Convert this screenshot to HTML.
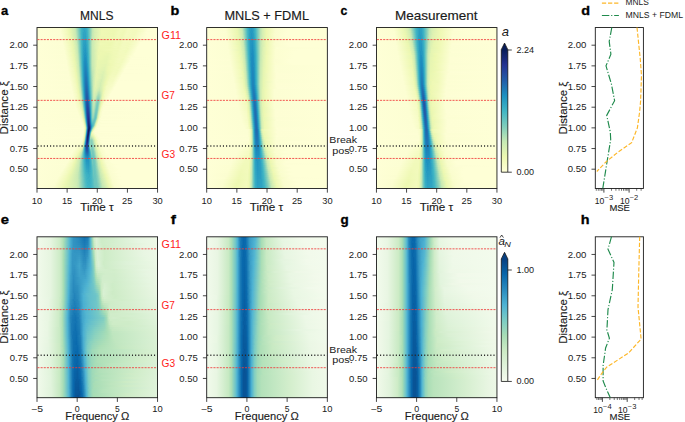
<!DOCTYPE html><html><head><meta charset="utf-8"><style>
html,body{margin:0;padding:0;background:#fff;width:685px;height:422px;overflow:hidden}
#wrap{position:relative;width:685px;height:422px}
.hm{position:absolute;overflow:hidden}
svg{position:absolute;left:0;top:0}
text{font-family:"Liberation Sans",sans-serif;fill:#1a1a1a;stroke:#1a1a1a;stroke-width:0px}
</style></head><body><div id="wrap">
<div class="hm" style="left:37px;top:27px;width:121px;height:161px"><div style="height:1px;background:linear-gradient(90deg,#feffd6 0.5px,#fcfed3 22.5px,#f4fbc0 28.5px,#edf8b1 31.5px,#d4eeb3 36.5px,#c2e7b4 38.5px,#52bcc2 43.5px,#40b5c4 44.5px,#33a7c2 46.5px,#3aaec3 49.5px,#46b8c3 50.5px,#71c8bd 52.5px,#c0e6b5 55.5px,#d4eeb3 57.5px,#eef8b3 64.5px,#eef8b3 78.5px,#f1fabb 83.5px,#f0f9b7 88.5px,#f4fbc1 91.5px,#f4fbc1 97.5px,#f2fabc 100.5px,#f7fcc6 104.5px,#f8fcca 107.5px,#feffd6 112.5px,#feffd6 120.5px)"></div><div style="height:1px;background:linear-gradient(90deg,#feffd6 0.5px,#fdfed4 22.5px,#f4fbc1 28.5px,#e9f7b1 32.5px,#ceecb3 37.5px,#c2e7b4 38.5px,#40b5c4 44.5px,#31a5c2 47.5px,#3aaec3 49.5px,#44b7c4 50.5px,#8cd2ba 53.5px,#c0e6b5 55.5px,#ceecb3 56.5px,#eef8b3 64.5px,#eff9b5 78.5px,#f1fabb 84.5px,#f0f9b8 88.5px,#f4fbc0 91.5px,#f4fbc0 97.5px,#f3fabd 100.5px,#f7fcc6 103.5px,#f9fdcc 107.5px,#feffd6 112.5px,#feffd6 120.5px)"></div><div style="height:1px;background:linear-gradient(90deg,#feffd6 0.5px,#fcfed3 23.5px,#eaf7b1 32.5px,#cfecb3 37.5px,#c4e8b4 38.5px,#40b5c4 44.5px,#32a6c2 46.5px,#39adc3 49.5px,#44b7c4 50.5px,#8cd2ba 53.5px,#c2e7b4 55.5px,#d5efb3 57.5px,#eef8b3 64.5px,#eff9b5 78.5px,#f1fabb 83.5px,#f1faba 88.5px,#f4fbc0 91.5px,#f3fabf 97.5px,#f3fabf 100.5px,#f6fbc5 104.5px,#fdfed5 110.5px,#feffd6 120.5px)"></div><div style="height:1px;background:linear-gradient(90deg,#feffd6 0.5px,#fcfed3 23.5px,#f1faba 30.5px,#e7f6b1 33.5px,#d0edb3 37.5px,#c6e9b4 38.5px,#9cd8b8 40.5px,#53bdc1 43.5px,#40b5c4 44.5px,#2fa4c2 47.5px,#39adc3 49.5px,#42b6c4 50.5px,#8cd2ba 53.5px,#c2e7b4 55.5px,#d5efb3 57.5px,#eff9b5 64.5px,#edf8b2 77.5px,#f1fabb 83.5px,#f0f9b7 87.5px,#f4fbc0 90.5px,#f3fabd 97.5px,#f3fabd 99.5px,#f7fcc6 102.5px,#f9fdcc 106.5px,#feffd6 110.5px,#feffd6 120.5px)"></div><div style="height:1px;background:linear-gradient(90deg,#feffd6 0.5px,#fcfed3 23.5px,#f1faba 30.5px,#e8f6b1 33.5px,#d1edb3 37.5px,#c8e9b4 38.5px,#9ed9b8 40.5px,#55bec1 43.5px,#40b5c4 44.5px,#2fa4c2 47.5px,#37acc3 49.5px,#42b6c4 50.5px,#8cd2ba 53.5px,#c2e7b4 55.5px,#d5efb3 57.5px,#eff9b5 64.5px,#eef8b3 77.5px,#f1fabb 82.5px,#f0f9b8 87.5px,#f4fbc0 90.5px,#f3fabf 96.5px,#f3fabf 99.5px,#f8fcca 105.5px,#fdfed5 109.5px,#feffd6 120.5px)"></div><div style="height:1px;background:linear-gradient(90deg,#feffd6 0.5px,#fcfed3 23.5px,#f4fbc0 29.5px,#edf8b1 32.5px,#d1edb3 37.5px,#c9eab4 38.5px,#a0dab8 40.5px,#40b5c4 44.5px,#31a5c2 46.5px,#31a5c2 48.5px,#40b5c4 50.5px,#8cd2ba 53.5px,#c2e7b4 55.5px,#cfecb3 56.5px,#eff9b5 64.5px,#eef8b3 77.5px,#f1faba 81.5px,#f0f9b7 86.5px,#f4fbc0 90.5px,#f3fabd 96.5px,#f3fabd 98.5px,#f6fbc5 101.5px,#f9fdcc 105.5px,#feffd6 109.5px,#feffd6 120.5px)"></div><div style="height:1px;background:linear-gradient(90deg,#feffd6 0.5px,#fdfed4 23.5px,#f0f9b7 31.5px,#e5f5b2 34.5px,#caeab4 38.5px,#a2dbb8 40.5px,#55bec1 43.5px,#40b5c4 44.5px,#31a5c2 46.5px,#2fa4c2 48.5px,#40b5c4 50.5px,#71c8bd 52.5px,#c4e8b4 55.5px,#d6efb3 57.5px,#eff9b5 64.5px,#edf8b2 76.5px,#f1faba 81.5px,#f0f9b8 86.5px,#f4fbc0 89.5px,#f3fabf 95.5px,#f3fabf 98.5px,#fafdcf 105.5px,#feffd6 110.5px,#feffd6 120.5px)"></div><div style="height:1px;background:linear-gradient(90deg,#feffd6 0.5px,#fcfed3 24.5px,#eaf7b1 33.5px,#cbebb4 38.5px,#bbe4b5 39.5px,#40b5c4 44.5px,#2fa4c2 46.5px,#2fa4c2 48.5px,#3fb4c4 50.5px,#71c8bd 52.5px,#c4e8b4 55.5px,#d6efb3 57.5px,#eff9b5 64.5px,#edf8b2 76.5px,#f1faba 81.5px,#eff9b6 85.5px,#f4fbc0 89.5px,#f3fabd 95.5px,#f3fabd 97.5px,#fafdce 104.5px,#feffd6 110.5px,#feffd6 120.5px)"></div><div style="height:1px;background:linear-gradient(90deg,#feffd6 0.5px,#fcfed3 24.5px,#f3fabd 30.5px,#ecf7b1 33.5px,#cdebb4 38.5px,#bde5b5 39.5px,#42b6c4 44.5px,#2fa4c2 46.5px,#2ea3c2 48.5px,#3fb4c4 50.5px,#71c8bd 52.5px,#c4e8b4 55.5px,#d6efb3 57.5px,#eff9b5 64.5px,#eef8b3 76.5px,#f1faba 80.5px,#f0f9b7 85.5px,#f4fbc0 88.5px,#f3fabf 94.5px,#f3fabf 97.5px,#fafdcf 104.5px,#feffd6 109.5px,#feffd6 120.5px)"></div><div style="height:1px;background:linear-gradient(90deg,#feffd6 0.5px,#fcfed3 24.5px,#f1faba 31.5px,#e8f6b1 34.5px,#ceecb3 38.5px,#c0e6b5 39.5px,#59bfc0 43.5px,#42b6c4 44.5px,#2fa4c2 46.5px,#2da2c2 48.5px,#3eb3c4 50.5px,#6fc7bd 52.5px,#aedfb6 54.5px,#c6e9b4 55.5px,#dbf1b2 58.5px,#eef8b3 63.5px,#eef8b3 76.5px,#f1faba 80.5px,#f0f9b8 85.5px,#f4fbc0 88.5px,#f3fabd 94.5px,#f4fbc0 97.5px,#fafdce 103.5px,#feffd6 109.5px,#feffd6 120.5px)"></div><div style="height:1px;background:linear-gradient(90deg,#feffd6 0.5px,#fcfed3 24.5px,#f4fbc0 30.5px,#edf8b1 33.5px,#d7efb3 37.5px,#c2e7b4 39.5px,#8ed3ba 41.5px,#42b6c4 44.5px,#2ea3c2 46.5px,#2da2c2 48.5px,#3eb3c4 50.5px,#6fc7bd 52.5px,#aedfb6 54.5px,#c6e9b4 55.5px,#dbf1b2 58.5px,#eef8b3 63.5px,#eff9b5 76.5px,#f1faba 81.5px,#eff9b6 84.5px,#f3fabf 88.5px,#f3fabf 93.5px,#f1fabb 95.5px,#f6fbc5 99.5px,#fbfdd0 103.5px,#feffd6 109.5px,#feffd6 120.5px)"></div><div style="height:1px;background:linear-gradient(90deg,#feffd6 0.5px,#fdfed4 24.5px,#f0f9b7 32.5px,#e5f5b2 35.5px,#d0edb3 38.5px,#c4e8b4 39.5px,#90d4b9 41.5px,#42b6c4 44.5px,#2ea3c2 46.5px,#2ca1c2 48.5px,#3db2c4 50.5px,#6fc7bd 52.5px,#c8e9b4 55.5px,#dbf1b2 58.5px,#eef8b3 63.5px,#edf8b2 75.5px,#f1faba 80.5px,#f0f9b7 84.5px,#f4fbc0 87.5px,#f3fabd 93.5px,#f4fbc0 96.5px,#fafdce 102.5px,#feffd6 108.5px,#feffd6 120.5px)"></div><div style="height:1px;background:linear-gradient(90deg,#feffd6 0.5px,#fcfed3 25.5px,#eaf7b1 34.5px,#d1edb3 38.5px,#c6e9b4 39.5px,#92d5b9 41.5px,#42b6c4 44.5px,#2da2c2 46.5px,#2b9fc2 48.5px,#3db2c4 50.5px,#6fc7bd 52.5px,#b0e0b6 54.5px,#c8e9b4 55.5px,#dbf1b2 58.5px,#eef8b3 63.5px,#eef8b3 75.5px,#f1faba 80.5px,#f0f9b8 84.5px,#f4fbc0 87.5px,#f3fabf 92.5px,#f3fabd 95.5px,#f6fbc5 98.5px,#fbfdd0 102.5px,#feffd6 108.5px,#feffd6 120.5px)"></div><div style="height:1px;background:linear-gradient(90deg,#feffd6 0.5px,#fcfed3 25.5px,#ecf7b1 34.5px,#d3eeb3 38.5px,#c8e9b4 39.5px,#b2e1b6 40.5px,#44b7c4 44.5px,#2da2c2 46.5px,#2b9fc2 48.5px,#3cb1c3 50.5px,#52bcc2 51.5px,#b0e0b6 54.5px,#c8e9b4 55.5px,#dcf1b2 58.5px,#eef8b3 63.5px,#eef8b3 75.5px,#f1faba 79.5px,#eff9b6 83.5px,#f3fabf 87.5px,#f3fabd 92.5px,#f4fbc0 95.5px,#f8fcca 100.5px,#feffd6 104.5px,#feffd6 120.5px)"></div><div style="height:1px;background:linear-gradient(90deg,#feffd6 0.5px,#fcfed3 25.5px,#f1faba 32.5px,#e8f6b1 35.5px,#caeab4 39.5px,#b4e2b6 40.5px,#44b7c4 44.5px,#2da2c2 46.5px,#2a9ec1 48.5px,#3cb1c3 50.5px,#52bcc2 51.5px,#b0e0b6 54.5px,#c9eab4 55.5px,#dcf1b2 58.5px,#eef8b3 63.5px,#eff9b5 75.5px,#f1faba 80.5px,#f0f9b7 83.5px,#f4fbc0 86.5px,#f4fbc0 91.5px,#f3fabd 94.5px,#f6fbc5 97.5px,#fbfdd0 101.5px,#feffd6 107.5px,#feffd6 120.5px)"></div><div style="height:1px;background:linear-gradient(90deg,#feffd6 0.5px,#fcfed3 25.5px,#eff9b6 33.5px,#e3f4b2 36.5px,#cbebb4 39.5px,#9cd8b8 41.5px,#44b7c4 44.5px,#2da2c2 46.5px,#2a9ec1 48.5px,#3bb0c3 50.5px,#6fc7bd 52.5px,#b2e1b6 54.5px,#c9eab4 55.5px,#dcf1b2 58.5px,#eef8b3 63.5px,#edf8b2 74.5px,#f1faba 79.5px,#f0f9b8 83.5px,#f3fabf 86.5px,#f3fabd 91.5px,#f4fbc0 94.5px,#f8fcca 99.5px,#feffd6 103.5px,#feffd6 120.5px)"></div><div style="height:1px;background:linear-gradient(90deg,#feffd6 0.5px,#fdfed4 25.5px,#f0f9b7 33.5px,#e5f5b2 36.5px,#cdebb4 39.5px,#b9e4b5 40.5px,#46b8c3 44.5px,#2ca1c2 46.5px,#299dc1 48.5px,#3bb0c3 50.5px,#6fc7bd 52.5px,#b2e1b6 54.5px,#caeab4 55.5px,#e6f5b2 60.5px,#eff9b5 63.5px,#edf8b1 73.5px,#f1faba 79.5px,#eff9b6 82.5px,#f3fabf 86.5px,#f2fabc 91.5px,#f9fdcc 99.5px,#feffd6 103.5px,#feffd6 120.5px)"></div><div style="height:1px;background:linear-gradient(90deg,#feffd6 0.5px,#fdfed4 25.5px,#f4fbc1 31.5px,#eaf7b1 35.5px,#d7efb3 38.5px,#bde5b5 40.5px,#46b8c3 44.5px,#2ca1c2 46.5px,#289cc1 48.5px,#3aaec3 50.5px,#50bbc2 51.5px,#b2e1b6 54.5px,#caeab4 55.5px,#ddf2b2 58.5px,#eff9b5 63.5px,#edf8b1 73.5px,#f1faba 78.5px,#f0f9b7 82.5px,#f3fabf 85.5px,#f3fabf 90.5px,#f2fabc 92.5px,#f6fbc5 96.5px,#feffd6 102.5px,#feffd6 120.5px)"></div><div style="height:1px;background:linear-gradient(90deg,#feffd6 0.5px,#fcfed3 26.5px,#ecf7b1 35.5px,#d9f0b3 38.5px,#c0e6b5 40.5px,#48b9c3 44.5px,#36abc3 45.5px,#269bc1 47.5px,#2da2c2 49.5px,#3aaec3 50.5px,#50bbc2 51.5px,#b4e2b6 54.5px,#caeab4 55.5px,#ddf2b2 58.5px,#eef8b3 63.5px,#edf8b1 73.5px,#f1faba 78.5px,#f0f9b8 82.5px,#f3fabf 85.5px,#f2fabc 90.5px,#f9fdcc 98.5px,#feffd6 102.5px,#feffd6 120.5px)"></div><div style="height:1px;background:linear-gradient(90deg,#feffd6 0.5px,#fcfed3 26.5px,#f1faba 33.5px,#e7f6b1 36.5px,#d0edb3 39.5px,#c0e6b5 40.5px,#48b9c3 44.5px,#2b9fc2 46.5px,#269bc1 48.5px,#39adc3 50.5px,#4ebbc2 51.5px,#b2e1b6 54.5px,#caeab4 55.5px,#ddf2b2 58.5px,#edf8b2 62.5px,#eff9b5 74.5px,#f0f9b8 78.5px,#f1faba 82.5px,#f4fbc0 88.5px,#f2fabc 91.5px,#f6fbc5 95.5px,#feffd6 101.5px,#feffd6 120.5px)"></div><div style="height:1px;background:linear-gradient(90deg,#feffd6 0.5px,#fcfed3 26.5px,#f1faba 33.5px,#e8f6b1 36.5px,#d0edb3 39.5px,#c2e7b4 40.5px,#48b9c3 44.5px,#2b9fc2 46.5px,#259ac1 48.5px,#37acc3 50.5px,#4ebbc2 51.5px,#b2e1b6 54.5px,#caeab4 55.5px,#ddf2b2 58.5px,#edf8b2 62.5px,#edf8b2 73.5px,#f1faba 77.5px,#f0f9b7 81.5px,#f3fabf 84.5px,#f2fabc 89.5px,#f8fcc9 96.5px,#feffd6 100.5px,#feffd6 120.5px)"></div><div style="height:1px;background:linear-gradient(90deg,#feffd6 0.5px,#fcfed3 26.5px,#f4fbc0 32.5px,#edf8b1 35.5px,#d1edb3 39.5px,#c4e8b4 40.5px,#48b9c3 44.5px,#2a9ec1 46.5px,#2498c1 48.5px,#36abc3 50.5px,#4cbac2 51.5px,#b2e1b6 54.5px,#caeab4 55.5px,#ddf2b2 58.5px,#edf8b2 62.5px,#eef8b3 73.5px,#f0f9b8 78.5px,#f0f9b8 81.5px,#f3fabd 84.5px,#f3fabf 88.5px,#f1fabb 90.5px,#f9fdcb 96.5px,#feffd6 100.5px,#feffd6 120.5px)"></div><div style="height:1px;background:linear-gradient(90deg,#feffd6 0.5px,#fdfed4 26.5px,#f0f9b7 34.5px,#e3f4b2 37.5px,#c6e9b4 40.5px,#48b9c3 44.5px,#2a9ec1 46.5px,#2397c1 48.5px,#36abc3 50.5px,#4ab9c3 51.5px,#b2e1b6 54.5px,#caeab4 55.5px,#ecf7b1 61.5px,#eff9b5 73.5px,#f1faba 81.5px,#f4fbc0 87.5px,#f2fabc 90.5px,#fafdce 96.5px,#feffd6 100.5px,#feffd6 120.5px)"></div><div style="height:1px;background:linear-gradient(90deg,#feffd6 0.5px,#fcfed3 27.5px,#f0f9b7 34.5px,#e5f5b2 37.5px,#c6e9b4 40.5px,#89d1ba 42.5px,#4ab9c3 44.5px,#36abc3 45.5px,#2397c1 47.5px,#2296c1 48.5px,#35aac3 50.5px,#4ab9c3 51.5px,#b2e1b6 54.5px,#caeab4 55.5px,#ecf7b1 61.5px,#eff9b5 73.5px,#f0f9b7 78.5px,#f0f9b7 80.5px,#f3fabf 83.5px,#f1fabb 89.5px,#feffd6 99.5px,#feffd6 120.5px)"></div><div style="height:1px;background:linear-gradient(90deg,#feffd6 0.5px,#fcfed3 27.5px,#eaf7b1 36.5px,#d4eeb3 39.5px,#c8e9b4 40.5px,#4ab9c3 44.5px,#299dc1 46.5px,#2296c1 48.5px,#34a9c3 50.5px,#48b9c3 51.5px,#b2e1b6 54.5px,#caeab4 55.5px,#ecf7b1 61.5px,#edf8b1 72.5px,#f0f9b8 76.5px,#f0f9b8 80.5px,#f3fabd 83.5px,#f3fabd 87.5px,#f2fabc 89.5px,#fafdce 95.5px,#feffd6 99.5px,#feffd6 120.5px)"></div><div style="height:1px;background:linear-gradient(90deg,#feffd6 0.5px,#fcfed3 27.5px,#f1faba 34.5px,#e6f5b2 37.5px,#c9eab4 40.5px,#8cd2ba 42.5px,#4ab9c3 44.5px,#299dc1 46.5px,#2195c0 48.5px,#33a7c2 50.5px,#48b9c3 51.5px,#b2e1b6 54.5px,#c9eab4 55.5px,#e8f6b1 60.5px,#edf8b2 63.5px,#ecf7b1 68.5px,#f0f9b7 77.5px,#f1faba 80.5px,#f3fabf 86.5px,#f1fabb 88.5px,#f9fdcc 94.5px,#feffd6 98.5px,#feffd6 120.5px)"></div><div style="height:1px;background:linear-gradient(90deg,#feffd6 0.5px,#fcfed3 27.5px,#f1faba 34.5px,#e6f5b2 37.5px,#caeab4 40.5px,#b0e0b6 41.5px,#4cbac2 44.5px,#36abc3 45.5px,#2195c0 47.5px,#259ac1 49.5px,#32a6c2 50.5px,#46b8c3 51.5px,#b2e1b6 54.5px,#c9eab4 55.5px,#e8f6b1 60.5px,#edf8b1 63.5px,#eaf7b1 71.5px,#f0f9b7 76.5px,#f0f9b7 79.5px,#f3fabd 82.5px,#f3fabd 86.5px,#f4fbc0 89.5px,#f8fcca 93.5px,#feffd6 97.5px,#feffd6 120.5px)"></div><div style="height:1px;background:linear-gradient(90deg,#feffd6 0.5px,#fdfed4 27.5px,#f1fabb 34.5px,#edf8b1 36.5px,#d7efb3 39.5px,#cbebb4 40.5px,#b2e1b6 41.5px,#4cbac2 44.5px,#289cc1 46.5px,#1f93c0 48.5px,#32a6c2 50.5px,#44b7c4 51.5px,#b2e1b6 54.5px,#c9eab4 55.5px,#e8f6b1 60.5px,#edf8b1 63.5px,#eaf7b1 71.5px,#f0f9b7 76.5px,#f0f9b8 79.5px,#f3fabd 82.5px,#f3fabd 88.5px,#feffd6 97.5px,#feffd6 120.5px)"></div><div style="height:1px;background:linear-gradient(90deg,#feffd6 0.5px,#fcfed3 28.5px,#edf8b1 36.5px,#d7efb3 39.5px,#cdebb4 40.5px,#b4e2b6 41.5px,#4ebbc2 44.5px,#36abc3 45.5px,#2094c0 47.5px,#1d91c0 48.5px,#31a5c2 50.5px,#44b7c4 51.5px,#b0e0b6 54.5px,#c9eab4 55.5px,#edf8b1 61.5px,#e9f7b1 70.5px,#eff9b6 76.5px,#f1faba 79.5px,#f3fabd 85.5px,#f4fbc0 88.5px,#fafdcf 93.5px,#feffd6 97.5px,#feffd6 120.5px)"></div><div style="height:1px;background:linear-gradient(90deg,#feffd6 0.5px,#fcfed3 28.5px,#f0f9b7 35.5px,#e2f4b2 38.5px,#cdebb4 40.5px,#b7e3b6 41.5px,#4ebbc2 44.5px,#36abc3 45.5px,#1f93c0 47.5px,#2397c1 49.5px,#42b6c4 51.5px,#b0e0b6 54.5px,#c9eab4 55.5px,#edf8b1 61.5px,#e8f6b1 70.5px,#eff9b6 75.5px,#f0f9b7 78.5px,#f3fabd 82.5px,#f3fabd 87.5px,#fcfed1 93.5px,#feffd6 99.5px,#feffd6 120.5px)"></div><div style="height:1px;background:linear-gradient(90deg,#feffd6 0.5px,#fcfed3 28.5px,#f3fabd 34.5px,#e9f7b1 37.5px,#ceecb3 40.5px,#b9e4b5 41.5px,#4ebbc2 44.5px,#36abc3 45.5px,#1f93c0 47.5px,#1d90c0 48.5px,#2296c1 49.5px,#40b5c4 51.5px,#b0e0b6 54.5px,#c9eab4 55.5px,#edf8b1 61.5px,#e8f6b1 70.5px,#eff9b6 75.5px,#f0f9b8 78.5px,#f3fabd 84.5px,#f4fbc0 87.5px,#f8fcca 91.5px,#fdfed5 94.5px,#feffd6 120.5px)"></div><div style="height:1px;background:linear-gradient(90deg,#feffd6 0.5px,#fcfed3 28.5px,#f3fabd 34.5px,#eaf7b1 37.5px,#cfecb3 40.5px,#bbe4b5 41.5px,#50bbc2 44.5px,#36abc3 45.5px,#1d91c0 47.5px,#1d8ebf 48.5px,#2195c0 49.5px,#40b5c4 51.5px,#b0e0b6 54.5px,#c9eab4 55.5px,#edf8b1 61.5px,#e7f6b1 69.5px,#eff9b5 75.5px,#f3fabf 82.5px,#f3fabd 86.5px,#fafdce 91.5px,#feffd6 95.5px,#feffd6 120.5px)"></div><div style="height:1px;background:linear-gradient(90deg,#feffd6 0.5px,#fdfed4 28.5px,#f3fabf 34.5px,#eaf7b1 37.5px,#d0edb3 40.5px,#bde5b5 41.5px,#52bcc2 44.5px,#36abc3 45.5px,#1d91c0 47.5px,#1d8dbe 48.5px,#2094c0 49.5px,#3fb4c4 51.5px,#b0e0b6 54.5px,#c9eab4 55.5px,#ecf7b1 61.5px,#e7f6b1 69.5px,#eff9b5 75.5px,#f3fabf 82.5px,#f1fabb 85.5px,#fdfed5 93.5px,#feffd6 120.5px)"></div><div style="height:1px;background:linear-gradient(90deg,#feffd6 0.5px,#fcfed3 29.5px,#ecf7b1 37.5px,#d1edb3 40.5px,#c0e6b5 41.5px,#52bcc2 44.5px,#36abc3 45.5px,#1d90c0 47.5px,#1d8dbe 48.5px,#1f93c0 49.5px,#3eb3c4 51.5px,#b0e0b6 54.5px,#c8e9b4 55.5px,#e9f7b1 60.5px,#e9f7b1 63.5px,#e7f6b1 69.5px,#eff9b5 73.5px,#f0f9b8 77.5px,#f3fabf 82.5px,#f3fabd 85.5px,#feffd6 93.5px,#feffd6 120.5px)"></div><div style="height:1px;background:linear-gradient(90deg,#feffd6 0.5px,#fcfed3 29.5px,#f1fabb 35.5px,#edf8b1 37.5px,#d3eeb3 40.5px,#c2e7b4 41.5px,#53bdc1 44.5px,#37acc3 45.5px,#269bc1 46.5px,#1d8ebf 47.5px,#1e8bbd 48.5px,#1d91c0 49.5px,#3eb3c4 51.5px,#b0e0b6 54.5px,#c8e9b4 55.5px,#e9f7b1 60.5px,#e7f6b1 69.5px,#eff9b5 73.5px,#eff9b6 76.5px,#f2fabc 79.5px,#f3fabf 85.5px,#feffd6 93.5px,#feffd6 120.5px)"></div><div style="height:1px;background:linear-gradient(90deg,#feffd6 0.5px,#fcfed3 29.5px,#f0f9b7 36.5px,#e7f6b1 38.5px,#d4eeb3 40.5px,#c4e8b4 41.5px,#53bdc1 44.5px,#37acc3 45.5px,#269bc1 46.5px,#1d8ebf 47.5px,#1e8abd 48.5px,#1d91c0 49.5px,#3db2c4 51.5px,#b0e0b6 54.5px,#c8e9b4 55.5px,#e9f7b1 60.5px,#e7f6b1 69.5px,#eff9b5 73.5px,#f0f9b7 76.5px,#f3fabf 81.5px,#f2fabc 84.5px,#feffd6 92.5px,#feffd6 120.5px)"></div><div style="height:1px;background:linear-gradient(90deg,#feffd6 0.5px,#fcfed3 29.5px,#f3fabd 35.5px,#e8f6b1 38.5px,#c6e9b4 41.5px,#55bec1 44.5px,#37acc3 45.5px,#269bc1 46.5px,#1d8dbe 47.5px,#1e88bc 48.5px,#1d90c0 49.5px,#299dc1 50.5px,#3db2c4 51.5px,#b0e0b6 54.5px,#c8e9b4 55.5px,#e9f7b1 60.5px,#e7f6b1 69.5px,#eef8b3 73.5px,#f0f9b8 76.5px,#f1fabb 82.5px,#f9fdcb 88.5px,#feffd6 91.5px,#feffd6 120.5px)"></div><div style="height:1px;background:linear-gradient(90deg,#feffd6 0.5px,#fdfed4 29.5px,#f0f9b8 36.5px,#e1f3b2 39.5px,#c8e9b4 41.5px,#57bec1 44.5px,#39adc3 45.5px,#269bc1 46.5px,#1d8dbe 47.5px,#1e88bc 48.5px,#1d8ebf 49.5px,#289cc1 50.5px,#3cb1c3 51.5px,#5fc1c0 52.5px,#aedfb6 54.5px,#c8e9b4 55.5px,#e9f7b1 60.5px,#e5f5b2 68.5px,#eef8b3 73.5px,#f3fabd 80.5px,#f2fabc 83.5px,#fdfed5 90.5px,#feffd6 120.5px)"></div><div style="height:1px;background:linear-gradient(90deg,#feffd6 0.5px,#fdfed4 29.5px,#f3fabf 35.5px,#e9f7b1 38.5px,#d7efb3 40.5px,#c9eab4 41.5px,#7ecdbb 43.5px,#57bec1 44.5px,#39adc3 45.5px,#269bc1 46.5px,#1d8dbe 47.5px,#1e86bb 48.5px,#1d8dbe 49.5px,#289cc1 50.5px,#3bb0c3 51.5px,#aedfb6 54.5px,#c8e9b4 55.5px,#e9f7b1 60.5px,#e5f5b2 68.5px,#eef8b3 73.5px,#f3fabd 80.5px,#f3fabf 83.5px,#f9fdcc 87.5px,#feffd6 90.5px,#feffd6 120.5px)"></div><div style="height:1px;background:linear-gradient(90deg,#feffd6 0.5px,#fcfed3 30.5px,#eaf7b1 38.5px,#caeab4 41.5px,#a9ddb7 42.5px,#59bfc0 44.5px,#3aaec3 45.5px,#269bc1 46.5px,#1e8bbd 47.5px,#1e85ba 48.5px,#1e8bbd 49.5px,#269bc1 50.5px,#3aaec3 51.5px,#aedfb6 54.5px,#c6e9b4 55.5px,#e9f7b1 60.5px,#e5f5b2 68.5px,#edf8b2 71.5px,#f0f9b8 75.5px,#f2fabc 80.5px,#f2fabc 82.5px,#fdfed5 89.5px,#feffd6 120.5px)"></div><div style="height:1px;background:linear-gradient(90deg,#feffd6 0.5px,#fcfed3 30.5px,#f1fabb 36.5px,#ecf7b1 38.5px,#cbebb4 41.5px,#aedfb6 42.5px,#5bc0c0 44.5px,#3aaec3 45.5px,#269bc1 46.5px,#1e8bbd 47.5px,#1e83ba 48.5px,#1e8abd 49.5px,#2498c1 50.5px,#39adc3 51.5px,#85cfba 53.5px,#abdeb7 54.5px,#c4e8b4 55.5px,#e6f5b2 59.5px,#e9f7b1 61.5px,#e2f4b2 67.5px,#edf8b2 71.5px,#eff9b5 74.5px,#f3fabd 78.5px,#f1faba 81.5px,#feffd6 89.5px,#feffd6 120.5px)"></div><div style="height:1px;background:linear-gradient(90deg,#feffd6 0.5px,#fcfed3 30.5px,#f4fbc1 35.5px,#ecf7b1 38.5px,#cdebb4 41.5px,#b0e0b6 42.5px,#5dc0c0 44.5px,#3bb0c3 45.5px,#269bc1 46.5px,#1e8abd 47.5px,#1f82b9 48.5px,#1e88bc 49.5px,#2397c1 50.5px,#37acc3 51.5px,#59bfc0 52.5px,#a9ddb7 54.5px,#c4e8b4 55.5px,#e6f5b2 59.5px,#e8f6b1 61.5px,#e2f4b2 67.5px,#edf8b2 71.5px,#f0f9b7 74.5px,#f2fabc 79.5px,#f2fabc 81.5px,#feffd6 88.5px,#feffd6 120.5px)"></div><div style="height:1px;background:linear-gradient(90deg,#feffd6 0.5px,#fdfed4 30.5px,#f3fabd 36.5px,#edf8b1 38.5px,#ceecb3 41.5px,#b2e1b6 42.5px,#3bb0c3 45.5px,#269bc1 46.5px,#1e8abd 47.5px,#1f82b9 48.5px,#1e86bb 49.5px,#2296c1 50.5px,#36abc3 51.5px,#57bec1 52.5px,#a9ddb7 54.5px,#c2e7b4 55.5px,#e6f5b2 59.5px,#e2f4b2 67.5px,#edf8b2 71.5px,#f0f9b8 74.5px,#f1fabb 79.5px,#f5fbc4 83.5px,#fdfed5 87.5px,#feffd6 120.5px)"></div><div style="height:1px;background:linear-gradient(90deg,#feffd6 0.5px,#fdfed4 30.5px,#f3fabf 36.5px,#edf8b2 38.5px,#dcf1b2 40.5px,#cfecb3 41.5px,#b4e2b6 42.5px,#3cb1c3 45.5px,#269bc1 46.5px,#1e8abd 47.5px,#1f80b8 48.5px,#1e85ba 49.5px,#2195c0 50.5px,#35aac3 51.5px,#55bec1 52.5px,#a7dcb7 54.5px,#c0e6b5 55.5px,#e6f5b2 59.5px,#e1f3b2 67.5px,#edf8b1 70.5px,#eff9b5 73.5px,#f2fabc 76.5px,#f1fabb 80.5px,#feffd6 87.5px,#feffd6 120.5px)"></div><div style="height:1px;background:linear-gradient(90deg,#feffd6 0.5px,#fcfed3 31.5px,#eef8b3 38.5px,#d0edb3 41.5px,#b7e3b6 42.5px,#3db2c4 45.5px,#289cc1 46.5px,#1e8abd 47.5px,#1f7eb7 48.5px,#1e83ba 49.5px,#2094c0 50.5px,#34a9c3 51.5px,#53bdc1 52.5px,#a5dcb7 54.5px,#bde5b5 55.5px,#dff2b2 58.5px,#e7f6b1 60.5px,#ddf2b2 66.5px,#ecf7b1 70.5px,#eff9b6 73.5px,#f2fabc 77.5px,#f3fabd 80.5px,#feffd6 87.5px,#feffd6 120.5px)"></div><div style="height:1px;background:linear-gradient(90deg,#feffd6 0.5px,#fcfed3 31.5px,#f1fabb 37.5px,#e8f6b1 39.5px,#d1edb3 41.5px,#b9e4b5 42.5px,#3eb3c4 45.5px,#289cc1 46.5px,#1e88bc 47.5px,#1f7eb7 48.5px,#1f82b9 49.5px,#1d91c0 50.5px,#32a6c2 51.5px,#52bcc2 52.5px,#a2dbb8 54.5px,#bde5b5 55.5px,#dff2b2 58.5px,#e7f6b1 60.5px,#ddf2b2 66.5px,#ecf7b1 70.5px,#f3fabd 76.5px,#f1fabb 79.5px,#f9fdcb 83.5px,#feffd6 86.5px,#feffd6 120.5px)"></div><div style="height:1px;background:linear-gradient(90deg,#feffd6 0.5px,#fcfed3 31.5px,#f1fabb 37.5px,#e9f7b1 39.5px,#d3eeb3 41.5px,#bde5b5 42.5px,#3eb3c4 45.5px,#289cc1 46.5px,#1e88bc 47.5px,#1f7db6 48.5px,#1f80b8 49.5px,#1d90c0 50.5px,#31a5c2 51.5px,#50bbc2 52.5px,#a2dbb8 54.5px,#bbe4b5 55.5px,#d5efb3 57.5px,#e6f5b2 59.5px,#ddf2b2 66.5px,#ecf7b1 70.5px,#f2fabc 75.5px,#f3fabd 79.5px,#fdfed5 85.5px,#feffd6 120.5px)"></div><div style="height:1px;background:linear-gradient(90deg,#feffd6 0.5px,#fdfed4 31.5px,#f2fabc 37.5px,#eaf7b1 39.5px,#d4eeb3 41.5px,#c0e6b5 42.5px,#3fb4c4 45.5px,#299dc1 46.5px,#1e88bc 47.5px,#1f7bb6 48.5px,#1f7eb7 49.5px,#1d8ebf 50.5px,#2fa4c2 51.5px,#4ebbc2 52.5px,#a0dab8 54.5px,#bbe4b5 55.5px,#d6efb3 57.5px,#e6f5b2 59.5px,#dbf1b2 65.5px,#edf8b2 71.5px,#f2fabc 74.5px,#f2fabc 78.5px,#feffd6 85.5px,#feffd6 120.5px)"></div><div style="height:1px;background:linear-gradient(90deg,#feffd6 0.5px,#fdfed4 31.5px,#f3fabd 37.5px,#ecf7b1 39.5px,#d5efb3 41.5px,#c2e7b4 42.5px,#40b5c4 45.5px,#299dc1 46.5px,#1e88bc 47.5px,#1f7bb6 48.5px,#1f7db6 49.5px,#1d8dbe 50.5px,#2ea3c2 51.5px,#4cbac2 52.5px,#9ed9b8 54.5px,#b9e4b5 55.5px,#cbebb4 56.5px,#e1f3b2 58.5px,#e6f5b2 60.5px,#dbf1b2 65.5px,#eff9b5 71.5px,#f3fabf 75.5px,#f3fabf 78.5px,#feffd6 84.5px,#feffd6 120.5px)"></div><div style="height:1px;background:linear-gradient(90deg,#feffd6 0.5px,#fcfed3 32.5px,#f0f9b8 38.5px,#edf8b1 39.5px,#d6efb3 41.5px,#c4e8b4 42.5px,#42b6c4 45.5px,#2a9ec1 46.5px,#1e88bc 47.5px,#1f7ab5 48.5px,#1f7ab5 49.5px,#1e8bbd 50.5px,#2ca1c2 51.5px,#4ab9c3 52.5px,#9cd8b8 54.5px,#b9e4b5 55.5px,#d7efb3 57.5px,#e7f6b1 59.5px,#daf0b3 65.5px,#edf8b2 70.5px,#f3fabd 73.5px,#f3fabd 77.5px,#feffd6 84.5px,#feffd6 120.5px)"></div><div style="height:1px;background:linear-gradient(90deg,#feffd6 0.5px,#fcfed3 32.5px,#f3fabf 37.5px,#edf8b2 39.5px,#d9f0b3 41.5px,#c8e9b4 42.5px,#a0dab8 43.5px,#44b7c4 45.5px,#2a9ec1 46.5px,#1e88bc 47.5px,#1f78b4 48.5px,#1f78b4 49.5px,#1e88bc 50.5px,#2b9fc2 51.5px,#48b9c3 52.5px,#9cd8b8 54.5px,#cbebb4 56.5px,#e2f4b2 58.5px,#e6f5b2 60.5px,#daf0b3 65.5px,#eef8b3 70.5px,#f3fabd 73.5px,#f4fbc0 77.5px,#feffd6 83.5px,#feffd6 120.5px)"></div><div style="height:1px;background:linear-gradient(90deg,#feffd6 0.5px,#fcfed3 32.5px,#f4fbc0 37.5px,#edf8b2 39.5px,#daf0b3 41.5px,#c9eab4 42.5px,#a2dbb8 43.5px,#46b8c3 45.5px,#2b9fc2 46.5px,#1e88bc 47.5px,#1f78b4 48.5px,#2076b3 49.5px,#1e86bb 50.5px,#2a9ec1 51.5px,#46b8c3 52.5px,#99d7b8 54.5px,#b7e3b6 55.5px,#cbebb4 56.5px,#e2f4b2 58.5px,#e5f5b2 60.5px,#daf0b3 65.5px,#eff9b5 70.5px,#f4fbc0 74.5px,#f5fbc2 77.5px,#feffd6 83.5px,#feffd6 120.5px)"></div><div style="height:1px;background:linear-gradient(90deg,#feffd6 0.5px,#fdfed4 32.5px,#f4fbc1 37.5px,#e7f6b1 40.5px,#caeab4 42.5px,#a5dcb7 43.5px,#48b9c3 45.5px,#2b9fc2 46.5px,#1e88bc 47.5px,#2076b3 48.5px,#2076b3 49.5px,#1e85ba 50.5px,#299dc1 51.5px,#44b7c4 52.5px,#97d6b9 54.5px,#b7e3b6 55.5px,#cbebb4 56.5px,#e2f4b2 58.5px,#e3f4b2 60.5px,#d7efb3 64.5px,#edf8b1 69.5px,#f3fabf 72.5px,#f4fbc0 76.5px,#feffd6 82.5px,#feffd6 120.5px)"></div><div style="height:1px;background:linear-gradient(90deg,#feffd6 0.5px,#fdfed4 32.5px,#f2fabc 38.5px,#e8f6b1 40.5px,#cbebb4 42.5px,#a9ddb7 43.5px,#4ab9c3 45.5px,#2ca1c2 46.5px,#1e88bc 47.5px,#2076b3 48.5px,#2075b3 49.5px,#1e83ba 50.5px,#289cc1 51.5px,#42b6c4 52.5px,#97d6b9 54.5px,#cbebb4 56.5px,#e3f4b2 58.5px,#e3f4b2 60.5px,#d6efb3 64.5px,#eef8b3 69.5px,#f3fabf 72.5px,#f5fbc2 76.5px,#fdfed5 81.5px,#feffd6 120.5px)"></div><div style="height:1px;background:linear-gradient(90deg,#feffd6 0.5px,#fcfed3 33.5px,#eff9b6 39.5px,#ddf2b2 41.5px,#ceecb3 42.5px,#abdeb7 43.5px,#4cbac2 45.5px,#2da2c2 46.5px,#1e88bc 47.5px,#2075b3 48.5px,#2073b2 49.5px,#1f80b8 50.5px,#259ac1 51.5px,#40b5c4 52.5px,#95d5b9 54.5px,#b4e2b6 55.5px,#cbebb4 56.5px,#e3f4b2 58.5px,#dbf1b2 62.5px,#d6efb3 64.5px,#ecf7b1 68.5px,#f3fabf 71.5px,#f4fbc1 75.5px,#feffd6 81.5px,#feffd6 120.5px)"></div><div style="height:1px;background:linear-gradient(90deg,#feffd6 0.5px,#fcfed3 33.5px,#f3fabd 38.5px,#eaf7b1 40.5px,#cfecb3 42.5px,#aedfb6 43.5px,#4ebbc2 45.5px,#2da2c2 46.5px,#1e88bc 47.5px,#2075b3 48.5px,#2072b1 49.5px,#1f7eb7 50.5px,#2498c1 51.5px,#3eb3c4 52.5px,#92d5b9 54.5px,#b4e2b6 55.5px,#cdebb4 56.5px,#e3f4b2 58.5px,#ddf2b2 61.5px,#d5efb3 63.5px,#e2f4b2 66.5px,#edf8b1 68.5px,#f4fbc0 71.5px,#f5fbc4 75.5px,#feffd6 80.5px,#feffd6 120.5px)"></div><div style="height:1px;background:linear-gradient(90deg,#feffd6 0.5px,#fcfed3 33.5px,#f3fabf 38.5px,#ecf7b1 40.5px,#d0edb3 42.5px,#b2e1b6 43.5px,#52bcc2 45.5px,#2ea3c2 46.5px,#1e88bc 47.5px,#2073b2 48.5px,#2070b0 49.5px,#1f7db6 50.5px,#2397c1 51.5px,#3db2c4 52.5px,#90d4b9 54.5px,#b2e1b6 55.5px,#cdebb4 56.5px,#e3f4b2 58.5px,#dcf1b2 61.5px,#d4eeb3 63.5px,#eef8b3 68.5px,#f4fbc0 71.5px,#f6fbc5 75.5px,#feffd6 80.5px,#feffd6 120.5px)"></div><div style="height:1px;background:linear-gradient(90deg,#feffd6 0.5px,#fdfed4 33.5px,#f4fbc0 38.5px,#edf8b1 40.5px,#d3eeb3 42.5px,#b4e2b6 43.5px,#53bdc1 45.5px,#2fa4c2 46.5px,#1e8abd 47.5px,#2073b2 48.5px,#206eb0 49.5px,#1f7bb6 50.5px,#2195c0 51.5px,#3cb1c3 52.5px,#90d4b9 54.5px,#b2e1b6 55.5px,#cdebb4 56.5px,#e3f4b2 58.5px,#dbf1b2 61.5px,#d4eeb3 63.5px,#eaf7b1 67.5px,#f4fbc1 71.5px,#f7fcc7 75.5px,#feffd6 79.5px,#feffd6 120.5px)"></div><div style="height:1px;background:linear-gradient(90deg,#feffd6 0.5px,#fdfed4 33.5px,#f4fbc1 38.5px,#edf8b2 40.5px,#d4eeb3 42.5px,#b9e4b5 43.5px,#55bec1 45.5px,#31a5c2 46.5px,#1e8abd 47.5px,#2073b2 48.5px,#216daf 49.5px,#1f78b4 50.5px,#2094c0 51.5px,#3bb0c3 52.5px,#8ed3ba 54.5px,#b2e1b6 55.5px,#cdebb4 56.5px,#dbf1b2 57.5px,#e2f4b2 58.5px,#d9f0b3 61.5px,#d3eeb3 63.5px,#ecf7b1 67.5px,#f4fbc1 70.5px,#f8fcc9 75.5px,#feffd6 79.5px,#feffd6 120.5px)"></div><div style="height:1px;background:linear-gradient(90deg,#feffd6 0.5px,#fcfed3 34.5px,#f1fabb 39.5px,#e5f5b2 41.5px,#d6efb3 42.5px,#bde5b5 43.5px,#59bfc0 45.5px,#32a6c2 46.5px,#1e8bbd 47.5px,#2072b1 48.5px,#216bae 49.5px,#2076b3 50.5px,#1d91c0 51.5px,#39adc3 52.5px,#8cd2ba 54.5px,#ceecb3 56.5px,#dcf1b2 57.5px,#e2f4b2 58.5px,#d3eeb3 63.5px,#edf8b2 67.5px,#f4fbc0 69.5px,#f7fcc7 74.5px,#feffd6 78.5px,#feffd6 120.5px)"></div><div style="height:1px;background:linear-gradient(90deg,#feffd6 0.5px,#fcfed3 34.5px,#f5fbc2 38.5px,#eff9b5 40.5px,#d7efb3 42.5px,#c2e7b4 43.5px,#5dc0c0 45.5px,#34a9c3 46.5px,#1e8bbd 47.5px,#2072b1 48.5px,#216aad 49.5px,#2073b2 50.5px,#1d90c0 51.5px,#37acc3 52.5px,#89d1ba 54.5px,#b0e0b6 55.5px,#ceecb3 56.5px,#dcf1b2 57.5px,#e0f3b2 59.5px,#d1edb3 62.5px,#d9f0b3 64.5px,#eff9b5 67.5px,#f4fbc1 69.5px,#f8fcca 74.5px,#feffd6 77.5px,#feffd6 120.5px)"></div><div style="height:1px;background:linear-gradient(90deg,#feffd6 0.5px,#fcfed3 34.5px,#f5fbc4 38.5px,#e8f6b1 41.5px,#c6e9b4 43.5px,#61c2bf 45.5px,#35aac3 46.5px,#1d8dbe 47.5px,#2072b1 48.5px,#2168ad 49.5px,#2072b1 50.5px,#1d8dbe 51.5px,#35aac3 52.5px,#87d0ba 54.5px,#b0e0b6 55.5px,#ceecb3 56.5px,#dcf1b2 57.5px,#ddf2b2 59.5px,#cfecb3 62.5px,#d9f0b3 64.5px,#e9f7b1 66.5px,#f4fbc1 69.5px,#f9fdcc 74.5px,#feffd6 77.5px,#feffd6 120.5px)"></div><div style="height:1px;background:linear-gradient(90deg,#feffd6 0.5px,#fdfed4 34.5px,#f3fabf 39.5px,#e9f7b1 41.5px,#c9eab4 43.5px,#36abc3 46.5px,#1d8dbe 47.5px,#2072b1 48.5px,#2166ac 49.5px,#206eb0 50.5px,#1e8abd 51.5px,#34a9c3 52.5px,#5bc0c0 53.5px,#b0e0b6 55.5px,#ceecb3 56.5px,#dbf1b2 57.5px,#dff2b2 58.5px,#cbebb4 62.5px,#e0f3b2 65.5px,#eaf7b1 66.5px,#f5fbc2 69.5px,#f9fdcb 73.5px,#feffd6 77.5px,#feffd6 120.5px)"></div><div style="height:1px;background:linear-gradient(90deg,#feffd6 0.5px,#fdfed4 34.5px,#f4fbc0 39.5px,#eaf7b1 41.5px,#cbebb4 43.5px,#9ed9b8 44.5px,#39adc3 46.5px,#1d8ebf 47.5px,#2072b1 48.5px,#2165ab 49.5px,#216daf 50.5px,#1e88bc 51.5px,#32a6c2 52.5px,#59bfc0 53.5px,#aedfb6 55.5px,#ceecb3 56.5px,#dbf1b2 57.5px,#ddf2b2 58.5px,#c8e9b4 62.5px,#e0f3b2 65.5px,#ecf7b1 66.5px,#f4fbc0 68.5px,#feffd6 76.5px,#feffd6 120.5px)"></div><div style="height:1px;background:linear-gradient(90deg,#feffd6 0.5px,#fcfed3 35.5px,#f4fbc1 39.5px,#edf8b1 41.5px,#cdebb4 43.5px,#a5dcb7 44.5px,#3bb0c3 46.5px,#1d90c0 47.5px,#2070b0 48.5px,#2163aa 49.5px,#216aad 50.5px,#1e85ba 51.5px,#2fa4c2 52.5px,#55bec1 53.5px,#aedfb6 55.5px,#ceecb3 56.5px,#daf0b3 57.5px,#d6efb3 59.5px,#c4e8b4 61.5px,#c2e7b4 62.5px,#e1f3b2 65.5px,#edf8b2 66.5px,#f4fbc1 68.5px,#feffd6 75.5px,#feffd6 120.5px)"></div><div style="height:1px;background:linear-gradient(90deg,#feffd6 0.5px,#fcfed3 35.5px,#f1fabb 40.5px,#edf8b2 41.5px,#cfecb3 43.5px,#a9ddb7 44.5px,#3cb1c3 46.5px,#1d91c0 47.5px,#2072b1 48.5px,#2262aa 49.5px,#2168ad 50.5px,#1f82b9 51.5px,#2ea3c2 52.5px,#53bdc1 53.5px,#aedfb6 55.5px,#ceecb3 56.5px,#d9f0b3 57.5px,#d3eeb3 59.5px,#bbe4b5 61.5px,#bbe4b5 62.5px,#eff9b5 66.5px,#f5fbc2 68.5px,#feffd6 75.5px,#feffd6 120.5px)"></div><div style="height:1px;background:linear-gradient(90deg,#feffd6 0.5px,#fcfed3 35.5px,#f5fbc4 39.5px,#eef8b3 41.5px,#e3f4b2 42.5px,#d1edb3 43.5px,#aedfb6 44.5px,#3eb3c4 46.5px,#1f93c0 47.5px,#2072b1 48.5px,#2260a9 49.5px,#2165ab 50.5px,#1f7eb7 51.5px,#2ca1c2 52.5px,#52bcc2 53.5px,#aedfb6 55.5px,#ceecb3 56.5px,#d7efb3 57.5px,#cfecb3 59.5px,#b4e2b6 61.5px,#b7e3b6 62.5px,#e3f4b2 65.5px,#eff9b6 66.5px,#f5fbc2 68.5px,#feffd6 74.5px,#feffd6 120.5px)"></div><div style="height:1px;background:linear-gradient(90deg,#feffd6 0.5px,#fdfed4 35.5px,#f6fbc5 39.5px,#eff9b5 41.5px,#e6f5b2 42.5px,#d4eeb3 43.5px,#b2e1b6 44.5px,#40b5c4 46.5px,#2094c0 47.5px,#2072b1 48.5px,#225ea8 49.5px,#2163aa 50.5px,#1f7db6 51.5px,#2b9fc2 52.5px,#4ebbc2 53.5px,#abdeb7 55.5px,#cdebb4 56.5px,#d6efb3 57.5px,#cbebb4 59.5px,#abdeb7 61.5px,#b0e0b6 62.5px,#e6f5b2 65.5px,#f4fbc0 67.5px,#feffd6 73.5px,#feffd6 120.5px)"></div><div style="height:1px;background:linear-gradient(90deg,#feffd6 0.5px,#fdfed4 35.5px,#f6fbc5 39.5px,#f0f9b7 41.5px,#e7f6b1 42.5px,#d6efb3 43.5px,#b7e3b6 44.5px,#44b7c4 46.5px,#2296c1 47.5px,#2072b1 48.5px,#225ea8 49.5px,#2260a9 50.5px,#1f7ab5 51.5px,#299dc1 52.5px,#4cbac2 53.5px,#abdeb7 55.5px,#cdebb4 56.5px,#d5efb3 57.5px,#d1edb3 58.5px,#c6e9b4 59.5px,#b0e0b6 60.5px,#a5dcb7 61.5px,#abdeb7 62.5px,#e8f6b1 65.5px,#f4fbc1 67.5px,#feffd6 73.5px,#feffd6 120.5px)"></div><div style="height:1px;background:linear-gradient(90deg,#feffd6 0.5px,#fcfed3 36.5px,#f0f9b8 41.5px,#e9f7b1 42.5px,#d9f0b3 43.5px,#bde5b5 44.5px,#48b9c3 46.5px,#2397c1 47.5px,#2073b2 48.5px,#225da8 49.5px,#225ea8 50.5px,#2076b3 51.5px,#269bc1 52.5px,#4ab9c3 53.5px,#abdeb7 55.5px,#cbebb4 56.5px,#d3eeb3 57.5px,#ceecb3 58.5px,#a7dcb7 60.5px,#9ed9b8 61.5px,#a7dcb7 62.5px,#d7efb3 64.5px,#eaf7b1 65.5px,#f7fcc7 68.5px,#feffd6 72.5px,#feffd6 120.5px)"></div><div style="height:1px;background:linear-gradient(90deg,#feffd6 0.5px,#fcfed3 36.5px,#f4fbc1 40.5px,#eaf7b1 42.5px,#dbf1b2 43.5px,#c2e7b4 44.5px,#4cbac2 46.5px,#259ac1 47.5px,#2073b2 48.5px,#225ca7 49.5px,#225da8 50.5px,#2073b2 51.5px,#2498c1 52.5px,#46b8c3 53.5px,#a9ddb7 55.5px,#cbebb4 56.5px,#d0edb3 57.5px,#caeab4 58.5px,#9ed9b8 60.5px,#97d6b9 61.5px,#a2dbb8 62.5px,#dbf1b2 64.5px,#edf8b1 65.5px,#f8fcc9 68.5px,#feffd6 72.5px,#feffd6 120.5px)"></div><div style="height:1px;background:linear-gradient(90deg,#feffd6 0.5px,#fcfed3 36.5px,#f5fbc2 40.5px,#edf8b1 42.5px,#ddf2b2 43.5px,#c6e9b4 44.5px,#52bcc2 46.5px,#269bc1 47.5px,#2075b3 48.5px,#225ca7 49.5px,#225aa6 50.5px,#2072b1 51.5px,#2397c1 52.5px,#44b7c4 53.5px,#a9ddb7 55.5px,#caeab4 56.5px,#ceecb3 57.5px,#c6e9b4 58.5px,#95d5b9 60.5px,#90d4b9 61.5px,#a0dab8 62.5px,#c6e9b4 63.5px,#eef8b3 65.5px,#f9fdcb 68.5px,#feffd6 71.5px,#feffd6 120.5px)"></div><div style="height:1px;background:linear-gradient(90deg,#feffd6 0.5px,#fdfed4 36.5px,#f2fabc 41.5px,#edf8b2 42.5px,#e0f3b2 43.5px,#c9eab4 44.5px,#55bec1 46.5px,#299dc1 47.5px,#2075b3 48.5px,#225aa6 49.5px,#2259a6 50.5px,#206eb0 51.5px,#2195c0 52.5px,#40b5c4 53.5px,#a7dcb7 55.5px,#c8e9b4 56.5px,#cbebb4 57.5px,#bde5b5 58.5px,#a0dab8 59.5px,#8cd2ba 60.5px,#89d1ba 61.5px,#a0dab8 62.5px,#c9eab4 63.5px,#e0f3b2 64.5px,#eff9b5 65.5px,#fafdce 68.5px,#feffd6 71.5px,#feffd6 120.5px)"></div><div style="height:1px;background:linear-gradient(90deg,#feffd6 0.5px,#fdfed4 36.5px,#f6fbc5 40.5px,#eff9b5 42.5px,#e2f4b2 43.5px,#cdebb4 44.5px,#99d7b8 45.5px,#5bc0c0 46.5px,#2b9fc2 47.5px,#2076b3 48.5px,#225aa6 49.5px,#2356a4 50.5px,#216bae 51.5px,#1f93c0 52.5px,#3fb4c4 53.5px,#a7dcb7 55.5px,#c6e9b4 56.5px,#c9eab4 57.5px,#b7e3b6 58.5px,#99d7b8 59.5px,#85cfba 60.5px,#87d0ba 61.5px,#a2dbb8 62.5px,#cbebb4 63.5px,#e3f4b2 64.5px,#f0f9b8 65.5px,#fcfed1 68.5px,#feffd6 74.5px,#feffd6 120.5px)"></div><div style="height:1px;background:linear-gradient(90deg,#feffd6 0.5px,#fcfed3 37.5px,#f4fbc0 41.5px,#e6f5b2 43.5px,#d0edb3 44.5px,#a2dbb8 45.5px,#61c2bf 46.5px,#2da2c2 47.5px,#1f78b4 48.5px,#2259a6 49.5px,#2354a3 50.5px,#2166ac 51.5px,#1d8ebf 52.5px,#3db2c4 53.5px,#a7dcb7 55.5px,#c6e9b4 56.5px,#c6e9b4 57.5px,#b2e1b6 58.5px,#95d5b9 59.5px,#83cebb 60.5px,#87d0ba 61.5px,#d0edb3 63.5px,#e7f6b1 64.5px,#f7fcc6 66.5px,#feffd6 69.5px,#feffd6 120.5px)"></div><div style="height:1px;background:linear-gradient(90deg,#feffd6 0.5px,#fcfed3 37.5px,#f5fbc2 41.5px,#e8f6b1 43.5px,#d5efb3 44.5px,#abdeb7 45.5px,#69c5be 46.5px,#31a5c2 47.5px,#1f7ab5 48.5px,#2259a6 49.5px,#2351a2 50.5px,#2262aa 51.5px,#1e8bbd 52.5px,#3bb0c3 53.5px,#a7dcb7 55.5px,#c4e8b4 56.5px,#c4e8b4 57.5px,#90d4b9 59.5px,#7ecdbb 60.5px,#89d1ba 61.5px,#d5efb3 63.5px,#eaf7b1 64.5px,#fcfed1 67.5px,#feffd6 73.5px,#feffd6 120.5px)"></div><div style="height:1px;background:linear-gradient(90deg,#feffd6 0.5px,#fdfed4 37.5px,#f5fbc4 41.5px,#ecf7b1 43.5px,#d9f0b3 44.5px,#b2e1b6 45.5px,#6fc7bd 46.5px,#34a9c3 47.5px,#1f7bb6 48.5px,#2258a5 49.5px,#234fa1 50.5px,#225ea8 51.5px,#1e86bb 52.5px,#39adc3 53.5px,#a5dcb7 55.5px,#c2e7b4 56.5px,#c0e6b5 57.5px,#89d1ba 59.5px,#7cccbb 60.5px,#8cd2ba 61.5px,#b7e3b6 62.5px,#d9f0b3 63.5px,#edf8b2 64.5px,#fafdce 66.5px,#feffd6 69.5px,#feffd6 120.5px)"></div><div style="height:1px;background:linear-gradient(90deg,#feffd6 0.5px,#fcfed3 38.5px,#f3fabf 42.5px,#edf8b2 43.5px,#dcf1b2 44.5px,#bbe4b5 45.5px,#37acc3 47.5px,#1f7eb7 48.5px,#2258a5 49.5px,#234c9f 50.5px,#225aa6 51.5px,#1e83ba 52.5px,#36abc3 53.5px,#a5dcb7 55.5px,#c2e7b4 56.5px,#bde5b5 57.5px,#85cfba 59.5px,#7cccbb 60.5px,#90d4b9 61.5px,#c0e6b5 62.5px,#ddf2b2 63.5px,#f0f9b7 64.5px,#fbfdd0 66.5px,#feffd6 70.5px,#feffd6 120.5px)"></div><div style="height:1px;background:linear-gradient(90deg,#feffd6 0.5px,#fcfed3 38.5px,#f4fbc1 42.5px,#eff9b6 43.5px,#e0f3b2 44.5px,#c4e8b4 45.5px,#3bb0c3 47.5px,#1f82b9 48.5px,#2258a5 49.5px,#234b9f 50.5px,#2258a5 51.5px,#1f7eb7 52.5px,#35aac3 53.5px,#a5dcb7 55.5px,#c0e6b5 56.5px,#b9e4b5 57.5px,#80cebb 59.5px,#7acbbc 60.5px,#97d6b9 61.5px,#c8e9b4 62.5px,#e2f4b2 63.5px,#f2fabc 64.5px,#fcfed3 66.5px,#feffd6 94.5px,#feffd6 120.5px)"></div><div style="height:1px;background:linear-gradient(90deg,#feffd6 0.5px,#fdfed4 38.5px,#f5fbc2 42.5px,#f0f9b8 43.5px,#e3f4b2 44.5px,#caeab4 45.5px,#3fb4c4 47.5px,#1e85ba 48.5px,#2258a5 49.5px,#24489d 50.5px,#2354a3 51.5px,#1f7bb6 52.5px,#33a7c2 53.5px,#69c5be 54.5px,#a2dbb8 55.5px,#bde5b5 56.5px,#b4e2b6 57.5px,#7cccbb 59.5px,#7cccbb 60.5px,#9ed9b8 61.5px,#cbebb4 62.5px,#e7f6b1 63.5px,#fafdce 65.5px,#feffd6 68.5px,#feffd6 120.5px)"></div><div style="height:1px;background:linear-gradient(90deg,#feffd6 0.5px,#fdfed4 38.5px,#f6fbc5 42.5px,#e8f6b1 44.5px,#cfecb3 45.5px,#90d4b9 46.5px,#46b8c3 47.5px,#1e88bc 48.5px,#2258a5 49.5px,#24479d 50.5px,#2350a1 51.5px,#2076b3 52.5px,#31a5c2 53.5px,#69c5be 54.5px,#a2dbb8 55.5px,#bbe4b5 56.5px,#b0e0b6 57.5px,#78cbbc 59.5px,#7cccbb 60.5px,#d1edb3 62.5px,#edf8b1 63.5px,#f6fbc5 64.5px,#fdfed5 66.5px,#feffd6 120.5px)"></div><div style="height:1px;background:linear-gradient(90deg,#feffd6 0.5px,#fcfed3 39.5px,#f7fcc6 42.5px,#ecf7b1 44.5px,#d4eeb3 45.5px,#9cd8b8 46.5px,#4ebbc2 47.5px,#1d8dbe 48.5px,#2259a6 49.5px,#24449c 50.5px,#234da0 51.5px,#2072b1 52.5px,#2ea3c2 53.5px,#67c4be 54.5px,#a0dab8 55.5px,#b9e4b5 56.5px,#abdeb7 57.5px,#8cd2ba 58.5px,#76cabc 59.5px,#80cebb 60.5px,#d6efb3 62.5px,#eff9b6 63.5px,#f8fcca 64.5px,#fdfed5 66.5px,#feffd6 120.5px)"></div><div style="height:1px;background:linear-gradient(90deg,#feffd6 0.5px,#fdfed4 39.5px,#f4fbc1 43.5px,#edf8b2 44.5px,#d7efb3 45.5px,#a5dcb7 46.5px,#55bec1 47.5px,#1d91c0 48.5px,#225aa6 49.5px,#24439b 50.5px,#23499e 51.5px,#206eb0 52.5px,#2ca1c2 53.5px,#65c3bf 54.5px,#a0dab8 55.5px,#b4e2b6 56.5px,#a7dcb7 57.5px,#85cfba 58.5px,#75c9bd 59.5px,#83cebb 60.5px,#b4e2b6 61.5px,#dcf1b2 62.5px,#f2fabc 63.5px,#f9fdcc 64.5px,#fdfed5 66.5px,#feffd6 120.5px)"></div><div style="height:1px;background:linear-gradient(90deg,#feffd6 0.5px,#fdfed4 39.5px,#f8fcca 42.5px,#eff9b6 44.5px,#dcf1b2 45.5px,#b0e0b6 46.5px,#5dc0c0 47.5px,#2195c0 48.5px,#225ca7 49.5px,#24419a 50.5px,#24479d 51.5px,#216aad 52.5px,#2a9ec1 53.5px,#65c3bf 54.5px,#9ed9b8 55.5px,#b2e1b6 56.5px,#a0dab8 57.5px,#7ecdbb 58.5px,#73c8bd 59.5px,#87d0ba 60.5px,#bde5b5 61.5px,#e3f4b2 62.5px,#f4fbc1 63.5px,#fafdcf 64.5px,#feffd6 67.5px,#feffd6 120.5px)"></div><div style="height:1px;background:linear-gradient(90deg,#feffd6 0.5px,#fcfed3 40.5px,#f6fbc5 43.5px,#f1faba 44.5px,#e1f3b2 45.5px,#bbe4b5 46.5px,#67c4be 47.5px,#259ac1 48.5px,#225da8 49.5px,#24409a 50.5px,#24439b 51.5px,#2165ab 52.5px,#299dc1 53.5px,#63c3bf 54.5px,#9cd8b8 55.5px,#b0e0b6 56.5px,#9cd8b8 57.5px,#7acbbc 58.5px,#73c8bd 59.5px,#8ed3ba 60.5px,#c8e9b4 61.5px,#e9f7b1 62.5px,#f6fbc5 63.5px,#fdfed5 65.5px,#feffd6 120.5px)"></div><div style="height:1px;background:linear-gradient(90deg,#feffd6 0.5px,#fdfed4 40.5px,#f7fcc7 43.5px,#f3fabd 44.5px,#e6f5b2 45.5px,#c4e8b4 46.5px,#71c8bd 47.5px,#2a9ec1 48.5px,#2260a9 49.5px,#243f99 50.5px,#243f99 51.5px,#2260a9 52.5px,#269bc1 53.5px,#61c2bf 54.5px,#9cd8b8 55.5px,#abdeb7 56.5px,#95d5b9 57.5px,#76cabc 58.5px,#73c8bd 59.5px,#95d5b9 60.5px,#cfecb3 61.5px,#eef8b3 62.5px,#f8fcc9 63.5px,#fdfed5 65.5px,#feffd6 120.5px)"></div><div style="height:1px;background:linear-gradient(90deg,#feffd6 0.5px,#fdfed4 40.5px,#f8fcca 43.5px,#e9f7b1 45.5px,#cbebb4 46.5px,#7acbbc 47.5px,#2ea3c2 48.5px,#2163aa 49.5px,#243d98 50.5px,#243c98 51.5px,#225ca7 52.5px,#2498c1 53.5px,#5fc1c0 54.5px,#99d7b8 55.5px,#a7dcb7 56.5px,#71c8bd 58.5px,#73c8bd 59.5px,#a0dab8 60.5px,#d6efb3 61.5px,#f0f9b8 62.5px,#f9fdcb 63.5px,#fdfed5 65.5px,#feffd6 120.5px)"></div><div style="height:1px;background:linear-gradient(90deg,#feffd6 0.5px,#fcfed3 41.5px,#f5fbc2 44.5px,#edf8b2 45.5px,#d1edb3 46.5px,#87d0ba 47.5px,#34a9c3 48.5px,#2168ad 49.5px,#243d98 50.5px,#253997 51.5px,#2258a5 52.5px,#2296c1 53.5px,#5dc0c0 54.5px,#97d6b9 55.5px,#a2dbb8 56.5px,#6dc6be 58.5px,#76cabc 59.5px,#dcf1b2 61.5px,#f2fabc 62.5px,#f9fdcc 63.5px,#fdfed5 65.5px,#feffd6 120.5px)"></div><div style="height:1px;background:linear-gradient(90deg,#feffd6 0.5px,#fdfed4 41.5px,#fafdce 43.5px,#eff9b6 45.5px,#d6efb3 46.5px,#92d5b9 47.5px,#3aaec3 48.5px,#216bae 49.5px,#243d98 50.5px,#253595 51.5px,#2355a4 52.5px,#2094c0 53.5px,#5dc0c0 54.5px,#95d5b9 55.5px,#9ed9b8 56.5px,#80cebb 57.5px,#6bc6be 58.5px,#7acbbc 59.5px,#b4e2b6 60.5px,#e2f4b2 61.5px,#f4fbc1 62.5px,#fafdcf 63.5px,#feffd6 66.5px,#feffd6 120.5px)"></div><div style="height:1px;background:linear-gradient(90deg,#feffd6 0.5px,#fcfed3 42.5px,#f7fcc7 44.5px,#f1faba 45.5px,#dcf1b2 46.5px,#a0dab8 47.5px,#3fb4c4 48.5px,#2072b1 49.5px,#243d98 50.5px,#243392 51.5px,#2351a2 52.5px,#1f93c0 53.5px,#5bc0c0 54.5px,#92d5b9 55.5px,#97d6b9 56.5px,#7acbbc 57.5px,#69c5be 58.5px,#80cebb 59.5px,#c0e6b5 60.5px,#e7f6b1 61.5px,#f6fbc5 62.5px,#fdfed5 64.5px,#feffd6 120.5px)"></div><div style="height:1px;background:linear-gradient(90deg,#feffd6 0.5px,#fcfed3 42.5px,#f8fcca 44.5px,#f3fabd 45.5px,#e1f3b2 46.5px,#abdeb7 47.5px,#48b9c3 48.5px,#2076b3 49.5px,#243f99 50.5px,#22328f 51.5px,#234da0 52.5px,#1d90c0 53.5px,#59bfc0 54.5px,#90d4b9 55.5px,#90d4b9 56.5px,#75c9bd 57.5px,#67c4be 58.5px,#85cfba 59.5px,#c9eab4 60.5px,#ecf7b1 61.5px,#f7fcc7 62.5px,#fdfed5 64.5px,#feffd6 120.5px)"></div><div style="height:1px;background:linear-gradient(90deg,#feffd6 0.5px,#fdfed4 42.5px,#f9fdcc 44.5px,#f5fbc2 45.5px,#e7f6b1 46.5px,#bbe4b5 47.5px,#55bec1 48.5px,#1f7db6 49.5px,#24409a 50.5px,#21308b 51.5px,#23499e 52.5px,#1d8dbe 53.5px,#55bec1 54.5px,#87d0ba 55.5px,#85cfba 56.5px,#6dc6be 57.5px,#69c5be 58.5px,#95d5b9 59.5px,#d3eeb3 60.5px,#f0f9b8 61.5px,#f9fdcb 62.5px,#fdfed4 63.5px,#feffd6 120.5px)"></div><div style="height:1px;background:linear-gradient(90deg,#feffd6 0.5px,#fdfed4 42.5px,#fafdcf 44.5px,#f7fcc6 45.5px,#edf8b1 46.5px,#c8e9b4 47.5px,#63c3bf 48.5px,#1e85ba 49.5px,#24419a 50.5px,#1f2f87 51.5px,#24459c 52.5px,#1e88bc 53.5px,#50bbc2 54.5px,#7cccbb 55.5px,#78cbbc 56.5px,#67c4be 57.5px,#73c8bd 58.5px,#dff2b2 60.5px,#f4fbc0 61.5px,#fafdcf 62.5px,#feffd6 64.5px,#feffd6 120.5px)"></div><div style="height:1px;background:linear-gradient(90deg,#feffd6 0.5px,#fdfed4 43.5px,#f8fcc9 45.5px,#f0f9b7 46.5px,#d0edb3 47.5px,#71c8bd 48.5px,#1d8ebf 49.5px,#24439b 50.5px,#1d2e83 51.5px,#24419a 52.5px,#1e83ba 53.5px,#4ab9c3 54.5px,#73c8bd 55.5px,#65c3bf 57.5px,#80cebb 58.5px,#c4e8b4 59.5px,#eaf7b1 60.5px,#f7fcc7 61.5px,#fcfed3 62.5px,#feffd6 90.5px,#feffd6 120.5px)"></div><div style="height:1px;background:linear-gradient(90deg,#feffd6 0.5px,#fdfed4 43.5px,#f9fdcc 45.5px,#f3fabd 46.5px,#d9f0b3 47.5px,#80cebb 48.5px,#2296c1 49.5px,#24459c 50.5px,#1b2c80 51.5px,#243c98 52.5px,#1f7eb7 53.5px,#42b6c4 54.5px,#69c5be 55.5px,#65c3bf 56.5px,#69c5be 57.5px,#92d5b9 58.5px,#d3eeb3 59.5px,#f0f9b8 60.5px,#f9fdcc 61.5px,#feffd6 63.5px,#feffd6 120.5px)"></div><div style="height:1px;background:linear-gradient(90deg,#feffd6 0.5px,#fdfed4 44.5px,#fafdcf 45.5px,#f5fbc2 46.5px,#e1f3b2 47.5px,#92d5b9 48.5px,#2a9ec1 49.5px,#23499e 50.5px,#192b7c 51.5px,#253896 52.5px,#1f78b4 53.5px,#3cb1c3 54.5px,#5dc0c0 55.5px,#5fc1c0 56.5px,#71c8bd 57.5px,#e0f3b2 59.5px,#f4fbc1 60.5px,#fbfdd0 61.5px,#feffd6 65.5px,#feffd6 120.5px)"></div><div style="height:1px;background:linear-gradient(90deg,#feffd6 0.5px,#fdfed5 44.5px,#fcfed1 45.5px,#f7fcc6 46.5px,#e8f6b1 47.5px,#a7dcb7 48.5px,#33a7c2 49.5px,#234da0 50.5px,#182a7a 51.5px,#233390 52.5px,#2070b0 53.5px,#36abc3 54.5px,#52bcc2 55.5px,#5dc0c0 56.5px,#7cccbb 57.5px,#c4e8b4 58.5px,#eaf7b1 59.5px,#f7fcc7 60.5px,#fcfed3 61.5px,#feffd6 89.5px,#feffd6 120.5px)"></div><div style="height:1px;background:linear-gradient(90deg,#feffd6 0.5px,#fdfed5 44.5px,#f9fdcb 46.5px,#eef8b3 47.5px,#b9e4b5 48.5px,#3cb1c3 49.5px,#2354a3 50.5px,#172976 51.5px,#203089 52.5px,#2168ad 53.5px,#2fa4c2 54.5px,#4ab9c3 55.5px,#5fc1c0 56.5px,#90d4b9 57.5px,#d3eeb3 58.5px,#f1faba 59.5px,#fafdce 60.5px,#feffd6 63.5px,#feffd6 120.5px)"></div><div style="height:1px;background:linear-gradient(90deg,#feffd6 0.5px,#fdfed4 45.5px,#fafdce 46.5px,#f1fabb 47.5px,#caeab4 48.5px,#4ab9c3 49.5px,#2259a6 50.5px,#162874 51.5px,#1b2c80 52.5px,#225ea8 53.5px,#299dc1 54.5px,#42b6c4 55.5px,#67c4be 56.5px,#e0f3b2 58.5px,#f5fbc2 59.5px,#fbfdd0 60.5px,#feffd6 64.5px,#feffd6 120.5px)"></div><div style="height:1px;background:linear-gradient(90deg,#feffd6 0.5px,#fdfed5 45.5px,#fbfdd0 46.5px,#f4fbc0 47.5px,#d4eeb3 48.5px,#5bc0c0 49.5px,#2262aa 50.5px,#152772 51.5px,#162874 52.5px,#2356a4 53.5px,#2498c1 54.5px,#4ab9c3 55.5px,#7ecdbb 56.5px,#c9eab4 57.5px,#eef8b3 58.5px,#f8fcca 59.5px,#fdfed4 60.5px,#feffd6 120.5px)"></div><div style="height:1px;background:linear-gradient(90deg,#feffd6 0.5px,#fdfed5 45.5px,#fcfed3 46.5px,#f7fcc6 47.5px,#ddf2b2 48.5px,#6fc7bd 49.5px,#216daf 50.5px,#152772 51.5px,#11246b 52.5px,#2351a2 53.5px,#289cc1 54.5px,#63c3bf 55.5px,#abdeb7 56.5px,#e1f3b2 57.5px,#f5fbc2 58.5px,#fbfdd0 59.5px,#feffd6 63.5px,#feffd6 120.5px)"></div><div style="height:1px;background:linear-gradient(90deg,#feffd6 0.5px,#feffd6 45.5px,#fcfed3 46.5px,#f7fcc7 47.5px,#e0f3b2 48.5px,#71c8bd 49.5px,#216aad 50.5px,#12256d 51.5px,#102369 52.5px,#2355a4 53.5px,#33a7c2 54.5px,#85cfba 55.5px,#d1edb3 56.5px,#f0f9b7 57.5px,#f9fdcc 58.5px,#feffd6 60.5px,#feffd6 120.5px)"></div><div style="height:1px;background:linear-gradient(90deg,#feffd6 0.5px,#fdfed5 45.5px,#fcfed3 46.5px,#f6fbc5 47.5px,#daf0b3 48.5px,#61c2bf 49.5px,#225ca7 50.5px,#0d2163 51.5px,#142670 52.5px,#2166ac 53.5px,#4cbac2 54.5px,#b4e2b6 55.5px,#e7f6b1 56.5px,#f6fbc5 57.5px,#fcfed1 58.5px,#feffd6 64.5px,#feffd6 120.5px)"></div><div style="height:1px;background:linear-gradient(90deg,#feffd6 0.5px,#fdfed5 45.5px,#fcfed1 46.5px,#f5fbc2 47.5px,#d4eeb3 48.5px,#4ebbc2 49.5px,#234fa1 50.5px,#0b1f5e 51.5px,#1b2c80 52.5px,#1f80b8 53.5px,#75c9bd 54.5px,#d5efb3 55.5px,#f2fabc 56.5px,#fafdce 57.5px,#feffd6 60.5px,#feffd6 120.5px)"></div><div style="height:1px;background:linear-gradient(90deg,#feffd6 0.5px,#fdfed5 45.5px,#fcfed1 46.5px,#f4fbc0 47.5px,#cdebb4 48.5px,#3eb3c4 49.5px,#24439b 50.5px,#0a1e5c 51.5px,#253494 52.5px,#289cc1 53.5px,#a5dcb7 54.5px,#e9f7b1 55.5px,#f8fcc9 56.5px,#fdfed5 58.5px,#feffd6 120.5px)"></div><div style="height:1px;background:linear-gradient(90deg,#feffd6 0.5px,#fdfed5 45.5px,#fbfdd0 46.5px,#f2fabc 47.5px,#c4e8b4 48.5px,#33a7c2 49.5px,#253896 50.5px,#0c2060 51.5px,#24489d 52.5px,#42b6c4 53.5px,#ceecb3 54.5px,#f3fabf 55.5px,#fbfdd0 57.5px,#feffd6 63.5px,#feffd6 120.5px)"></div><div style="height:1px;background:linear-gradient(90deg,#feffd6 0.5px,#fdfed5 45.5px,#fafdcf 46.5px,#f1faba 47.5px,#b4e2b6 48.5px,#289cc1 49.5px,#21308b 50.5px,#0e2265 51.5px,#2259a6 52.5px,#63c3bf 53.5px,#ddf2b2 54.5px,#f1fabb 55.5px,#fcfed3 58.5px,#feffd6 86.5px,#feffd6 120.5px)"></div><div style="height:1px;background:linear-gradient(90deg,#feffd6 0.5px,#fdfed5 45.5px,#fafdce 46.5px,#eff9b5 47.5px,#a5dcb7 48.5px,#1d90c0 49.5px,#1a2b7e 50.5px,#102369 51.5px,#216aad 52.5px,#78cbbc 53.5px,#e3f4b2 54.5px,#edf8b1 55.5px,#f8fcc9 57.5px,#fdfed5 60.5px,#feffd6 120.5px)"></div><div style="height:1px;background:linear-gradient(90deg,#feffd6 0.5px,#fdfed5 45.5px,#f9fdcc 46.5px,#edf8b1 47.5px,#92d5b9 48.5px,#1f7eb7 49.5px,#152772 50.5px,#142670 51.5px,#1f7bb6 52.5px,#8ed3ba 53.5px,#d9f0b3 54.5px,#eff9b5 56.5px,#f9fdcc 58.5px,#fdfed5 61.5px,#feffd6 120.5px)"></div><div style="height:1px;background:linear-gradient(90deg,#feffd6 0.5px,#fdfed4 45.5px,#f8fcca 46.5px,#e6f5b2 47.5px,#7cccbb 48.5px,#216daf 49.5px,#11246b 50.5px,#192b7c 51.5px,#1e8bbd 52.5px,#a0dab8 53.5px,#ceecb3 54.5px,#e7f6b1 56.5px,#f7fcc7 58.5px,#fdfed5 61.5px,#feffd6 120.5px)"></div><div style="height:1px;background:linear-gradient(90deg,#feffd6 0.5px,#feffd6 44.5px,#fcfed3 45.5px,#f7fcc6 46.5px,#ddf2b2 47.5px,#67c4be 48.5px,#225ea8 49.5px,#11246b 50.5px,#203089 51.5px,#2296c1 52.5px,#a9ddb7 53.5px,#edf8b2 57.5px,#f9fdcb 59.5px,#feffd6 63.5px,#feffd6 120.5px)"></div><div style="height:1px;background:linear-gradient(90deg,#feffd6 0.5px,#fdfed5 44.5px,#fcfed1 45.5px,#f4fbc1 46.5px,#d4eeb3 47.5px,#52bcc2 48.5px,#2354a3 49.5px,#12256d 50.5px,#253795 51.5px,#2a9ec1 52.5px,#a9ddb7 53.5px,#a9ddb7 54.5px,#e6f5b2 57.5px,#f7fcc7 59.5px,#fdfed5 62.5px,#feffd6 120.5px)"></div><div style="height:1px;background:linear-gradient(90deg,#feffd6 0.5px,#fdfed5 44.5px,#fbfdd0 45.5px,#f2fabc 46.5px,#c9eab4 47.5px,#3eb3c4 48.5px,#234c9f 49.5px,#142670 50.5px,#24419a 51.5px,#33a7c2 52.5px,#97d6b9 53.5px,#95d5b9 54.5px,#a7dcb7 55.5px,#c8e9b4 56.5px,#eef8b3 58.5px,#f9fdcc 60.5px,#feffd6 64.5px,#feffd6 120.5px)"></div><div style="height:1px;background:linear-gradient(90deg,#feffd6 0.5px,#fdfed4 44.5px,#f9fdcc 45.5px,#eff9b6 46.5px,#b7e3b6 47.5px,#33a7c2 48.5px,#24459c 49.5px,#172976 50.5px,#234c9f 51.5px,#3bb0c3 52.5px,#8cd2ba 53.5px,#87d0ba 54.5px,#99d7b8 55.5px,#bbe4b5 56.5px,#e9f7b1 58.5px,#fbfdd0 61.5px,#feffd6 67.5px,#feffd6 120.5px)"></div><div style="height:1px;background:linear-gradient(90deg,#feffd6 0.5px,#fdfed4 43.5px,#f8fcc9 45.5px,#eaf7b1 46.5px,#a0dab8 47.5px,#289cc1 48.5px,#243f99 49.5px,#1a2b7e 50.5px,#2356a4 51.5px,#42b6c4 52.5px,#8cd2ba 53.5px,#85cfba 54.5px,#95d5b9 55.5px,#d1edb3 57.5px,#e6f5b2 58.5px,#f7fcc6 60.5px,#fdfed5 63.5px,#feffd6 120.5px)"></div><div style="height:1px;background:linear-gradient(90deg,#feffd6 0.5px,#fcfed3 42.5px,#fafdcf 44.5px,#f5fbc4 45.5px,#e2f4b2 46.5px,#8cd2ba 47.5px,#1f93c0 48.5px,#243c98 49.5px,#1e2e85 50.5px,#2260a9 51.5px,#50bbc2 52.5px,#8ed3ba 53.5px,#85cfba 54.5px,#90d4b9 55.5px,#ceecb3 57.5px,#f0f9b7 59.5px,#f9fdcc 61.5px,#feffd6 65.5px,#feffd6 120.5px)"></div><div style="height:1px;background:linear-gradient(90deg,#feffd6 0.5px,#fcfed3 41.5px,#f9fdcc 44.5px,#f3fabf 45.5px,#daf0b3 46.5px,#78cbbc 47.5px,#1e86bb 48.5px,#253997 49.5px,#22328f 50.5px,#216daf 51.5px,#59bfc0 52.5px,#8ed3ba 53.5px,#83cebb 54.5px,#8cd2ba 55.5px,#a7dcb7 56.5px,#caeab4 57.5px,#eef8b3 59.5px,#f8fcca 61.5px,#fdfed5 65.5px,#feffd6 120.5px)"></div><div style="height:1px;background:linear-gradient(90deg,#feffd6 0.5px,#fcfed3 40.5px,#f8fcc9 44.5px,#f1faba 45.5px,#d1edb3 46.5px,#67c4be 47.5px,#1f7bb6 48.5px,#253896 49.5px,#253795 50.5px,#1f78b4 51.5px,#65c3bf 52.5px,#8ed3ba 53.5px,#80cebb 54.5px,#87d0ba 55.5px,#a0dab8 56.5px,#c6e9b4 57.5px,#ecf7b1 59.5px,#fafdce 62.5px,#feffd6 68.5px,#feffd6 120.5px)"></div><div style="height:1px;background:linear-gradient(90deg,#feffd6 0.5px,#fcfed3 39.5px,#f9fdcb 43.5px,#f6fbc5 44.5px,#eef8b3 45.5px,#c8e9b4 46.5px,#55bec1 47.5px,#2072b1 48.5px,#253896 49.5px,#243f99 50.5px,#1e85ba 51.5px,#6fc7bd 52.5px,#90d4b9 53.5px,#80cebb 54.5px,#85cfba 55.5px,#9cd8b8 56.5px,#bde5b5 57.5px,#e8f6b1 59.5px,#f6fbc5 61.5px,#fdfed5 65.5px,#feffd6 120.5px)"></div><div style="height:1px;background:linear-gradient(90deg,#feffd6 0.5px,#fdfed4 38.5px,#f8fcc9 43.5px,#f4fbc0 44.5px,#e7f6b1 45.5px,#b2e1b6 46.5px,#44b7c4 47.5px,#216daf 48.5px,#243c98 49.5px,#24449c 50.5px,#1e83ba 51.5px,#65c3bf 52.5px,#90d4b9 53.5px,#7ecdbb 54.5px,#80cebb 55.5px,#97d6b9 56.5px,#d3eeb3 58.5px,#f0f9b7 60.5px,#fafdcf 63.5px,#feffd6 68.5px,#feffd6 120.5px)"></div><div style="height:1px;background:linear-gradient(90deg,#feffd6 0.5px,#fcfed3 38.5px,#f5fbc4 43.5px,#f0f9b7 44.5px,#dbf1b2 45.5px,#9cd8b8 46.5px,#3cb1c3 47.5px,#216daf 48.5px,#24439b 49.5px,#24479d 50.5px,#1f7ab5 51.5px,#4cbac2 52.5px,#92d5b9 53.5px,#7ecdbb 54.5px,#7ecdbb 55.5px,#90d4b9 56.5px,#cfecb3 58.5px,#eff9b5 60.5px,#fafdce 63.5px,#feffd6 69.5px,#feffd6 120.5px)"></div><div style="height:1px;background:linear-gradient(90deg,#feffd6 0.5px,#fdfed4 37.5px,#f6fbc5 42.5px,#eaf7b1 44.5px,#d0edb3 45.5px,#87d0ba 46.5px,#36abc3 47.5px,#2070b0 48.5px,#23499e 49.5px,#234b9f 50.5px,#2075b3 51.5px,#3cb1c3 52.5px,#92d5b9 53.5px,#7ecdbb 54.5px,#7cccbb 55.5px,#8cd2ba 56.5px,#cbebb4 58.5px,#edf8b1 60.5px,#f9fdcc 63.5px,#feffd6 68.5px,#feffd6 120.5px)"></div><div style="height:1px;background:linear-gradient(90deg,#feffd6 0.5px,#fcfed3 37.5px,#f4fbc0 42.5px,#f0f9b7 43.5px,#e2f4b2 44.5px,#c4e8b4 45.5px,#33a7c2 47.5px,#2073b2 48.5px,#2351a2 49.5px,#2350a1 50.5px,#2072b1 51.5px,#33a7c2 52.5px,#7cccbb 53.5px,#7acbbc 55.5px,#87d0ba 56.5px,#c8e9b4 58.5px,#e9f7b1 60.5px,#f8fcca 63.5px,#fdfed5 67.5px,#feffd6 120.5px)"></div><div style="height:1px;background:linear-gradient(90deg,#feffd6 0.5px,#fcfed3 36.5px,#f1fabb 42.5px,#ecf7b1 43.5px,#daf0b3 44.5px,#b2e1b6 45.5px,#6dc6be 46.5px,#31a5c2 47.5px,#2076b3 48.5px,#2258a5 49.5px,#2355a4 50.5px,#2072b1 51.5px,#2da2c2 52.5px,#69c5be 53.5px,#7ecdbb 54.5px,#78cbbc 55.5px,#83cebb 56.5px,#c0e6b5 58.5px,#e7f6b1 60.5px,#f8fcc9 63.5px,#feffd6 68.5px,#feffd6 120.5px)"></div><div style="height:1px;background:linear-gradient(90deg,#feffd6 0.5px,#fdfed4 35.5px,#f3fabd 41.5px,#e5f5b2 43.5px,#d1edb3 44.5px,#a5dcb7 45.5px,#63c3bf 46.5px,#2fa4c2 47.5px,#1f7bb6 48.5px,#225ea8 49.5px,#225ca7 50.5px,#2073b2 51.5px,#299dc1 52.5px,#5bc0c0 53.5px,#7ecdbb 54.5px,#76cabc 55.5px,#7ecdbb 56.5px,#97d6b9 57.5px,#b9e4b5 58.5px,#d3eeb3 59.5px,#eff9b5 61.5px,#f9fdcb 64.5px,#feffd6 69.5px,#feffd6 120.5px)"></div><div style="height:1px;background:linear-gradient(90deg,#feffd6 0.5px,#fcfed3 35.5px,#f3fabf 40.5px,#ecf7b1 42.5px,#caeab4 44.5px,#5dc0c0 46.5px,#2ea3c2 47.5px,#1f80b8 48.5px,#2166ac 49.5px,#2262aa 50.5px,#2076b3 51.5px,#269bc1 52.5px,#50bbc2 53.5px,#7ecdbb 54.5px,#75c9bd 55.5px,#7acbbc 56.5px,#92d5b9 57.5px,#cfecb3 59.5px,#edf8b1 61.5px,#f8fcca 64.5px,#feffd6 69.5px,#feffd6 120.5px)"></div><div style="height:1px;background:linear-gradient(90deg,#feffd6 0.5px,#fdfed4 34.5px,#f4fbc1 39.5px,#eef8b3 41.5px,#d7efb3 43.5px,#c0e6b5 44.5px,#57bec1 46.5px,#2fa4c2 47.5px,#1e85ba 48.5px,#206eb0 49.5px,#216aad 50.5px,#1f7bb6 51.5px,#259ac1 52.5px,#48b9c3 53.5px,#7ecdbb 54.5px,#73c8bd 55.5px,#78cbbc 56.5px,#8cd2ba 57.5px,#cbebb4 59.5px,#eaf7b1 61.5px,#fafdce 65.5px,#feffd6 71.5px,#feffd6 120.5px)"></div><div style="height:1px;background:linear-gradient(90deg,#feffd6 0.5px,#fcfed3 34.5px,#f3fabd 39.5px,#eaf7b1 41.5px,#d1edb3 43.5px,#b4e2b6 44.5px,#53bdc1 46.5px,#31a5c2 47.5px,#1e8bbd 48.5px,#2076b3 49.5px,#2072b1 50.5px,#1f80b8 51.5px,#259ac1 52.5px,#42b6c4 53.5px,#76cabc 54.5px,#75c9bd 56.5px,#87d0ba 57.5px,#c8e9b4 59.5px,#e7f6b1 61.5px,#f7fcc6 64.5px,#fdfed4 68.5px,#feffd6 120.5px)"></div><div style="height:1px;background:linear-gradient(90deg,#feffd6 0.5px,#fdfed4 33.5px,#f4fbc0 38.5px,#edf8b2 40.5px,#daf0b3 42.5px,#cbebb4 43.5px,#abdeb7 44.5px,#52bcc2 46.5px,#32a6c2 47.5px,#1d91c0 48.5px,#1f7eb7 49.5px,#1f7ab5 50.5px,#1e85ba 51.5px,#269bc1 52.5px,#3fb4c4 53.5px,#6fc7bd 54.5px,#73c8bd 56.5px,#80cebb 57.5px,#c2e7b4 59.5px,#e3f4b2 61.5px,#eef8b3 62.5px,#fafdcf 66.5px,#feffd6 73.5px,#feffd6 120.5px)"></div><div style="height:1px;background:linear-gradient(90deg,#feffd6 0.5px,#fcfed3 33.5px,#f5fbc2 37.5px,#e9f7b1 40.5px,#c6e9b4 43.5px,#52bcc2 46.5px,#34a9c3 47.5px,#2195c0 48.5px,#1e86bb 49.5px,#1f82b9 50.5px,#1e8bbd 51.5px,#299dc1 52.5px,#3eb3c4 53.5px,#69c5be 54.5px,#71c8bd 55.5px,#6fc7bd 56.5px,#7cccbb 57.5px,#b9e4b5 59.5px,#d1edb3 60.5px,#edf8b1 62.5px,#f8fcc9 65.5px,#feffd6 71.5px,#feffd6 120.5px)"></div><div style="height:1px;background:linear-gradient(90deg,#feffd6 0.5px,#fdfed4 32.5px,#f4fbc0 37.5px,#edf8b1 39.5px,#d0edb3 42.5px,#bde5b5 43.5px,#52bcc2 46.5px,#36abc3 47.5px,#259ac1 48.5px,#1d8ebf 49.5px,#1e8abd 50.5px,#1d91c0 51.5px,#3eb3c4 53.5px,#65c3bf 54.5px,#71c8bd 55.5px,#6dc6be 56.5px,#78cbbc 57.5px,#ceecb3 60.5px,#e9f7b1 62.5px,#f9fdcb 66.5px,#feffd6 71.5px,#feffd6 120.5px)"></div><div style="height:1px;background:linear-gradient(90deg,#feffd6 0.5px,#fcfed3 32.5px,#f5fbc2 36.5px,#e9f7b1 39.5px,#cdebb4 42.5px,#b7e3b6 43.5px,#52bcc2 46.5px,#39adc3 47.5px,#1f93c0 49.5px,#1d8ebf 50.5px,#2094c0 51.5px,#3eb3c4 53.5px,#61c2bf 54.5px,#71c8bd 55.5px,#6bc6be 56.5px,#76cabc 57.5px,#8ed3ba 58.5px,#caeab4 60.5px,#e7f6b1 62.5px,#f8fcca 66.5px,#fdfed5 71.5px,#feffd6 120.5px)"></div><div style="height:1px;background:linear-gradient(90deg,#feffd6 0.5px,#fdfed4 31.5px,#f4fbc0 36.5px,#edf8b2 38.5px,#caeab4 42.5px,#b2e1b6 43.5px,#52bcc2 46.5px,#3aaec3 47.5px,#2195c0 49.5px,#2195c0 51.5px,#3cb1c3 53.5px,#5bc0c0 54.5px,#71c8bd 55.5px,#6bc6be 56.5px,#75c9bd 57.5px,#89d1ba 58.5px,#c8e9b4 60.5px,#e5f5b2 62.5px,#edf8b2 63.5px,#f9fdcc 67.5px,#feffd6 72.5px,#feffd6 120.5px)"></div><div style="height:1px;background:linear-gradient(90deg,#feffd6 0.5px,#fcfed3 31.5px,#f3fabd 36.5px,#eaf7b1 38.5px,#c8e9b4 42.5px,#b0e0b6 43.5px,#53bdc1 46.5px,#3bb0c3 47.5px,#2296c1 49.5px,#2296c1 51.5px,#3bb0c3 53.5px,#71c8bd 55.5px,#6bc6be 56.5px,#73c8bd 57.5px,#87d0ba 58.5px,#c4e8b4 60.5px,#ecf7b1 63.5px,#fafdcf 68.5px,#feffd6 75.5px,#feffd6 120.5px)"></div><div style="height:1px;background:linear-gradient(90deg,#feffd6 0.5px,#fcfed3 30.5px,#f7fcc6 34.5px,#e8f6b1 38.5px,#c6e9b4 42.5px,#90d4b9 44.5px,#53bdc1 46.5px,#3cb1c3 47.5px,#2498c1 49.5px,#2397c1 51.5px,#3aaec3 53.5px,#71c8bd 55.5px,#6bc6be 56.5px,#71c8bd 57.5px,#83cebb 58.5px,#bde5b5 60.5px,#dff2b2 62.5px,#eff9b6 64.5px,#fafdce 68.5px,#feffd6 74.5px,#feffd6 120.5px)"></div><div style="height:1px;background:linear-gradient(90deg,#feffd6 0.5px,#fcfed3 30.5px,#f3fabd 35.5px,#edf8b1 37.5px,#cfecb3 41.5px,#c2e7b4 42.5px,#8ed3ba 44.5px,#3db2c4 47.5px,#269bc1 49.5px,#2498c1 51.5px,#39adc3 53.5px,#50bbc2 54.5px,#71c8bd 55.5px,#6bc6be 56.5px,#71c8bd 57.5px,#80cebb 58.5px,#b9e4b5 60.5px,#cfecb3 61.5px,#eef8b3 64.5px,#f9fdcc 68.5px,#feffd6 75.5px,#feffd6 120.5px)"></div><div style="height:1px;background:linear-gradient(90deg,#feffd6 0.5px,#fcfed3 29.5px,#f1fabb 35.5px,#eaf7b1 37.5px,#ceecb3 41.5px,#c0e6b5 42.5px,#8ed3ba 44.5px,#3eb3c4 47.5px,#289cc1 49.5px,#259ac1 51.5px,#39adc3 53.5px,#4ebbc2 54.5px,#6dc6be 55.5px,#6fc7bd 57.5px,#7ecdbb 58.5px,#cbebb4 61.5px,#edf8b1 64.5px,#fafdcf 69.5px,#feffd6 77.5px,#feffd6 120.5px)"></div><div style="height:1px;background:linear-gradient(90deg,#feffd6 0.5px,#fdfed4 28.5px,#f3fabf 34.5px,#edf8b2 36.5px,#cdebb4 41.5px,#bde5b5 42.5px,#3fb4c4 47.5px,#2a9ec1 49.5px,#269bc1 51.5px,#39adc3 53.5px,#4cbac2 54.5px,#69c5be 55.5px,#6dc6be 57.5px,#92d5b9 59.5px,#c9eab4 61.5px,#eaf7b1 64.5px,#fcfed1 70.5px,#feffd6 83.5px,#feffd6 120.5px)"></div><div style="height:1px;background:linear-gradient(90deg,#feffd6 0.5px,#fcfed3 28.5px,#f2fabc 34.5px,#ecf7b1 36.5px,#cbebb4 41.5px,#bde5b5 42.5px,#40b5c4 47.5px,#2ca1c2 49.5px,#289cc1 51.5px,#37acc3 53.5px,#4ab9c3 54.5px,#65c3bf 55.5px,#6dc6be 57.5px,#7acbbc 58.5px,#abdeb7 60.5px,#c6e9b4 61.5px,#e8f6b1 64.5px,#fbfdd0 70.5px,#feffd6 79.5px,#feffd6 120.5px)"></div><div style="height:1px;background:linear-gradient(90deg,#feffd6 0.5px,#fcfed3 27.5px,#f5fbc4 32.5px,#eaf7b1 36.5px,#caeab4 41.5px,#bbe4b5 42.5px,#42b6c4 47.5px,#2da2c2 49.5px,#2a9ec1 51.5px,#37acc3 53.5px,#48b9c3 54.5px,#61c2bf 55.5px,#6bc6be 56.5px,#6dc6be 57.5px,#78cbbc 58.5px,#8cd2ba 59.5px,#c2e7b4 61.5px,#dcf1b2 63.5px,#edf8b2 65.5px,#fafdcf 70.5px,#feffd6 78.5px,#feffd6 120.5px)"></div><div style="height:1px;background:linear-gradient(90deg,#feffd6 0.5px,#fcfed3 27.5px,#f0f9b7 34.5px,#e8f6b1 36.5px,#c9eab4 41.5px,#a2dbb8 43.5px,#44b7c4 47.5px,#2fa4c2 49.5px,#2b9fc2 51.5px,#39adc3 53.5px,#46b8c3 54.5px,#5fc1c0 55.5px,#6bc6be 56.5px,#6bc6be 57.5px,#76cabc 58.5px,#a2dbb8 60.5px,#bde5b5 61.5px,#daf0b3 63.5px,#ecf7b1 65.5px,#fbfdd0 71.5px,#feffd6 80.5px,#feffd6 120.5px)"></div><div style="height:1px;background:linear-gradient(90deg,#feffd6 0.5px,#fcfed3 26.5px,#f1faba 33.5px,#e6f5b2 36.5px,#c8e9b4 41.5px,#a2dbb8 43.5px,#46b8c3 47.5px,#31a5c2 49.5px,#2ca1c2 51.5px,#39adc3 53.5px,#46b8c3 54.5px,#5dc0c0 55.5px,#6bc6be 56.5px,#6bc6be 57.5px,#75c9bd 58.5px,#9ed9b8 60.5px,#b9e4b5 61.5px,#d7efb3 63.5px,#eff9b5 66.5px,#fbfdd0 71.5px,#feffd6 82.5px,#feffd6 120.5px)"></div><div style="height:1px;background:linear-gradient(90deg,#feffd6 0.5px,#fcfed3 25.5px,#f4fbc1 31.5px,#e9f7b1 35.5px,#c6e9b4 41.5px,#a0dab8 43.5px,#48b9c3 47.5px,#33a7c2 49.5px,#2ea3c2 51.5px,#39adc3 53.5px,#44b7c4 54.5px,#5bc0c0 55.5px,#6bc6be 56.5px,#69c5be 57.5px,#83cebb 59.5px,#c9eab4 62.5px,#edf8b2 66.5px,#fcfed1 72.5px,#feffd6 85.5px,#feffd6 120.5px)"></div><div style="height:1px;background:linear-gradient(90deg,#feffd6 0.5px,#fcfed3 25.5px,#f1faba 32.5px,#e7f6b1 35.5px,#c6e9b4 41.5px,#89d1ba 44.5px,#4ab9c3 47.5px,#3cb1c3 48.5px,#2fa4c2 51.5px,#44b7c4 54.5px,#6bc6be 56.5px,#69c5be 57.5px,#71c8bd 58.5px,#97d6b9 60.5px,#c6e9b4 62.5px,#ecf7b1 66.5px,#fbfdd0 72.5px,#feffd6 81.5px,#feffd6 120.5px)"></div><div style="height:1px;background:linear-gradient(90deg,#feffd6 0.5px,#fcfed3 24.5px,#f2fabc 31.5px,#eaf7b1 34.5px,#cdebb4 40.5px,#c4e8b4 41.5px,#89d1ba 44.5px,#4cbac2 47.5px,#36abc3 49.5px,#31a5c2 51.5px,#3aaec3 53.5px,#44b7c4 54.5px,#6bc6be 56.5px,#69c5be 57.5px,#6fc7bd 58.5px,#92d5b9 60.5px,#c2e7b4 62.5px,#daf0b3 64.5px,#eef8b3 67.5px,#fafdcf 72.5px,#feffd6 80.5px,#feffd6 120.5px)"></div><div style="height:1px;background:linear-gradient(90deg,#feffd6 0.5px,#fcfed3 23.5px,#f5fbc4 29.5px,#edf8b1 33.5px,#cbebb4 40.5px,#b2e1b6 42.5px,#4ebbc2 47.5px,#3fb4c4 48.5px,#33a7c2 51.5px,#44b7c4 54.5px,#6bc6be 56.5px,#69c5be 57.5px,#6fc7bd 58.5px,#90d4b9 60.5px,#bde5b5 62.5px,#d7efb3 64.5px,#edf8b1 67.5px,#fafdce 72.5px,#feffd6 78.5px,#feffd6 120.5px)"></div><div style="height:1px;background:linear-gradient(90deg,#feffd6 0.5px,#fcfed3 23.5px,#f2fabc 30.5px,#e7f6b1 34.5px,#cbebb4 40.5px,#b2e1b6 42.5px,#50bbc2 47.5px,#40b5c4 48.5px,#34a9c3 51.5px,#3cb1c3 53.5px,#55bec1 55.5px,#6bc6be 56.5px,#67c4be 57.5px,#6dc6be 58.5px,#8ed3ba 60.5px,#cbebb4 63.5px,#eaf7b1 67.5px,#fbfdd0 73.5px,#feffd6 84.5px,#feffd6 120.5px)"></div><div style="height:1px;background:linear-gradient(90deg,#feffd6 0.5px,#fcfed3 22.5px,#f5fbc4 28.5px,#edf8b1 32.5px,#caeab4 40.5px,#b0e0b6 42.5px,#52bcc2 47.5px,#3cb1c3 49.5px,#37acc3 52.5px,#46b8c3 54.5px,#69c5be 56.5px,#67c4be 57.5px,#78cbbc 59.5px,#a0dab8 61.5px,#c9eab4 63.5px,#edf8b2 68.5px,#fafdcf 73.5px,#feffd6 81.5px,#feffd6 120.5px)"></div><div style="height:1px;background:linear-gradient(90deg,#feffd6 0.5px,#fcfed3 22.5px,#f0f9b8 30.5px,#e7f6b1 33.5px,#caeab4 40.5px,#b0e0b6 42.5px,#53bdc1 47.5px,#3db2c4 49.5px,#39adc3 52.5px,#46b8c3 54.5px,#67c4be 56.5px,#6bc6be 58.5px,#87d0ba 60.5px,#c6e9b4 63.5px,#ecf7b1 68.5px,#fafdce 73.5px,#feffd6 81.5px,#feffd6 120.5px)"></div><div style="height:1px;background:linear-gradient(90deg,#feffd6 0.5px,#fcfed3 21.5px,#f1fabb 29.5px,#e9f7b1 32.5px,#caeab4 40.5px,#b0e0b6 42.5px,#55bec1 47.5px,#3eb3c4 49.5px,#39adc3 52.5px,#46b8c3 54.5px,#65c3bf 56.5px,#6bc6be 58.5px,#85cfba 60.5px,#c2e7b4 63.5px,#ddf2b2 66.5px,#eff9b5 69.5px,#fbfdd0 74.5px,#feffd6 85.5px,#feffd6 120.5px)"></div><div style="height:1px;background:linear-gradient(90deg,#feffd6 0.5px,#fcfed3 20.5px,#f3fabd 28.5px,#e8f6b1 32.5px,#caeab4 40.5px,#a0dab8 43.5px,#57bec1 47.5px,#48b9c3 48.5px,#39adc3 51.5px,#44b7c4 54.5px,#63c3bf 56.5px,#6bc6be 58.5px,#83cebb 60.5px,#c0e6b5 63.5px,#d5efb3 65.5px,#edf8b2 69.5px,#fafdcf 74.5px,#feffd6 82.5px,#feffd6 120.5px)"></div><div style="height:1px;background:linear-gradient(90deg,#feffd6 0.5px,#fcfed3 20.5px,#f0f9b7 29.5px,#e7f6b1 32.5px,#caeab4 40.5px,#a0dab8 43.5px,#4ab9c3 48.5px,#3bb0c3 50.5px,#3db2c4 53.5px,#52bcc2 55.5px,#61c2bf 56.5px,#73c8bd 59.5px,#92d5b9 61.5px,#caeab4 64.5px,#ecf7b1 69.5px,#fafdce 74.5px,#feffd6 82.5px,#feffd6 120.5px)"></div><div style="height:1px;background:linear-gradient(90deg,#feffd6 0.5px,#fcfed3 19.5px,#f3fabd 27.5px,#e9f7b1 31.5px,#caeab4 40.5px,#b2e1b6 42.5px,#59bfc0 47.5px,#40b5c4 49.5px,#3bb0c3 52.5px,#44b7c4 54.5px,#69c5be 57.5px,#73c8bd 59.5px,#90d4b9 61.5px,#b9e4b5 63.5px,#d0edb3 65.5px,#eff9b5 70.5px,#fbfdd0 75.5px,#feffd6 86.5px,#feffd6 120.5px)"></div><div style="height:1px;background:linear-gradient(90deg,#feffd6 0.5px,#fcfed1 19.5px,#f1fabb 27.5px,#eaf7b1 30.5px,#caeab4 40.5px,#b2e1b6 42.5px,#5bc0c0 47.5px,#42b6c4 49.5px,#3bb0c3 52.5px,#44b7c4 54.5px,#6bc6be 57.5px,#71c8bd 59.5px,#8ed3ba 61.5px,#c6e9b4 64.5px,#edf8b2 70.5px,#fafdcf 75.5px,#feffd6 83.5px,#feffd6 120.5px)"></div><div style="height:1px;background:linear-gradient(90deg,#feffd6 0.5px,#fcfed1 19.5px,#e9f7b1 30.5px,#caeab4 40.5px,#b2e1b6 42.5px,#5dc0c0 47.5px,#44b7c4 49.5px,#3bb0c3 52.5px,#44b7c4 54.5px,#6bc6be 57.5px,#71c8bd 59.5px,#9ed9b8 62.5px,#c2e7b4 64.5px,#d9f0b3 67.5px,#ecf7b1 70.5px,#fafdce 75.5px,#feffd6 83.5px,#feffd6 120.5px)"></div><div style="height:1px;background:linear-gradient(90deg,#feffd6 0.5px,#fcfed1 18.5px,#f0f9b7 27.5px,#e5f5b2 31.5px,#cfecb3 39.5px,#c0e6b5 41.5px,#7ecdbb 45.5px,#50bbc2 48.5px,#3eb3c4 50.5px,#3eb3c4 53.5px,#50bbc2 55.5px,#6bc6be 57.5px,#6fc7bd 59.5px,#9cd8b8 62.5px,#c0e6b5 64.5px,#d1edb3 66.5px,#eff9b5 71.5px,#f9fdcc 75.5px,#feffd6 82.5px,#feffd6 120.5px)"></div><div style="height:1px;background:linear-gradient(90deg,#feffd6 0.5px,#fcfed1 17.5px,#f2fabc 25.5px,#e9f7b1 29.5px,#cfecb3 39.5px,#c0e6b5 41.5px,#52bcc2 48.5px,#3fb4c4 50.5px,#3eb3c4 53.5px,#4ebbc2 55.5px,#69c5be 57.5px,#6fc7bd 59.5px,#87d0ba 61.5px,#c9eab4 65.5px,#edf8b2 71.5px,#f9fdcb 75.5px,#feffd6 83.5px,#feffd6 120.5px)"></div><div style="height:1px;background:linear-gradient(90deg,#feffd6 0.5px,#fcfed1 17.5px,#e8f6b1 29.5px,#cfecb3 39.5px,#c0e6b5 41.5px,#61c2bf 47.5px,#48b9c3 49.5px,#3db2c4 51.5px,#44b7c4 54.5px,#69c5be 57.5px,#6fc7bd 59.5px,#85cfba 61.5px,#c8e9b4 65.5px,#ecf7b1 71.5px,#fafdce 76.5px,#feffd6 84.5px,#feffd6 120.5px)"></div><div style="height:1px;background:linear-gradient(90deg,#feffd6 0.5px,#fbfdd0 17.5px,#eff9b5 26.5px,#d3eeb3 38.5px,#c0e6b5 41.5px,#53bdc1 48.5px,#40b5c4 50.5px,#3fb4c4 53.5px,#4ebbc2 55.5px,#67c4be 57.5px,#76cabc 60.5px,#c4e8b4 65.5px,#eaf7b1 71.5px,#fbfdd0 77.5px,#feffd6 88.5px,#feffd6 120.5px)"></div><div style="height:1px;background:linear-gradient(90deg,#feffd6 0.5px,#fbfdd0 16.5px,#f1fabb 24.5px,#e8f6b1 28.5px,#cfecb3 39.5px,#c0e6b5 41.5px,#92d5b9 44.5px,#55bec1 48.5px,#42b6c4 50.5px,#3fb4c4 53.5px,#4ebbc2 55.5px,#65c3bf 57.5px,#76cabc 60.5px,#80cebb 61.5px,#c2e7b4 65.5px,#eef8b3 72.5px,#fafdcf 77.5px,#feffd6 87.5px,#feffd6 120.5px)"></div><div style="height:1px;background:linear-gradient(90deg,#feffd6 0.5px,#fbfdd0 16.5px,#e9f7b1 27.5px,#cfecb3 39.5px,#c0e6b5 41.5px,#83cebb 45.5px,#4cbac2 49.5px,#3eb3c4 52.5px,#44b7c4 54.5px,#6dc6be 58.5px,#6dc6be 59.5px,#80cebb 61.5px,#bde5b5 65.5px,#edf8b1 72.5px,#fafdce 77.5px,#feffd6 85.5px,#feffd6 120.5px)"></div></div>
<div class="hm" style="left:207px;top:27px;width:120px;height:161px"><div style="height:2px;background:linear-gradient(90deg,#feffd6 0.5px,#fcfed1 18.5px,#ecf7b1 29.5px,#d7efb3 33.5px,#c2e7b4 35.5px,#42b6c4 40.5px,#2ca1c2 42.5px,#259ac1 44.5px,#2ea3c2 46.5px,#46b8c3 48.5px,#bde5b5 53.5px,#d5efb3 55.5px,#eff9b5 60.5px,#fafdcf 68.5px,#feffd6 81.5px,#feffd6 119.5px)"></div><div style="height:2px;background:linear-gradient(90deg,#feffd6 0.5px,#fcfed1 18.5px,#e9f7b1 30.5px,#d0edb3 34.5px,#c4e8b4 35.5px,#76cabc 38.5px,#44b7c4 40.5px,#2ca1c2 42.5px,#2498c1 44.5px,#2da2c2 46.5px,#44b7c4 48.5px,#bde5b5 53.5px,#d5efb3 55.5px,#edf8b1 59.5px,#fafdcf 68.5px,#feffd6 81.5px,#feffd6 119.5px)"></div><div style="height:2px;background:linear-gradient(90deg,#feffd6 0.5px,#fcfed3 18.5px,#eaf7b1 30.5px,#d3eeb3 34.5px,#c8e9b4 35.5px,#97d6b9 37.5px,#44b7c4 40.5px,#259ac1 43.5px,#259ac1 45.5px,#44b7c4 48.5px,#bde5b5 53.5px,#d5efb3 55.5px,#edf8b1 59.5px,#fafdcf 68.5px,#feffd6 81.5px,#feffd6 119.5px)"></div><div style="height:2px;background:linear-gradient(90deg,#feffd6 0.5px,#fcfed1 19.5px,#ecf7b1 30.5px,#d4eeb3 34.5px,#caeab4 35.5px,#99d7b8 37.5px,#46b8c3 40.5px,#2ca1c2 42.5px,#2296c1 44.5px,#2b9fc2 46.5px,#42b6c4 48.5px,#bde5b5 53.5px,#d5efb3 55.5px,#edf8b1 59.5px,#fafdce 67.5px,#feffd6 79.5px,#feffd6 119.5px)"></div><div style="height:2px;background:linear-gradient(90deg,#feffd6 0.5px,#fcfed1 19.5px,#e8f6b1 31.5px,#d6efb3 34.5px,#cbebb4 35.5px,#b9e4b5 36.5px,#48b9c3 40.5px,#2ca1c2 42.5px,#2296c1 44.5px,#2a9ec1 46.5px,#40b5c4 48.5px,#c0e6b5 53.5px,#ddf2b2 56.5px,#edf8b1 59.5px,#fafdce 67.5px,#feffd6 79.5px,#feffd6 119.5px)"></div><div style="height:2px;background:linear-gradient(90deg,#feffd6 0.5px,#fcfed3 19.5px,#e9f7b1 31.5px,#d7efb3 34.5px,#bde5b5 36.5px,#4ab9c3 40.5px,#37acc3 41.5px,#2498c1 43.5px,#2296c1 45.5px,#32a6c2 47.5px,#3fb4c4 48.5px,#c0e6b5 53.5px,#d6efb3 55.5px,#edf8b2 59.5px,#fbfdd0 68.5px,#feffd6 83.5px,#feffd6 119.5px)"></div><div style="height:2px;background:linear-gradient(90deg,#feffd6 0.5px,#fcfed3 19.5px,#eff9b6 29.5px,#e1f3b2 33.5px,#d0edb3 35.5px,#c2e7b4 36.5px,#4ebbc2 40.5px,#39adc3 41.5px,#2498c1 43.5px,#2195c0 45.5px,#31a5c2 47.5px,#3eb3c4 48.5px,#c0e6b5 53.5px,#d6efb3 55.5px,#edf8b2 59.5px,#fbfdd0 68.5px,#feffd6 83.5px,#feffd6 119.5px)"></div><div style="height:2px;background:linear-gradient(90deg,#feffd6 0.5px,#fcfed3 19.5px,#f1fabb 28.5px,#e8f6b1 32.5px,#d1edb3 35.5px,#c4e8b4 36.5px,#50bbc2 40.5px,#3aaec3 41.5px,#2397c1 43.5px,#2094c0 45.5px,#2fa4c2 47.5px,#3db2c4 48.5px,#6fc7bd 50.5px,#c0e6b5 53.5px,#d7efb3 55.5px,#edf8b2 59.5px,#fbfdd0 68.5px,#feffd6 83.5px,#feffd6 119.5px)"></div><div style="height:2px;background:linear-gradient(90deg,#feffd6 0.5px,#fcfed3 20.5px,#e9f7b1 32.5px,#d4eeb3 35.5px,#c8e9b4 36.5px,#52bcc2 40.5px,#3bb0c3 41.5px,#2397c1 43.5px,#1f93c0 45.5px,#2ea3c2 47.5px,#3cb1c3 48.5px,#c0e6b5 53.5px,#d7efb3 55.5px,#edf8b2 59.5px,#fafdcf 67.5px,#feffd6 80.5px,#feffd6 119.5px)"></div><div style="height:2px;background:linear-gradient(90deg,#feffd6 0.5px,#fcfed3 20.5px,#eff9b6 30.5px,#e6f5b2 33.5px,#caeab4 36.5px,#b2e1b6 37.5px,#53bdc1 40.5px,#3cb1c3 41.5px,#2397c1 43.5px,#1d91c0 45.5px,#2da2c2 47.5px,#3bb0c3 48.5px,#89d1ba 51.5px,#c0e6b5 53.5px,#cfecb3 54.5px,#eef8b3 59.5px,#fbfdd0 68.5px,#feffd6 83.5px,#feffd6 119.5px)"></div><div style="height:2px;background:linear-gradient(90deg,#feffd6 0.5px,#fcfed3 20.5px,#f1fabb 29.5px,#e7f6b1 33.5px,#cdebb4 36.5px,#b7e3b6 37.5px,#57bec1 40.5px,#3db2c4 41.5px,#2397c1 43.5px,#1d90c0 45.5px,#2ca1c2 47.5px,#3aaec3 48.5px,#50bbc2 49.5px,#c2e7b4 53.5px,#e0f3b2 56.5px,#f0f9b7 60.5px,#fcfed3 69.5px,#feffd6 119.5px)"></div><div style="height:2px;background:linear-gradient(90deg,#feffd6 0.5px,#fcfed3 21.5px,#e8f6b1 33.5px,#cfecb3 36.5px,#bbe4b5 37.5px,#59bfc0 40.5px,#3eb3c4 41.5px,#2397c1 43.5px,#1d8ebf 45.5px,#2b9fc2 47.5px,#39adc3 48.5px,#4ebbc2 49.5px,#c2e7b4 53.5px,#e0f3b2 56.5px,#f0f9b7 60.5px,#fcfed1 68.5px,#feffd6 91.5px,#feffd6 119.5px)"></div><div style="height:2px;background:linear-gradient(90deg,#feffd6 0.5px,#fcfed3 21.5px,#eff9b6 31.5px,#e3f4b2 34.5px,#d1edb3 36.5px,#c0e6b5 37.5px,#3fb4c4 41.5px,#2397c1 43.5px,#1d8ebf 45.5px,#2094c0 46.5px,#37acc3 48.5px,#6bc6be 50.5px,#c2e7b4 53.5px,#d9f0b3 55.5px,#eef8b3 59.5px,#fcfed1 68.5px,#feffd6 87.5px,#feffd6 119.5px)"></div><div style="height:2px;background:linear-gradient(90deg,#feffd6 0.5px,#fcfed3 21.5px,#f1fabb 30.5px,#e6f5b2 34.5px,#c4e8b4 37.5px,#40b5c4 41.5px,#2397c1 43.5px,#1d8ebf 44.5px,#1d8dbe 45.5px,#1f93c0 46.5px,#36abc3 48.5px,#4cbac2 49.5px,#c2e7b4 53.5px,#daf0b3 55.5px,#eef8b3 59.5px,#fcfed1 68.5px,#feffd6 87.5px,#feffd6 119.5px)"></div><div style="height:2px;background:linear-gradient(90deg,#feffd6 0.5px,#fcfed3 22.5px,#edf8b1 33.5px,#d5efb3 36.5px,#c8e9b4 37.5px,#44b7c4 41.5px,#2397c1 43.5px,#1e8bbd 45.5px,#1d91c0 46.5px,#35aac3 48.5px,#4ab9c3 49.5px,#c4e8b4 53.5px,#e1f3b2 56.5px,#eff9b5 59.5px,#fcfed1 68.5px,#feffd6 87.5px,#feffd6 119.5px)"></div><div style="height:2px;background:linear-gradient(90deg,#feffd6 0.5px,#fcfed3 22.5px,#eff9b6 32.5px,#e1f3b2 35.5px,#caeab4 37.5px,#8cd2ba 39.5px,#46b8c3 41.5px,#2498c1 43.5px,#1d8ebf 44.5px,#1e8bbd 45.5px,#1d90c0 46.5px,#35aac3 48.5px,#4ab9c3 49.5px,#c4e8b4 53.5px,#daf0b3 55.5px,#eff9b5 59.5px,#fcfed1 68.5px,#feffd6 87.5px,#feffd6 119.5px)"></div><div style="height:2px;background:linear-gradient(90deg,#feffd6 0.5px,#fdfed4 22.5px,#f0f9b7 32.5px,#e3f4b2 35.5px,#cdebb4 37.5px,#b2e1b6 38.5px,#4ab9c3 41.5px,#33a7c2 42.5px,#2498c1 43.5px,#1d8ebf 44.5px,#1e8abd 45.5px,#1d90c0 46.5px,#34a9c3 48.5px,#4ab9c3 49.5px,#c4e8b4 53.5px,#e2f4b2 56.5px,#eff9b5 59.5px,#fbfdd0 67.5px,#feffd6 82.5px,#feffd6 119.5px)"></div><div style="height:2px;background:linear-gradient(90deg,#feffd6 0.5px,#fcfed3 23.5px,#ecf7b1 34.5px,#cfecb3 37.5px,#b7e3b6 38.5px,#4cbac2 41.5px,#34a9c3 42.5px,#1d8ebf 44.5px,#1e8abd 45.5px,#1d8ebf 46.5px,#34a9c3 48.5px,#48b9c3 49.5px,#abdeb7 52.5px,#c6e9b4 53.5px,#e2f4b2 56.5px,#eff9b5 59.5px,#fbfdd0 67.5px,#feffd6 82.5px,#feffd6 119.5px)"></div><div style="height:2px;background:linear-gradient(90deg,#feffd6 0.5px,#fcfed3 23.5px,#eff9b6 33.5px,#e6f5b2 35.5px,#d1edb3 37.5px,#bde5b5 38.5px,#50bbc2 41.5px,#36abc3 42.5px,#259ac1 43.5px,#1d8ebf 44.5px,#1e8abd 45.5px,#1d8dbe 46.5px,#2498c1 47.5px,#48b9c3 49.5px,#abdeb7 52.5px,#c8e9b4 53.5px,#e3f4b2 56.5px,#eff9b6 59.5px,#fcfed1 68.5px,#feffd6 87.5px,#feffd6 119.5px)"></div><div style="height:2px;background:linear-gradient(90deg,#feffd6 0.5px,#fdfed4 23.5px,#f0f9b7 33.5px,#e8f6b1 35.5px,#d4eeb3 37.5px,#c2e7b4 38.5px,#52bcc2 41.5px,#37acc3 42.5px,#269bc1 43.5px,#1d8ebf 44.5px,#1e88bc 45.5px,#2397c1 47.5px,#48b9c3 49.5px,#aedfb6 52.5px,#c8e9b4 53.5px,#e3f4b2 56.5px,#eff9b6 59.5px,#fcfed3 68.5px,#feffd6 119.5px)"></div><div style="height:2px;background:linear-gradient(90deg,#feffd6 0.5px,#fcfed3 24.5px,#eef8b3 34.5px,#e1f3b2 36.5px,#c6e9b4 38.5px,#55bec1 41.5px,#39adc3 42.5px,#1d8ebf 44.5px,#1e88bc 45.5px,#1e8bbd 46.5px,#2397c1 47.5px,#46b8c3 49.5px,#aedfb6 52.5px,#c9eab4 53.5px,#e5f5b2 56.5px,#eff9b6 59.5px,#fcfed3 68.5px,#feffd6 119.5px)"></div><div style="height:2px;background:linear-gradient(90deg,#feffd6 0.5px,#fcfed3 24.5px,#f1faba 33.5px,#e3f4b2 36.5px,#c9eab4 38.5px,#59bfc0 41.5px,#3aaec3 42.5px,#1d8ebf 44.5px,#1e88bc 45.5px,#1e8bbd 46.5px,#2296c1 47.5px,#46b8c3 49.5px,#b0e0b6 52.5px,#c9eab4 53.5px,#e5f5b2 56.5px,#eff9b6 59.5px,#fcfed3 68.5px,#feffd6 119.5px)"></div><div style="height:2px;background:linear-gradient(90deg,#feffd6 0.5px,#fdfed4 24.5px,#f1fabb 33.5px,#edf8b1 35.5px,#cbebb4 38.5px,#aedfb6 39.5px,#5dc0c0 41.5px,#3cb1c3 42.5px,#299dc1 43.5px,#1d90c0 44.5px,#1e86bb 45.5px,#1e8abd 46.5px,#2195c0 47.5px,#46b8c3 49.5px,#b0e0b6 52.5px,#caeab4 53.5px,#e5f5b2 56.5px,#f0f9b7 59.5px,#fcfed3 68.5px,#feffd6 119.5px)"></div><div style="height:2px;background:linear-gradient(90deg,#feffd6 0.5px,#fcfed3 25.5px,#f0f9b7 34.5px,#e7f6b1 36.5px,#ceecb3 38.5px,#b2e1b6 39.5px,#3db2c4 42.5px,#1d90c0 44.5px,#1e86bb 45.5px,#1e88bc 46.5px,#2195c0 47.5px,#44b7c4 49.5px,#b0e0b6 52.5px,#caeab4 53.5px,#e6f5b2 56.5px,#f3fabf 61.5px,#fdfed4 69.5px,#feffd6 119.5px)"></div><div style="height:2px;background:linear-gradient(90deg,#feffd6 0.5px,#fcfed3 25.5px,#f1faba 34.5px,#e8f6b1 36.5px,#d0edb3 38.5px,#b7e3b6 39.5px,#3fb4c4 42.5px,#1d90c0 44.5px,#1e86bb 45.5px,#1e88bc 46.5px,#2094c0 47.5px,#44b7c4 49.5px,#b2e1b6 52.5px,#cbebb4 53.5px,#e6f5b2 56.5px,#f3fabf 61.5px,#fdfed4 69.5px,#feffd6 119.5px)"></div><div style="height:2px;background:linear-gradient(90deg,#feffd6 0.5px,#fcfed3 26.5px,#eaf7b1 36.5px,#d3eeb3 38.5px,#bbe4b5 39.5px,#42b6c4 42.5px,#2ca1c2 43.5px,#1d91c0 44.5px,#1e86bb 45.5px,#1e86bb 46.5px,#1f93c0 47.5px,#44b7c4 49.5px,#b2e1b6 52.5px,#cbebb4 53.5px,#e7f6b1 56.5px,#f3fabf 61.5px,#fdfed4 69.5px,#feffd6 119.5px)"></div><div style="height:2px;background:linear-gradient(90deg,#feffd6 0.5px,#fcfed3 26.5px,#f0f9b7 35.5px,#e2f4b2 37.5px,#c2e7b4 39.5px,#46b8c3 42.5px,#1d91c0 44.5px,#1e86bb 45.5px,#1e86bb 46.5px,#1d91c0 47.5px,#42b6c4 49.5px,#b4e2b6 52.5px,#cdebb4 53.5px,#e7f6b1 56.5px,#f2fabc 60.5px,#fcfed3 68.5px,#feffd6 119.5px)"></div><div style="height:2px;background:linear-gradient(90deg,#feffd6 0.5px,#fcfed3 26.5px,#f0f9b8 35.5px,#e5f5b2 37.5px,#c6e9b4 39.5px,#48b9c3 42.5px,#2fa4c2 43.5px,#1f93c0 44.5px,#1e85ba 45.5px,#1e85ba 46.5px,#1d91c0 47.5px,#42b6c4 49.5px,#b4e2b6 52.5px,#ceecb3 53.5px,#e8f6b1 56.5px,#fcfed3 68.5px,#feffd6 119.5px)"></div><div style="height:2px;background:linear-gradient(90deg,#feffd6 0.5px,#fcfed3 27.5px,#f1faba 35.5px,#e7f6b1 37.5px,#caeab4 39.5px,#a5dcb7 40.5px,#4cbac2 42.5px,#31a5c2 43.5px,#1f93c0 44.5px,#1e85ba 45.5px,#1e85ba 46.5px,#1d90c0 47.5px,#42b6c4 49.5px,#b7e3b6 52.5px,#ceecb3 53.5px,#e8f6b1 56.5px,#f5fbc4 62.5px,#fdfed4 69.5px,#feffd6 119.5px)"></div><div style="height:2px;background:linear-gradient(90deg,#feffd6 0.5px,#fcfed3 27.5px,#f2fabc 35.5px,#eaf7b1 37.5px,#cfecb3 39.5px,#aedfb6 40.5px,#53bdc1 42.5px,#34a9c3 43.5px,#2195c0 44.5px,#1e85ba 45.5px,#1f82b9 46.5px,#1d8dbe 47.5px,#299dc1 48.5px,#3eb3c4 49.5px,#b4e2b6 52.5px,#ceecb3 53.5px,#e8f6b1 56.5px,#f5fbc4 62.5px,#fdfed4 69.5px,#feffd6 119.5px)"></div><div style="height:2px;background:linear-gradient(90deg,#feffd6 0.5px,#fcfed3 27.5px,#f3fabd 35.5px,#edf8b2 37.5px,#d5efb3 39.5px,#bbe4b5 40.5px,#5fc1c0 42.5px,#39adc3 43.5px,#2397c1 44.5px,#1e85ba 45.5px,#1f80b8 46.5px,#1e88bc 47.5px,#259ac1 48.5px,#3bb0c3 49.5px,#b2e1b6 52.5px,#ceecb3 53.5px,#e9f7b1 56.5px,#f7fcc7 63.5px,#fdfed5 70.5px,#feffd6 119.5px)"></div><div style="height:2px;background:linear-gradient(90deg,#feffd6 0.5px,#fcfed3 28.5px,#f1fabb 36.5px,#e8f6b1 38.5px,#c6e9b4 40.5px,#3db2c4 43.5px,#269bc1 44.5px,#1e86bb 45.5px,#1f7db6 46.5px,#1e83ba 47.5px,#2296c1 48.5px,#37acc3 49.5px,#85cfba 51.5px,#b0e0b6 52.5px,#cdebb4 53.5px,#e3f4b2 55.5px,#eff9b5 58.5px,#fcfed3 67.5px,#feffd6 119.5px)"></div><div style="height:2px;background:linear-gradient(90deg,#feffd6 0.5px,#fcfed3 28.5px,#f0f9b8 37.5px,#ecf7b1 38.5px,#ceecb3 40.5px,#a7dcb7 41.5px,#44b7c4 43.5px,#2a9ec1 44.5px,#1e88bc 45.5px,#1f7bb6 46.5px,#1f80b8 47.5px,#1f93c0 48.5px,#34a9c3 49.5px,#55bec1 50.5px,#aedfb6 52.5px,#cdebb4 53.5px,#e3f4b2 55.5px,#eff9b6 58.5px,#fcfed3 67.5px,#feffd6 119.5px)"></div><div style="height:2px;background:linear-gradient(90deg,#feffd6 0.5px,#fcfed3 28.5px,#f1fabb 37.5px,#eff9b5 38.5px,#d4eeb3 40.5px,#b4e2b6 41.5px,#50bbc2 43.5px,#2da2c2 44.5px,#1e8bbd 45.5px,#1f7bb6 46.5px,#1f7bb6 47.5px,#1d8dbe 48.5px,#2fa4c2 49.5px,#50bbc2 50.5px,#abdeb7 52.5px,#cbebb4 53.5px,#e3f4b2 55.5px,#eff9b6 58.5px,#fcfed3 67.5px,#feffd6 119.5px)"></div><div style="height:2px;background:linear-gradient(90deg,#feffd6 0.5px,#fcfed3 29.5px,#f3fabd 37.5px,#e9f7b1 39.5px,#dbf1b2 40.5px,#c4e8b4 41.5px,#59bfc0 43.5px,#33a7c2 44.5px,#1d8ebf 45.5px,#1f7bb6 46.5px,#1f78b4 47.5px,#1e88bc 48.5px,#2b9fc2 49.5px,#4ab9c3 50.5px,#a9ddb7 52.5px,#cbebb4 53.5px,#e3f4b2 55.5px,#eff9b6 58.5px,#fcfed3 67.5px,#feffd6 119.5px)"></div><div style="height:2px;background:linear-gradient(90deg,#feffd6 0.5px,#fcfed3 29.5px,#f1fabb 38.5px,#edf8b2 39.5px,#e1f3b2 40.5px,#cdebb4 41.5px,#9ed9b8 42.5px,#67c4be 43.5px,#39adc3 44.5px,#1f93c0 45.5px,#1f7bb6 46.5px,#2075b3 47.5px,#1e83ba 48.5px,#289cc1 49.5px,#44b7c4 50.5px,#a5dcb7 52.5px,#caeab4 53.5px,#e3f4b2 55.5px,#eff9b6 58.5px,#fcfed3 67.5px,#feffd6 119.5px)"></div><div style="height:2px;background:linear-gradient(90deg,#feffd6 0.5px,#fdfed4 29.5px,#f3fabd 38.5px,#f0f9b7 39.5px,#e6f5b2 40.5px,#d4eeb3 41.5px,#aedfb6 42.5px,#3eb3c4 44.5px,#2296c1 45.5px,#1f7db6 46.5px,#2073b2 47.5px,#1f7eb7 48.5px,#2397c1 49.5px,#3eb3c4 50.5px,#a2dbb8 52.5px,#caeab4 53.5px,#e5f5b2 55.5px,#f1faba 59.5px,#fcfed1 66.5px,#feffd6 82.5px,#feffd6 119.5px)"></div><div style="height:2px;background:linear-gradient(90deg,#feffd6 0.5px,#fcfed3 30.5px,#f4fbc1 38.5px,#ecf7b1 40.5px,#dbf1b2 41.5px,#bde5b5 42.5px,#48b9c3 44.5px,#269bc1 45.5px,#1f7eb7 46.5px,#2070b0 47.5px,#1f78b4 48.5px,#1f93c0 49.5px,#3bb0c3 50.5px,#9ed9b8 52.5px,#c9eab4 53.5px,#e5f5b2 55.5px,#f1faba 59.5px,#fcfed3 67.5px,#feffd6 119.5px)"></div><div style="height:2px;background:linear-gradient(90deg,#feffd6 0.5px,#fcfed3 30.5px,#f3fabd 39.5px,#eff9b5 40.5px,#e1f3b2 41.5px,#caeab4 42.5px,#55bec1 44.5px,#2ca1c2 45.5px,#1f82b9 46.5px,#2070b0 47.5px,#2075b3 48.5px,#1d8dbe 49.5px,#36abc3 50.5px,#65c3bf 51.5px,#9cd8b8 52.5px,#c9eab4 53.5px,#e5f5b2 55.5px,#f0f9b7 58.5px,#fcfed3 67.5px,#feffd6 119.5px)"></div><div style="height:2px;background:linear-gradient(90deg,#feffd6 0.5px,#fdfed4 30.5px,#f4fbc0 39.5px,#f0f9b7 40.5px,#e5f5b2 41.5px,#ceecb3 42.5px,#9cd8b8 43.5px,#5dc0c0 44.5px,#2fa4c2 45.5px,#1e85ba 46.5px,#2070b0 47.5px,#2072b1 48.5px,#1e8abd 49.5px,#33a7c2 50.5px,#5fc1c0 51.5px,#c6e9b4 53.5px,#e5f5b2 55.5px,#f0f9b7 58.5px,#fcfed3 67.5px,#feffd6 119.5px)"></div><div style="height:2px;background:linear-gradient(90deg,#feffd6 0.5px,#fcfed3 31.5px,#f4fbc1 39.5px,#e7f6b1 41.5px,#d3eeb3 42.5px,#a5dcb7 43.5px,#67c4be 44.5px,#34a9c3 45.5px,#1e8abd 46.5px,#2072b1 47.5px,#2070b0 48.5px,#1e85ba 49.5px,#2fa4c2 50.5px,#59bfc0 51.5px,#c2e7b4 53.5px,#d7efb3 54.5px,#eaf7b1 56.5px,#fcfed3 67.5px,#feffd6 119.5px)"></div><div style="height:2px;background:linear-gradient(90deg,#feffd6 0.5px,#fcfed3 31.5px,#f5fbc2 39.5px,#eaf7b1 41.5px,#d6efb3 42.5px,#aedfb6 43.5px,#6fc7bd 44.5px,#39adc3 45.5px,#1d8ebf 46.5px,#2073b2 47.5px,#206eb0 48.5px,#1f82b9 49.5px,#2b9fc2 50.5px,#52bcc2 51.5px,#bde5b5 53.5px,#d6efb3 54.5px,#eaf7b1 56.5px,#fdfed4 68.5px,#feffd6 119.5px)"></div><div style="height:2px;background:linear-gradient(90deg,#feffd6 0.5px,#fcfed3 32.5px,#f6fbc5 39.5px,#edf8b1 41.5px,#daf0b3 42.5px,#b7e3b6 43.5px,#3db2c4 45.5px,#1f93c0 46.5px,#2075b3 47.5px,#206eb0 48.5px,#1f7db6 49.5px,#289cc1 50.5px,#4cbac2 51.5px,#b9e4b5 53.5px,#d5efb3 54.5px,#eaf7b1 56.5px,#fdfed4 68.5px,#feffd6 119.5px)"></div><div style="height:2px;background:linear-gradient(90deg,#feffd6 0.5px,#fcfed3 32.5px,#f7fcc6 39.5px,#eff9b5 41.5px,#ddf2b2 42.5px,#c0e6b5 43.5px,#44b7c4 45.5px,#2296c1 46.5px,#1f78b4 47.5px,#216daf 48.5px,#1f7ab5 49.5px,#2498c1 50.5px,#46b8c3 51.5px,#b4e2b6 53.5px,#d3eeb3 54.5px,#e2f4b2 55.5px,#eef8b3 57.5px,#fdfed4 68.5px,#feffd6 119.5px)"></div><div style="height:2px;background:linear-gradient(90deg,#feffd6 0.5px,#fcfed3 33.5px,#f7fcc7 39.5px,#f0f9b7 41.5px,#e2f4b2 42.5px,#c8e9b4 43.5px,#4cbac2 45.5px,#259ac1 46.5px,#1f7bb6 47.5px,#216daf 48.5px,#2076b3 49.5px,#2195c0 50.5px,#3fb4c4 51.5px,#b0e0b6 53.5px,#d1edb3 54.5px,#e1f3b2 55.5px,#eef8b3 57.5px,#fdfed4 68.5px,#feffd6 119.5px)"></div><div style="height:2px;background:linear-gradient(90deg,#feffd6 0.5px,#fcfed3 33.5px,#f8fcc9 39.5px,#f1faba 41.5px,#e6f5b2 42.5px,#cdebb4 43.5px,#95d5b9 44.5px,#55bec1 45.5px,#2a9ec1 46.5px,#1f7eb7 47.5px,#216daf 48.5px,#2075b3 49.5px,#1d91c0 50.5px,#3cb1c3 51.5px,#a9ddb7 53.5px,#d0edb3 54.5px,#e9f7b1 56.5px,#fcfed3 68.5px,#feffd6 119.5px)"></div><div style="height:2px;background:linear-gradient(90deg,#feffd6 0.5px,#fcfed3 34.5px,#f6fbc5 40.5px,#e9f7b1 42.5px,#d1edb3 43.5px,#a0dab8 44.5px,#5dc0c0 45.5px,#2ea3c2 46.5px,#1f82b9 47.5px,#216daf 48.5px,#2072b1 49.5px,#1d8dbe 50.5px,#37acc3 51.5px,#a5dcb7 53.5px,#ceecb3 54.5px,#e9f7b1 56.5px,#fdfed4 69.5px,#feffd6 119.5px)"></div><div style="height:2px;background:linear-gradient(90deg,#feffd6 0.5px,#fcfed3 34.5px,#f7fcc7 40.5px,#ecf7b1 42.5px,#d6efb3 43.5px,#a9ddb7 44.5px,#67c4be 45.5px,#33a7c2 46.5px,#1e86bb 47.5px,#206eb0 48.5px,#2070b0 49.5px,#1e88bc 50.5px,#34a9c3 51.5px,#65c3bf 52.5px,#9ed9b8 53.5px,#cbebb4 54.5px,#ddf2b2 55.5px,#edf8b2 57.5px,#fcfed3 68.5px,#feffd6 119.5px)"></div><div style="height:2px;background:linear-gradient(90deg,#feffd6 0.5px,#fcfed3 35.5px,#f8fcc9 40.5px,#eef8b3 42.5px,#dbf1b2 43.5px,#b4e2b6 44.5px,#71c8bd 45.5px,#39adc3 46.5px,#1e8bbd 47.5px,#2070b0 48.5px,#206eb0 49.5px,#1e83ba 50.5px,#2fa4c2 51.5px,#5dc0c0 52.5px,#99d7b8 53.5px,#c9eab4 54.5px,#dcf1b2 55.5px,#edf8b2 57.5px,#fcfed3 68.5px,#feffd6 119.5px)"></div><div style="height:2px;background:linear-gradient(90deg,#feffd6 0.5px,#fcfed3 36.5px,#f9fdcb 40.5px,#f0f9b7 42.5px,#dff2b2 43.5px,#bde5b5 44.5px,#3db2c4 46.5px,#1d90c0 47.5px,#2072b1 48.5px,#216daf 49.5px,#1f80b8 50.5px,#2ca1c2 51.5px,#57bec1 52.5px,#92d5b9 53.5px,#c6e9b4 54.5px,#dbf1b2 55.5px,#edf8b2 57.5px,#fcfed3 68.5px,#feffd6 119.5px)"></div><div style="height:2px;background:linear-gradient(90deg,#feffd6 0.5px,#fcfed3 37.5px,#f7fcc6 41.5px,#f1faba 42.5px,#e3f4b2 43.5px,#c8e9b4 44.5px,#44b7c4 46.5px,#2094c0 47.5px,#2075b3 48.5px,#216bae 49.5px,#1f7bb6 50.5px,#299dc1 51.5px,#50bbc2 52.5px,#c2e7b4 54.5px,#daf0b3 55.5px,#edf8b2 57.5px,#fdfed4 69.5px,#feffd6 119.5px)"></div><div style="height:2px;background:linear-gradient(90deg,#feffd6 0.5px,#fcfed3 39.5px,#fbfdd0 41.5px,#f8fcc9 42.5px,#f1faba 43.5px,#daf0b3 44.5px,#9cd8b8 45.5px,#4ab9c3 46.5px,#1f93c0 47.5px,#2073b2 48.5px,#216bae 49.5px,#2073b2 50.5px,#1f93c0 51.5px,#48b9c3 52.5px,#92d5b9 53.5px,#d0edb3 54.5px,#e7f6b1 55.5px,#f0f9b8 57.5px,#fdfed5 70.5px,#feffd6 119.5px)"></div><div style="height:2px;background:linear-gradient(90deg,#feffd6 0.5px,#fcfed3 40.5px,#f8fcca 42.5px,#f1fabb 43.5px,#dbf1b2 44.5px,#9ed9b8 45.5px,#4ebbc2 46.5px,#2195c0 47.5px,#2076b3 48.5px,#216daf 49.5px,#2073b2 50.5px,#1d8ebf 51.5px,#3db2c4 52.5px,#c4e8b4 54.5px,#e0f3b2 55.5px,#edf8b1 56.5px,#fdfed4 69.5px,#feffd6 119.5px)"></div><div style="height:2px;background:linear-gradient(90deg,#feffd6 0.5px,#fcfed3 40.5px,#f9fdcb 42.5px,#f1fabb 43.5px,#dcf1b2 44.5px,#a2dbb8 45.5px,#52bcc2 46.5px,#2498c1 47.5px,#1f7ab5 48.5px,#2070b0 49.5px,#2073b2 50.5px,#1e8bbd 51.5px,#36abc3 52.5px,#6fc7bd 53.5px,#b2e1b6 54.5px,#d7efb3 55.5px,#e9f7b1 56.5px,#f3fabf 61.5px,#fdfed4 70.5px,#feffd6 119.5px)"></div><div style="height:2px;background:linear-gradient(90deg,#feffd6 0.5px,#fdfed4 40.5px,#f9fdcb 42.5px,#f2fabc 43.5px,#ddf2b2 44.5px,#a5dcb7 45.5px,#55bec1 46.5px,#269bc1 47.5px,#1f7db6 48.5px,#2072b1 49.5px,#2075b3 50.5px,#1e88bc 51.5px,#32a6c2 52.5px,#61c2bf 53.5px,#a0dab8 54.5px,#d0edb3 55.5px,#e3f4b2 56.5px,#edf8b2 57.5px,#fdfed4 69.5px,#feffd6 119.5px)"></div><div style="height:2px;background:linear-gradient(90deg,#feffd6 0.5px,#fcfed3 41.5px,#f9fdcc 42.5px,#f3fabd 43.5px,#dff2b2 44.5px,#a9ddb7 45.5px,#59bfc0 46.5px,#299dc1 47.5px,#1f80b8 48.5px,#2075b3 49.5px,#2076b3 50.5px,#1e86bb 51.5px,#2da2c2 52.5px,#53bdc1 53.5px,#c8e9b4 55.5px,#ddf2b2 56.5px,#eaf7b1 57.5px,#fcfed3 69.5px,#feffd6 119.5px)"></div><div style="height:2px;background:linear-gradient(90deg,#feffd6 0.5px,#fdfed4 41.5px,#f3fabf 43.5px,#e0f3b2 44.5px,#aedfb6 45.5px,#5dc0c0 46.5px,#2ca1c2 47.5px,#1e83ba 48.5px,#2076b3 49.5px,#1f78b4 50.5px,#1e85ba 51.5px,#299dc1 52.5px,#4ab9c3 53.5px,#b9e4b5 55.5px,#d6efb3 56.5px,#e6f5b2 57.5px,#f0f9b8 59.5px,#fcfed3 69.5px,#feffd6 119.5px)"></div><div style="height:2px;background:linear-gradient(90deg,#feffd6 0.5px,#fcfed3 40.5px,#f9fdcb 42.5px,#f2fabc 43.5px,#dff2b2 44.5px,#aedfb6 45.5px,#5fc1c0 46.5px,#2da2c2 47.5px,#1e85ba 48.5px,#1f7ab5 49.5px,#1f7ab5 50.5px,#1e85ba 51.5px,#269bc1 52.5px,#40b5c4 53.5px,#a9ddb7 55.5px,#d0edb3 56.5px,#ecf7b1 58.5px,#fcfed1 68.5px,#feffd6 84.5px,#feffd6 119.5px)"></div><div style="height:2px;background:linear-gradient(90deg,#feffd6 0.5px,#fcfed3 37.5px,#fafdce 41.5px,#f8fcc9 42.5px,#f1fabb 43.5px,#ddf2b2 44.5px,#aedfb6 45.5px,#61c2bf 46.5px,#2fa4c2 47.5px,#1e88bc 48.5px,#1f7bb6 49.5px,#1f7bb6 50.5px,#1e85ba 51.5px,#2498c1 52.5px,#3cb1c3 53.5px,#67c4be 54.5px,#9cd8b8 55.5px,#c9eab4 56.5px,#dcf1b2 57.5px,#eff9b5 59.5px,#fcfed3 69.5px,#feffd6 119.5px)"></div><div style="height:2px;background:linear-gradient(90deg,#feffd6 0.5px,#fcfed3 35.5px,#f9fdcc 41.5px,#f7fcc6 42.5px,#f0f9b8 43.5px,#dcf1b2 44.5px,#aedfb6 45.5px,#63c3bf 46.5px,#31a5c2 47.5px,#1e8abd 48.5px,#1f7db6 49.5px,#1f7db6 50.5px,#1e85ba 51.5px,#2296c1 52.5px,#37acc3 53.5px,#5dc0c0 54.5px,#bde5b5 56.5px,#d6efb3 57.5px,#edf8b2 59.5px,#fcfed1 68.5px,#feffd6 84.5px,#feffd6 119.5px)"></div><div style="height:2px;background:linear-gradient(90deg,#feffd6 0.5px,#fcfed3 33.5px,#f8fcc9 41.5px,#f5fbc4 42.5px,#eff9b6 43.5px,#dbf1b2 44.5px,#abdeb7 45.5px,#65c3bf 46.5px,#33a7c2 47.5px,#1d8ebf 48.5px,#1f82b9 49.5px,#1f80b8 50.5px,#1e86bb 51.5px,#2296c1 52.5px,#34a9c3 53.5px,#53bdc1 54.5px,#aedfb6 56.5px,#cfecb3 57.5px,#e9f7b1 59.5px,#f7fcc6 64.5px,#fdfed5 71.5px,#feffd6 119.5px)"></div><div style="height:2px;background:linear-gradient(90deg,#feffd6 0.5px,#fcfed3 31.5px,#f7fcc6 41.5px,#f4fbc1 42.5px,#eef8b3 43.5px,#d9f0b3 44.5px,#a9ddb7 45.5px,#65c3bf 46.5px,#35aac3 47.5px,#1f93c0 48.5px,#1e85ba 49.5px,#1e8abd 51.5px,#2296c1 52.5px,#32a6c2 53.5px,#4cbac2 54.5px,#c6e9b4 57.5px,#e5f5b2 59.5px,#f0f9b8 61.5px,#fbfdd0 68.5px,#feffd6 80.5px,#feffd6 119.5px)"></div><div style="height:2px;background:linear-gradient(90deg,#feffd6 0.5px,#fcfed3 30.5px,#f5fbc4 41.5px,#f3fabf 42.5px,#edf8b1 43.5px,#d7efb3 44.5px,#a9ddb7 45.5px,#67c4be 46.5px,#36abc3 47.5px,#2195c0 48.5px,#1e8abd 49.5px,#1d8dbe 51.5px,#2296c1 52.5px,#44b7c4 54.5px,#b7e3b6 57.5px,#d0edb3 58.5px,#e9f7b1 60.5px,#fafdce 67.5px,#feffd6 77.5px,#feffd6 119.5px)"></div><div style="height:2px;background:linear-gradient(90deg,#feffd6 0.5px,#fcfed3 29.5px,#f5fbc2 41.5px,#eaf7b1 43.5px,#d5efb3 44.5px,#a7dcb7 45.5px,#67c4be 46.5px,#39adc3 47.5px,#2397c1 48.5px,#1d8dbe 49.5px,#1d8ebf 51.5px,#2296c1 52.5px,#3fb4c4 54.5px,#c9eab4 58.5px,#e5f5b2 60.5px,#f0f9b7 62.5px,#fbfdd0 69.5px,#feffd6 82.5px,#feffd6 119.5px)"></div><div style="height:2px;background:linear-gradient(90deg,#feffd6 0.5px,#fcfed3 28.5px,#f4fbc1 39.5px,#f4fbc0 41.5px,#e9f7b1 43.5px,#d4eeb3 44.5px,#a7dcb7 45.5px,#69c5be 46.5px,#3bb0c3 47.5px,#269bc1 48.5px,#1d91c0 49.5px,#1d91c0 51.5px,#2da2c2 53.5px,#3cb1c3 54.5px,#76cabc 56.5px,#bde5b5 58.5px,#dff2b2 60.5px,#eef8b3 62.5px,#f8fcca 67.5px,#feffd6 76.5px,#feffd6 119.5px)"></div><div style="height:2px;background:linear-gradient(90deg,#feffd6 0.5px,#fcfed3 27.5px,#f3fabf 38.5px,#f3fabd 41.5px,#e7f6b1 43.5px,#d3eeb3 44.5px,#a5dcb7 45.5px,#6bc6be 46.5px,#3db2c4 47.5px,#299dc1 48.5px,#2094c0 49.5px,#2498c1 52.5px,#3aaec3 54.5px,#50bbc2 55.5px,#b2e1b6 58.5px,#cbebb4 59.5px,#ecf7b1 62.5px,#f9fdcb 68.5px,#feffd6 78.5px,#feffd6 119.5px)"></div><div style="height:2px;background:linear-gradient(90deg,#feffd6 0.5px,#fcfed3 25.5px,#f2fabc 38.5px,#f1fabb 41.5px,#eff9b6 42.5px,#e5f5b2 43.5px,#d0edb3 44.5px,#a2dbb8 45.5px,#6bc6be 46.5px,#3eb3c4 47.5px,#2b9fc2 48.5px,#2195c0 49.5px,#259ac1 52.5px,#39adc3 54.5px,#4ab9c3 55.5px,#c4e8b4 59.5px,#dff2b2 61.5px,#eef8b3 63.5px,#fafdcf 70.5px,#feffd6 83.5px,#feffd6 119.5px)"></div><div style="height:2px;background:linear-gradient(90deg,#feffd6 0.5px,#fcfed3 24.5px,#f2fabc 37.5px,#f1fabb 41.5px,#eff9b5 42.5px,#e3f4b2 43.5px,#cfecb3 44.5px,#a2dbb8 45.5px,#6bc6be 46.5px,#3eb3c4 47.5px,#2ca1c2 48.5px,#2195c0 50.5px,#2ca1c2 53.5px,#46b8c3 55.5px,#b9e4b5 59.5px,#ceecb3 60.5px,#ecf7b1 63.5px,#f9fdcb 69.5px,#feffd6 79.5px,#feffd6 119.5px)"></div><div style="height:2px;background:linear-gradient(90deg,#feffd6 0.5px,#fcfed3 23.5px,#f1fabb 36.5px,#f1fabb 41.5px,#eef8b3 42.5px,#e2f4b2 43.5px,#ceecb3 44.5px,#a0dab8 45.5px,#6bc6be 46.5px,#3fb4c4 47.5px,#2da2c2 48.5px,#2296c1 50.5px,#2b9fc2 53.5px,#40b5c4 55.5px,#92d5b9 58.5px,#c9eab4 60.5px,#e8f6b1 63.5px,#f8fcca 69.5px,#fdfed5 77.5px,#feffd6 119.5px)"></div><div style="height:2px;background:linear-gradient(90deg,#feffd6 0.5px,#fcfed1 23.5px,#f1faba 35.5px,#f1faba 41.5px,#edf8b2 42.5px,#e1f3b2 43.5px,#cdebb4 44.5px,#6bc6be 46.5px,#40b5c4 47.5px,#2ea3c2 48.5px,#2397c1 50.5px,#2b9fc2 53.5px,#3eb3c4 55.5px,#6dc6be 57.5px,#c2e7b4 60.5px,#dcf1b2 62.5px,#edf8b1 64.5px,#f9fdcb 70.5px,#feffd6 80.5px,#feffd6 119.5px)"></div><div style="height:2px;background:linear-gradient(90deg,#feffd6 0.5px,#fcfed1 22.5px,#f1faba 34.5px,#f1faba 41.5px,#edf8b2 42.5px,#cbebb4 44.5px,#6bc6be 46.5px,#40b5c4 47.5px,#2fa4c2 48.5px,#2498c1 50.5px,#2a9ec1 53.5px,#3cb1c3 55.5px,#4ebbc2 56.5px,#b9e4b5 60.5px,#cdebb4 61.5px,#e9f7b1 64.5px,#fafdcf 72.5px,#feffd6 85.5px,#feffd6 119.5px)"></div><div style="height:2px;background:linear-gradient(90deg,#feffd6 0.5px,#fcfed1 21.5px,#f0f9b8 34.5px,#f2fabc 40.5px,#edf8b1 42.5px,#caeab4 44.5px,#6bc6be 46.5px,#42b6c4 47.5px,#31a5c2 48.5px,#2498c1 50.5px,#2a9ec1 53.5px,#3bb0c3 55.5px,#4ab9c3 56.5px,#95d5b9 59.5px,#c8e9b4 61.5px,#edf8b1 65.5px,#f9fdcb 71.5px,#feffd6 81.5px,#feffd6 119.5px)"></div><div style="height:2px;background:linear-gradient(90deg,#feffd6 0.5px,#fcfed1 20.5px,#f0f9b7 33.5px,#f2fabc 40.5px,#ecf7b1 42.5px,#c9eab4 44.5px,#6bc6be 46.5px,#44b7c4 47.5px,#32a6c2 48.5px,#259ac1 50.5px,#2a9ec1 53.5px,#39adc3 55.5px,#46b8c3 56.5px,#8cd2ba 59.5px,#c0e6b5 61.5px,#daf0b3 63.5px,#eff9b5 66.5px,#fafdcf 73.5px,#feffd6 86.5px,#feffd6 119.5px)"></div><div style="height:2px;background:linear-gradient(90deg,#feffd6 0.5px,#fbfdd0 20.5px,#eff9b6 33.5px,#f1fabb 40.5px,#eaf7b1 42.5px,#c8e9b4 44.5px,#6bc6be 46.5px,#44b7c4 47.5px,#33a7c2 48.5px,#269bc1 50.5px,#2a9ec1 53.5px,#42b6c4 56.5px,#83cebb 59.5px,#b7e3b6 61.5px,#caeab4 62.5px,#edf8b1 66.5px,#f9fdcb 72.5px,#feffd6 82.5px,#feffd6 119.5px)"></div><div style="height:2px;background:linear-gradient(90deg,#feffd6 0.5px,#fbfdd0 19.5px,#eff9b6 32.5px,#f1fabb 40.5px,#eaf7b1 42.5px,#c8e9b4 44.5px,#6bc6be 46.5px,#46b8c3 47.5px,#34a9c3 48.5px,#289cc1 50.5px,#2a9ec1 53.5px,#3fb4c4 56.5px,#95d5b9 60.5px,#c6e9b4 62.5px,#eaf7b1 66.5px,#fafdce 74.5px,#feffd6 86.5px,#feffd6 119.5px)"></div><div style="height:2px;background:linear-gradient(90deg,#feffd6 0.5px,#fcfed1 17.5px,#eff9b5 31.5px,#f1fabb 40.5px,#e9f7b1 42.5px,#c6e9b4 44.5px,#6bc6be 46.5px,#48b9c3 47.5px,#35aac3 48.5px,#299dc1 50.5px,#2a9ec1 53.5px,#3eb3c4 56.5px,#76cabc 59.5px,#bde5b5 62.5px,#d7efb3 64.5px,#edf8b1 67.5px,#f7fcc7 72.5px,#fdfed5 82.5px,#feffd6 119.5px)"></div><div style="height:2px;background:linear-gradient(90deg,#feffd6 0.5px,#fbfdd0 16.5px,#eef8b3 31.5px,#f1fabb 40.5px,#e8f6b1 42.5px,#daf0b3 43.5px,#c4e8b4 44.5px,#6dc6be 46.5px,#48b9c3 47.5px,#36abc3 48.5px,#2a9ec1 50.5px,#2ea3c2 54.5px,#3cb1c3 56.5px,#5dc0c0 58.5px,#c9eab4 63.5px,#eaf7b1 67.5px,#fafdce 75.5px,#feffd6 87.5px,#feffd6 119.5px)"></div><div style="height:2px;background:linear-gradient(90deg,#feffd6 0.5px,#fafdcf 16.5px,#edf8b2 31.5px,#f2fabc 39.5px,#eff9b5 41.5px,#d9f0b3 43.5px,#c2e7b4 44.5px,#6dc6be 46.5px,#4ab9c3 47.5px,#37acc3 48.5px,#2a9ec1 50.5px,#2ea3c2 54.5px,#46b8c3 57.5px,#80cebb 60.5px,#c2e7b4 63.5px,#e1f3b2 66.5px,#f0f9b7 69.5px,#fafdcf 76.5px,#feffd6 92.5px,#feffd6 119.5px)"></div><div style="height:2px;background:linear-gradient(90deg,#feffd6 0.5px,#fafdcf 15.5px,#edf8b2 29.5px,#f2fabc 39.5px,#eff9b5 41.5px,#e7f6b1 42.5px,#c2e7b4 44.5px,#6dc6be 46.5px,#4cbac2 47.5px,#37acc3 48.5px,#2b9fc2 50.5px,#2ea3c2 54.5px,#44b7c4 57.5px,#7acbbc 60.5px,#bbe4b5 63.5px,#d5efb3 65.5px,#eff9b5 69.5px,#fafdce 76.5px,#feffd6 89.5px,#feffd6 119.5px)"></div><div style="height:2px;background:linear-gradient(90deg,#feffd6 0.5px,#fafdce 15.5px,#edf8b1 29.5px,#f2fabc 39.5px,#eef8b3 41.5px,#e6f5b2 42.5px,#d6efb3 43.5px,#c0e6b5 44.5px,#6dc6be 46.5px,#4cbac2 47.5px,#39adc3 48.5px,#2ca1c2 50.5px,#2ea3c2 54.5px,#40b5c4 57.5px,#75c9bd 60.5px,#c8e9b4 64.5px,#edf8b2 69.5px,#fafdcf 77.5px,#feffd6 93.5px,#feffd6 119.5px)"></div><div style="height:2px;background:linear-gradient(90deg,#feffd6 0.5px,#fafdce 14.5px,#edf8b1 28.5px,#f2fabc 39.5px,#eef8b3 41.5px,#d6efb3 43.5px,#bde5b5 44.5px,#6fc7bd 46.5px,#4ebbc2 47.5px,#3aaec3 48.5px,#2da2c2 50.5px,#2ea3c2 54.5px,#3fb4c4 57.5px,#6fc7bd 60.5px,#c2e7b4 64.5px,#e6f5b2 68.5px,#f1faba 71.5px,#fafdcf 78.5px,#feffd6 94.5px,#feffd6 119.5px)"></div></div>
<div class="hm" style="left:376px;top:27px;width:121px;height:161px"><div style="height:2px;background:linear-gradient(90deg,#feffd6 0.5px,#fcfed1 17.5px,#e8f6b1 28.5px,#d3eeb3 32.5px,#bbe4b5 34.5px,#4cbac2 39.5px,#34a9c3 41.5px,#2b9fc2 43.5px,#2ea3c2 45.5px,#3fb4c4 47.5px,#95d5b9 51.5px,#c0e6b5 53.5px,#d4eeb3 55.5px,#e8f6b1 61.5px,#f0f9b8 66.5px,#fcfed3 77.5px,#feffd6 120.5px)"></div><div style="height:2px;background:linear-gradient(90deg,#feffd6 0.5px,#fcfed1 17.5px,#eff9b6 26.5px,#dcf1b2 31.5px,#c2e7b4 34.5px,#50bbc2 39.5px,#3db2c4 40.5px,#2a9ec1 43.5px,#2da2c2 45.5px,#3eb3c4 47.5px,#7ecdbb 50.5px,#c2e7b4 53.5px,#d5efb3 55.5px,#ecf7b1 62.5px,#fdfed4 78.5px,#feffd6 120.5px)"></div><div style="height:2px;background:linear-gradient(90deg,#feffd6 0.5px,#fcfed1 18.5px,#e8f6b1 29.5px,#d1edb3 33.5px,#c8e9b4 34.5px,#9cd8b8 36.5px,#52bcc2 39.5px,#3eb3c4 40.5px,#299dc1 43.5px,#2ca1c2 45.5px,#3db2c4 47.5px,#7ecdbb 50.5px,#b0e0b6 52.5px,#c4e8b4 53.5px,#dcf1b2 56.5px,#eff9b5 64.5px,#fcfed1 76.5px,#feffd6 99.5px,#feffd6 120.5px)"></div><div style="height:2px;background:linear-gradient(90deg,#feffd6 0.5px,#fcfed1 18.5px,#eaf7b1 29.5px,#d4eeb3 33.5px,#cbebb4 34.5px,#bbe4b5 35.5px,#3fb4c4 40.5px,#289cc1 43.5px,#2b9fc2 45.5px,#3db2c4 47.5px,#7ecdbb 50.5px,#c8e9b4 53.5px,#e1f3b2 57.5px,#eff9b5 64.5px,#fcfed1 76.5px,#feffd6 99.5px,#feffd6 120.5px)"></div><div style="height:2px;background:linear-gradient(90deg,#feffd6 0.5px,#fcfed3 18.5px,#edf8b1 29.5px,#d7efb3 33.5px,#c2e7b4 35.5px,#42b6c4 40.5px,#2ca1c2 42.5px,#269bc1 44.5px,#31a5c2 46.5px,#4ebbc2 48.5px,#b4e2b6 52.5px,#c9eab4 53.5px,#dff2b2 56.5px,#eef8b3 63.5px,#fcfed3 76.5px,#feffd6 120.5px)"></div><div style="height:2px;background:linear-gradient(90deg,#feffd6 0.5px,#fcfed1 19.5px,#eaf7b1 30.5px,#d3eeb3 34.5px,#c8e9b4 35.5px,#44b7c4 40.5px,#2ca1c2 42.5px,#259ac1 44.5px,#2fa4c2 46.5px,#3bb0c3 47.5px,#67c4be 49.5px,#b9e4b5 52.5px,#caeab4 53.5px,#e0f3b2 56.5px,#eef8b3 63.5px,#fcfed3 76.5px,#feffd6 120.5px)"></div><div style="height:2px;background:linear-gradient(90deg,#feffd6 0.5px,#fcfed1 19.5px,#e9f7b1 31.5px,#cbebb4 35.5px,#b9e4b5 36.5px,#48b9c3 40.5px,#2da2c2 42.5px,#2498c1 44.5px,#2ea3c2 46.5px,#3aaec3 47.5px,#67c4be 49.5px,#bbe4b5 52.5px,#cdebb4 53.5px,#e1f3b2 56.5px,#eff9b6 64.5px,#fcfed3 76.5px,#feffd6 120.5px)"></div><div style="height:2px;background:linear-gradient(90deg,#feffd6 0.5px,#fcfed3 19.5px,#eaf7b1 31.5px,#daf0b3 34.5px,#d0edb3 35.5px,#c0e6b5 36.5px,#4cbac2 40.5px,#39adc3 41.5px,#259ac1 43.5px,#269bc1 45.5px,#3aaec3 47.5px,#4cbac2 48.5px,#bde5b5 52.5px,#d7efb3 54.5px,#e8f6b1 58.5px,#f0f9b7 64.5px,#fcfed1 75.5px,#feffd6 98.5px,#feffd6 120.5px)"></div><div style="height:2px;background:linear-gradient(90deg,#feffd6 0.5px,#fcfed3 19.5px,#f1fabb 28.5px,#e9f7b1 32.5px,#d4eeb3 35.5px,#c8e9b4 36.5px,#8ed3ba 38.5px,#50bbc2 40.5px,#3bb0c3 41.5px,#259ac1 43.5px,#2498c1 45.5px,#39adc3 47.5px,#4cbac2 48.5px,#c2e7b4 52.5px,#d9f0b3 54.5px,#e7f6b1 57.5px,#eff9b5 63.5px,#fdfed4 76.5px,#feffd6 120.5px)"></div><div style="height:2px;background:linear-gradient(90deg,#feffd6 0.5px,#fcfed3 20.5px,#ecf7b1 32.5px,#d7efb3 35.5px,#cdebb4 36.5px,#b4e2b6 37.5px,#55bec1 40.5px,#3cb1c3 41.5px,#259ac1 43.5px,#2397c1 45.5px,#37acc3 47.5px,#4cbac2 48.5px,#c4e8b4 52.5px,#dbf1b2 54.5px,#e8f6b1 57.5px,#eff9b6 63.5px,#fcfed3 75.5px,#feffd6 120.5px)"></div><div style="height:2px;background:linear-gradient(90deg,#feffd6 0.5px,#fcfed3 20.5px,#e9f7b1 33.5px,#d0edb3 36.5px,#bde5b5 37.5px,#3eb3c4 41.5px,#259ac1 43.5px,#2296c1 45.5px,#36abc3 47.5px,#4ab9c3 48.5px,#c8e9b4 52.5px,#e2f4b2 55.5px,#edf8b2 61.5px,#fcfed3 75.5px,#feffd6 120.5px)"></div><div style="height:2px;background:linear-gradient(90deg,#feffd6 0.5px,#fcfed3 20.5px,#ecf7b1 33.5px,#d5efb3 36.5px,#c6e9b4 37.5px,#40b5c4 41.5px,#259ac1 43.5px,#2195c0 45.5px,#35aac3 47.5px,#4ab9c3 48.5px,#b0e0b6 51.5px,#c9eab4 52.5px,#e5f5b2 55.5px,#eff9b6 63.5px,#fcfed3 74.5px,#feffd6 120.5px)"></div><div style="height:2px;background:linear-gradient(90deg,#feffd6 0.5px,#fcfed3 21.5px,#eaf7b1 34.5px,#cdebb4 37.5px,#b2e1b6 38.5px,#46b8c3 41.5px,#32a6c2 42.5px,#1f93c0 44.5px,#269bc1 46.5px,#34a9c3 47.5px,#4ab9c3 48.5px,#b2e1b6 51.5px,#cbebb4 52.5px,#e6f5b2 55.5px,#f0f9b7 63.5px,#fdfed4 75.5px,#feffd6 120.5px)"></div><div style="height:2px;background:linear-gradient(90deg,#feffd6 0.5px,#fcfed3 21.5px,#edf8b1 34.5px,#d1edb3 37.5px,#bbe4b5 38.5px,#4cbac2 41.5px,#34a9c3 42.5px,#1f93c0 44.5px,#259ac1 46.5px,#33a7c2 47.5px,#4ab9c3 48.5px,#b7e3b6 51.5px,#ceecb3 52.5px,#e2f4b2 54.5px,#edf8b1 58.5px,#f3fabd 65.5px,#fcfed3 74.5px,#feffd6 120.5px)"></div><div style="height:2px;background:linear-gradient(90deg,#feffd6 0.5px,#fcfed3 22.5px,#e9f7b1 35.5px,#d5efb3 37.5px,#c4e8b4 38.5px,#50bbc2 41.5px,#35aac3 42.5px,#1d91c0 44.5px,#1d90c0 45.5px,#32a6c2 47.5px,#48b9c3 48.5px,#b9e4b5 51.5px,#cfecb3 52.5px,#e3f4b2 54.5px,#edf8b1 59.5px,#fcfed3 74.5px,#feffd6 120.5px)"></div><div style="height:2px;background:linear-gradient(90deg,#feffd6 0.5px,#fcfed3 22.5px,#eaf7b1 35.5px,#d7efb3 37.5px,#c8e9b4 38.5px,#53bdc1 41.5px,#36abc3 42.5px,#1d90c0 44.5px,#1d8ebf 45.5px,#2397c1 46.5px,#31a5c2 47.5px,#46b8c3 48.5px,#b9e4b5 51.5px,#d0edb3 52.5px,#e5f5b2 54.5px,#edf8b1 58.5px,#f1fabb 64.5px,#fdfed4 74.5px,#feffd6 120.5px)"></div><div style="height:2px;background:linear-gradient(90deg,#feffd6 0.5px,#fcfed3 22.5px,#edf8b1 35.5px,#daf0b3 37.5px,#caeab4 38.5px,#a9ddb7 39.5px,#55bec1 41.5px,#37acc3 42.5px,#269bc1 43.5px,#1d90c0 44.5px,#1d8dbe 45.5px,#2195c0 46.5px,#44b7c4 48.5px,#b9e4b5 51.5px,#d0edb3 52.5px,#e5f5b2 54.5px,#edf8b1 58.5px,#f3fabf 65.5px,#fdfed4 74.5px,#feffd6 120.5px)"></div><div style="height:2px;background:linear-gradient(90deg,#feffd6 0.5px,#fcfed3 23.5px,#edf8b2 35.5px,#dcf1b2 37.5px,#ceecb3 38.5px,#aedfb6 39.5px,#59bfc0 41.5px,#3aaec3 42.5px,#269bc1 43.5px,#1d8ebf 44.5px,#1e8bbd 45.5px,#2094c0 46.5px,#42b6c4 48.5px,#bbe4b5 51.5px,#d1edb3 52.5px,#e6f5b2 54.5px,#eff9b5 61.5px,#fdfed4 74.5px,#feffd6 120.5px)"></div><div style="height:2px;background:linear-gradient(90deg,#feffd6 0.5px,#fcfed3 23.5px,#eef8b3 35.5px,#dff2b2 37.5px,#d0edb3 38.5px,#b4e2b6 39.5px,#5dc0c0 41.5px,#3bb0c3 42.5px,#289cc1 43.5px,#1d8ebf 44.5px,#1e8abd 45.5px,#1d91c0 46.5px,#40b5c4 48.5px,#bbe4b5 51.5px,#d1edb3 52.5px,#e6f5b2 54.5px,#edf8b2 58.5px,#f4fbc0 65.5px,#fcfed3 73.5px,#feffd6 120.5px)"></div><div style="height:2px;background:linear-gradient(90deg,#feffd6 0.5px,#fcfed3 24.5px,#eaf7b1 36.5px,#d4eeb3 38.5px,#bbe4b5 39.5px,#3cb1c3 42.5px,#289cc1 43.5px,#1d8ebf 44.5px,#1e88bc 45.5px,#1d90c0 46.5px,#3fb4c4 48.5px,#bbe4b5 51.5px,#d3eeb3 52.5px,#e7f6b1 54.5px,#eef8b3 59.5px,#f5fbc4 66.5px,#fdfed4 73.5px,#feffd6 120.5px)"></div><div style="height:2px;background:linear-gradient(90deg,#feffd6 0.5px,#fcfed3 24.5px,#edf8b1 36.5px,#d6efb3 38.5px,#c0e6b5 39.5px,#3eb3c4 42.5px,#299dc1 43.5px,#1d8dbe 44.5px,#1e86bb 45.5px,#1d8ebf 46.5px,#299dc1 47.5px,#3eb3c4 48.5px,#bde5b5 51.5px,#d3eeb3 52.5px,#e7f6b1 54.5px,#eff9b5 60.5px,#fdfed4 73.5px,#feffd6 120.5px)"></div><div style="height:2px;background:linear-gradient(90deg,#feffd6 0.5px,#fcfed3 24.5px,#f0f9b8 35.5px,#e6f5b2 37.5px,#c6e9b4 39.5px,#40b5c4 42.5px,#2a9ec1 43.5px,#1d8dbe 44.5px,#1e85ba 45.5px,#1e8bbd 46.5px,#289cc1 47.5px,#3db2c4 48.5px,#bde5b5 51.5px,#d4eeb3 52.5px,#e8f6b1 54.5px,#f0f9b8 62.5px,#fcfed3 72.5px,#feffd6 120.5px)"></div><div style="height:2px;background:linear-gradient(90deg,#feffd6 0.5px,#fcfed3 25.5px,#eff9b5 36.5px,#dcf1b2 38.5px,#caeab4 39.5px,#a2dbb8 40.5px,#44b7c4 42.5px,#2b9fc2 43.5px,#1d8dbe 44.5px,#1e83ba 45.5px,#1e8abd 46.5px,#269bc1 47.5px,#3cb1c3 48.5px,#c0e6b5 51.5px,#d5efb3 52.5px,#e8f6b1 54.5px,#eef8b3 58.5px,#f8fcc9 67.5px,#fdfed5 74.5px,#feffd6 120.5px)"></div><div style="height:2px;background:linear-gradient(90deg,#feffd6 0.5px,#fcfed3 25.5px,#eff9b6 36.5px,#eaf7b1 37.5px,#ceecb3 39.5px,#a9ddb7 40.5px,#48b9c3 42.5px,#2ca1c2 43.5px,#1d8dbe 44.5px,#1f82b9 45.5px,#1e86bb 46.5px,#2498c1 47.5px,#3bb0c3 48.5px,#63c3bf 49.5px,#c0e6b5 51.5px,#d5efb3 52.5px,#e9f7b1 54.5px,#f1faba 62.5px,#fdfed4 72.5px,#feffd6 120.5px)"></div><div style="height:2px;background:linear-gradient(90deg,#feffd6 0.5px,#fcfed3 26.5px,#f0f9b7 36.5px,#edf8b1 37.5px,#d1edb3 39.5px,#b0e0b6 40.5px,#4cbac2 42.5px,#2da2c2 43.5px,#1d8dbe 44.5px,#1f80b8 45.5px,#1e85ba 46.5px,#2397c1 47.5px,#3aaec3 48.5px,#92d5b9 50.5px,#c2e7b4 51.5px,#d6efb3 52.5px,#eaf7b1 54.5px,#f1faba 62.5px,#fcfed3 71.5px,#feffd6 120.5px)"></div><div style="height:2px;background:linear-gradient(90deg,#feffd6 0.5px,#fcfed3 26.5px,#f1faba 36.5px,#edf8b2 37.5px,#e5f5b2 38.5px,#d4eeb3 39.5px,#b7e3b6 40.5px,#50bbc2 42.5px,#2fa4c2 43.5px,#1d8dbe 44.5px,#1f7eb7 45.5px,#1f82b9 46.5px,#2195c0 47.5px,#39adc3 48.5px,#61c2bf 49.5px,#c2e7b4 51.5px,#d7efb3 52.5px,#eaf7b1 54.5px,#f3fabd 63.5px,#fcfed3 71.5px,#feffd6 120.5px)"></div><div style="height:2px;background:linear-gradient(90deg,#feffd6 0.5px,#fcfed3 26.5px,#f1fabb 36.5px,#e7f6b1 38.5px,#d7efb3 39.5px,#bde5b5 40.5px,#55bec1 42.5px,#31a5c2 43.5px,#1d8ebf 44.5px,#1f7eb7 45.5px,#1f80b8 46.5px,#2094c0 47.5px,#37acc3 48.5px,#61c2bf 49.5px,#c4e8b4 51.5px,#d9f0b3 52.5px,#ecf7b1 54.5px,#f1fabb 62.5px,#fdfed4 71.5px,#feffd6 120.5px)"></div><div style="height:2px;background:linear-gradient(90deg,#feffd6 0.5px,#fcfed3 27.5px,#f0f9b7 37.5px,#e9f7b1 38.5px,#dbf1b2 39.5px,#c4e8b4 40.5px,#5bc0c0 42.5px,#33a7c2 43.5px,#1d8ebf 44.5px,#1f7db6 45.5px,#1f7eb7 46.5px,#1d91c0 47.5px,#36abc3 48.5px,#5fc1c0 49.5px,#c4e8b4 51.5px,#d9f0b3 52.5px,#e6f5b2 53.5px,#eff9b5 56.5px,#f0f9b8 61.5px,#fcfed3 70.5px,#feffd6 120.5px)"></div><div style="height:2px;background:linear-gradient(90deg,#feffd6 0.5px,#fcfed3 27.5px,#f0f9b8 37.5px,#ecf7b1 38.5px,#dff2b2 39.5px,#caeab4 40.5px,#99d7b8 41.5px,#61c2bf 42.5px,#35aac3 43.5px,#1d90c0 44.5px,#1f7bb6 45.5px,#1f7bb6 46.5px,#1d90c0 47.5px,#34a9c3 48.5px,#5fc1c0 49.5px,#c6e9b4 51.5px,#e7f6b1 53.5px,#eff9b5 56.5px,#f2fabc 62.5px,#fdfed4 71.5px,#feffd6 120.5px)"></div><div style="height:2px;background:linear-gradient(90deg,#feffd6 0.5px,#fcfed3 28.5px,#f1fabb 37.5px,#eef8b3 38.5px,#e3f4b2 39.5px,#d0edb3 40.5px,#a7dcb7 41.5px,#6dc6be 42.5px,#3bb0c3 43.5px,#1f93c0 44.5px,#1f7bb6 45.5px,#2076b3 46.5px,#1e88bc 47.5px,#2fa4c2 48.5px,#57bec1 49.5px,#c2e7b4 51.5px,#d9f0b3 52.5px,#edf8b1 54.5px,#f3fabd 62.5px,#fcfed3 70.5px,#feffd6 120.5px)"></div><div style="height:2px;background:linear-gradient(90deg,#feffd6 0.5px,#fcfed3 28.5px,#f3fabd 37.5px,#e9f7b1 39.5px,#d7efb3 40.5px,#b7e3b6 41.5px,#42b6c4 43.5px,#2397c1 44.5px,#1f7bb6 45.5px,#2072b1 46.5px,#1f80b8 47.5px,#289cc1 48.5px,#4cbac2 49.5px,#bbe4b5 51.5px,#d6efb3 52.5px,#edf8b1 54.5px,#f3fabd 62.5px,#fdfed4 70.5px,#feffd6 120.5px)"></div><div style="height:2px;background:linear-gradient(90deg,#feffd6 0.5px,#fcfed3 28.5px,#f1fabb 38.5px,#edf8b2 39.5px,#dff2b2 40.5px,#c8e9b4 41.5px,#50bbc2 43.5px,#299dc1 44.5px,#1f7eb7 45.5px,#206eb0 46.5px,#1f78b4 47.5px,#2195c0 48.5px,#40b5c4 49.5px,#b4e2b6 51.5px,#d4eeb3 52.5px,#e3f4b2 53.5px,#eef8b3 55.5px,#f1fabb 61.5px,#fcfed3 69.5px,#feffd6 120.5px)"></div><div style="height:2px;background:linear-gradient(90deg,#feffd6 0.5px,#fcfed3 29.5px,#f3fabd 38.5px,#f0f9b7 39.5px,#e6f5b2 40.5px,#d0edb3 41.5px,#a0dab8 42.5px,#5fc1c0 43.5px,#2ea3c2 44.5px,#1f82b9 45.5px,#216bae 46.5px,#2070b0 47.5px,#1e8bbd 48.5px,#39adc3 49.5px,#abdeb7 51.5px,#d1edb3 52.5px,#e2f4b2 53.5px,#ecf7b1 54.5px,#f3fabf 62.5px,#fdfed4 70.5px,#feffd6 120.5px)"></div><div style="height:2px;background:linear-gradient(90deg,#feffd6 0.5px,#fcfed3 29.5px,#f1fabb 39.5px,#ecf7b1 40.5px,#d9f0b3 41.5px,#b2e1b6 42.5px,#6fc7bd 43.5px,#36abc3 44.5px,#1e86bb 45.5px,#216bae 46.5px,#216aad 47.5px,#1f82b9 48.5px,#31a5c2 49.5px,#63c3bf 50.5px,#a2dbb8 51.5px,#cfecb3 52.5px,#e1f3b2 53.5px,#eef8b3 55.5px,#f4fbc0 62.5px,#fdfed4 69.5px,#feffd6 120.5px)"></div><div style="height:2px;background:linear-gradient(90deg,#feffd6 0.5px,#fcfed3 30.5px,#f3fabd 39.5px,#eff9b5 40.5px,#e0f3b2 41.5px,#c4e8b4 42.5px,#3fb4c4 44.5px,#1d8ebf 45.5px,#216bae 46.5px,#2163aa 47.5px,#1f78b4 48.5px,#299dc1 49.5px,#57bec1 50.5px,#99d7b8 51.5px,#cbebb4 52.5px,#e0f3b2 53.5px,#eaf7b1 54.5px,#f4fbc0 62.5px,#fdfed5 70.5px,#feffd6 120.5px)"></div><div style="height:2px;background:linear-gradient(90deg,#feffd6 0.5px,#fcfed3 30.5px,#f4fbc0 39.5px,#f1faba 40.5px,#e7f6b1 41.5px,#cfecb3 42.5px,#97d6b9 43.5px,#50bbc2 44.5px,#2296c1 45.5px,#206eb0 46.5px,#225ea8 47.5px,#206eb0 48.5px,#2195c0 49.5px,#4cbac2 50.5px,#8ed3ba 51.5px,#c9eab4 52.5px,#ddf2b2 53.5px,#e9f7b1 54.5px,#f0f9b7 59.5px,#fcfed3 68.5px,#feffd6 120.5px)"></div><div style="height:2px;background:linear-gradient(90deg,#feffd6 0.5px,#fdfed4 30.5px,#f3fabd 40.5px,#edf8b2 41.5px,#d9f0b3 42.5px,#abdeb7 43.5px,#61c2bf 44.5px,#2a9ec1 45.5px,#2073b2 46.5px,#225ca7 47.5px,#2165ab 48.5px,#1e8bbd 49.5px,#3fb4c4 50.5px,#c4e8b4 52.5px,#dcf1b2 53.5px,#e9f7b1 54.5px,#f4fbc1 62.5px,#fdfed4 69.5px,#feffd6 120.5px)"></div><div style="height:2px;background:linear-gradient(90deg,#feffd6 0.5px,#fcfed3 31.5px,#f4fbc1 40.5px,#f0f9b7 41.5px,#e1f3b2 42.5px,#c2e7b4 43.5px,#75c9bd 44.5px,#33a7c2 45.5px,#1f7ab5 46.5px,#225aa6 47.5px,#225da8 48.5px,#1f80b8 49.5px,#37acc3 50.5px,#bde5b5 52.5px,#dbf1b2 53.5px,#e8f6b1 54.5px,#eff9b5 56.5px,#f6fbc5 63.5px,#fdfed5 70.5px,#feffd6 120.5px)"></div><div style="height:2px;background:linear-gradient(90deg,#feffd6 0.5px,#fcfed3 31.5px,#f5fbc4 40.5px,#e9f7b1 42.5px,#cfecb3 43.5px,#8cd2ba 44.5px,#3eb3c4 45.5px,#1e83ba 46.5px,#225ca7 47.5px,#2356a4 48.5px,#2073b2 49.5px,#2fa4c2 50.5px,#6dc6be 51.5px,#b4e2b6 52.5px,#d9f0b3 53.5px,#e8f6b1 54.5px,#eff9b6 56.5px,#f4fbc1 62.5px,#fdfed4 69.5px,#feffd6 120.5px)"></div><div style="height:2px;background:linear-gradient(90deg,#feffd6 0.5px,#fdfed4 31.5px,#f6fbc5 40.5px,#f3fabf 41.5px,#edf8b1 42.5px,#d4eeb3 43.5px,#99d7b8 44.5px,#4ab9c3 45.5px,#1d8dbe 46.5px,#2260a9 47.5px,#2356a4 48.5px,#216daf 49.5px,#299dc1 50.5px,#61c2bf 51.5px,#a9ddb7 52.5px,#d5efb3 53.5px,#e6f5b2 54.5px,#eff9b6 56.5px,#f4fbc1 62.5px,#fdfed4 69.5px,#feffd6 120.5px)"></div><div style="height:2px;background:linear-gradient(90deg,#feffd6 0.5px,#fcfed3 32.5px,#f7fcc6 40.5px,#eef8b3 42.5px,#d9f0b3 43.5px,#a5dcb7 44.5px,#57bec1 45.5px,#2195c0 46.5px,#2168ad 47.5px,#2258a5 48.5px,#2168ad 49.5px,#2296c1 50.5px,#53bdc1 51.5px,#9cd8b8 52.5px,#d0edb3 53.5px,#e3f4b2 54.5px,#edf8b1 55.5px,#f4fbc1 62.5px,#fdfed4 69.5px,#feffd6 120.5px)"></div><div style="height:2px;background:linear-gradient(90deg,#feffd6 0.5px,#fcfed3 32.5px,#f5fbc2 41.5px,#eff9b6 42.5px,#ddf2b2 43.5px,#b2e1b6 44.5px,#63c3bf 45.5px,#299dc1 46.5px,#206eb0 47.5px,#2259a6 48.5px,#2165ab 49.5px,#1d8ebf 50.5px,#48b9c3 51.5px,#8ed3ba 52.5px,#cbebb4 53.5px,#e1f3b2 54.5px,#ecf7b1 55.5px,#f5fbc4 63.5px,#fdfed5 70.5px,#feffd6 120.5px)"></div><div style="height:2px;background:linear-gradient(90deg,#feffd6 0.5px,#fcfed3 33.5px,#f5fbc4 41.5px,#f0f9b8 42.5px,#e1f3b2 43.5px,#bde5b5 44.5px,#71c8bd 45.5px,#31a5c2 46.5px,#2076b3 47.5px,#225ca7 48.5px,#2262aa 49.5px,#1e86bb 50.5px,#3db2c4 51.5px,#c4e8b4 53.5px,#ddf2b2 54.5px,#eaf7b1 55.5px,#f5fbc4 63.5px,#fdfed5 70.5px,#feffd6 120.5px)"></div><div style="height:2px;background:linear-gradient(90deg,#feffd6 0.5px,#fcfed3 33.5px,#f6fbc5 41.5px,#f1fabb 42.5px,#e5f5b2 43.5px,#c8e9b4 44.5px,#7cccbb 45.5px,#39adc3 46.5px,#1f80b8 47.5px,#225ea8 48.5px,#225ea8 49.5px,#1f80b8 50.5px,#36abc3 51.5px,#b9e4b5 53.5px,#daf0b3 54.5px,#e8f6b1 55.5px,#f0f9b7 58.5px,#f7fcc7 64.5px,#fdfed5 71.5px,#feffd6 120.5px)"></div><div style="height:2px;background:linear-gradient(90deg,#feffd6 0.5px,#fcfed3 34.5px,#f7fcc6 41.5px,#e8f6b1 43.5px,#ceecb3 44.5px,#3fb4c4 46.5px,#1e8abd 47.5px,#2163aa 48.5px,#225ea8 49.5px,#1f7ab5 50.5px,#2fa4c2 51.5px,#69c5be 52.5px,#aedfb6 53.5px,#d5efb3 54.5px,#e6f5b2 55.5px,#eff9b6 57.5px,#f5fbc4 63.5px,#fdfed4 70.5px,#feffd6 120.5px)"></div><div style="height:2px;background:linear-gradient(90deg,#feffd6 0.5px,#fcfed3 34.5px,#f7fcc7 41.5px,#f4fbc0 42.5px,#ecf7b1 43.5px,#d3eeb3 44.5px,#97d6b9 45.5px,#4cbac2 46.5px,#1f93c0 47.5px,#216aad 48.5px,#225ea8 49.5px,#2073b2 50.5px,#299dc1 51.5px,#5dc0c0 52.5px,#a2dbb8 53.5px,#d1edb3 54.5px,#e3f4b2 55.5px,#edf8b1 56.5px,#fcfed3 69.5px,#feffd6 120.5px)"></div><div style="height:2px;background:linear-gradient(90deg,#feffd6 0.5px,#fcfed3 35.5px,#f8fcc9 41.5px,#eef8b3 43.5px,#d7efb3 44.5px,#a5dcb7 45.5px,#57bec1 46.5px,#259ac1 47.5px,#2070b0 48.5px,#2260a9 49.5px,#206eb0 50.5px,#2397c1 51.5px,#52bcc2 52.5px,#95d5b9 53.5px,#cdebb4 54.5px,#e1f3b2 55.5px,#ecf7b1 56.5px,#fdfed5 71.5px,#feffd6 120.5px)"></div><div style="height:2px;background:linear-gradient(90deg,#feffd6 0.5px,#fcfed3 35.5px,#f8fcca 41.5px,#f5fbc4 42.5px,#eff9b6 43.5px,#dcf1b2 44.5px,#b0e0b6 45.5px,#65c3bf 46.5px,#2ca1c2 47.5px,#2076b3 48.5px,#2262aa 49.5px,#216bae 50.5px,#1d91c0 51.5px,#46b8c3 52.5px,#c6e9b4 54.5px,#ddf2b2 55.5px,#eaf7b1 56.5px,#fdfed5 71.5px,#feffd6 120.5px)"></div><div style="height:2px;background:linear-gradient(90deg,#feffd6 0.5px,#fcfed3 36.5px,#f9fdcb 41.5px,#f7fcc6 42.5px,#f1faba 43.5px,#e1f3b2 44.5px,#bbe4b5 45.5px,#71c8bd 46.5px,#33a7c2 47.5px,#1f7eb7 48.5px,#2165ab 49.5px,#216aad 50.5px,#1e8bbd 51.5px,#3db2c4 52.5px,#bde5b5 54.5px,#daf0b3 55.5px,#e8f6b1 56.5px,#f0f9b8 59.5px,#fdfed5 71.5px,#feffd6 120.5px)"></div><div style="height:2px;background:linear-gradient(90deg,#feffd6 0.5px,#fcfed3 37.5px,#f7fcc7 42.5px,#f2fabc 43.5px,#e5f5b2 44.5px,#c6e9b4 45.5px,#3bb0c3 47.5px,#1e86bb 48.5px,#2168ad 49.5px,#2168ad 50.5px,#1e85ba 51.5px,#36abc3 52.5px,#71c8bd 53.5px,#b2e1b6 54.5px,#d6efb3 55.5px,#e6f5b2 56.5px,#eff9b6 58.5px,#fdfed5 71.5px,#feffd6 120.5px)"></div><div style="height:2px;background:linear-gradient(90deg,#feffd6 0.5px,#fcfed3 38.5px,#f8fcc9 42.5px,#e8f6b1 44.5px,#cdebb4 45.5px,#8cd2ba 46.5px,#42b6c4 47.5px,#1d90c0 48.5px,#216daf 49.5px,#2166ac 50.5px,#1f7eb7 51.5px,#31a5c2 52.5px,#67c4be 53.5px,#a7dcb7 54.5px,#d3eeb3 55.5px,#e3f4b2 56.5px,#edf8b1 57.5px,#fdfed4 70.5px,#feffd6 120.5px)"></div><div style="height:2px;background:linear-gradient(90deg,#feffd6 0.5px,#fcfed3 40.5px,#f9fdcc 43.5px,#f4fbc0 44.5px,#e0f3b2 45.5px,#a7dcb7 46.5px,#4cbac2 47.5px,#1d91c0 48.5px,#206eb0 49.5px,#2166ac 50.5px,#2073b2 51.5px,#259ac1 52.5px,#5dc0c0 53.5px,#b0e0b6 54.5px,#dcf1b2 55.5px,#edf8b2 56.5px,#f1faba 58.5px,#f6fbc5 64.5px,#fdfed5 71.5px,#feffd6 120.5px)"></div><div style="height:2px;background:linear-gradient(90deg,#feffd6 0.5px,#fcfed3 41.5px,#f9fdcc 43.5px,#f4fbc0 44.5px,#e0f3b2 45.5px,#a7dcb7 46.5px,#50bbc2 47.5px,#2094c0 48.5px,#2072b1 49.5px,#216aad 50.5px,#2072b1 51.5px,#1f93c0 52.5px,#46b8c3 53.5px,#90d4b9 54.5px,#cfecb3 55.5px,#e6f5b2 56.5px,#eff9b5 57.5px,#fdfed5 71.5px,#feffd6 120.5px)"></div><div style="height:2px;background:linear-gradient(90deg,#feffd6 0.5px,#fdfed4 41.5px,#f9fdcc 43.5px,#f4fbc0 44.5px,#e1f3b2 45.5px,#a9ddb7 46.5px,#53bdc1 47.5px,#2296c1 48.5px,#2075b3 49.5px,#216bae 50.5px,#2072b1 51.5px,#1e8bbd 52.5px,#3aaec3 53.5px,#75c9bd 54.5px,#bbe4b5 55.5px,#dbf1b2 56.5px,#eaf7b1 57.5px,#fcfed3 69.5px,#feffd6 120.5px)"></div><div style="height:2px;background:linear-gradient(90deg,#feffd6 0.5px,#fcfed3 42.5px,#fafdce 43.5px,#f4fbc0 44.5px,#e1f3b2 45.5px,#abdeb7 46.5px,#57bec1 47.5px,#2498c1 48.5px,#1f78b4 49.5px,#206eb0 50.5px,#2072b1 51.5px,#1e86bb 52.5px,#31a5c2 53.5px,#5fc1c0 54.5px,#a0dab8 55.5px,#d0edb3 56.5px,#e3f4b2 57.5px,#edf8b2 58.5px,#fdfed4 70.5px,#feffd6 120.5px)"></div><div style="height:2px;background:linear-gradient(90deg,#feffd6 0.5px,#fcfed3 42.5px,#fafdce 43.5px,#f4fbc0 44.5px,#e1f3b2 45.5px,#aedfb6 46.5px,#59bfc0 47.5px,#289cc1 48.5px,#1f7bb6 49.5px,#2070b0 50.5px,#2073b2 51.5px,#1e83ba 52.5px,#2a9ec1 53.5px,#4ebbc2 54.5px,#c2e7b4 56.5px,#daf0b3 57.5px,#e8f6b1 58.5px,#f1fabb 61.5px,#fcfed3 70.5px,#feffd6 120.5px)"></div><div style="height:2px;background:linear-gradient(90deg,#feffd6 0.5px,#fdfed4 42.5px,#fafdce 43.5px,#f4fbc0 44.5px,#e1f3b2 45.5px,#b0e0b6 46.5px,#5dc0c0 47.5px,#2a9ec1 48.5px,#1f7eb7 49.5px,#2073b2 50.5px,#2073b2 51.5px,#1f80b8 52.5px,#2498c1 53.5px,#3fb4c4 54.5px,#abdeb7 56.5px,#d0edb3 57.5px,#e2f4b2 58.5px,#f0f9b7 60.5px,#fcfed3 70.5px,#feffd6 120.5px)"></div><div style="height:2px;background:linear-gradient(90deg,#feffd6 0.5px,#fcfed3 41.5px,#f9fdcb 43.5px,#f3fabd 44.5px,#e0f3b2 45.5px,#aedfb6 46.5px,#5dc0c0 47.5px,#2b9fc2 48.5px,#1f82b9 49.5px,#2075b3 50.5px,#2075b3 51.5px,#1f80b8 52.5px,#2195c0 53.5px,#39adc3 54.5px,#63c3bf 55.5px,#c6e9b4 57.5px,#e7f6b1 59.5px,#f3fabd 62.5px,#fdfed5 72.5px,#feffd6 120.5px)"></div><div style="height:2px;background:linear-gradient(90deg,#feffd6 0.5px,#fcfed3 38.5px,#fafdcf 42.5px,#f8fcc9 43.5px,#f1fabb 44.5px,#ddf2b2 45.5px,#abdeb7 46.5px,#5fc1c0 47.5px,#2da2c2 48.5px,#1e83ba 49.5px,#2076b3 50.5px,#2076b3 51.5px,#1f7eb7 52.5px,#1d91c0 53.5px,#33a7c2 54.5px,#53bdc1 55.5px,#b2e1b6 57.5px,#d1edb3 58.5px,#ecf7b1 60.5px,#f9fdcc 67.5px,#feffd6 76.5px,#feffd6 120.5px)"></div><div style="height:2px;background:linear-gradient(90deg,#feffd6 0.5px,#fcfed3 36.5px,#f9fdcb 42.5px,#f7fcc6 43.5px,#f0f9b8 44.5px,#dcf1b2 45.5px,#abdeb7 46.5px,#5fc1c0 47.5px,#2ea3c2 48.5px,#1e86bb 49.5px,#1f7ab5 50.5px,#1f78b4 51.5px,#1f7eb7 52.5px,#1d8ebf 53.5px,#2da2c2 54.5px,#48b9c3 55.5px,#c8e9b4 58.5px,#e7f6b1 60.5px,#f3fabf 63.5px,#fdfed4 71.5px,#feffd6 120.5px)"></div><div style="height:2px;background:linear-gradient(90deg,#feffd6 0.5px,#fcfed3 34.5px,#f8fcc9 42.5px,#f5fbc4 43.5px,#eff9b6 44.5px,#daf0b3 45.5px,#a9ddb7 46.5px,#61c2bf 47.5px,#2fa4c2 48.5px,#1e8abd 49.5px,#1f7db6 50.5px,#1f7bb6 51.5px,#1d8ebf 53.5px,#2b9fc2 54.5px,#40b5c4 55.5px,#bbe4b5 58.5px,#d4eeb3 59.5px,#ecf7b1 61.5px,#f9fdcc 67.5px,#feffd6 76.5px,#feffd6 120.5px)"></div><div style="height:2px;background:linear-gradient(90deg,#feffd6 0.5px,#fcfed3 32.5px,#f7fcc6 42.5px,#f4fbc1 43.5px,#eef8b3 44.5px,#d7efb3 45.5px,#a7dcb7 46.5px,#61c2bf 47.5px,#32a6c2 48.5px,#1d8dbe 49.5px,#1f80b8 50.5px,#1e83ba 52.5px,#1d90c0 53.5px,#3cb1c3 55.5px,#85cfba 57.5px,#aedfb6 58.5px,#cdebb4 59.5px,#e8f6b1 61.5px,#f8fcc9 66.5px,#fdfed5 73.5px,#feffd6 120.5px)"></div><div style="height:2px;background:linear-gradient(90deg,#feffd6 0.5px,#fcfed3 31.5px,#f5fbc4 42.5px,#f3fabf 43.5px,#edf8b1 44.5px,#d6efb3 45.5px,#a5dcb7 46.5px,#61c2bf 47.5px,#33a7c2 48.5px,#1d91c0 49.5px,#1e83ba 50.5px,#1e86bb 52.5px,#1d90c0 53.5px,#39adc3 55.5px,#78cbbc 57.5px,#c4e8b4 59.5px,#e2f4b2 61.5px,#f0f9b7 63.5px,#fafdcf 69.5px,#feffd6 79.5px,#feffd6 120.5px)"></div><div style="height:2px;background:linear-gradient(90deg,#feffd6 0.5px,#fcfed3 30.5px,#f4fbc1 42.5px,#eaf7b1 44.5px,#d4eeb3 45.5px,#a2dbb8 46.5px,#63c3bf 47.5px,#35aac3 48.5px,#2094c0 49.5px,#1e86bb 50.5px,#1e88bc 52.5px,#1d90c0 53.5px,#36abc3 55.5px,#4ebbc2 56.5px,#b7e3b6 59.5px,#cfecb3 60.5px,#eef8b3 63.5px,#f9fdcb 68.5px,#feffd6 76.5px,#feffd6 120.5px)"></div><div style="height:2px;background:linear-gradient(90deg,#feffd6 0.5px,#fcfed3 29.5px,#f4fbc1 40.5px,#f4fbc0 42.5px,#e8f6b1 44.5px,#d3eeb3 45.5px,#a2dbb8 46.5px,#63c3bf 47.5px,#36abc3 48.5px,#2296c1 49.5px,#1e8abd 50.5px,#1e8bbd 52.5px,#1d91c0 53.5px,#34a9c3 55.5px,#48b9c3 56.5px,#c9eab4 60.5px,#ecf7b1 63.5px,#f8fcca 68.5px,#feffd6 77.5px,#feffd6 120.5px)"></div><div style="height:2px;background:linear-gradient(90deg,#feffd6 0.5px,#fcfed3 28.5px,#f3fabf 39.5px,#f3fabd 42.5px,#f0f9b7 43.5px,#e6f5b2 44.5px,#d0edb3 45.5px,#a0dab8 46.5px,#65c3bf 47.5px,#39adc3 48.5px,#2498c1 49.5px,#1d8dbe 50.5px,#1d8dbe 52.5px,#269bc1 54.5px,#42b6c4 56.5px,#7cccbb 58.5px,#c0e6b5 60.5px,#ddf2b2 62.5px,#eef8b3 64.5px,#fafdce 70.5px,#feffd6 80.5px,#feffd6 120.5px)"></div><div style="height:2px;background:linear-gradient(90deg,#feffd6 0.5px,#fcfed3 26.5px,#f2fabc 39.5px,#f1fabb 42.5px,#eff9b5 43.5px,#e5f5b2 44.5px,#cfecb3 45.5px,#9ed9b8 46.5px,#65c3bf 47.5px,#3aaec3 48.5px,#259ac1 49.5px,#1d90c0 50.5px,#1d8ebf 52.5px,#269bc1 54.5px,#3fb4c4 56.5px,#75c9bd 58.5px,#b4e2b6 60.5px,#cbebb4 61.5px,#ecf7b1 64.5px,#fafdcf 71.5px,#feffd6 84.5px,#feffd6 120.5px)"></div><div style="height:2px;background:linear-gradient(90deg,#feffd6 0.5px,#fcfed3 25.5px,#f2fabc 38.5px,#f1fabb 42.5px,#eff9b5 43.5px,#e3f4b2 44.5px,#ceecb3 45.5px,#9ed9b8 46.5px,#65c3bf 47.5px,#3bb0c3 48.5px,#289cc1 49.5px,#1d91c0 50.5px,#2094c0 53.5px,#3db2c4 56.5px,#6fc7bd 58.5px,#c6e9b4 61.5px,#e8f6b1 64.5px,#f8fcca 70.5px,#feffd6 79.5px,#feffd6 120.5px)"></div><div style="height:2px;background:linear-gradient(90deg,#feffd6 0.5px,#fcfed3 24.5px,#f1fabb 37.5px,#f1faba 42.5px,#eef8b3 43.5px,#e2f4b2 44.5px,#cdebb4 45.5px,#65c3bf 47.5px,#3cb1c3 48.5px,#299dc1 49.5px,#1d91c0 51.5px,#269bc1 54.5px,#3bb0c3 56.5px,#67c4be 58.5px,#bde5b5 61.5px,#dbf1b2 63.5px,#ecf7b1 65.5px,#f9fdcb 71.5px,#feffd6 81.5px,#feffd6 120.5px)"></div><div style="height:2px;background:linear-gradient(90deg,#feffd6 0.5px,#fcfed3 23.5px,#f1faba 37.5px,#f1faba 42.5px,#edf8b2 43.5px,#e1f3b2 44.5px,#cbebb4 45.5px,#67c4be 47.5px,#3db2c4 48.5px,#2a9ec1 49.5px,#1f93c0 51.5px,#269bc1 54.5px,#3aaec3 56.5px,#4ab9c3 57.5px,#b4e2b6 61.5px,#caeab4 62.5px,#e8f6b1 65.5px,#f8fcca 71.5px,#fdfed5 79.5px,#feffd6 120.5px)"></div><div style="height:2px;background:linear-gradient(90deg,#feffd6 0.5px,#fcfed1 23.5px,#f1faba 35.5px,#f1faba 42.5px,#edf8b1 43.5px,#e0f3b2 44.5px,#caeab4 45.5px,#67c4be 47.5px,#3eb3c4 48.5px,#2ca1c2 49.5px,#2195c0 51.5px,#269bc1 54.5px,#37acc3 56.5px,#46b8c3 57.5px,#90d4b9 60.5px,#c4e8b4 62.5px,#e5f5b2 65.5px,#f0f9b7 67.5px,#fbfdd0 74.5px,#feffd6 89.5px,#feffd6 120.5px)"></div><div style="height:2px;background:linear-gradient(90deg,#feffd6 0.5px,#fcfed1 22.5px,#f0f9b8 35.5px,#f2fabc 41.5px,#edf8b1 43.5px,#dff2b2 44.5px,#c9eab4 45.5px,#67c4be 47.5px,#3fb4c4 48.5px,#2da2c2 49.5px,#2296c1 51.5px,#289cc1 54.5px,#42b6c4 57.5px,#89d1ba 60.5px,#bde5b5 62.5px,#d9f0b3 64.5px,#eef8b3 67.5px,#fafdcf 74.5px,#feffd6 87.5px,#feffd6 120.5px)"></div><div style="height:2px;background:linear-gradient(90deg,#feffd6 0.5px,#fcfed1 21.5px,#f0f9b7 34.5px,#f2fabc 41.5px,#ecf7b1 43.5px,#ddf2b2 44.5px,#c8e9b4 45.5px,#69c5be 47.5px,#40b5c4 48.5px,#259ac1 50.5px,#289cc1 54.5px,#40b5c4 57.5px,#80cebb 60.5px,#b4e2b6 62.5px,#c9eab4 63.5px,#edf8b1 67.5px,#fafdce 74.5px,#feffd6 86.5px,#feffd6 120.5px)"></div><div style="height:2px;background:linear-gradient(90deg,#feffd6 0.5px,#fcfed1 20.5px,#eff9b6 34.5px,#f1fabb 41.5px,#eaf7b1 43.5px,#c8e9b4 45.5px,#69c5be 47.5px,#42b6c4 48.5px,#31a5c2 49.5px,#259ac1 51.5px,#299dc1 54.5px,#3eb3c4 57.5px,#7acbbc 60.5px,#c4e8b4 63.5px,#e9f7b1 67.5px,#fafdce 75.5px,#feffd6 87.5px,#feffd6 120.5px)"></div><div style="height:2px;background:linear-gradient(90deg,#feffd6 0.5px,#fbfdd0 20.5px,#eff9b6 33.5px,#f1fabb 41.5px,#e9f7b1 43.5px,#c6e9b4 45.5px,#69c5be 47.5px,#44b7c4 48.5px,#32a6c2 49.5px,#269bc1 51.5px,#2da2c2 55.5px,#3db2c4 57.5px,#61c2bf 59.5px,#bde5b5 63.5px,#d6efb3 65.5px,#edf8b1 68.5px,#f9fdcc 75.5px,#feffd6 86.5px,#feffd6 120.5px)"></div><div style="height:2px;background:linear-gradient(90deg,#feffd6 0.5px,#fcfed1 18.5px,#eff9b5 32.5px,#f1fabb 41.5px,#e9f7b1 43.5px,#c4e8b4 45.5px,#6bc6be 47.5px,#46b8c3 48.5px,#34a9c3 49.5px,#289cc1 51.5px,#2ea3c2 55.5px,#3cb1c3 57.5px,#5dc0c0 59.5px,#c9eab4 64.5px,#e9f7b1 68.5px,#fafdce 76.5px,#feffd6 88.5px,#feffd6 120.5px)"></div><div style="height:2px;background:linear-gradient(90deg,#feffd6 0.5px,#fbfdd0 17.5px,#eef8b3 32.5px,#f1fabb 41.5px,#e8f6b1 43.5px,#daf0b3 44.5px,#c4e8b4 45.5px,#6bc6be 47.5px,#48b9c3 48.5px,#35aac3 49.5px,#299dc1 51.5px,#2ea3c2 55.5px,#48b9c3 58.5px,#97d6b9 62.5px,#c2e7b4 64.5px,#e0f3b2 67.5px,#edf8b1 69.5px,#f9fdcc 76.5px,#feffd6 88.5px,#feffd6 120.5px)"></div><div style="height:2px;background:linear-gradient(90deg,#feffd6 0.5px,#fbfdd0 16.5px,#edf8b2 32.5px,#f2fabc 40.5px,#eff9b5 42.5px,#d9f0b3 44.5px,#c2e7b4 45.5px,#6dc6be 47.5px,#4ab9c3 48.5px,#36abc3 49.5px,#2b9fc2 51.5px,#2ea3c2 55.5px,#44b7c4 58.5px,#90d4b9 62.5px,#cbebb4 65.5px,#eef8b3 70.5px,#f9fdcc 77.5px,#feffd6 88.5px,#feffd6 120.5px)"></div><div style="height:2px;background:linear-gradient(90deg,#feffd6 0.5px,#fafdcf 16.5px,#edf8b2 30.5px,#f2fabc 40.5px,#eff9b5 42.5px,#e7f6b1 43.5px,#c2e7b4 45.5px,#6dc6be 47.5px,#4cbac2 48.5px,#39adc3 49.5px,#2ca1c2 51.5px,#2fa4c2 55.5px,#44b7c4 58.5px,#8cd2ba 62.5px,#c8e9b4 65.5px,#edf8b1 70.5px,#f8fcc9 76.5px,#fdfed5 85.5px,#feffd6 120.5px)"></div><div style="height:2px;background:linear-gradient(90deg,#feffd6 0.5px,#fafdcf 15.5px,#edf8b1 30.5px,#f2fabc 40.5px,#eef8b3 42.5px,#d7efb3 44.5px,#c0e6b5 45.5px,#6fc7bd 47.5px,#4ebbc2 48.5px,#3aaec3 49.5px,#2da2c2 51.5px,#2fa4c2 55.5px,#42b6c4 58.5px,#85cfba 62.5px,#c2e7b4 65.5px,#e5f5b2 69.5px,#f0f9b8 72.5px,#fafdcf 79.5px,#feffd6 95.5px,#feffd6 120.5px)"></div><div style="height:2px;background:linear-gradient(90deg,#feffd6 0.5px,#fafdce 15.5px,#edf8b1 29.5px,#f2fabc 40.5px,#eef8b3 42.5px,#d6efb3 44.5px,#c0e6b5 45.5px,#6fc7bd 47.5px,#50bbc2 48.5px,#3bb0c3 49.5px,#2ea3c2 51.5px,#34a9c3 56.5px,#40b5c4 58.5px,#80cebb 62.5px,#bbe4b5 65.5px,#d3eeb3 67.5px,#edf8b1 71.5px,#fafdce 79.5px,#feffd6 94.5px,#feffd6 120.5px)"></div></div>
<div class="hm" style="left:37px;top:237px;width:121px;height:161px"><div style="height:2px;background:linear-gradient(90deg,#f1faeb 0.5px,#e6f5e0 13.5px,#ceecc8 22.5px,#b6e3bb 25.5px,#9fdab8 27.5px,#57b8d0 32.5px,#41a5cb 34.5px,#3395c3 36.5px,#2889bc 41.5px,#1475b2 47.5px,#1c7cb6 50.5px,#2889bc 51.5px,#57b8d0 53.5px,#a0dab8 55.5px,#c3e7c1 56.5px,#d3eecd 57.5px,#ddf2d7 59.5px,#ceecc8 63.5px,#d3eecd 75.5px,#e4f5df 96.5px,#eef8e7 120.5px)"></div><div style="height:2px;background:linear-gradient(90deg,#f1faeb 0.5px,#e6f5e0 13.5px,#ceecc8 22.5px,#b6e3bb 25.5px,#9fdab8 27.5px,#56b7d0 32.5px,#40a4cb 34.5px,#3294c2 36.5px,#2a8bbe 41.5px,#1576b3 47.5px,#1e7fb7 50.5px,#2a8bbe 51.5px,#57b8d0 53.5px,#9cd9b9 55.5px,#bee6bf 56.5px,#d1edcb 57.5px,#dcf1d7 59.5px,#ceecc8 64.5px,#d3eecd 75.5px,#e7f6e2 101.5px,#eef8e7 120.5px)"></div><div style="height:2px;background:linear-gradient(90deg,#f1faeb 0.5px,#e6f5e0 13.5px,#ceecc8 22.5px,#b6e3bb 25.5px,#abdeb6 26.5px,#64bfcc 31.5px,#49add0 33.5px,#3294c2 36.5px,#2889bc 42.5px,#1878b4 47.5px,#2081b8 50.5px,#2c8ebf 51.5px,#56b7d0 53.5px,#99d7ba 55.5px,#bae4bd 56.5px,#cfecc8 57.5px,#dcf1d6 59.5px,#ceecc8 64.5px,#d4eece 76.5px,#e7f6e2 101.5px,#eef8e7 120.5px)"></div><div style="height:2px;background:linear-gradient(90deg,#f1faeb 0.5px,#e6f5e0 13.5px,#ceecc8 22.5px,#b6e3bb 25.5px,#abdeb6 26.5px,#64bfcc 31.5px,#49add0 33.5px,#3294c2 36.5px,#2a8bbe 42.5px,#1a7ab5 47.5px,#2283ba 50.5px,#2d8fbf 51.5px,#56b7d0 53.5px,#97d6bb 55.5px,#b6e3bb 56.5px,#ccebc6 57.5px,#dbf1d5 59.5px,#ceecc8 65.5px,#d7efd1 79.5px,#eaf7e4 110.5px,#eef8e7 120.5px)"></div><div style="height:2px;background:linear-gradient(90deg,#f1faeb 0.5px,#e6f5e0 13.5px,#ceecc8 22.5px,#c0e6c0 24.5px,#abdeb6 26.5px,#62becc 31.5px,#48accf 33.5px,#3294c2 36.5px,#2c8ebf 42.5px,#1c7cb6 47.5px,#2687bb 50.5px,#3091c1 51.5px,#56b7d0 53.5px,#92d5bc 55.5px,#b2e1b9 56.5px,#c9eac4 57.5px,#daf1d5 59.5px,#ceecc7 66.5px,#e9f6e3 106.5px,#eef8e7 120.5px)"></div><div style="height:2px;background:linear-gradient(90deg,#f1faeb 0.5px,#e6f5e0 13.5px,#ceecc8 22.5px,#c0e6c0 24.5px,#aadeb6 26.5px,#62becc 31.5px,#53b6d1 32.5px,#3699c5 35.5px,#3294c2 38.5px,#2f90c0 42.5px,#1e7fb7 47.5px,#2889bc 50.5px,#41a5cb 52.5px,#56b7d0 53.5px,#aedfb8 56.5px,#c5e8c2 57.5px,#d4eece 58.5px,#daf0d4 60.5px,#ceecc7 66.5px,#e9f6e3 106.5px,#edf8e7 120.5px)"></div><div style="height:2px;background:linear-gradient(90deg,#f1faeb 0.5px,#e6f5e0 13.5px,#ceecc8 22.5px,#c0e6c0 24.5px,#aadeb6 26.5px,#61bdcd 31.5px,#53b6d1 32.5px,#3699c5 35.5px,#3294c2 37.5px,#3192c1 42.5px,#1f80b8 47.5px,#2a8bbe 50.5px,#42a6cc 52.5px,#54b6d1 53.5px,#aadeb6 56.5px,#d3eecc 58.5px,#daf1d5 60.5px,#ceecc7 66.5px,#e8f6e2 105.5px,#edf8e7 120.5px)"></div><div style="height:2px;background:linear-gradient(90deg,#f1faeb 0.5px,#e6f5e0 13.5px,#ceecc8 22.5px,#c0e6c0 24.5px,#aadeb6 26.5px,#61bdcd 31.5px,#51b5d2 32.5px,#3699c5 35.5px,#3294c2 37.5px,#3395c3 42.5px,#2182b9 47.5px,#2c8ebf 50.5px,#43a7cd 52.5px,#54b6d1 53.5px,#a5dcb6 56.5px,#d1edca 58.5px,#daf1d5 60.5px,#ceecc7 67.5px,#e9f6e3 107.5px,#edf8e7 120.5px)"></div><div style="height:2px;background:linear-gradient(90deg,#f1faeb 0.5px,#e6f5e0 13.5px,#ceecc8 22.5px,#c0e6c0 24.5px,#a9ddb5 26.5px,#6fc5c8 30.5px,#50b4d2 32.5px,#3597c4 35.5px,#3496c3 39.5px,#3597c4 42.5px,#2484ba 47.5px,#2f90c0 50.5px,#45a8cd 52.5px,#54b6d1 53.5px,#a0dab8 56.5px,#d0ecc9 58.5px,#daf1d5 60.5px,#ceecc7 67.5px,#e9f6e3 107.5px,#edf8e7 120.5px)"></div><div style="height:2px;background:linear-gradient(90deg,#f1faeb 0.5px,#e6f5e0 13.5px,#ceecc8 22.5px,#c0e6c0 24.5px,#a9ddb5 26.5px,#5fbdcd 31.5px,#50b4d2 32.5px,#3597c4 35.5px,#3496c3 38.5px,#379ac5 42.5px,#2687bb 47.5px,#3192c1 50.5px,#54b6d1 53.5px,#81cec2 55.5px,#9bd8b9 56.5px,#b5e2bb 57.5px,#ceecc8 58.5px,#daf1d5 60.5px,#ceecc7 67.5px,#e8f6e2 106.5px,#edf8e7 120.5px)"></div><div style="height:2px;background:linear-gradient(90deg,#f1faeb 0.5px,#e6f5e0 13.5px,#ceecc8 22.5px,#c0e6c0 24.5px,#a9ddb5 26.5px,#6ec5c8 30.5px,#4fb3d3 32.5px,#3597c4 35.5px,#3496c3 38.5px,#3a9cc7 42.5px,#2a8bbe 46.5px,#298abd 48.5px,#3c9fc8 51.5px,#53b6d1 53.5px,#97d6bb 56.5px,#b1e0b9 57.5px,#ccebc6 58.5px,#daf1d5 60.5px,#ceecc7 67.5px,#e9f7e3 110.5px,#edf8e7 120.5px)"></div><div style="height:2px;background:linear-gradient(90deg,#f1faeb 0.5px,#e6f5e0 13.5px,#ceecc8 22.5px,#c0e6c0 24.5px,#a7ddb5 26.5px,#5ebcce 31.5px,#4fb3d3 32.5px,#3597c4 35.5px,#3496c3 38.5px,#3c9fc8 42.5px,#2b8cbe 46.5px,#2b8cbe 48.5px,#47abcf 52.5px,#53b6d1 53.5px,#91d4bd 56.5px,#addfb7 57.5px,#cbeac4 58.5px,#daf1d5 60.5px,#ceecc7 67.5px,#e9f7e3 110.5px,#ecf8e6 120.5px)"></div><div style="height:2px;background:linear-gradient(90deg,#f1faeb 0.5px,#e6f5e0 13.5px,#ceecc8 22.5px,#c0e6c0 24.5px,#a7ddb5 26.5px,#6cc4c9 30.5px,#4db2d3 32.5px,#3496c3 35.5px,#3699c5 39.5px,#3ea1c9 42.5px,#2d8fbf 46.5px,#2d8fbf 48.5px,#48accf 52.5px,#53b6d1 53.5px,#8bd2bf 56.5px,#a9ddb5 57.5px,#c8eac3 58.5px,#d5efcf 59.5px,#dcf1d6 61.5px,#ceecc7 66.5px,#ddf2d8 89.5px,#ecf8e6 120.5px)"></div><div style="height:2px;background:linear-gradient(90deg,#f1faeb 0.5px,#e6f5e0 13.5px,#ceecc8 22.5px,#c0e6c0 24.5px,#a7ddb5 26.5px,#6cc4c9 30.5px,#4db2d3 32.5px,#3496c3 35.5px,#379ac5 39.5px,#40a4cb 42.5px,#3091c1 46.5px,#3091c1 48.5px,#53b6d1 53.5px,#87d1c0 56.5px,#a5dcb6 57.5px,#c6e9c2 58.5px,#d5eece 59.5px,#dcf1d7 61.5px,#ceecc7 66.5px,#def2d9 90.5px,#ecf8e6 120.5px)"></div><div style="height:2px;background:linear-gradient(90deg,#f1faeb 0.5px,#e6f5e0 13.5px,#ceecc8 22.5px,#c0e6c0 24.5px,#a7ddb5 26.5px,#5bbacf 31.5px,#4cb1d2 32.5px,#3496c3 35.5px,#3395c3 37.5px,#41a5cb 42.5px,#3395c3 45.5px,#3294c2 48.5px,#53b6d1 53.5px,#83cfc1 56.5px,#a0dab8 57.5px,#c2e7c0 58.5px,#d3eecc 59.5px,#daf1d5 61.5px,#ceecc8 67.5px,#d9f0d3 84.5px,#ecf8e6 120.5px)"></div><div style="height:2px;background:linear-gradient(90deg,#f1faeb 0.5px,#e6f5e0 13.5px,#ceecc8 22.5px,#c0e6c0 24.5px,#a7ddb5 26.5px,#5bbacf 31.5px,#4bb0d1 32.5px,#3395c3 35.5px,#3294c2 37.5px,#40a4cb 42.5px,#3395c3 46.5px,#3496c3 48.5px,#4cb1d2 52.5px,#61bdcd 54.5px,#81cec2 56.5px,#9cd9b9 57.5px,#bde5be 58.5px,#cfecc8 59.5px,#d7efd1 61.5px,#cfecc8 68.5px,#dbf1d5 87.5px,#ebf7e5 120.5px)"></div><div style="height:2px;background:linear-gradient(90deg,#f1faeb 0.5px,#e6f5e0 13.5px,#ceecc8 22.5px,#c0e6c0 24.5px,#a7ddb5 26.5px,#5abacf 31.5px,#4bb0d1 32.5px,#3395c3 35.5px,#3192c1 37.5px,#3fa2ca 42.5px,#3496c3 47.5px,#4db2d3 52.5px,#61bdcd 54.5px,#80cec2 56.5px,#98d7ba 57.5px,#b7e3bc 58.5px,#cbeac4 59.5px,#d3eecd 61.5px,#d1edca 76.5px,#e6f6e1 106.5px,#ebf7e5 120.5px)"></div><div style="height:2px;background:linear-gradient(90deg,#f1faeb 0.5px,#e6f5e0 13.5px,#ceecc8 22.5px,#c0e6c0 24.5px,#a7ddb5 26.5px,#69c2ca 30.5px,#4aafd1 32.5px,#3294c2 35.5px,#3091c1 37.5px,#3fa2ca 42.5px,#379ac5 47.5px,#4fb3d3 52.5px,#6fc5c8 55.5px,#7dcdc3 56.5px,#b3e1ba 58.5px,#c5e8c2 59.5px,#d0edca 61.5px,#d3eecc 78.5px,#e9f6e3 112.5px,#ebf7e5 120.5px)"></div><div style="height:2px;background:linear-gradient(90deg,#f1faeb 0.5px,#e6f5e0 13.5px,#ceecc8 22.5px,#c0e6c0 24.5px,#a7ddb5 26.5px,#68c1ca 30.5px,#49add0 32.5px,#3192c1 35.5px,#2f90c0 37.5px,#3ea1c9 42.5px,#3a9cc7 47.5px,#50b4d2 52.5px,#6fc5c8 55.5px,#7cccc4 56.5px,#91d4bd 57.5px,#addfb7 58.5px,#c8eac3 60.5px,#d1edcb 68.5px,#d1edcb 77.5px,#e7f6e2 109.5px,#ebf7e5 120.5px)"></div><div style="height:2px;background:linear-gradient(90deg,#f1faeb 0.5px,#e6f5e0 13.5px,#ceecc8 22.5px,#c0e6c0 24.5px,#a7ddb5 26.5px,#57b8d0 31.5px,#3ea1c9 33.5px,#2c8ebf 36.5px,#3da0c9 42.5px,#3ea1c9 48.5px,#53b6d1 52.5px,#6ec5c8 55.5px,#8dd3be 57.5px,#a9ddb5 58.5px,#c2e7c0 60.5px,#d2edcc 66.5px,#d1edca 77.5px,#e7f6e2 110.5px,#ebf7e5 120.5px)"></div><div style="height:2px;background:linear-gradient(90deg,#f1faeb 0.5px,#e6f5e0 13.5px,#ceecc8 22.5px,#c0e6c0 24.5px,#a7ddb5 26.5px,#67c1cb 30.5px,#56b7d0 31.5px,#3ea1c9 33.5px,#2c8ebf 36.5px,#3496c3 40.5px,#3da0c9 43.5px,#40a4cb 48.5px,#54b6d1 52.5px,#6ec5c8 55.5px,#77cac5 56.5px,#88d1c0 57.5px,#a2dbb7 58.5px,#bbe4bd 60.5px,#d1edcb 65.5px,#d1edcb 78.5px,#e8f6e2 113.5px,#ebf7e5 120.5px)"></div><div style="height:2px;background:linear-gradient(90deg,#f1faeb 0.5px,#e6f5e0 13.5px,#ceecc8 22.5px,#c0e6c0 24.5px,#a7ddb5 26.5px,#56b7d0 31.5px,#3da0c9 33.5px,#2b8cbe 36.5px,#379ac5 41.5px,#47abcf 49.5px,#56b7d0 52.5px,#76c9c6 56.5px,#86d0c0 57.5px,#acdfb7 59.5px,#d1edcb 65.5px,#d2edcc 69.5px,#d0edca 77.5px,#e6f6e1 110.5px,#eaf7e4 120.5px)"></div><div style="height:2px;background:linear-gradient(90deg,#f1faeb 0.5px,#e6f5e0 13.5px,#ceecc8 22.5px,#c0e6c0 24.5px,#a7ddb5 26.5px,#54b6d1 31.5px,#3c9fc8 33.5px,#2a8bbe 36.5px,#3699c5 41.5px,#49add0 49.5px,#64bfcc 54.5px,#81cec2 57.5px,#a5dcb6 59.5px,#c3e7c1 63.5px,#d2edcc 65.5px,#d3eecc 69.5px,#d0ecc9 77.5px,#e6f6e1 111.5px,#eaf7e4 120.5px)"></div><div style="height:2px;background:linear-gradient(90deg,#f1faeb 0.5px,#e6f5e0 13.5px,#ceecc8 22.5px,#c0e6c0 24.5px,#a7ddb5 26.5px,#53b6d1 31.5px,#3b9dc7 33.5px,#298abd 36.5px,#3597c4 41.5px,#50b4d2 50.5px,#72c7c7 56.5px,#7dcdc3 57.5px,#9ed9b8 59.5px,#addfb7 61.5px,#cdebc6 64.5px,#d6efd0 67.5px,#ceecc8 75.5px,#e8f6e2 115.5px,#eaf7e4 120.5px)"></div><div style="height:2px;background:linear-gradient(90deg,#f1faeb 0.5px,#e6f5e0 13.5px,#ceecc8 22.5px,#c0e6c0 24.5px,#a7ddb5 26.5px,#53b6d1 31.5px,#3a9cc7 33.5px,#298abd 36.5px,#2f90c0 40.5px,#42a6cc 45.5px,#53b6d1 50.5px,#70c6c8 56.5px,#9ed9b8 60.5px,#afe0b8 62.5px,#ccebc6 64.5px,#d7efd1 67.5px,#ceecc7 75.5px,#e6f6e1 112.5px,#e9f7e3 120.5px)"></div><div style="height:2px;background:linear-gradient(90deg,#f1faeb 0.5px,#e6f5e0 13.5px,#ceecc8 22.5px,#c0e6c0 24.5px,#a7ddb5 26.5px,#62becc 30.5px,#51b5d2 31.5px,#3a9cc7 33.5px,#2889bc 36.5px,#2d8fbf 40.5px,#4aafd1 47.5px,#6fc5c8 56.5px,#abdeb6 62.5px,#ccebc5 64.5px,#d8f0d2 67.5px,#ceecc7 75.5px,#e8f6e2 116.5px,#e9f7e3 120.5px)"></div><div style="height:2px;background:linear-gradient(90deg,#f1faeb 0.5px,#e6f5e0 13.5px,#ceecc8 22.5px,#c0e6c0 24.5px,#a7ddb5 26.5px,#50b4d2 31.5px,#389bc6 33.5px,#2788bc 36.5px,#2c8ebf 40.5px,#4cb1d2 47.5px,#72c7c7 57.5px,#98d7ba 61.5px,#a6dcb6 62.5px,#cbeac4 64.5px,#d8f0d2 66.5px,#ceecc7 76.5px,#e8f6e2 117.5px,#e9f7e3 120.5px)"></div><div style="height:2px;background:linear-gradient(90deg,#f1faeb 0.5px,#e6f5e0 13.5px,#ceecc8 22.5px,#c0e6c0 24.5px,#a7ddb5 26.5px,#50b4d2 31.5px,#379ac5 33.5px,#2687bb 36.5px,#2b8cbe 40.5px,#4fb3d3 47.5px,#6fc5c8 57.5px,#8fd4bd 61.5px,#9fdab8 62.5px,#b3e1ba 63.5px,#c9eac4 64.5px,#d8f0d3 66.5px,#cdebc6 75.5px,#e9f6e3 119.5px,#e9f6e3 120.5px)"></div><div style="height:2px;background:linear-gradient(90deg,#f1faeb 0.5px,#e6f5e0 13.5px,#ceecc8 22.5px,#c0e6c0 24.5px,#a7ddb5 26.5px,#4fb3d3 31.5px,#3699c5 33.5px,#2484ba 37.5px,#2f90c0 41.5px,#48accf 45.5px,#5abacf 49.5px,#6fc5c8 58.5px,#7cccc4 60.5px,#99d7ba 62.5px,#afe0b8 63.5px,#c8eac3 64.5px,#d9f0d3 66.5px,#cdebc6 75.5px,#e8f6e2 118.5px,#e9f6e3 120.5px)"></div><div style="height:2px;background:linear-gradient(90deg,#f1faeb 0.5px,#e6f5e0 13.5px,#ceecc8 22.5px,#bfe6bf 24.5px,#a6dcb6 26.5px,#5fbdcd 30.5px,#4db2d3 31.5px,#3597c4 33.5px,#2283ba 37.5px,#2d8fbf 41.5px,#4db2d3 46.5px,#61bdcd 51.5px,#6cc4c9 58.5px,#77cac5 60.5px,#83cfc1 61.5px,#acdfb7 63.5px,#c5e8c2 64.5px,#d7efd1 66.5px,#d1edca 71.5px,#ceecc7 78.5px,#e8f6e2 119.5px,#e8f6e2 120.5px)"></div><div style="height:2px;background:linear-gradient(90deg,#f1faeb 0.5px,#e7f6e2 12.5px,#d1edcb 21.5px,#bfe6bf 24.5px,#a5dcb6 26.5px,#5ebcce 30.5px,#4cb1d2 31.5px,#3496c3 33.5px,#2182b9 37.5px,#2c8ebf 41.5px,#4cb1d2 46.5px,#62becc 52.5px,#6cc4c9 58.5px,#81cec2 61.5px,#a9ddb5 63.5px,#bfe6bf 64.5px,#ceecc7 65.5px,#d5eece 67.5px,#ceecc7 77.5px,#e7f6e2 120.5px)"></div><div style="height:2px;background:linear-gradient(90deg,#f1faeb 0.5px,#e9f6e3 11.5px,#d1edca 21.5px,#c8eac3 23.5px,#a5dcb6 26.5px,#5dbbce 30.5px,#4bb0d1 31.5px,#3294c2 33.5px,#2182b9 36.5px,#2687bb 40.5px,#4cb1d2 46.5px,#62becc 52.5px,#6cc4c9 58.5px,#80cec2 61.5px,#a3dbb7 63.5px,#bae4bd 64.5px,#c8eac3 65.5px,#d0edca 67.5px,#d1edca 84.5px,#e6f6e1 120.5px)"></div><div style="height:2px;background:linear-gradient(90deg,#f1faeb 0.5px,#e9f6e3 11.5px,#d1edca 21.5px,#c7e9c3 23.5px,#a3dbb7 26.5px,#5bbacf 30.5px,#4aafd1 31.5px,#3192c1 33.5px,#1e7fb7 37.5px,#298abd 41.5px,#4bb0d1 46.5px,#64bfcc 53.5px,#70c6c8 59.5px,#7fcdc3 61.5px,#9fdab8 63.5px,#c0e6c0 65.5px,#ccebc5 67.5px,#d7efd1 93.5px,#e6f6e1 120.5px)"></div><div style="height:2px;background:linear-gradient(90deg,#f1faeb 0.5px,#e9f6e3 11.5px,#d0edca 21.5px,#bde5be 24.5px,#a2dbb7 26.5px,#6bc3c9 29.5px,#48accf 31.5px,#2f90c0 33.5px,#1d7eb7 37.5px,#2788bc 41.5px,#4aafd1 46.5px,#64bfcc 53.5px,#70c6c8 59.5px,#7dcdc3 61.5px,#99d7ba 63.5px,#addfb7 64.5px,#c0e6c0 66.5px,#ceecc8 73.5px,#d7efd1 94.5px,#e6f5e0 120.5px)"></div><div style="height:2px;background:linear-gradient(90deg,#f1faeb 0.5px,#e8f6e2 11.5px,#d0edca 21.5px,#bce5be 24.5px,#a0dab8 26.5px,#69c2ca 29.5px,#57b8d0 30.5px,#3a9cc7 32.5px,#2687bb 34.5px,#1d7eb7 38.5px,#2c8ebf 42.5px,#4aafd1 46.5px,#61bdcd 52.5px,#70c6c8 59.5px,#7cccc4 61.5px,#95d6bb 63.5px,#a7ddb5 64.5px,#bde5be 67.5px,#c5e8c2 70.5px,#ceecc8 72.5px,#d5efcf 92.5px,#e5f5e0 120.5px)"></div><div style="height:2px;background:linear-gradient(90deg,#f1faeb 0.5px,#e6f6e1 12.5px,#ccebc5 22.5px,#aedfb8 25.5px,#8ed3be 27.5px,#56b7d0 30.5px,#379ac5 32.5px,#2586bb 34.5px,#1a7ab5 37.5px,#2484ba 41.5px,#45a8cd 45.5px,#53b6d1 48.5px,#65c0cb 55.5px,#73c8c7 60.5px,#8fd4bd 63.5px,#abdeb6 65.5px,#c2e7c0 70.5px,#ceecc8 72.5px,#d7efd1 97.5px,#e4f5df 120.5px)"></div><div style="height:2px;background:linear-gradient(90deg,#f1faeb 0.5px,#e6f6e1 12.5px,#ccebc5 22.5px,#addfb7 25.5px,#7accc4 28.5px,#54b6d1 30.5px,#2a8bbe 33.5px,#1979b5 37.5px,#2283ba 41.5px,#43a7cd 45.5px,#51b5d2 48.5px,#65c0cb 55.5px,#79cbc5 61.5px,#a9ddb5 66.5px,#bee6bf 70.5px,#ceecc8 72.5px,#d7efd1 98.5px,#e4f4de 120.5px)"></div><div style="height:2px;background:linear-gradient(90deg,#f1faeb 0.5px,#e6f6e1 12.5px,#cfecc8 21.5px,#bae4bd 24.5px,#acdfb7 25.5px,#65c0cb 29.5px,#53b6d1 30.5px,#2889bc 33.5px,#1a7ab5 36.5px,#1b7bb6 39.5px,#2788bc 42.5px,#42a6cc 45.5px,#51b5d2 48.5px,#77cac5 61.5px,#9fdab8 66.5px,#b2e1b9 69.5px,#ceecc7 72.5px,#cfecc8 78.5px,#e3f4de 120.5px)"></div><div style="height:2px;background:linear-gradient(90deg,#f1faeb 0.5px,#e8f6e2 11.5px,#cfecc8 21.5px,#b9e3bc 24.5px,#abdeb6 25.5px,#64bfcc 29.5px,#51b5d2 30.5px,#2788bc 33.5px,#1576b3 37.5px,#1e7fb7 41.5px,#42a6cc 45.5px,#56b7d0 49.5px,#76c9c6 61.5px,#a5dcb6 68.5px,#b7e3bc 70.5px,#c6e9c2 71.5px,#d0ecc9 73.5px,#d3eecd 94.5px,#e2f4dd 120.5px)"></div><div style="height:2px;background:linear-gradient(90deg,#f1faeb 0.5px,#e8f6e2 11.5px,#ceecc8 21.5px,#c3e7c1 23.5px,#abdeb6 25.5px,#62becc 29.5px,#50b4d2 30.5px,#2687bb 33.5px,#1a7ab5 35.5px,#1475b2 38.5px,#2484ba 42.5px,#41a5cb 45.5px,#54b6d1 49.5px,#77cac5 62.5px,#92d5bc 67.5px,#a7ddb5 69.5px,#c5e8c2 71.5px,#d0ecc9 73.5px,#d0ecc9 78.5px,#d8f0d2 104.5px,#e1f4dc 120.5px)"></div><div style="height:2px;background:linear-gradient(90deg,#f1faeb 0.5px,#e8f6e2 11.5px,#ceecc8 21.5px,#b7e3bc 24.5px,#aadeb6 25.5px,#61bdcd 29.5px,#4fb3d3 30.5px,#2484ba 33.5px,#1979b5 35.5px,#1373b2 38.5px,#1b7bb6 41.5px,#40a4cb 45.5px,#54b6d1 49.5px,#81cec2 66.5px,#a0dab8 69.5px,#c3e7c1 71.5px,#ceecc7 72.5px,#d2edcc 76.5px,#cfecc8 86.5px,#e1f3dc 120.5px)"></div><div style="height:2px;background:linear-gradient(90deg,#f1faeb 0.5px,#e8f6e2 11.5px,#ceecc8 21.5px,#b7e3bc 24.5px,#aadeb6 25.5px,#61bdcd 29.5px,#4fb3d3 30.5px,#2586bb 33.5px,#1878b4 35.5px,#1272b1 38.5px,#2182b9 42.5px,#40a4cb 45.5px,#50b4d2 48.5px,#5dbbce 51.5px,#84cfc1 66.5px,#a0dab8 69.5px,#c0e6c0 71.5px,#ceecc8 73.5px,#ceecc8 78.5px,#d5efcf 102.5px,#e0f3db 120.5px)"></div><div style="height:2px;background:linear-gradient(90deg,#f1faeb 0.5px,#e9f7e3 10.5px,#ceecc8 21.5px,#b7e3bc 24.5px,#abdeb6 25.5px,#50b4d2 30.5px,#2586bb 33.5px,#1878b4 35.5px,#1373b2 39.5px,#2081b8 42.5px,#40a4cb 45.5px,#51b5d2 48.5px,#69c2ca 54.5px,#88d1c0 66.5px,#a2dbb7 69.5px,#c7e9c3 72.5px,#cfecc8 76.5px,#cfecc8 91.5px,#dff3da 120.5px)"></div><div style="height:2px;background:linear-gradient(90deg,#f1faeb 0.5px,#e9f7e3 10.5px,#ceecc8 21.5px,#b7e3bc 24.5px,#abdeb6 25.5px,#50b4d2 30.5px,#1b7bb6 34.5px,#1171b1 38.5px,#1f80b8 42.5px,#47abcf 46.5px,#5bbacf 49.5px,#91d4bd 67.5px,#addfb7 70.5px,#c4e8c1 72.5px,#ceecc7 75.5px,#ceecc8 91.5px,#dff2da 120.5px)"></div><div style="height:2px;background:linear-gradient(90deg,#f1faeb 0.5px,#e9f7e3 10.5px,#ceecc8 21.5px,#b9e3bc 24.5px,#abdeb6 25.5px,#50b4d2 30.5px,#1b7bb6 34.5px,#1070b0 38.5px,#1e7fb7 42.5px,#48accf 46.5px,#56b7d0 48.5px,#69c2ca 52.5px,#94d5bc 67.5px,#acdfb7 70.5px,#c4e8c1 73.5px,#cbeac4 76.5px,#d4eece 105.5px,#def2d9 120.5px)"></div><div style="height:2px;background:linear-gradient(90deg,#f1faeb 0.5px,#e9f7e3 10.5px,#c9eac4 22.5px,#acdfb7 25.5px,#51b5d2 30.5px,#1b7bb6 34.5px,#0f6faf 38.5px,#1d7eb7 42.5px,#49add0 46.5px,#57b8d0 48.5px,#68c1ca 51.5px,#7fcdc3 58.5px,#97d6bb 67.5px,#abdeb6 70.5px,#c0e6c0 73.5px,#c7e9c3 77.5px,#d8f0d3 112.5px,#ddf2d8 120.5px)"></div><div style="height:2px;background:linear-gradient(90deg,#f1faeb 0.5px,#e9f7e3 10.5px,#c9eac4 22.5px,#acdfb7 25.5px,#51b5d2 30.5px,#1b7bb6 34.5px,#0e6eaf 38.5px,#1c7cb6 42.5px,#49add0 46.5px,#61bdcd 49.5px,#80cec2 57.5px,#97d6bb 66.5px,#abdeb6 70.5px,#c4e8c1 75.5px,#d8f0d2 113.5px,#ddf2d7 120.5px)"></div><div style="height:2px;background:linear-gradient(90deg,#f1faeb 0.5px,#e9f6e3 10.5px,#c9eac4 22.5px,#addfb7 25.5px,#62becc 29.5px,#53b6d1 30.5px,#1b7bb6 34.5px,#1171b1 36.5px,#0f6faf 39.5px,#1b7bb6 42.5px,#4aafd1 46.5px,#69c2ca 50.5px,#83cfc1 57.5px,#a5dcb6 69.5px,#c0e6c0 75.5px,#d8f0d2 114.5px,#dcf1d7 120.5px)"></div><div style="height:2px;background:linear-gradient(90deg,#f1faeb 0.5px,#e9f6e3 10.5px,#c9eac4 22.5px,#addfb7 25.5px,#64bfcc 29.5px,#53b6d1 30.5px,#1c7cb6 34.5px,#1171b1 36.5px,#0e6eaf 39.5px,#1a7ab5 42.5px,#4aafd1 46.5px,#6cc4c9 50.5px,#8ad2bf 58.5px,#aadeb6 70.5px,#bee6bf 75.5px,#daf0d4 117.5px,#dcf1d6 120.5px)"></div><div style="height:2px;background:linear-gradient(90deg,#f1faeb 0.5px,#e9f6e3 10.5px,#c9eac4 22.5px,#addfb7 25.5px,#65c0cb 29.5px,#54b6d1 30.5px,#2a8bbe 33.5px,#1373b2 35.5px,#0d6dae 39.5px,#2283ba 43.5px,#4aafd1 46.5px,#6fc5c8 50.5px,#8bd2bf 57.5px,#acdfb7 70.5px,#bfe6bf 76.5px,#d9f0d3 116.5px,#dcf1d6 120.5px)"></div><div style="height:2px;background:linear-gradient(90deg,#f1faeb 0.5px,#e6f6e1 11.5px,#c9eac4 22.5px,#aedfb8 25.5px,#8ad2bf 27.5px,#56b7d0 30.5px,#389bc6 32.5px,#1373b2 35.5px,#0b6cae 39.5px,#2081b8 43.5px,#49add0 46.5px,#70c6c8 50.5px,#8ed3be 57.5px,#addfb7 70.5px,#bfe6bf 76.5px,#d8f0d3 116.5px,#dcf1d6 120.5px)"></div><div style="height:2px;background:linear-gradient(90deg,#f1faeb 0.5px,#e8f6e2 10.5px,#c9eac4 22.5px,#aedfb8 25.5px,#8bd2bf 27.5px,#57b8d0 30.5px,#48accf 31.5px,#1e7fb7 34.5px,#1070b0 36.5px,#0b6cae 39.5px,#1f80b8 43.5px,#49add0 46.5px,#73c8c7 50.5px,#92d5bc 57.5px,#addfb7 69.5px,#bfe6bf 77.5px,#daf1d5 119.5px,#dcf1d6 120.5px)"></div><div style="height:2px;background:linear-gradient(90deg,#f1faeb 0.5px,#e8f6e2 10.5px,#c9eac4 22.5px,#afe0b8 25.5px,#8dd3be 27.5px,#58b9d0 30.5px,#48accf 31.5px,#1e7fb7 34.5px,#0f6faf 36.5px,#0a6aad 39.5px,#1e7fb7 43.5px,#49add0 46.5px,#6cc4c9 49.5px,#87d1c0 53.5px,#9ed9b8 60.5px,#b1e0b9 70.5px,#c0e6c0 78.5px,#daf1d5 119.5px,#dbf1d5 120.5px)"></div><div style="height:2px;background:linear-gradient(90deg,#f1faeb 0.5px,#e6f5e0 11.5px,#cbeac4 22.5px,#afe0b8 25.5px,#8ed3be 27.5px,#5abacf 30.5px,#49add0 31.5px,#1f80b8 34.5px,#0f6faf 36.5px,#0969ad 39.5px,#1d7eb7 43.5px,#48accf 46.5px,#62becc 48.5px,#7fcdc3 51.5px,#97d6bb 56.5px,#acdfb7 66.5px,#c0e6c0 79.5px,#dbf1d5 120.5px)"></div><div style="height:2px;background:linear-gradient(90deg,#f1faeb 0.5px,#e6f5e0 11.5px,#cbeac4 22.5px,#a2dbb7 26.5px,#5bbacf 30.5px,#4aafd1 31.5px,#1f80b8 34.5px,#0f6faf 36.5px,#0b6cae 40.5px,#1c7cb6 43.5px,#48accf 46.5px,#62becc 48.5px,#7accc4 50.5px,#97d6bb 55.5px,#abdeb6 63.5px,#c3e7c1 82.5px,#dbf1d5 120.5px)"></div><div style="height:2px;background:linear-gradient(90deg,#f1faeb 0.5px,#e5f5e0 11.5px,#cbeac4 22.5px,#b1e0b9 25.5px,#a3dbb7 26.5px,#5dbbce 30.5px,#4aafd1 31.5px,#2081b8 34.5px,#0e6eaf 36.5px,#0a6aad 40.5px,#1b7bb6 43.5px,#47abcf 46.5px,#64bfcc 48.5px,#7cccc4 50.5px,#99d7ba 55.5px,#acdfb7 62.5px,#c4e8c1 84.5px,#daf1d5 120.5px)"></div><div style="height:2px;background:linear-gradient(90deg,#f1faeb 0.5px,#e5f5e0 11.5px,#cbeac4 22.5px,#a5dcb6 26.5px,#5ebcce 30.5px,#4bb0d1 31.5px,#2182b9 34.5px,#0e6eaf 36.5px,#0969ad 40.5px,#1a7ab5 43.5px,#2586bb 44.5px,#47abcf 46.5px,#65c0cb 48.5px,#7fcdc3 50.5px,#9ed9b8 55.5px,#afe0b8 62.5px,#d3eecd 109.5px,#daf1d5 120.5px)"></div><div style="height:2px;background:linear-gradient(90deg,#f1faeb 0.5px,#e5f5e0 11.5px,#cbeac4 22.5px,#a5dcb6 26.5px,#5fbdcd 30.5px,#4bb0d1 31.5px,#1475b2 35.5px,#0868ac 38.5px,#0868ac 40.5px,#1979b5 43.5px,#3496c3 45.5px,#54b6d1 47.5px,#7dcdc3 50.5px,#9ed9b8 55.5px,#afe0b8 62.5px,#d4eece 109.5px,#daf1d5 120.5px)"></div><div style="height:2px;background:linear-gradient(90deg,#f1faeb 0.5px,#e5f5e0 11.5px,#cbeac4 22.5px,#a5dcb6 26.5px,#5fbdcd 30.5px,#4cb1d2 31.5px,#2182b9 34.5px,#0d6dae 36.5px,#0867ab 40.5px,#1878b4 43.5px,#3294c2 45.5px,#53b6d1 47.5px,#7cccc4 50.5px,#99d7ba 54.5px,#aedfb8 61.5px,#d1edca 104.5px,#dbf1d5 120.5px)"></div><div style="height:2px;background:linear-gradient(90deg,#f1faeb 0.5px,#e3f4de 12.5px,#cbeac4 22.5px,#a5dcb6 26.5px,#5fbdcd 30.5px,#4cb1d2 31.5px,#2081b8 34.5px,#0d6dae 36.5px,#0866a9 40.5px,#1677b3 43.5px,#3192c1 45.5px,#50b4d2 47.5px,#7cccc4 50.5px,#99d7ba 54.5px,#aedfb8 61.5px,#d2edcc 105.5px,#dbf1d5 120.5px)"></div><div style="height:2px;background:linear-gradient(90deg,#f1faeb 0.5px,#e4f4de 12.5px,#cbeac4 22.5px,#a5dcb6 26.5px,#5fbdcd 30.5px,#4db2d3 31.5px,#1475b2 35.5px,#0969ad 37.5px,#0866a9 40.5px,#1576b3 43.5px,#2f90c0 45.5px,#4db2d3 47.5px,#7accc4 50.5px,#99d7ba 54.5px,#addfb7 60.5px,#d0ecc9 101.5px,#dcf1d6 120.5px)"></div><div style="height:2px;background:linear-gradient(90deg,#f1faeb 0.5px,#e1f4dc 13.5px,#c9eac4 22.5px,#a5dcb6 26.5px,#61bdcd 30.5px,#4db2d3 31.5px,#1475b2 35.5px,#0868ac 37.5px,#0864a8 40.5px,#1475b2 43.5px,#2c8ebf 45.5px,#4cb1d2 47.5px,#79cbc5 50.5px,#99d7ba 54.5px,#addfb7 60.5px,#d1edca 102.5px,#dcf1d6 120.5px)"></div><div style="height:2px;background:linear-gradient(90deg,#f1faeb 0.5px,#e1f4dc 13.5px,#c9eac4 22.5px,#a5dcb6 26.5px,#61bdcd 30.5px,#4db2d3 31.5px,#1475b2 35.5px,#0868ac 37.5px,#0863a7 40.5px,#1272b1 43.5px,#3b9dc7 46.5px,#4aafd1 47.5px,#77cac5 50.5px,#99d7ba 54.5px,#addfb7 60.5px,#cfecc8 98.5px,#dcf1d7 120.5px)"></div><div style="height:2px;background:linear-gradient(90deg,#f1faeb 0.5px,#e1f4dc 13.5px,#c9eac4 22.5px,#a3dbb7 26.5px,#61bdcd 30.5px,#4fb3d3 31.5px,#2081b8 34.5px,#0b6cae 36.5px,#0862a5 39.5px,#0b6cae 42.5px,#1b7bb6 44.5px,#48accf 47.5px,#76c9c6 50.5px,#92d5bc 53.5px,#a6dcb6 57.5px,#bce5be 73.5px,#dcf1d7 120.5px)"></div><div style="height:2px;background:linear-gradient(90deg,#f1faeb 0.5px,#e1f4dc 13.5px,#c9eac4 22.5px,#a3dbb7 26.5px,#61bdcd 30.5px,#4fb3d3 31.5px,#1475b2 35.5px,#0867ab 37.5px,#0861a4 40.5px,#1070b0 43.5px,#2788bc 45.5px,#47abcf 47.5px,#56b7d0 48.5px,#76c9c6 50.5px,#92d5bc 53.5px,#a6dcb6 57.5px,#bce5be 73.5px,#ddf2d7 120.5px)"></div><div style="height:2px;background:linear-gradient(90deg,#f1faeb 0.5px,#e1f4dc 13.5px,#c9eac4 22.5px,#a3dbb7 26.5px,#62becc 30.5px,#4fb3d3 31.5px,#1373b2 35.5px,#0866a9 37.5px,#0861a4 40.5px,#0868ac 42.5px,#2687bb 45.5px,#45a8cd 47.5px,#54b6d1 48.5px,#80cec2 51.5px,#99d7ba 54.5px,#addfb7 60.5px,#d0edca 99.5px,#ddf2d7 120.5px)"></div><div style="height:2px;background:linear-gradient(90deg,#f1faeb 0.5px,#e1f4dc 13.5px,#c9eac4 22.5px,#a3dbb7 26.5px,#62becc 30.5px,#50b4d2 31.5px,#1373b2 35.5px,#0866a9 37.5px,#085fa3 40.5px,#0867ab 42.5px,#1878b4 44.5px,#53b6d1 48.5px,#80cec2 51.5px,#9fdab8 55.5px,#b1e0b9 62.5px,#d1edca 100.5px,#ddf2d7 120.5px)"></div><div style="height:2px;background:linear-gradient(90deg,#f1faeb 0.5px,#e1f4dc 13.5px,#c8eac3 22.5px,#a3dbb7 26.5px,#62becc 30.5px,#50b4d2 31.5px,#1373b2 35.5px,#0864a8 37.5px,#085ea1 40.5px,#0d6dae 43.5px,#2182b9 45.5px,#50b4d2 48.5px,#80cec2 51.5px,#9fdab8 55.5px,#b1e0b9 62.5px,#d1edca 100.5px,#ddf2d8 120.5px)"></div><div style="height:2px;background:linear-gradient(90deg,#f1faeb 0.5px,#e1f4dc 13.5px,#c8eac3 22.5px,#a3dbb7 26.5px,#62becc 30.5px,#51b5d2 31.5px,#1373b2 35.5px,#0863a7 37.5px,#085da0 40.5px,#0b6cae 43.5px,#2f90c0 46.5px,#4fb3d3 48.5px,#7fcdc3 51.5px,#99d7ba 54.5px,#aadeb6 58.5px,#cdebc6 92.5px,#ddf2d8 120.5px)"></div><div style="height:2px;background:linear-gradient(90deg,#f1faeb 0.5px,#e2f4dd 13.5px,#c8eac3 22.5px,#a3dbb7 26.5px,#64bfcc 30.5px,#51b5d2 31.5px,#1373b2 35.5px,#0863a7 37.5px,#085da0 40.5px,#0a6aad 43.5px,#2c8ebf 46.5px,#4db2d3 48.5px,#7fcdc3 51.5px,#a0dab8 55.5px,#b3e1ba 64.5px,#d1edca 99.5px,#def2d9 120.5px)"></div><div style="height:2px;background:linear-gradient(90deg,#f1faeb 0.5px,#e2f4dd 13.5px,#c8eac3 22.5px,#a3dbb7 26.5px,#64bfcc 30.5px,#51b5d2 31.5px,#1373b2 35.5px,#0862a5 37.5px,#085c9f 40.5px,#0969ad 43.5px,#1c7cb6 45.5px,#4bb0d1 48.5px,#7dcdc3 51.5px,#99d7ba 54.5px,#aadeb6 58.5px,#ceecc7 92.5px,#def2d9 120.5px)"></div><div style="height:2px;background:linear-gradient(90deg,#f1faeb 0.5px,#e2f4dd 13.5px,#c8eac3 22.5px,#a3dbb7 26.5px,#64bfcc 30.5px,#53b6d1 31.5px,#1373b2 35.5px,#0969ad 36.5px,#085a9d 39.5px,#085fa3 42.5px,#0867ab 43.5px,#298abd 46.5px,#4aafd1 48.5px,#7dcdc3 51.5px,#a0dab8 55.5px,#b5e2bb 65.5px,#d6efd0 106.5px,#dff2da 120.5px)"></div><div style="height:2px;background:linear-gradient(90deg,#f1faeb 0.5px,#e2f4dd 13.5px,#c8eac3 22.5px,#a3dbb7 26.5px,#64bfcc 30.5px,#53b6d1 31.5px,#1373b2 35.5px,#0969ad 36.5px,#085c9f 38.5px,#085a9d 41.5px,#0866a9 43.5px,#1979b5 45.5px,#49add0 48.5px,#7cccc4 51.5px,#99d7ba 54.5px,#aadeb6 58.5px,#ccebc5 88.5px,#dff2da 120.5px)"></div><div style="height:2px;background:linear-gradient(90deg,#f1faeb 0.5px,#e2f4dd 13.5px,#c7e9c3 22.5px,#aedfb8 25.5px,#94d5bc 27.5px,#54b6d1 31.5px,#3294c2 33.5px,#1373b2 35.5px,#0969ad 36.5px,#085a9d 38.5px,#08599c 41.5px,#0864a8 43.5px,#1677b3 45.5px,#47abcf 48.5px,#6bc3c9 50.5px,#88d1c0 52.5px,#a6dcb6 56.5px,#bde5be 73.5px,#dbf1d5 113.5px,#dff2da 120.5px)"></div><div style="height:2px;background:linear-gradient(90deg,#f1faeb 0.5px,#e2f4dd 13.5px,#c7e9c3 22.5px,#aedfb8 25.5px,#94d5bc 27.5px,#54b6d1 31.5px,#3294c2 33.5px,#1272b1 35.5px,#0969ad 36.5px,#085a9d 38.5px,#08589b 41.5px,#0b6cae 44.5px,#2283ba 46.5px,#46aace 48.5px,#57b8d0 49.5px,#7cccc4 51.5px,#99d7ba 54.5px,#a9ddb5 57.5px,#ccebc5 88.5px,#dff3da 120.5px)"></div><div style="height:2px;background:linear-gradient(90deg,#f1faeb 0.5px,#e0f3db 14.5px,#c7e9c3 22.5px,#aedfb8 25.5px,#94d5bc 27.5px,#54b6d1 31.5px,#3294c2 33.5px,#1272b1 35.5px,#0969ad 36.5px,#08599c 38.5px,#085799 41.5px,#0a6aad 44.5px,#2182b9 46.5px,#45a8cd 48.5px,#56b7d0 49.5px,#88d1c0 52.5px,#a6dcb6 56.5px,#bee6bf 74.5px,#dff2da 119.5px,#dff3da 120.5px)"></div><div style="height:2px;background:linear-gradient(90deg,#f1faeb 0.5px,#e0f3db 14.5px,#c7e9c3 22.5px,#aedfb8 25.5px,#94d5bc 27.5px,#56b7d0 31.5px,#45a8cd 32.5px,#1272b1 35.5px,#0868ac 36.5px,#08589b 38.5px,#085598 41.5px,#0969ad 44.5px,#1f80b8 46.5px,#54b6d1 49.5px,#7accc4 51.5px,#a2dbb7 55.5px,#b6e3bb 66.5px,#d3eecd 100.5px,#e0f3db 120.5px)"></div><div style="height:2px;background:linear-gradient(90deg,#f1faeb 0.5px,#e0f3db 14.5px,#c7e9c3 22.5px,#aedfb8 25.5px,#94d5bc 27.5px,#56b7d0 31.5px,#45a8cd 32.5px,#1272b1 35.5px,#0868ac 36.5px,#08589b 38.5px,#085799 42.5px,#0867ab 44.5px,#1d7eb7 46.5px,#53b6d1 49.5px,#87d1c0 52.5px,#a2dbb7 55.5px,#b5e2bb 65.5px,#d5efcf 102.5px,#e0f3db 120.5px)"></div><div style="height:2px;background:linear-gradient(90deg,#f1faeb 0.5px,#e0f3db 14.5px,#c7e9c3 22.5px,#addfb7 25.5px,#86d0c0 28.5px,#57b8d0 31.5px,#46aace 32.5px,#2081b8 34.5px,#0868ac 36.5px,#085799 38.5px,#085598 42.5px,#0866a9 44.5px,#0e6eaf 45.5px,#2d8fbf 47.5px,#51b5d2 49.5px,#79cbc5 51.5px,#99d7ba 54.5px,#a7ddb5 56.5px,#cdebc6 89.5px,#e1f3dc 120.5px)"></div><div style="height:2px;background:linear-gradient(90deg,#f1faeb 0.5px,#e0f3db 14.5px,#c6e9c2 22.5px,#addfb7 25.5px,#86d0c0 28.5px,#57b8d0 31.5px,#46aace 32.5px,#2081b8 34.5px,#0868ac 36.5px,#085598 38.5px,#085093 41.5px,#0d6dae 45.5px,#2b8cbe 47.5px,#50b4d2 49.5px,#79cbc5 51.5px,#99d7ba 54.5px,#a7ddb5 56.5px,#cdebc6 89.5px,#e1f3dc 120.5px)"></div><div style="height:2px;background:linear-gradient(90deg,#f1faeb 0.5px,#e0f3db 14.5px,#c6e9c2 22.5px,#addfb7 25.5px,#86d0c0 28.5px,#57b8d0 31.5px,#46aace 32.5px,#2081b8 34.5px,#0867ab 36.5px,#085598 38.5px,#085395 42.5px,#0b6cae 45.5px,#2a8bbe 47.5px,#4fb3d3 49.5px,#87d1c0 52.5px,#a7ddb5 56.5px,#ceecc8 90.5px,#e1f3dc 120.5px)"></div></div>
<div class="hm" style="left:207px;top:237px;width:120px;height:161px"><div style="height:2px;background:linear-gradient(90deg,#f1faeb 0.5px,#e9f6e3 10.5px,#c9eac4 21.5px,#acdfb7 24.5px,#72c7c7 28.5px,#4db2d3 30.5px,#2788bc 32.5px,#1171b1 34.5px,#0867ab 36.5px,#0a6aad 38.5px,#389bc6 42.5px,#4db2d3 47.5px,#5ebcce 49.5px,#a6dcb6 54.5px,#c6e9c2 58.5px,#e2f4dd 71.5px,#f2faeb 92.5px,#f3fbed 119.5px)"></div><div style="height:2px;background:linear-gradient(90deg,#f1faeb 0.5px,#e9f6e3 10.5px,#c9eac4 21.5px,#acdfb7 24.5px,#72c7c7 28.5px,#4db2d3 30.5px,#2788bc 32.5px,#1171b1 34.5px,#0867ab 36.5px,#0a6aad 38.5px,#2081b8 40.5px,#389bc6 42.5px,#54b6d1 48.5px,#a7ddb5 54.5px,#c9eac4 59.5px,#e7f6e2 75.5px,#f2faeb 97.5px,#f3fbed 119.5px)"></div><div style="height:2px;background:linear-gradient(90deg,#f1faeb 0.5px,#e9f6e3 10.5px,#c9eac4 21.5px,#acdfb7 24.5px,#72c7c7 28.5px,#4db2d3 30.5px,#1979b5 33.5px,#0867ab 36.5px,#0a6aad 38.5px,#1f80b8 40.5px,#389bc6 42.5px,#4fb3d3 47.5px,#61bdcd 49.5px,#a7ddb5 54.5px,#c9eac4 59.5px,#e6f6e1 75.5px,#f2faeb 97.5px,#f3fbed 119.5px)"></div><div style="height:2px;background:linear-gradient(90deg,#f1faeb 0.5px,#e9f6e3 10.5px,#c9eac4 21.5px,#acdfb7 24.5px,#72c7c7 28.5px,#4db2d3 30.5px,#1979b5 33.5px,#0867ab 36.5px,#0a6aad 38.5px,#1f80b8 40.5px,#389bc6 42.5px,#4fb3d3 47.5px,#70c6c8 50.5px,#a7ddb5 54.5px,#c9eac4 59.5px,#e8f6e2 76.5px,#f2faeb 99.5px,#f3fbed 119.5px)"></div><div style="height:2px;background:linear-gradient(90deg,#f1faeb 0.5px,#e9f6e3 10.5px,#c9eac4 21.5px,#acdfb7 24.5px,#72c7c7 28.5px,#4db2d3 30.5px,#1979b5 33.5px,#0969ad 35.5px,#0868ac 37.5px,#1171b1 39.5px,#379ac5 42.5px,#42a6cc 44.5px,#50b4d2 47.5px,#70c6c8 50.5px,#a7ddb5 54.5px,#c9eac4 59.5px,#e9f6e3 77.5px,#f2faeb 100.5px,#f3fbed 119.5px)"></div><div style="height:2px;background:linear-gradient(90deg,#f1faeb 0.5px,#e9f6e3 10.5px,#c9eac4 21.5px,#acdfb7 24.5px,#72c7c7 28.5px,#4db2d3 30.5px,#1979b5 33.5px,#0969ad 35.5px,#0868ac 37.5px,#1171b1 39.5px,#379ac5 42.5px,#51b5d2 47.5px,#64bfcc 49.5px,#a9ddb5 54.5px,#c9eac4 59.5px,#e7f6e2 76.5px,#f2faeb 99.5px,#f3fbed 119.5px)"></div><div style="height:2px;background:linear-gradient(90deg,#f1faeb 0.5px,#e9f6e3 10.5px,#c9eac4 21.5px,#acdfb7 24.5px,#72c7c7 28.5px,#4db2d3 30.5px,#1979b5 33.5px,#0969ad 35.5px,#0867ab 37.5px,#1171b1 39.5px,#379ac5 42.5px,#51b5d2 47.5px,#73c8c7 50.5px,#a9ddb5 54.5px,#c9eac4 59.5px,#e8f6e2 77.5px,#f2faeb 100.5px,#f3fbed 119.5px)"></div><div style="height:2px;background:linear-gradient(90deg,#f1faeb 0.5px,#e9f6e3 10.5px,#c9eac4 21.5px,#acdfb7 24.5px,#72c7c7 28.5px,#4db2d3 30.5px,#2889bc 32.5px,#1171b1 34.5px,#0866a9 36.5px,#0969ad 38.5px,#1d7eb7 40.5px,#379ac5 42.5px,#53b6d1 47.5px,#75c8c6 50.5px,#a9ddb5 54.5px,#c9eac4 59.5px,#e6f6e1 76.5px,#f2faeb 100.5px,#f3fbed 119.5px)"></div><div style="height:2px;background:linear-gradient(90deg,#f1faeb 0.5px,#e9f6e3 10.5px,#c9eac4 21.5px,#acdfb7 24.5px,#72c7c7 28.5px,#4db2d3 30.5px,#2889bc 32.5px,#1171b1 34.5px,#0866a9 36.5px,#0969ad 38.5px,#1d7eb7 40.5px,#3ea1c9 43.5px,#54b6d1 47.5px,#75c8c6 50.5px,#a9ddb5 54.5px,#c9eac4 59.5px,#e7f6e2 77.5px,#f2faeb 100.5px,#f3fbed 119.5px)"></div><div style="height:2px;background:linear-gradient(90deg,#f1faeb 0.5px,#e9f6e3 10.5px,#c9eac4 21.5px,#acdfb7 24.5px,#72c7c7 28.5px,#4db2d3 30.5px,#2889bc 32.5px,#1171b1 34.5px,#0866a9 36.5px,#0969ad 38.5px,#1c7cb6 40.5px,#3699c5 42.5px,#54b6d1 47.5px,#76c9c6 50.5px,#aadeb6 54.5px,#c9eac4 59.5px,#e8f6e2 78.5px,#f2faeb 103.5px,#f3fbed 119.5px)"></div><div style="height:2px;background:linear-gradient(90deg,#f1faeb 0.5px,#e9f6e3 10.5px,#c9eac4 21.5px,#acdfb7 24.5px,#72c7c7 28.5px,#4db2d3 30.5px,#1a7ab5 33.5px,#0969ad 35.5px,#0866a9 37.5px,#1070b0 39.5px,#3699c5 42.5px,#4db2d3 46.5px,#69c2ca 49.5px,#aadeb6 54.5px,#c9eac4 59.5px,#e8f6e2 78.5px,#f2faeb 103.5px,#f3fbed 119.5px)"></div><div style="height:2px;background:linear-gradient(90deg,#f1faeb 0.5px,#e9f6e3 10.5px,#c9eac4 21.5px,#acdfb7 24.5px,#72c7c7 28.5px,#4db2d3 30.5px,#1a7ab5 33.5px,#0969ad 35.5px,#0866a9 37.5px,#0f6faf 39.5px,#3699c5 42.5px,#4db2d3 46.5px,#77cac5 50.5px,#aadeb6 54.5px,#c8eac3 59.5px,#e3f4de 74.5px,#f2faeb 99.5px,#f3fbed 119.5px)"></div><div style="height:2px;background:linear-gradient(90deg,#f1faeb 0.5px,#e9f6e3 10.5px,#c9eac4 21.5px,#acdfb7 24.5px,#72c7c7 28.5px,#4cb1d2 30.5px,#1a7ab5 33.5px,#0969ad 35.5px,#0866a9 37.5px,#0f6faf 39.5px,#3ea1c9 43.5px,#4fb3d3 46.5px,#79cbc5 50.5px,#aadeb6 54.5px,#c8eac3 59.5px,#e5f5e0 76.5px,#f2faeb 100.5px,#f3fbed 119.5px)"></div><div style="height:2px;background:linear-gradient(90deg,#f1faeb 0.5px,#e9f6e3 10.5px,#c9eac4 21.5px,#acdfb7 24.5px,#72c7c7 28.5px,#4cb1d2 30.5px,#1a7ab5 33.5px,#0969ad 35.5px,#0866a9 37.5px,#0f6faf 39.5px,#3ea1c9 43.5px,#4fb3d3 46.5px,#6cc4c9 49.5px,#abdeb6 54.5px,#c8eac3 59.5px,#e4f5df 76.5px,#f1faeb 99.5px,#f3fbed 119.5px)"></div><div style="height:2px;background:linear-gradient(90deg,#f1faeb 0.5px,#e9f6e3 10.5px,#c9eac4 21.5px,#acdfb7 24.5px,#72c7c7 28.5px,#4cb1d2 30.5px,#1a7ab5 33.5px,#0969ad 35.5px,#0866a9 37.5px,#0e6eaf 39.5px,#3597c4 42.5px,#50b4d2 46.5px,#6ec5c8 49.5px,#abdeb6 54.5px,#ccebc6 60.5px,#e7f6e2 79.5px,#f2faeb 104.5px,#f3fbed 119.5px)"></div><div style="height:2px;background:linear-gradient(90deg,#f1faeb 0.5px,#e9f6e3 10.5px,#c9eac4 21.5px,#acdfb7 24.5px,#72c7c7 28.5px,#4cb1d2 30.5px,#1a7ab5 33.5px,#0969ad 35.5px,#0864a8 37.5px,#0e6eaf 39.5px,#3597c4 42.5px,#50b4d2 46.5px,#abdeb6 54.5px,#ccebc6 60.5px,#e7f6e2 79.5px,#f2faeb 104.5px,#f3fbed 119.5px)"></div><div style="height:2px;background:linear-gradient(90deg,#f1faeb 0.5px,#e9f6e3 10.5px,#c9eac4 21.5px,#acdfb7 24.5px,#72c7c7 28.5px,#4cb1d2 30.5px,#1a7ab5 33.5px,#0969ad 35.5px,#0864a8 37.5px,#0e6eaf 39.5px,#3597c4 42.5px,#51b5d2 46.5px,#abdeb6 54.5px,#ccebc5 60.5px,#e8f6e2 80.5px,#f2faeb 107.5px,#f3fbed 119.5px)"></div><div style="height:2px;background:linear-gradient(90deg,#f1faeb 0.5px,#e9f6e3 10.5px,#c9eac4 21.5px,#acdfb7 24.5px,#72c7c7 28.5px,#4cb1d2 30.5px,#1a7ab5 33.5px,#0969ad 35.5px,#0864a8 37.5px,#0d6dae 39.5px,#3da0c9 43.5px,#51b5d2 46.5px,#a2dbb7 53.5px,#c4e8c1 58.5px,#d8f0d2 67.5px,#eef8e7 89.5px,#f3fbed 119.5px)"></div><div style="height:2px;background:linear-gradient(90deg,#f1faeb 0.5px,#e9f6e3 10.5px,#c9eac4 21.5px,#acdfb7 24.5px,#72c7c7 28.5px,#4cb1d2 30.5px,#1a7ab5 33.5px,#0969ad 35.5px,#0864a8 37.5px,#0d6dae 39.5px,#3da0c9 43.5px,#53b6d1 46.5px,#acdfb7 54.5px,#ccebc5 60.5px,#e9f7e3 82.5px,#f3faec 112.5px,#f3fbed 119.5px)"></div><div style="height:2px;background:linear-gradient(90deg,#f1faeb 0.5px,#e9f6e3 10.5px,#c9eac4 21.5px,#acdfb7 24.5px,#72c7c7 28.5px,#4cb1d2 30.5px,#1a7ab5 33.5px,#0969ad 35.5px,#0863a7 37.5px,#0d6dae 39.5px,#3da0c9 43.5px,#53b6d1 46.5px,#a2dbb7 53.5px,#b9e3bc 56.5px,#ceecc7 61.5px,#e9f6e3 82.5px,#f2faeb 107.5px,#f3fbed 119.5px)"></div><div style="height:2px;background:linear-gradient(90deg,#f1faeb 0.5px,#e9f6e3 10.5px,#c9eac4 21.5px,#acdfb7 24.5px,#72c7c7 28.5px,#4cb1d2 30.5px,#1a7ab5 33.5px,#0969ad 35.5px,#0863a7 37.5px,#0b6cae 39.5px,#3496c3 42.5px,#4bb0d1 45.5px,#a3dbb7 53.5px,#bee6bf 57.5px,#d0ecc9 62.5px,#eaf7e4 84.5px,#f3faec 112.5px,#f3fbed 119.5px)"></div><div style="height:2px;background:linear-gradient(90deg,#f1faeb 0.5px,#e9f6e3 10.5px,#c9eac4 21.5px,#acdfb7 24.5px,#72c7c7 28.5px,#4cb1d2 30.5px,#1a7ab5 33.5px,#0969ad 35.5px,#0863a7 37.5px,#0b6cae 39.5px,#3da0c9 43.5px,#4cb1d2 45.5px,#81cec2 50.5px,#addfb7 54.5px,#ceecc7 61.5px,#e9f7e3 83.5px,#f3faec 113.5px,#f3fbed 119.5px)"></div><div style="height:2px;background:linear-gradient(90deg,#f1faeb 0.5px,#e9f6e3 10.5px,#c9eac4 21.5px,#acdfb7 24.5px,#72c7c7 28.5px,#4cb1d2 30.5px,#1a7ab5 33.5px,#0969ad 35.5px,#0863a7 37.5px,#0b6cae 39.5px,#3c9fc8 43.5px,#4cb1d2 45.5px,#99d7ba 52.5px,#b4e2ba 55.5px,#cdebc6 61.5px,#e8f6e2 82.5px,#f2faeb 107.5px,#f3fbed 119.5px)"></div><div style="height:2px;background:linear-gradient(90deg,#f1faeb 0.5px,#e9f6e3 10.5px,#c9eac4 21.5px,#acdfb7 24.5px,#72c7c7 28.5px,#4cb1d2 30.5px,#1a7ab5 33.5px,#0969ad 35.5px,#0862a5 37.5px,#0b6cae 39.5px,#2687bb 41.5px,#45a8cd 44.5px,#57b8d0 46.5px,#a5dcb6 53.5px,#c3e7c1 58.5px,#d1edca 63.5px,#ebf7e5 87.5px,#f3fbed 119.5px)"></div><div style="height:2px;background:linear-gradient(90deg,#f1faeb 0.5px,#e9f6e3 10.5px,#c9eac4 21.5px,#acdfb7 24.5px,#72c7c7 28.5px,#4cb1d2 30.5px,#1a7ab5 33.5px,#0969ad 35.5px,#0862a5 37.5px,#0a6aad 39.5px,#3395c3 42.5px,#4db2d3 45.5px,#9bd8b9 52.5px,#addfb7 54.5px,#cdebc6 61.5px,#e9f7e3 84.5px,#f2faeb 109.5px,#f3fbed 119.5px)"></div><div style="height:2px;background:linear-gradient(90deg,#f1faeb 0.5px,#e9f6e3 10.5px,#c9eac4 21.5px,#acdfb7 24.5px,#72c7c7 28.5px,#4bb0d1 30.5px,#1a7ab5 33.5px,#0969ad 35.5px,#0862a5 37.5px,#0a6aad 39.5px,#1475b2 40.5px,#3395c3 42.5px,#4db2d3 45.5px,#91d4bd 51.5px,#a6dcb6 53.5px,#c7e9c3 59.5px,#dff2da 74.5px,#f1faeb 101.5px,#f3fbed 119.5px)"></div><div style="height:2px;background:linear-gradient(90deg,#f1faeb 0.5px,#e9f6e3 10.5px,#c9eac4 21.5px,#acdfb7 24.5px,#72c7c7 28.5px,#4bb0d1 30.5px,#1a7ab5 33.5px,#0969ad 35.5px,#0862a5 37.5px,#0a6aad 39.5px,#2586bb 41.5px,#4db2d3 45.5px,#9cd9b9 52.5px,#aedfb8 54.5px,#cdebc6 61.5px,#e9f7e3 85.5px,#f3faec 112.5px,#f3fbed 119.5px)"></div><div style="height:2px;background:linear-gradient(90deg,#f1faeb 0.5px,#e9f6e3 10.5px,#c9eac4 21.5px,#acdfb7 24.5px,#72c7c7 28.5px,#4bb0d1 30.5px,#1a7ab5 33.5px,#0969ad 35.5px,#0861a4 37.5px,#0969ad 39.5px,#3c9fc8 43.5px,#4fb3d3 45.5px,#92d5bc 51.5px,#a6dcb6 53.5px,#bee6bf 57.5px,#ceecc8 62.5px,#e9f7e3 86.5px,#f3faec 114.5px,#f3fbed 119.5px)"></div><div style="height:2px;background:linear-gradient(90deg,#f1faeb 0.5px,#e9f6e3 10.5px,#c9eac4 21.5px,#acdfb7 24.5px,#70c6c8 28.5px,#4bb0d1 30.5px,#1a7ab5 33.5px,#0868ac 35.5px,#0861a4 37.5px,#0969ad 39.5px,#1373b2 40.5px,#3294c2 42.5px,#4fb3d3 45.5px,#94d5bc 51.5px,#aedfb8 54.5px,#ccebc6 61.5px,#e9f7e3 86.5px,#f3fbed 119.5px)"></div><div style="height:2px;background:linear-gradient(90deg,#f1faeb 0.5px,#ebf7e5 9.5px,#c8eac3 21.5px,#acdfb7 24.5px,#70c6c8 28.5px,#4bb0d1 30.5px,#1a7ab5 33.5px,#0868ac 35.5px,#0861a4 37.5px,#0969ad 39.5px,#2484ba 41.5px,#46aace 44.5px,#4fb3d3 45.5px,#94d5bc 51.5px,#a7ddb5 53.5px,#ccebc6 61.5px,#e9f7e3 87.5px,#f3fbed 119.5px)"></div><div style="height:2px;background:linear-gradient(90deg,#f1faeb 0.5px,#ebf7e5 9.5px,#c8eac3 21.5px,#acdfb7 24.5px,#70c6c8 28.5px,#4bb0d1 30.5px,#1a7ab5 33.5px,#0868ac 35.5px,#0861a4 37.5px,#0868ac 39.5px,#3c9fc8 43.5px,#50b4d2 45.5px,#94d5bc 51.5px,#a7ddb5 53.5px,#ccebc5 61.5px,#e8f6e2 86.5px,#f2faeb 112.5px,#f3fbed 119.5px)"></div><div style="height:2px;background:linear-gradient(90deg,#f1faeb 0.5px,#eaf7e4 9.5px,#c8eac3 21.5px,#acdfb7 24.5px,#70c6c8 28.5px,#4bb0d1 30.5px,#1a7ab5 33.5px,#0868ac 35.5px,#085fa3 37.5px,#0868ac 39.5px,#1272b1 40.5px,#3192c1 42.5px,#50b4d2 45.5px,#95d6bb 51.5px,#a7ddb5 53.5px,#ccebc5 61.5px,#eaf7e4 89.5px,#f3faec 119.5px)"></div><div style="height:2px;background:linear-gradient(90deg,#f1faeb 0.5px,#eaf7e4 9.5px,#c8eac3 21.5px,#acdfb7 24.5px,#70c6c8 28.5px,#4bb0d1 30.5px,#1979b5 33.5px,#0868ac 35.5px,#085fa3 37.5px,#0868ac 39.5px,#2283ba 41.5px,#50b4d2 45.5px,#95d6bb 51.5px,#a7ddb5 53.5px,#ccebc5 61.5px,#ebf7e5 91.5px,#f3faec 119.5px)"></div><div style="height:2px;background:linear-gradient(90deg,#f1faeb 0.5px,#eaf7e4 9.5px,#c8eac3 21.5px,#acdfb7 24.5px,#70c6c8 28.5px,#4bb0d1 30.5px,#1979b5 33.5px,#0867ab 35.5px,#085fa3 37.5px,#0867ab 39.5px,#1171b1 40.5px,#3c9fc8 43.5px,#50b4d2 45.5px,#95d6bb 51.5px,#a7ddb5 53.5px,#c8eac3 60.5px,#eaf7e4 90.5px,#f3faec 119.5px)"></div><div style="height:2px;background:linear-gradient(90deg,#f1faeb 0.5px,#eaf7e4 9.5px,#c8eac3 21.5px,#acdfb7 24.5px,#70c6c8 28.5px,#4aafd1 30.5px,#1979b5 33.5px,#0867ab 35.5px,#085ea1 37.5px,#0867ab 39.5px,#1171b1 40.5px,#3c9fc8 43.5px,#51b5d2 45.5px,#97d6bb 51.5px,#a9ddb5 53.5px,#cbeac4 61.5px,#ecf8e6 93.5px,#f3faec 119.5px)"></div><div style="height:2px;background:linear-gradient(90deg,#f1faeb 0.5px,#eaf7e4 9.5px,#c8eac3 21.5px,#acdfb7 24.5px,#70c6c8 28.5px,#4aafd1 30.5px,#1979b5 33.5px,#0867ab 35.5px,#085ea1 37.5px,#0866a9 39.5px,#1171b1 40.5px,#3c9fc8 43.5px,#51b5d2 45.5px,#97d6bb 51.5px,#a9ddb5 53.5px,#cbeac4 61.5px,#ecf8e6 94.5px,#f3faec 119.5px)"></div><div style="height:2px;background:linear-gradient(90deg,#f1faeb 0.5px,#e8f6e2 10.5px,#c8eac3 21.5px,#acdfb7 24.5px,#6fc5c8 28.5px,#4aafd1 30.5px,#1979b5 33.5px,#0d6dae 34.5px,#085fa3 36.5px,#0862a5 38.5px,#0866a9 39.5px,#1070b0 40.5px,#3c9fc8 43.5px,#51b5d2 45.5px,#8ed3be 50.5px,#a9ddb5 53.5px,#c7e9c3 60.5px,#e7f6e2 88.5px,#f3faec 119.5px)"></div><div style="height:2px;background:linear-gradient(90deg,#f1faeb 0.5px,#e8f6e2 10.5px,#c8eac3 21.5px,#acdfb7 24.5px,#6fc5c8 28.5px,#4aafd1 30.5px,#1979b5 33.5px,#0d6dae 34.5px,#085da0 37.5px,#0866a9 39.5px,#1070b0 40.5px,#3c9fc8 43.5px,#51b5d2 45.5px,#98d7ba 51.5px,#a9ddb5 53.5px,#c7e9c3 60.5px,#ebf7e5 94.5px,#f3faec 119.5px)"></div><div style="height:2px;background:linear-gradient(90deg,#f1faeb 0.5px,#e8f6e2 10.5px,#c8eac3 21.5px,#acdfb7 24.5px,#6fc5c8 28.5px,#4aafd1 30.5px,#1979b5 33.5px,#0d6dae 34.5px,#085ea1 36.5px,#0861a4 38.5px,#0864a8 39.5px,#1070b0 40.5px,#47abcf 44.5px,#53b6d1 45.5px,#8ed3be 50.5px,#a9ddb5 53.5px,#c6e9c2 60.5px,#e0f3db 81.5px,#eff9e9 105.5px,#f2faeb 119.5px)"></div><div style="height:2px;background:linear-gradient(90deg,#f1faeb 0.5px,#e7f6e2 10.5px,#c8eac3 21.5px,#acdfb7 24.5px,#6fc5c8 28.5px,#4aafd1 30.5px,#1979b5 33.5px,#0d6dae 34.5px,#085ea1 36.5px,#0861a4 38.5px,#0f6faf 40.5px,#3b9dc7 43.5px,#53b6d1 45.5px,#8fd4bd 50.5px,#aadeb6 53.5px,#c8eac3 61.5px,#edf8e7 97.5px,#f2faeb 119.5px)"></div><div style="height:2px;background:linear-gradient(90deg,#f1faeb 0.5px,#e7f6e2 10.5px,#c8eac3 21.5px,#acdfb7 24.5px,#6fc5c8 28.5px,#4aafd1 30.5px,#1878b4 33.5px,#0866a9 35.5px,#085c9f 37.5px,#0864a8 39.5px,#0f6faf 40.5px,#3b9dc7 43.5px,#53b6d1 45.5px,#8fd4bd 50.5px,#aadeb6 53.5px,#c8eac3 61.5px,#edf8e7 98.5px,#f2faeb 119.5px)"></div><div style="height:2px;background:linear-gradient(90deg,#f1faeb 0.5px,#e7f6e2 10.5px,#c8eac3 21.5px,#acdfb7 24.5px,#6fc5c8 28.5px,#4aafd1 30.5px,#1878b4 33.5px,#0866a9 35.5px,#085c9f 37.5px,#0863a7 39.5px,#0f6faf 40.5px,#48accf 44.5px,#61bdcd 46.5px,#99d7ba 51.5px,#afe0b8 54.5px,#c9eac4 62.5px,#ecf8e6 98.5px,#f2faeb 119.5px)"></div><div style="height:2px;background:linear-gradient(90deg,#f1faeb 0.5px,#e7f6e2 10.5px,#c8eac3 21.5px,#acdfb7 24.5px,#6fc5c8 28.5px,#49add0 30.5px,#1878b4 33.5px,#0b6cae 34.5px,#085da0 36.5px,#085fa3 38.5px,#0e6eaf 40.5px,#48accf 44.5px,#62becc 46.5px,#91d4bd 50.5px,#aadeb6 53.5px,#c7e9c3 61.5px,#edf8e7 99.5px,#f2faeb 119.5px)"></div><div style="height:2px;background:linear-gradient(90deg,#f1faeb 0.5px,#e7f6e2 10.5px,#c8eac3 21.5px,#acdfb7 24.5px,#6fc5c8 28.5px,#49add0 30.5px,#1878b4 33.5px,#0b6cae 34.5px,#085da0 36.5px,#085fa3 38.5px,#0e6eaf 40.5px,#48accf 44.5px,#62becc 46.5px,#9bd8b9 51.5px,#b1e0b9 54.5px,#cbeac4 63.5px,#ecf8e6 99.5px,#f2faeb 119.5px)"></div><div style="height:2px;background:linear-gradient(90deg,#f1faeb 0.5px,#e7f6e2 10.5px,#c7e9c3 21.5px,#acdfb7 24.5px,#6fc5c8 28.5px,#49add0 30.5px,#1878b4 33.5px,#0b6cae 34.5px,#085a9d 37.5px,#0862a5 39.5px,#0e6eaf 40.5px,#48accf 44.5px,#64bfcc 46.5px,#92d5bc 50.5px,#abdeb6 53.5px,#c8eac3 62.5px,#edf8e7 100.5px,#f2faeb 119.5px)"></div><div style="height:2px;background:linear-gradient(90deg,#f1faeb 0.5px,#e7f6e2 10.5px,#c7e9c3 21.5px,#acdfb7 24.5px,#6ec5c8 28.5px,#49add0 30.5px,#1878b4 33.5px,#0b6cae 34.5px,#085a9d 37.5px,#0862a5 39.5px,#0d6dae 40.5px,#48accf 44.5px,#64bfcc 46.5px,#94d5bc 50.5px,#abdeb6 53.5px,#c8eac3 62.5px,#edf8e7 101.5px,#f2faeb 119.5px)"></div><div style="height:2px;background:linear-gradient(90deg,#f1faeb 0.5px,#e7f6e2 10.5px,#c7e9c3 21.5px,#acdfb7 24.5px,#6ec5c8 28.5px,#49add0 30.5px,#1878b4 33.5px,#0b6cae 34.5px,#085c9f 36.5px,#085ea1 38.5px,#0862a5 39.5px,#0d6dae 40.5px,#48accf 44.5px,#64bfcc 46.5px,#94d5bc 50.5px,#abdeb6 53.5px,#c5e8c2 61.5px,#e5f5e0 90.5px,#f1faeb 119.5px)"></div><div style="height:2px;background:linear-gradient(90deg,#f1faeb 0.5px,#e7f6e2 10.5px,#c7e9c3 21.5px,#acdfb7 24.5px,#6ec5c8 28.5px,#49add0 30.5px,#1878b4 33.5px,#0b6cae 34.5px,#085c9f 36.5px,#085da0 38.5px,#0861a4 39.5px,#0b6cae 40.5px,#48accf 44.5px,#65c0cb 46.5px,#94d5bc 50.5px,#abdeb6 53.5px,#c5e8c2 61.5px,#ebf7e5 99.5px,#f1faeb 119.5px)"></div><div style="height:2px;background:linear-gradient(90deg,#f1faeb 0.5px,#e7f6e2 10.5px,#c7e9c3 21.5px,#acdfb7 24.5px,#6ec5c8 28.5px,#49add0 30.5px,#1677b3 33.5px,#0b6cae 34.5px,#085c9f 36.5px,#085da0 38.5px,#0861a4 39.5px,#0b6cae 40.5px,#48accf 44.5px,#65c0cb 46.5px,#95d6bb 50.5px,#abdeb6 53.5px,#c5e8c2 61.5px,#ecf8e6 101.5px,#f1faeb 119.5px)"></div><div style="height:2px;background:linear-gradient(90deg,#f1faeb 0.5px,#e9f7e3 9.5px,#c7e9c3 21.5px,#acdfb7 24.5px,#6ec5c8 28.5px,#49add0 30.5px,#1677b3 33.5px,#0a6aad 34.5px,#085a9d 36.5px,#085da0 38.5px,#0861a4 39.5px,#0b6cae 40.5px,#49add0 44.5px,#80cec2 48.5px,#a5dcb6 52.5px,#bbe4bd 57.5px,#cfecc8 69.5px,#ecf8e6 102.5px,#f1faeb 119.5px)"></div><div style="height:2px;background:linear-gradient(90deg,#f1faeb 0.5px,#e9f7e3 9.5px,#c7e9c3 21.5px,#acdfb7 24.5px,#6ec5c8 28.5px,#48accf 30.5px,#1677b3 33.5px,#0a6aad 34.5px,#085a9d 36.5px,#085c9f 38.5px,#085fa3 39.5px,#0a6aad 40.5px,#49add0 44.5px,#80cec2 48.5px,#9ed9b8 51.5px,#b4e2ba 55.5px,#cdebc6 67.5px,#ecf8e6 102.5px,#f1faeb 119.5px)"></div><div style="height:2px;background:linear-gradient(90deg,#f1faeb 0.5px,#e9f7e3 9.5px,#c7e9c3 21.5px,#acdfb7 24.5px,#6ec5c8 28.5px,#48accf 30.5px,#1677b3 33.5px,#0a6aad 34.5px,#085a9d 36.5px,#085c9f 38.5px,#085fa3 39.5px,#0a6aad 40.5px,#49add0 44.5px,#75c8c6 47.5px,#9fdab8 51.5px,#b7e3bc 56.5px,#ceecc7 68.5px,#ecf8e6 103.5px,#f1faeb 119.5px)"></div><div style="height:2px;background:linear-gradient(90deg,#f1faeb 0.5px,#e9f7e3 9.5px,#c7e9c3 21.5px,#acdfb7 24.5px,#6ec5c8 28.5px,#48accf 30.5px,#1677b3 33.5px,#0a6aad 34.5px,#085a9d 36.5px,#085c9f 38.5px,#085ea1 39.5px,#0a6aad 40.5px,#49add0 44.5px,#76c9c6 47.5px,#98d7ba 50.5px,#acdfb7 53.5px,#c5e8c2 62.5px,#ebf7e5 102.5px,#f1faeb 119.5px)"></div><div style="height:2px;background:linear-gradient(90deg,#f1faeb 0.5px,#e6f6e1 10.5px,#c7e9c3 21.5px,#acdfb7 24.5px,#6cc4c9 28.5px,#48accf 30.5px,#1677b3 33.5px,#0a6aad 34.5px,#08599c 36.5px,#085a9d 38.5px,#085ea1 39.5px,#0969ad 40.5px,#49add0 44.5px,#83cfc1 48.5px,#9fdab8 51.5px,#b4e2ba 55.5px,#cbeac4 66.5px,#ebf7e5 103.5px,#f1f9ea 119.5px)"></div><div style="height:2px;background:linear-gradient(90deg,#f1faeb 0.5px,#e6f6e1 10.5px,#c7e9c3 21.5px,#acdfb7 24.5px,#6cc4c9 28.5px,#48accf 30.5px,#1677b3 33.5px,#0a6aad 34.5px,#08599c 36.5px,#085a9d 38.5px,#085ea1 39.5px,#0969ad 40.5px,#49add0 44.5px,#77cac5 47.5px,#99d7ba 50.5px,#addfb7 53.5px,#c8eac3 65.5px,#ebf7e5 103.5px,#f1f9ea 119.5px)"></div><div style="height:2px;background:linear-gradient(90deg,#f1faeb 0.5px,#e6f6e1 10.5px,#c7e9c3 21.5px,#acdfb7 24.5px,#6cc4c9 28.5px,#48accf 30.5px,#1677b3 33.5px,#0a6aad 34.5px,#08599c 36.5px,#085a9d 38.5px,#085da0 39.5px,#0969ad 40.5px,#49add0 44.5px,#77cac5 47.5px,#99d7ba 50.5px,#addfb7 53.5px,#c8eac3 65.5px,#ebf7e5 104.5px,#f1f9ea 119.5px)"></div><div style="height:2px;background:linear-gradient(90deg,#f1faeb 0.5px,#e6f6e1 10.5px,#c7e9c3 21.5px,#acdfb7 24.5px,#6cc4c9 28.5px,#48accf 30.5px,#0969ad 34.5px,#085598 37.5px,#085da0 39.5px,#0868ac 40.5px,#4aafd1 44.5px,#79cbc5 47.5px,#99d7ba 50.5px,#addfb7 53.5px,#c6e9c2 64.5px,#ebf7e5 104.5px,#f1f9ea 119.5px)"></div><div style="height:2px;background:linear-gradient(90deg,#f1faeb 0.5px,#e6f6e1 10.5px,#c7e9c3 21.5px,#acdfb7 24.5px,#6cc4c9 28.5px,#48accf 30.5px,#1576b3 33.5px,#0969ad 34.5px,#08589b 36.5px,#08599c 38.5px,#085da0 39.5px,#0868ac 40.5px,#4aafd1 44.5px,#79cbc5 47.5px,#9bd8b9 50.5px,#addfb7 53.5px,#c4e8c1 63.5px,#ebf7e5 103.5px,#f1f9ea 119.5px)"></div><div style="height:2px;background:linear-gradient(90deg,#f1faeb 0.5px,#e6f6e1 10.5px,#c7e9c3 21.5px,#acdfb7 24.5px,#6cc4c9 28.5px,#48accf 30.5px,#1576b3 33.5px,#0969ad 34.5px,#08589b 36.5px,#08599c 38.5px,#085c9f 39.5px,#0867ab 40.5px,#4aafd1 44.5px,#7accc4 47.5px,#9bd8b9 50.5px,#addfb7 53.5px,#c5e8c2 64.5px,#ebf7e5 105.5px,#f1f9ea 119.5px)"></div><div style="height:2px;background:linear-gradient(90deg,#f1faeb 0.5px,#e9f6e3 9.5px,#c6e9c2 21.5px,#acdfb7 24.5px,#6cc4c9 28.5px,#58b9d0 29.5px,#47abcf 30.5px,#1576b3 33.5px,#0969ad 34.5px,#08589b 36.5px,#08589b 38.5px,#085c9f 39.5px,#0867ab 40.5px,#4aafd1 44.5px,#7accc4 47.5px,#9cd9b9 50.5px,#aedfb8 53.5px,#c4e8c1 64.5px,#ebf7e5 104.5px,#f1f9ea 119.5px)"></div><div style="height:2px;background:linear-gradient(90deg,#f1faeb 0.5px,#e9f6e3 9.5px,#c6e9c2 21.5px,#acdfb7 24.5px,#6cc4c9 28.5px,#58b9d0 29.5px,#47abcf 30.5px,#1576b3 33.5px,#0969ad 34.5px,#085799 36.5px,#08589b 38.5px,#085c9f 39.5px,#0867ab 40.5px,#4aafd1 44.5px,#7cccc4 47.5px,#9cd9b9 50.5px,#aedfb8 53.5px,#c5e8c2 65.5px,#ebf7e5 104.5px,#f0f9e9 119.5px)"></div><div style="height:2px;background:linear-gradient(90deg,#f1faeb 0.5px,#e9f6e3 9.5px,#c6e9c2 21.5px,#acdfb7 24.5px,#6bc3c9 28.5px,#58b9d0 29.5px,#47abcf 30.5px,#1576b3 33.5px,#0969ad 34.5px,#085799 36.5px,#08589b 38.5px,#085a9d 39.5px,#0866a9 40.5px,#4aafd1 44.5px,#7cccc4 47.5px,#9ed9b8 50.5px,#b4e2ba 55.5px,#ceecc8 74.5px,#eaf7e4 103.5px,#f0f9e9 119.5px)"></div><div style="height:2px;background:linear-gradient(90deg,#f1faeb 0.5px,#e9f6e3 9.5px,#c6e9c2 21.5px,#acdfb7 24.5px,#6bc3c9 28.5px,#58b9d0 29.5px,#47abcf 30.5px,#0868ac 34.5px,#085799 36.5px,#085799 38.5px,#085a9d 39.5px,#0866a9 40.5px,#4aafd1 44.5px,#7dcdc3 47.5px,#9ed9b8 50.5px,#b4e2ba 55.5px,#cfecc8 75.5px,#eaf7e4 104.5px,#f0f9e9 119.5px)"></div><div style="height:2px;background:linear-gradient(90deg,#f1faeb 0.5px,#e9f6e3 9.5px,#c6e9c2 21.5px,#acdfb7 24.5px,#6bc3c9 28.5px,#58b9d0 29.5px,#47abcf 30.5px,#0868ac 34.5px,#085799 36.5px,#085395 37.5px,#085a9d 39.5px,#0866a9 40.5px,#4bb0d1 44.5px,#7dcdc3 47.5px,#9fdab8 50.5px,#b4e2ba 55.5px,#d8f0d2 84.5px,#ebf7e5 106.5px,#f0f9e9 119.5px)"></div><div style="height:2px;background:linear-gradient(90deg,#f1faeb 0.5px,#e9f6e3 9.5px,#c6e9c2 21.5px,#acdfb7 24.5px,#6bc3c9 28.5px,#57b8d0 29.5px,#47abcf 30.5px,#0868ac 34.5px,#085598 36.5px,#085799 38.5px,#08599c 39.5px,#0864a8 40.5px,#4bb0d1 44.5px,#7fcdc3 47.5px,#9fdab8 50.5px,#b3e1ba 54.5px,#d6efd0 83.5px,#ebf7e5 106.5px,#f0f9e9 119.5px)"></div><div style="height:2px;background:linear-gradient(90deg,#f1faeb 0.5px,#e9f6e3 9.5px,#c6e9c2 21.5px,#acdfb7 24.5px,#6bc3c9 28.5px,#57b8d0 29.5px,#47abcf 30.5px,#1475b2 33.5px,#0868ac 34.5px,#085598 36.5px,#085598 38.5px,#08599c 39.5px,#0864a8 40.5px,#2889bc 42.5px,#4bb0d1 44.5px,#7fcdc3 47.5px,#9fdab8 50.5px,#b3e1ba 54.5px,#d5efcf 83.5px,#eaf7e4 105.5px,#f0f9e9 119.5px)"></div><div style="height:2px;background:linear-gradient(90deg,#f1faeb 0.5px,#e9f6e3 9.5px,#c6e9c2 21.5px,#acdfb7 24.5px,#6bc3c9 28.5px,#57b8d0 29.5px,#47abcf 30.5px,#1475b2 33.5px,#0868ac 34.5px,#085598 36.5px,#085294 37.5px,#08599c 39.5px,#0864a8 40.5px,#2788bc 42.5px,#4bb0d1 44.5px,#80cec2 47.5px,#a0dab8 50.5px,#b4e2ba 55.5px,#d4eece 82.5px,#e9f7e3 104.5px,#f0f9e9 119.5px)"></div><div style="height:2px;background:linear-gradient(90deg,#f1faeb 0.5px,#e9f6e3 9.5px,#c6e9c2 21.5px,#acdfb7 24.5px,#6bc3c9 28.5px,#57b8d0 29.5px,#46aace 30.5px,#1475b2 33.5px,#0868ac 34.5px,#085598 36.5px,#085294 37.5px,#08589b 39.5px,#0863a7 40.5px,#2788bc 42.5px,#4bb0d1 44.5px,#80cec2 47.5px,#a0dab8 50.5px,#b4e2ba 55.5px,#d5eece 83.5px,#e9f7e3 105.5px,#f0f9e9 119.5px)"></div><div style="height:2px;background:linear-gradient(90deg,#f1faeb 0.5px,#e8f6e2 9.5px,#c6e9c2 21.5px,#abdeb6 24.5px,#6bc3c9 28.5px,#57b8d0 29.5px,#46aace 30.5px,#1475b2 33.5px,#0868ac 34.5px,#085497 36.5px,#085497 38.5px,#08589b 39.5px,#0863a7 40.5px,#2788bc 42.5px,#4bb0d1 44.5px,#81cec2 47.5px,#a2dbb7 50.5px,#b6e3bb 56.5px,#d4eece 83.5px,#e9f7e3 105.5px,#eff9e9 119.5px)"></div><div style="height:2px;background:linear-gradient(90deg,#f1faeb 0.5px,#e8f6e2 9.5px,#c6e9c2 21.5px,#abdeb6 24.5px,#6bc3c9 28.5px,#57b8d0 29.5px,#46aace 30.5px,#0867ab 34.5px,#085497 36.5px,#085497 38.5px,#08589b 39.5px,#0863a7 40.5px,#2788bc 42.5px,#4bb0d1 44.5px,#81cec2 47.5px,#a2dbb7 50.5px,#b3e1ba 54.5px,#d3eecc 82.5px,#e9f7e3 105.5px,#eff9e9 119.5px)"></div><div style="height:2px;background:linear-gradient(90deg,#f1faeb 0.5px,#e8f6e2 9.5px,#c6e9c2 21.5px,#abdeb6 24.5px,#6bc3c9 28.5px,#57b8d0 29.5px,#46aace 30.5px,#0867ab 34.5px,#085497 36.5px,#085497 38.5px,#08589b 39.5px,#0863a7 40.5px,#2788bc 42.5px,#4bb0d1 44.5px,#81cec2 47.5px,#a2dbb7 50.5px,#b3e1ba 54.5px,#d3eecc 82.5px,#e9f7e3 105.5px,#eff9e9 119.5px)"></div><div style="height:2px;background:linear-gradient(90deg,#f1faeb 0.5px,#e8f6e2 9.5px,#c6e9c2 21.5px,#abdeb6 24.5px,#6bc3c9 28.5px,#57b8d0 29.5px,#46aace 30.5px,#0867ab 34.5px,#085497 36.5px,#085497 38.5px,#08589b 39.5px,#0863a7 40.5px,#2788bc 42.5px,#4bb0d1 44.5px,#81cec2 47.5px,#a2dbb7 50.5px,#b3e1ba 54.5px,#d3eecc 82.5px,#e9f7e3 105.5px,#eff9e9 119.5px)"></div><div style="height:2px;background:linear-gradient(90deg,#f1faeb 0.5px,#e8f6e2 9.5px,#c6e9c2 21.5px,#abdeb6 24.5px,#6bc3c9 28.5px,#57b8d0 29.5px,#46aace 30.5px,#0867ab 34.5px,#085497 36.5px,#085497 38.5px,#08589b 39.5px,#0863a7 40.5px,#2788bc 42.5px,#4bb0d1 44.5px,#81cec2 47.5px,#a2dbb7 50.5px,#b3e1ba 54.5px,#d3eecc 82.5px,#e9f7e3 105.5px,#eff9e9 119.5px)"></div><div style="height:2px;background:linear-gradient(90deg,#f1faeb 0.5px,#e8f6e2 9.5px,#c6e9c2 21.5px,#abdeb6 24.5px,#6bc3c9 28.5px,#57b8d0 29.5px,#46aace 30.5px,#0867ab 34.5px,#085497 36.5px,#085497 38.5px,#08589b 39.5px,#0863a7 40.5px,#2788bc 42.5px,#4bb0d1 44.5px,#81cec2 47.5px,#a2dbb7 50.5px,#b3e1ba 54.5px,#d3eecc 82.5px,#e9f7e3 105.5px,#eff9e9 119.5px)"></div><div style="height:2px;background:linear-gradient(90deg,#f1faeb 0.5px,#e8f6e2 9.5px,#c6e9c2 21.5px,#abdeb6 24.5px,#6bc3c9 28.5px,#57b8d0 29.5px,#46aace 30.5px,#0867ab 34.5px,#085497 36.5px,#085497 38.5px,#08589b 39.5px,#0863a7 40.5px,#2788bc 42.5px,#4bb0d1 44.5px,#81cec2 47.5px,#a2dbb7 50.5px,#b3e1ba 54.5px,#d3eecc 82.5px,#e9f7e3 105.5px,#eff9e9 119.5px)"></div><div style="height:2px;background:linear-gradient(90deg,#f1faeb 0.5px,#e8f6e2 9.5px,#c6e9c2 21.5px,#abdeb6 24.5px,#6bc3c9 28.5px,#57b8d0 29.5px,#46aace 30.5px,#0867ab 34.5px,#085497 36.5px,#085497 38.5px,#08589b 39.5px,#0863a7 40.5px,#2788bc 42.5px,#4bb0d1 44.5px,#81cec2 47.5px,#a2dbb7 50.5px,#b3e1ba 54.5px,#d3eecc 82.5px,#e9f7e3 105.5px,#eff9e9 119.5px)"></div><div style="height:2px;background:linear-gradient(90deg,#f1faeb 0.5px,#e8f6e2 9.5px,#c6e9c2 21.5px,#abdeb6 24.5px,#6bc3c9 28.5px,#57b8d0 29.5px,#46aace 30.5px,#0867ab 34.5px,#085497 36.5px,#085497 38.5px,#08589b 39.5px,#0863a7 40.5px,#2788bc 42.5px,#4bb0d1 44.5px,#81cec2 47.5px,#a2dbb7 50.5px,#b3e1ba 54.5px,#d3eecc 82.5px,#e9f7e3 105.5px,#eff9e9 119.5px)"></div><div style="height:2px;background:linear-gradient(90deg,#f1faeb 0.5px,#e8f6e2 9.5px,#c6e9c2 21.5px,#abdeb6 24.5px,#6bc3c9 28.5px,#57b8d0 29.5px,#46aace 30.5px,#0867ab 34.5px,#085497 36.5px,#085497 38.5px,#08589b 39.5px,#0863a7 40.5px,#2788bc 42.5px,#4bb0d1 44.5px,#81cec2 47.5px,#a2dbb7 50.5px,#b3e1ba 54.5px,#d3eecc 82.5px,#e9f7e3 105.5px,#eff9e9 119.5px)"></div><div style="height:2px;background:linear-gradient(90deg,#f1faeb 0.5px,#e8f6e2 9.5px,#c6e9c2 21.5px,#abdeb6 24.5px,#6bc3c9 28.5px,#57b8d0 29.5px,#46aace 30.5px,#0867ab 34.5px,#085497 36.5px,#085497 38.5px,#08589b 39.5px,#0863a7 40.5px,#2788bc 42.5px,#4bb0d1 44.5px,#81cec2 47.5px,#a2dbb7 50.5px,#b3e1ba 54.5px,#d3eecc 82.5px,#e9f7e3 105.5px,#eff9e9 119.5px)"></div><div style="height:2px;background:linear-gradient(90deg,#f1faeb 0.5px,#e8f6e2 9.5px,#c6e9c2 21.5px,#abdeb6 24.5px,#6bc3c9 28.5px,#57b8d0 29.5px,#46aace 30.5px,#0867ab 34.5px,#085497 36.5px,#085497 38.5px,#08589b 39.5px,#0863a7 40.5px,#2788bc 42.5px,#4bb0d1 44.5px,#81cec2 47.5px,#a2dbb7 50.5px,#b3e1ba 54.5px,#d3eecc 82.5px,#e9f7e3 105.5px,#eff9e9 119.5px)"></div><div style="height:2px;background:linear-gradient(90deg,#f1faeb 0.5px,#e8f6e2 9.5px,#c6e9c2 21.5px,#abdeb6 24.5px,#6bc3c9 28.5px,#57b8d0 29.5px,#46aace 30.5px,#0867ab 34.5px,#085497 36.5px,#085497 38.5px,#08589b 39.5px,#0863a7 40.5px,#2788bc 42.5px,#4bb0d1 44.5px,#81cec2 47.5px,#a2dbb7 50.5px,#b3e1ba 54.5px,#d3eecc 82.5px,#e9f7e3 105.5px,#eff9e9 119.5px)"></div></div>
<div class="hm" style="left:376px;top:237px;width:121px;height:161px"><div style="height:2px;background:linear-gradient(90deg,#f3fbed 0.5px,#e9f6e3 11.5px,#ccebc5 22.5px,#b2e1b9 25.5px,#a5dcb6 26.5px,#6fc5c8 29.5px,#5abacf 30.5px,#45a8cd 31.5px,#2d8fbf 32.5px,#1475b2 34.5px,#0867ab 36.5px,#0868ac 38.5px,#3395c3 42.5px,#42a6cc 45.5px,#4cb1d2 48.5px,#81cec2 52.5px,#a0dab8 54.5px,#c9eac4 57.5px,#e7f6e2 63.5px,#f1f9ea 77.5px,#f3fbed 120.5px)"></div><div style="height:2px;background:linear-gradient(90deg,#f3fbed 0.5px,#e9f6e3 11.5px,#ccebc5 22.5px,#b2e1b9 25.5px,#a5dcb6 26.5px,#6fc5c8 29.5px,#5abacf 30.5px,#45a8cd 31.5px,#2d8fbf 32.5px,#1475b2 34.5px,#0867ab 36.5px,#0868ac 38.5px,#1070b0 39.5px,#2b8cbe 41.5px,#40a4cb 44.5px,#47abcf 47.5px,#4db2d3 48.5px,#83cfc1 52.5px,#a2dbb7 54.5px,#c9eac4 57.5px,#e7f6e2 63.5px,#f1f9ea 77.5px,#f3fbed 120.5px)"></div><div style="height:2px;background:linear-gradient(90deg,#f3fbed 0.5px,#e9f6e3 11.5px,#ccebc5 22.5px,#b2e1b9 25.5px,#a5dcb6 26.5px,#6fc5c8 29.5px,#5abacf 30.5px,#45a8cd 31.5px,#2f90c0 32.5px,#1e7fb7 33.5px,#0b6cae 35.5px,#0868ac 38.5px,#1e7fb7 40.5px,#3b9dc7 43.5px,#4fb3d3 48.5px,#92d5bc 53.5px,#b1e0b9 55.5px,#d0edca 58.5px,#e6f6e1 63.5px,#f0f9e9 75.5px,#f3fbed 120.5px)"></div><div style="height:2px;background:linear-gradient(90deg,#f3fbed 0.5px,#e9f6e3 11.5px,#ccebc5 22.5px,#b2e1b9 25.5px,#a5dcb6 26.5px,#6fc5c8 29.5px,#5abacf 30.5px,#45a8cd 31.5px,#2f90c0 32.5px,#1e7fb7 33.5px,#0b6cae 35.5px,#0866a9 36.5px,#0868ac 38.5px,#0f6faf 39.5px,#3395c3 42.5px,#43a7cd 45.5px,#4fb3d3 48.5px,#94d5bc 53.5px,#a3dbb7 54.5px,#d0edca 58.5px,#e6f6e1 63.5px,#f1f9ea 78.5px,#f3fbed 120.5px)"></div><div style="height:2px;background:linear-gradient(90deg,#f3fbed 0.5px,#e9f6e3 11.5px,#ccebc5 22.5px,#b2e1b9 25.5px,#a5dcb6 26.5px,#6fc5c8 29.5px,#5abacf 30.5px,#45a8cd 31.5px,#2f90c0 32.5px,#1576b3 34.5px,#0866a9 36.5px,#0868ac 38.5px,#0f6faf 39.5px,#3294c2 42.5px,#43a7cd 45.5px,#50b4d2 48.5px,#95d6bb 53.5px,#a5dcb6 54.5px,#c8eac3 57.5px,#e6f5e0 63.5px,#f0f9e9 76.5px,#f3fbed 120.5px)"></div><div style="height:2px;background:linear-gradient(90deg,#f3fbed 0.5px,#e9f6e3 11.5px,#ccebc5 22.5px,#b2e1b9 25.5px,#a5dcb6 26.5px,#6fc5c8 29.5px,#5abacf 30.5px,#45a8cd 31.5px,#1f80b8 33.5px,#0b6cae 35.5px,#0866a9 37.5px,#0f6faf 39.5px,#3294c2 42.5px,#45a8cd 45.5px,#51b5d2 48.5px,#95d6bb 53.5px,#a5dcb6 54.5px,#c8eac3 57.5px,#e6f5e0 63.5px,#f0f9e9 76.5px,#f3fbed 120.5px)"></div><div style="height:2px;background:linear-gradient(90deg,#f3fbed 0.5px,#e9f6e3 11.5px,#ccebc5 22.5px,#b2e1b9 25.5px,#a5dcb6 26.5px,#6fc5c8 29.5px,#5abacf 30.5px,#45a8cd 31.5px,#1f80b8 33.5px,#0b6cae 35.5px,#0866a9 37.5px,#0e6eaf 39.5px,#3294c2 42.5px,#45a8cd 45.5px,#53b6d1 48.5px,#97d6bb 53.5px,#a6dcb6 54.5px,#d0ecc9 58.5px,#e5f5e0 63.5px,#f0f9e9 77.5px,#f3fbed 120.5px)"></div><div style="height:2px;background:linear-gradient(90deg,#f3fbed 0.5px,#e9f6e3 11.5px,#ccebc5 22.5px,#b2e1b9 25.5px,#a5dcb6 26.5px,#6fc5c8 29.5px,#5abacf 30.5px,#45a8cd 31.5px,#1f80b8 33.5px,#0b6cae 35.5px,#0866a9 37.5px,#0e6eaf 39.5px,#3294c2 42.5px,#45a8cd 45.5px,#54b6d1 48.5px,#a6dcb6 54.5px,#d0ecc9 58.5px,#e5f5e0 63.5px,#f0f9e9 77.5px,#f3fbed 120.5px)"></div><div style="height:2px;background:linear-gradient(90deg,#f3fbed 0.5px,#e9f6e3 11.5px,#ccebc5 22.5px,#b2e1b9 25.5px,#a5dcb6 26.5px,#6fc5c8 29.5px,#5abacf 30.5px,#45a8cd 31.5px,#2081b8 33.5px,#0d6dae 35.5px,#0866a9 36.5px,#0d6dae 39.5px,#3294c2 42.5px,#46aace 45.5px,#56b7d0 48.5px,#a7ddb5 54.5px,#d0ecc9 58.5px,#e4f5df 63.5px,#eff9e9 75.5px,#f3fbed 120.5px)"></div><div style="height:2px;background:linear-gradient(90deg,#f3fbed 0.5px,#e9f6e3 11.5px,#ccebc5 22.5px,#b2e1b9 25.5px,#a5dcb6 26.5px,#6fc5c8 29.5px,#5abacf 30.5px,#45a8cd 31.5px,#2081b8 33.5px,#0d6dae 35.5px,#0866a9 36.5px,#0d6dae 39.5px,#3192c1 42.5px,#46aace 45.5px,#57b8d0 48.5px,#a7ddb5 54.5px,#d0ecc9 58.5px,#e4f5df 63.5px,#f0f9e9 78.5px,#f3fbed 120.5px)"></div><div style="height:2px;background:linear-gradient(90deg,#f3fbed 0.5px,#e9f6e3 11.5px,#ccebc5 22.5px,#b2e1b9 25.5px,#a5dcb6 26.5px,#6fc5c8 29.5px,#5abacf 30.5px,#46aace 31.5px,#2081b8 33.5px,#0d6dae 35.5px,#0864a8 37.5px,#0d6dae 39.5px,#3192c1 42.5px,#47abcf 45.5px,#4fb3d3 47.5px,#8dd3be 52.5px,#a9ddb5 54.5px,#d0ecc9 58.5px,#e4f4de 63.5px,#eff9e9 76.5px,#f3fbed 120.5px)"></div><div style="height:2px;background:linear-gradient(90deg,#f3fbed 0.5px,#e9f6e3 11.5px,#ccebc5 22.5px,#b2e1b9 25.5px,#a5dcb6 26.5px,#6fc5c8 29.5px,#5abacf 30.5px,#46aace 31.5px,#2182b9 33.5px,#0d6dae 35.5px,#0864a8 37.5px,#0b6cae 39.5px,#3192c1 42.5px,#47abcf 45.5px,#50b4d2 47.5px,#80cec2 51.5px,#aadeb6 54.5px,#d0ecc9 58.5px,#e4f4de 63.5px,#eff9e9 76.5px,#f3fbed 120.5px)"></div><div style="height:2px;background:linear-gradient(90deg,#f3fbed 0.5px,#e9f6e3 11.5px,#ccebc5 22.5px,#b2e1b9 25.5px,#a5dcb6 26.5px,#6fc5c8 29.5px,#5abacf 30.5px,#46aace 31.5px,#2182b9 33.5px,#0d6dae 35.5px,#0864a8 37.5px,#0b6cae 39.5px,#3a9cc7 43.5px,#51b5d2 47.5px,#73c8c7 50.5px,#aadeb6 54.5px,#cfecc8 58.5px,#e3f4de 63.5px,#eff9e9 76.5px,#f3fbed 120.5px)"></div><div style="height:2px;background:linear-gradient(90deg,#f3fbed 0.5px,#e9f6e3 11.5px,#ccebc5 22.5px,#b2e1b9 25.5px,#a5dcb6 26.5px,#6fc5c8 29.5px,#5abacf 30.5px,#46aace 31.5px,#2182b9 33.5px,#0d6dae 35.5px,#0864a8 37.5px,#0a6aad 39.5px,#3192c1 42.5px,#4cb1d2 46.5px,#68c1ca 49.5px,#abdeb6 54.5px,#cfecc8 58.5px,#e3f4de 63.5px,#eff9e9 77.5px,#f3fbed 120.5px)"></div><div style="height:2px;background:linear-gradient(90deg,#f3fbed 0.5px,#e9f6e3 11.5px,#ccebc5 22.5px,#b2e1b9 25.5px,#a5dcb6 26.5px,#6fc5c8 29.5px,#5abacf 30.5px,#46aace 31.5px,#2182b9 33.5px,#0d6dae 35.5px,#0863a7 37.5px,#0a6aad 39.5px,#3a9cc7 43.5px,#4db2d3 46.5px,#5dbbce 48.5px,#abdeb6 54.5px,#cfecc8 58.5px,#e2f4dd 63.5px,#eef9e8 76.5px,#f3fbed 120.5px)"></div><div style="height:2px;background:linear-gradient(90deg,#f3fbed 0.5px,#e9f6e3 11.5px,#ccebc5 22.5px,#b2e1b9 25.5px,#a5dcb6 26.5px,#6fc5c8 29.5px,#5abacf 30.5px,#46aace 31.5px,#2283ba 33.5px,#0d6dae 35.5px,#0863a7 37.5px,#0a6aad 39.5px,#3a9cc7 43.5px,#4db2d3 46.5px,#6bc3c9 49.5px,#acdfb7 54.5px,#cfecc8 58.5px,#e2f4dd 63.5px,#eef9e8 76.5px,#f3fbed 120.5px)"></div><div style="height:2px;background:linear-gradient(90deg,#f3fbed 0.5px,#e9f6e3 11.5px,#ccebc5 22.5px,#b2e1b9 25.5px,#a5dcb6 26.5px,#6fc5c8 29.5px,#5abacf 30.5px,#46aace 31.5px,#2283ba 33.5px,#0866a9 36.5px,#0864a8 38.5px,#0969ad 39.5px,#3a9cc7 43.5px,#4fb3d3 46.5px,#6cc4c9 49.5px,#acdfb7 54.5px,#cfecc8 58.5px,#e1f4dc 63.5px,#eef8e7 74.5px,#f3fbed 120.5px)"></div><div style="height:2px;background:linear-gradient(90deg,#f3fbed 0.5px,#e9f6e3 11.5px,#ccebc5 22.5px,#b2e1b9 25.5px,#a5dcb6 26.5px,#6fc5c8 29.5px,#5abacf 30.5px,#46aace 31.5px,#2283ba 33.5px,#0866a9 36.5px,#0864a8 38.5px,#0969ad 39.5px,#3a9cc7 43.5px,#50b4d2 46.5px,#6ec5c8 49.5px,#a2dbb7 53.5px,#c8eac3 57.5px,#dff2da 62.5px,#edf8e7 73.5px,#f3fbed 120.5px)"></div><div style="height:2px;background:linear-gradient(90deg,#f3fbed 0.5px,#e9f6e3 11.5px,#ccebc5 22.5px,#b2e1b9 25.5px,#a5dcb6 26.5px,#6fc5c8 29.5px,#5abacf 30.5px,#46aace 31.5px,#2283ba 33.5px,#0866a9 36.5px,#0864a8 38.5px,#0969ad 39.5px,#3a9cc7 43.5px,#50b4d2 46.5px,#6fc5c8 49.5px,#a3dbb7 53.5px,#cfecc8 58.5px,#e3f4de 64.5px,#f1f9ea 82.5px,#f3fbed 120.5px)"></div><div style="height:2px;background:linear-gradient(90deg,#f3fbed 0.5px,#e9f6e3 11.5px,#ccebc5 22.5px,#b2e1b9 25.5px,#a5dcb6 26.5px,#6fc5c8 29.5px,#5abacf 30.5px,#46aace 31.5px,#2484ba 33.5px,#0e6eaf 35.5px,#0862a5 37.5px,#0868ac 39.5px,#3a9cc7 43.5px,#51b5d2 46.5px,#70c6c8 49.5px,#a5dcb6 53.5px,#cfecc8 58.5px,#e3f4de 64.5px,#f1f9ea 82.5px,#f3fbed 120.5px)"></div><div style="height:2px;background:linear-gradient(90deg,#f3fbed 0.5px,#e9f6e3 11.5px,#ccebc5 22.5px,#b2e1b9 25.5px,#a5dcb6 26.5px,#6fc5c8 29.5px,#5abacf 30.5px,#47abcf 31.5px,#2484ba 33.5px,#0e6eaf 35.5px,#0862a5 37.5px,#0868ac 39.5px,#43a7cd 44.5px,#51b5d2 46.5px,#8bd2bf 51.5px,#a5dcb6 53.5px,#cfecc8 58.5px,#e2f4dd 64.5px,#eef9e8 77.5px,#f3fbed 120.5px)"></div><div style="height:2px;background:linear-gradient(90deg,#f3fbed 0.5px,#e9f6e3 11.5px,#ccebc5 22.5px,#b2e1b9 25.5px,#a5dcb6 26.5px,#6fc5c8 29.5px,#5abacf 30.5px,#47abcf 31.5px,#2484ba 33.5px,#0e6eaf 35.5px,#0862a5 37.5px,#0867ab 39.5px,#43a7cd 44.5px,#53b6d1 46.5px,#73c8c7 49.5px,#a6dcb6 53.5px,#ceecc8 58.5px,#e2f4dd 64.5px,#f1f9ea 83.5px,#f3fbed 120.5px)"></div><div style="height:2px;background:linear-gradient(90deg,#f3fbed 0.5px,#e9f6e3 11.5px,#ccebc5 22.5px,#b2e1b9 25.5px,#a5dcb6 26.5px,#6fc5c8 29.5px,#5abacf 30.5px,#47abcf 31.5px,#2484ba 33.5px,#0e6eaf 35.5px,#0862a5 37.5px,#0867ab 39.5px,#1171b1 40.5px,#3a9cc7 43.5px,#4bb0d1 45.5px,#67c1cb 48.5px,#a7ddb5 53.5px,#ceecc8 58.5px,#e2f4dd 64.5px,#f1f9ea 83.5px,#f3fbed 120.5px)"></div><div style="height:2px;background:linear-gradient(90deg,#f3fbed 0.5px,#e9f6e3 11.5px,#ccebc5 22.5px,#b2e1b9 25.5px,#a5dcb6 26.5px,#6fc5c8 29.5px,#5abacf 30.5px,#47abcf 31.5px,#1878b4 34.5px,#0866a9 36.5px,#0863a7 38.5px,#0867ab 39.5px,#1171b1 40.5px,#389bc6 43.5px,#4cb1d2 45.5px,#68c1ca 48.5px,#a7ddb5 53.5px,#ceecc8 58.5px,#e1f4dc 64.5px,#eef8e7 76.5px,#f3fbed 120.5px)"></div><div style="height:2px;background:linear-gradient(90deg,#f3fbed 0.5px,#e9f6e3 11.5px,#ccebc5 22.5px,#b2e1b9 25.5px,#a5dcb6 26.5px,#6fc5c8 29.5px,#5abacf 30.5px,#47abcf 31.5px,#1878b4 34.5px,#0864a8 36.5px,#0863a7 38.5px,#0866a9 39.5px,#1070b0 40.5px,#389bc6 43.5px,#4cb1d2 45.5px,#76c9c6 49.5px,#a9ddb5 53.5px,#ceecc8 58.5px,#e4f4de 65.5px,#f1f9ea 87.5px,#f3fbed 120.5px)"></div><div style="height:2px;background:linear-gradient(90deg,#f3fbed 0.5px,#e9f6e3 11.5px,#ccebc5 22.5px,#b2e1b9 25.5px,#a5dcb6 26.5px,#6fc5c8 29.5px,#5abacf 30.5px,#47abcf 31.5px,#1878b4 34.5px,#0864a8 36.5px,#0863a7 38.5px,#0866a9 39.5px,#1070b0 40.5px,#389bc6 43.5px,#4db2d3 45.5px,#77cac5 49.5px,#aadeb6 53.5px,#d3eecc 59.5px,#e7f6e2 67.5px,#f1faeb 92.5px,#f3fbed 120.5px)"></div><div style="height:2px;background:linear-gradient(90deg,#f3fbed 0.5px,#e9f6e3 11.5px,#ccebc5 22.5px,#b2e1b9 25.5px,#a5dcb6 26.5px,#6fc5c8 29.5px,#5abacf 30.5px,#47abcf 31.5px,#1878b4 34.5px,#0864a8 36.5px,#0863a7 38.5px,#0864a8 39.5px,#0f6faf 40.5px,#389bc6 43.5px,#4db2d3 45.5px,#79cbc5 49.5px,#abdeb6 53.5px,#d3eecc 59.5px,#e8f6e2 68.5px,#f1faeb 93.5px,#f3fbed 120.5px)"></div><div style="height:2px;background:linear-gradient(90deg,#f3fbed 0.5px,#e9f6e3 11.5px,#ccebc5 22.5px,#b2e1b9 25.5px,#a5dcb6 26.5px,#6fc5c8 29.5px,#5abacf 30.5px,#47abcf 31.5px,#1878b4 34.5px,#0864a8 36.5px,#0862a5 38.5px,#0e6eaf 40.5px,#389bc6 43.5px,#4db2d3 45.5px,#7accc4 49.5px,#abdeb6 53.5px,#d2edcc 59.5px,#e7f6e2 68.5px,#f1f9ea 93.5px,#f3fbed 120.5px)"></div><div style="height:2px;background:linear-gradient(90deg,#f3fbed 0.5px,#e9f6e3 11.5px,#ccebc5 22.5px,#b2e1b9 25.5px,#a5dcb6 26.5px,#6fc5c8 29.5px,#5abacf 30.5px,#47abcf 31.5px,#1878b4 34.5px,#0864a8 36.5px,#0862a5 38.5px,#0e6eaf 40.5px,#379ac5 43.5px,#4db2d3 45.5px,#7accc4 49.5px,#abdeb6 53.5px,#d2edcc 59.5px,#e6f6e1 68.5px,#f0f9e9 93.5px,#f3fbed 120.5px)"></div><div style="height:2px;background:linear-gradient(90deg,#f3fbed 0.5px,#e9f6e3 11.5px,#ccebc5 22.5px,#b2e1b9 25.5px,#a5dcb6 26.5px,#6fc5c8 29.5px,#5abacf 30.5px,#47abcf 31.5px,#1878b4 34.5px,#0864a8 36.5px,#085fa3 37.5px,#0863a7 39.5px,#0d6dae 40.5px,#379ac5 43.5px,#4db2d3 45.5px,#7accc4 49.5px,#abdeb6 53.5px,#d1edcb 59.5px,#e6f5e0 68.5px,#f1f9ea 99.5px,#f3fbed 120.5px)"></div><div style="height:2px;background:linear-gradient(90deg,#f3fbed 0.5px,#e9f6e3 11.5px,#ccebc5 22.5px,#b2e1b9 25.5px,#a5dcb6 26.5px,#6fc5c8 29.5px,#5abacf 30.5px,#47abcf 31.5px,#1878b4 34.5px,#0864a8 36.5px,#0861a4 38.5px,#0863a7 39.5px,#0d6dae 40.5px,#42a6cc 44.5px,#4cb1d2 45.5px,#95d6bb 51.5px,#abdeb6 53.5px,#d1edcb 59.5px,#e4f5df 68.5px,#f0f9e9 97.5px,#f3faec 120.5px)"></div><div style="height:2px;background:linear-gradient(90deg,#f3fbed 0.5px,#e9f6e3 11.5px,#ccebc5 22.5px,#b2e1b9 25.5px,#a5dcb6 26.5px,#6fc5c8 29.5px,#5abacf 30.5px,#47abcf 31.5px,#1878b4 34.5px,#0864a8 36.5px,#0861a4 38.5px,#0863a7 39.5px,#0d6dae 40.5px,#41a5cb 44.5px,#4cb1d2 45.5px,#95d6bb 51.5px,#abdeb6 53.5px,#d1edca 59.5px,#e4f4de 68.5px,#eff9e9 97.5px,#f3faec 120.5px)"></div><div style="height:2px;background:linear-gradient(90deg,#f3fbed 0.5px,#e9f6e3 11.5px,#ccebc5 22.5px,#b2e1b9 25.5px,#a5dcb6 26.5px,#6fc5c8 29.5px,#5abacf 30.5px,#47abcf 31.5px,#1878b4 34.5px,#0864a8 36.5px,#0861a4 38.5px,#0862a5 39.5px,#0b6cae 40.5px,#41a5cb 44.5px,#4cb1d2 45.5px,#95d6bb 51.5px,#abdeb6 53.5px,#d0edca 59.5px,#e3f4de 68.5px,#eff9e9 98.5px,#f3faec 120.5px)"></div><div style="height:2px;background:linear-gradient(90deg,#f3fbed 0.5px,#e6f5e0 12.5px,#ccebc5 22.5px,#b2e1b9 25.5px,#a5dcb6 26.5px,#6fc5c8 29.5px,#5abacf 30.5px,#47abcf 31.5px,#1878b4 34.5px,#0864a8 36.5px,#085ea1 37.5px,#0862a5 39.5px,#0b6cae 40.5px,#4cb1d2 45.5px,#97d6bb 51.5px,#abdeb6 53.5px,#d0edca 59.5px,#e3f4de 69.5px,#f0f9e9 104.5px,#f3faec 120.5px)"></div><div style="height:2px;background:linear-gradient(90deg,#f3fbed 0.5px,#e6f5e0 12.5px,#ccebc5 22.5px,#b2e1b9 25.5px,#a5dcb6 26.5px,#6fc5c8 29.5px,#5abacf 30.5px,#47abcf 31.5px,#1878b4 34.5px,#0863a7 36.5px,#085fa3 38.5px,#0a6aad 40.5px,#4cb1d2 45.5px,#97d6bb 51.5px,#abdeb6 53.5px,#d0ecc9 59.5px,#e1f4dc 68.5px,#f1f9ea 108.5px,#f3faec 120.5px)"></div><div style="height:2px;background:linear-gradient(90deg,#f3fbed 0.5px,#e6f5e0 12.5px,#cbeac4 22.5px,#b2e1b9 25.5px,#a5dcb6 26.5px,#6fc5c8 29.5px,#5abacf 30.5px,#47abcf 31.5px,#1878b4 34.5px,#0863a7 36.5px,#085fa3 38.5px,#0861a4 39.5px,#0a6aad 40.5px,#4bb0d1 45.5px,#8bd2bf 50.5px,#abdeb6 53.5px,#d0ecc9 59.5px,#e1f4dc 69.5px,#f1faeb 115.5px,#f2faeb 120.5px)"></div><div style="height:2px;background:linear-gradient(90deg,#f3fbed 0.5px,#e6f5e0 12.5px,#cbeac4 22.5px,#b2e1b9 25.5px,#a6dcb6 26.5px,#6fc5c8 29.5px,#5abacf 30.5px,#47abcf 31.5px,#1878b4 34.5px,#0863a7 36.5px,#085ea1 38.5px,#0969ad 40.5px,#4bb0d1 45.5px,#8bd2bf 50.5px,#acdfb7 53.5px,#cfecc8 59.5px,#e1f3dc 69.5px,#f2faeb 119.5px,#f2faeb 120.5px)"></div><div style="height:2px;background:linear-gradient(90deg,#f3fbed 0.5px,#e6f5e0 12.5px,#cbeac4 22.5px,#b2e1b9 25.5px,#a6dcb6 26.5px,#6fc5c8 29.5px,#5abacf 30.5px,#47abcf 31.5px,#1878b4 34.5px,#0863a7 36.5px,#085ea1 38.5px,#0969ad 40.5px,#4bb0d1 45.5px,#8bd2bf 50.5px,#acdfb7 53.5px,#d2edcc 60.5px,#e1f3dc 70.5px,#f2faeb 120.5px)"></div><div style="height:2px;background:linear-gradient(90deg,#f3fbed 0.5px,#e6f5e0 12.5px,#cbeac4 22.5px,#b2e1b9 25.5px,#a6dcb6 26.5px,#6fc5c8 29.5px,#5abacf 30.5px,#47abcf 31.5px,#1878b4 34.5px,#0863a7 36.5px,#085da0 37.5px,#085fa3 39.5px,#0868ac 40.5px,#4bb0d1 45.5px,#8dd3be 50.5px,#acdfb7 53.5px,#ceecc8 59.5px,#dff3da 69.5px,#f2faeb 120.5px)"></div><div style="height:2px;background:linear-gradient(90deg,#f3fbed 0.5px,#e6f5e0 12.5px,#cbeac4 22.5px,#b2e1b9 25.5px,#a6dcb6 26.5px,#6fc5c8 29.5px,#5abacf 30.5px,#47abcf 31.5px,#1677b3 34.5px,#0863a7 36.5px,#085da0 38.5px,#0868ac 40.5px,#4bb0d1 45.5px,#8dd3be 50.5px,#acdfb7 53.5px,#d1edcb 60.5px,#dff3da 71.5px,#f2faeb 120.5px)"></div><div style="height:2px;background:linear-gradient(90deg,#f3fbed 0.5px,#e6f5e0 12.5px,#cbeac4 22.5px,#a6dcb6 26.5px,#6fc5c8 29.5px,#5abacf 30.5px,#47abcf 31.5px,#1677b3 34.5px,#0863a7 36.5px,#085da0 38.5px,#0867ab 40.5px,#4aafd1 45.5px,#8dd3be 50.5px,#acdfb7 53.5px,#d1edca 60.5px,#dff2da 71.5px,#f1faeb 120.5px)"></div><div style="height:2px;background:linear-gradient(90deg,#f3fbed 0.5px,#e6f5e0 12.5px,#cbeac4 22.5px,#a6dcb6 26.5px,#6fc5c8 29.5px,#5abacf 30.5px,#47abcf 31.5px,#1677b3 34.5px,#0863a7 36.5px,#085da0 38.5px,#0867ab 40.5px,#4aafd1 45.5px,#8ed3be 50.5px,#acdfb7 53.5px,#d0edca 60.5px,#def2d9 71.5px,#f1faeb 120.5px)"></div><div style="height:2px;background:linear-gradient(90deg,#f3faec 0.5px,#e5f5e0 12.5px,#cbeac4 22.5px,#a6dcb6 26.5px,#6fc5c8 29.5px,#5abacf 30.5px,#47abcf 31.5px,#1677b3 34.5px,#0862a5 36.5px,#085c9f 37.5px,#085ea1 39.5px,#0866a9 40.5px,#4aafd1 45.5px,#81cec2 49.5px,#acdfb7 53.5px,#d0edca 60.5px,#def2d9 72.5px,#f1faeb 120.5px)"></div><div style="height:2px;background:linear-gradient(90deg,#f3faec 0.5px,#e5f5e0 12.5px,#cbeac4 22.5px,#a6dcb6 26.5px,#6fc5c8 29.5px,#5abacf 30.5px,#47abcf 31.5px,#1677b3 34.5px,#0b6cae 35.5px,#085c9f 37.5px,#085ea1 39.5px,#0866a9 40.5px,#4aafd1 45.5px,#83cfc1 49.5px,#acdfb7 53.5px,#d0ecc9 60.5px,#ddf2d8 72.5px,#f1faeb 120.5px)"></div><div style="height:2px;background:linear-gradient(90deg,#f3faec 0.5px,#e5f5e0 12.5px,#cbeac4 22.5px,#a6dcb6 26.5px,#6fc5c8 29.5px,#5abacf 30.5px,#47abcf 31.5px,#1677b3 34.5px,#0b6cae 35.5px,#085c9f 37.5px,#085ea1 39.5px,#0864a8 40.5px,#4aafd1 45.5px,#83cfc1 49.5px,#acdfb7 53.5px,#cfecc8 60.5px,#ddf2d7 72.5px,#f1faeb 120.5px)"></div><div style="height:2px;background:linear-gradient(90deg,#f3faec 0.5px,#e5f5e0 12.5px,#cbeac4 22.5px,#a6dcb6 26.5px,#6fc5c8 29.5px,#5abacf 30.5px,#47abcf 31.5px,#1677b3 34.5px,#0b6cae 35.5px,#085c9f 37.5px,#085da0 39.5px,#0864a8 40.5px,#49add0 45.5px,#84cfc1 49.5px,#acdfb7 53.5px,#cfecc8 60.5px,#dcf1d6 72.5px,#f1f9ea 120.5px)"></div><div style="height:2px;background:linear-gradient(90deg,#f3faec 0.5px,#e5f5e0 12.5px,#cbeac4 22.5px,#a6dcb6 26.5px,#6fc5c8 29.5px,#5abacf 30.5px,#47abcf 31.5px,#1677b3 34.5px,#0b6cae 35.5px,#085c9f 37.5px,#085da0 39.5px,#0863a7 40.5px,#3a9cc7 44.5px,#49add0 45.5px,#84cfc1 49.5px,#a5dcb6 52.5px,#ccebc5 59.5px,#daf1d5 71.5px,#f1f9ea 120.5px)"></div><div style="height:2px;background:linear-gradient(90deg,#f3faec 0.5px,#e5f5e0 12.5px,#c9eac4 22.5px,#a6dcb6 26.5px,#6fc5c8 29.5px,#5abacf 30.5px,#47abcf 31.5px,#1677b3 34.5px,#0b6cae 35.5px,#085a9d 37.5px,#085da0 39.5px,#0863a7 40.5px,#3a9cc7 44.5px,#49add0 45.5px,#84cfc1 49.5px,#a5dcb6 52.5px,#c6e9c2 58.5px,#d4eece 64.5px,#eef8e7 111.5px,#f1f9ea 120.5px)"></div><div style="height:2px;background:linear-gradient(90deg,#f3faec 0.5px,#e5f5e0 12.5px,#c9eac4 22.5px,#a6dcb6 26.5px,#6fc5c8 29.5px,#5abacf 30.5px,#47abcf 31.5px,#1677b3 34.5px,#0b6cae 35.5px,#085a9d 37.5px,#085c9f 39.5px,#0862a5 40.5px,#1e7fb7 42.5px,#49add0 45.5px,#86d0c0 49.5px,#a6dcb6 52.5px,#cbeac4 59.5px,#daf0d4 72.5px,#f1f9ea 120.5px)"></div><div style="height:2px;background:linear-gradient(90deg,#f3faec 0.5px,#e5f5e0 12.5px,#c9eac4 22.5px,#b3e1ba 25.5px,#a6dcb6 26.5px,#6fc5c8 29.5px,#5abacf 30.5px,#47abcf 31.5px,#1677b3 34.5px,#0b6cae 35.5px,#085a9d 37.5px,#085c9f 39.5px,#0f6faf 41.5px,#49add0 45.5px,#86d0c0 49.5px,#a6dcb6 52.5px,#c9eac4 59.5px,#d9f0d3 72.5px,#f1f9ea 120.5px)"></div><div style="height:2px;background:linear-gradient(90deg,#f3faec 0.5px,#e5f5e0 12.5px,#c9eac4 22.5px,#b3e1ba 25.5px,#a6dcb6 26.5px,#6fc5c8 29.5px,#5abacf 30.5px,#47abcf 31.5px,#1677b3 34.5px,#0a6aad 35.5px,#085a9d 37.5px,#085c9f 39.5px,#0f6faf 41.5px,#389bc6 44.5px,#49add0 45.5px,#77cac5 48.5px,#9cd9b9 51.5px,#addfb7 53.5px,#ceecc8 61.5px,#ddf2d8 81.5px,#f1f9ea 120.5px)"></div><div style="height:2px;background:linear-gradient(90deg,#f3faec 0.5px,#e4f5df 12.5px,#c9eac4 22.5px,#b3e1ba 25.5px,#a6dcb6 26.5px,#6fc5c8 29.5px,#5abacf 30.5px,#47abcf 31.5px,#1677b3 34.5px,#0a6aad 35.5px,#085a9d 37.5px,#085a9d 39.5px,#0e6eaf 41.5px,#379ac5 44.5px,#48accf 45.5px,#68c1ca 47.5px,#92d5bc 50.5px,#addfb7 53.5px,#ceecc7 61.5px,#ddf2d7 81.5px,#f0f9e9 120.5px)"></div><div style="height:2px;background:linear-gradient(90deg,#f3faec 0.5px,#e4f5df 12.5px,#c9eac4 22.5px,#b3e1ba 25.5px,#a6dcb6 26.5px,#6fc5c8 29.5px,#5abacf 30.5px,#47abcf 31.5px,#1576b3 34.5px,#0a6aad 35.5px,#08599c 37.5px,#085a9d 39.5px,#0d6dae 41.5px,#48accf 45.5px,#68c1ca 47.5px,#92d5bc 50.5px,#a7ddb5 52.5px,#ceecc7 61.5px,#ecf8e6 110.5px,#f0f9e9 120.5px)"></div><div style="height:2px;background:linear-gradient(90deg,#f3faec 0.5px,#e4f5df 12.5px,#c9eac4 22.5px,#b3e1ba 25.5px,#a6dcb6 26.5px,#6fc5c8 29.5px,#5abacf 30.5px,#47abcf 31.5px,#1576b3 34.5px,#0a6aad 35.5px,#08599c 37.5px,#085a9d 39.5px,#085fa3 40.5px,#0d6dae 41.5px,#3699c5 44.5px,#48accf 45.5px,#69c2ca 47.5px,#94d5bc 50.5px,#a7ddb5 52.5px,#cbeac4 60.5px,#dbf1d5 81.5px,#f0f9e9 120.5px)"></div><div style="height:2px;background:linear-gradient(90deg,#f3faec 0.5px,#e4f5df 12.5px,#c9eac4 22.5px,#a7ddb5 26.5px,#6fc5c8 29.5px,#5abacf 30.5px,#47abcf 31.5px,#1576b3 34.5px,#0a6aad 35.5px,#08599c 37.5px,#08599c 39.5px,#0b6cae 41.5px,#3699c5 44.5px,#48accf 45.5px,#69c2ca 47.5px,#94d5bc 50.5px,#a7ddb5 52.5px,#cbeac4 60.5px,#eaf7e4 106.5px,#f0f9e9 120.5px)"></div><div style="height:2px;background:linear-gradient(90deg,#f3faec 0.5px,#e4f5df 12.5px,#c9eac4 22.5px,#a7ddb5 26.5px,#6fc5c8 29.5px,#5abacf 30.5px,#47abcf 31.5px,#1576b3 34.5px,#0a6aad 35.5px,#08599c 37.5px,#08599c 39.5px,#085ea1 40.5px,#0a6aad 41.5px,#3597c4 44.5px,#48accf 45.5px,#69c2ca 47.5px,#94d5bc 50.5px,#a7ddb5 52.5px,#c9eac4 60.5px,#daf1d5 82.5px,#f0f9e9 120.5px)"></div><div style="height:2px;background:linear-gradient(90deg,#f3faec 0.5px,#e4f5df 12.5px,#c9eac4 22.5px,#a7ddb5 26.5px,#6fc5c8 29.5px,#5abacf 30.5px,#47abcf 31.5px,#1576b3 34.5px,#0a6aad 35.5px,#08589b 37.5px,#08599c 39.5px,#085ea1 40.5px,#0a6aad 41.5px,#3597c4 44.5px,#47abcf 45.5px,#69c2ca 47.5px,#8ad2bf 49.5px,#a7ddb5 52.5px,#c5e8c2 59.5px,#d1edca 66.5px,#eff9e9 120.5px)"></div><div style="height:2px;background:linear-gradient(90deg,#f3faec 0.5px,#e4f5df 12.5px,#c9eac4 22.5px,#a7ddb5 26.5px,#6fc5c8 29.5px,#5abacf 30.5px,#47abcf 31.5px,#1576b3 34.5px,#0969ad 35.5px,#08589b 37.5px,#08589b 39.5px,#085da0 40.5px,#0969ad 41.5px,#3496c3 44.5px,#47abcf 45.5px,#69c2ca 47.5px,#8ad2bf 49.5px,#a9ddb5 52.5px,#cbeac4 61.5px,#eff9e9 119.5px,#eff9e9 120.5px)"></div><div style="height:2px;background:linear-gradient(90deg,#f3faec 0.5px,#e4f5df 12.5px,#ceecc8 21.5px,#b3e1ba 25.5px,#a7ddb5 26.5px,#6fc5c8 29.5px,#5abacf 30.5px,#47abcf 31.5px,#1576b3 34.5px,#0969ad 35.5px,#08589b 37.5px,#08589b 39.5px,#0868ac 41.5px,#3496c3 44.5px,#47abcf 45.5px,#58b9d0 46.5px,#8bd2bf 49.5px,#a9ddb5 52.5px,#c7e9c3 60.5px,#d5efcf 77.5px,#eff9e9 120.5px)"></div><div style="height:2px;background:linear-gradient(90deg,#f3faec 0.5px,#e6f5e0 11.5px,#ceecc8 21.5px,#b3e1ba 25.5px,#a7ddb5 26.5px,#6fc5c8 29.5px,#5abacf 30.5px,#47abcf 31.5px,#1576b3 34.5px,#0969ad 35.5px,#08589b 37.5px,#08589b 39.5px,#085c9f 40.5px,#0868ac 41.5px,#3496c3 44.5px,#47abcf 45.5px,#58b9d0 46.5px,#8bd2bf 49.5px,#a9ddb5 52.5px,#c0e6c0 58.5px,#d0ecc9 67.5px,#eff9e9 120.5px)"></div><div style="height:2px;background:linear-gradient(90deg,#f2faeb 0.5px,#e4f4de 12.5px,#ceecc8 21.5px,#b3e1ba 25.5px,#a7ddb5 26.5px,#70c6c8 29.5px,#5abacf 30.5px,#47abcf 31.5px,#1576b3 34.5px,#0969ad 35.5px,#08589b 37.5px,#085799 39.5px,#0867ab 41.5px,#3395c3 44.5px,#47abcf 45.5px,#6bc3c9 47.5px,#8bd2bf 49.5px,#a9ddb5 52.5px,#bfe6bf 58.5px,#ceecc8 66.5px,#eff9e9 120.5px)"></div><div style="height:2px;background:linear-gradient(90deg,#f2faeb 0.5px,#e4f4de 12.5px,#ceecc8 21.5px,#b3e1ba 25.5px,#a7ddb5 26.5px,#70c6c8 29.5px,#5abacf 30.5px,#47abcf 31.5px,#1576b3 34.5px,#0969ad 35.5px,#085799 37.5px,#085799 39.5px,#085a9d 40.5px,#0866a9 41.5px,#3395c3 44.5px,#46aace 45.5px,#6bc3c9 47.5px,#8dd3be 49.5px,#a9ddb5 52.5px,#bfe6bf 58.5px,#ceecc8 68.5px,#eef9e8 120.5px)"></div><div style="height:2px;background:linear-gradient(90deg,#f2faeb 0.5px,#e4f4de 12.5px,#ceecc7 21.5px,#b3e1ba 25.5px,#a7ddb5 26.5px,#70c6c8 29.5px,#5abacf 30.5px,#47abcf 31.5px,#1576b3 34.5px,#0969ad 35.5px,#085799 37.5px,#085799 39.5px,#085a9d 40.5px,#0866a9 41.5px,#3294c2 44.5px,#46aace 45.5px,#5abacf 46.5px,#8dd3be 49.5px,#aadeb6 52.5px,#c6e9c2 61.5px,#d6efd0 83.5px,#ecf8e6 115.5px,#eef9e8 120.5px)"></div><div style="height:2px;background:linear-gradient(90deg,#f2faeb 0.5px,#e4f4de 12.5px,#c8eac3 22.5px,#a7ddb5 26.5px,#70c6c8 29.5px,#5abacf 30.5px,#47abcf 31.5px,#1576b3 34.5px,#0969ad 35.5px,#085799 37.5px,#085598 39.5px,#08599c 40.5px,#0864a8 41.5px,#2081b8 43.5px,#46aace 45.5px,#5abacf 46.5px,#8ed3be 49.5px,#aadeb6 52.5px,#c3e7c1 60.5px,#d1edcb 76.5px,#eef9e8 120.5px)"></div><div style="height:2px;background:linear-gradient(90deg,#f2faeb 0.5px,#e4f4de 12.5px,#c8eac3 22.5px,#a7ddb5 26.5px,#70c6c8 29.5px,#5abacf 30.5px,#47abcf 31.5px,#1576b3 34.5px,#0868ac 35.5px,#085799 37.5px,#085598 39.5px,#0863a7 41.5px,#2081b8 43.5px,#46aace 45.5px,#5abacf 46.5px,#8ed3be 49.5px,#aadeb6 52.5px,#c3e7c1 60.5px,#d3eecd 81.5px,#ebf7e5 115.5px,#eef9e8 120.5px)"></div><div style="height:2px;background:linear-gradient(90deg,#f2faeb 0.5px,#e4f4de 12.5px,#c8eac3 22.5px,#a7ddb5 26.5px,#70c6c8 29.5px,#5abacf 30.5px,#47abcf 31.5px,#1475b2 34.5px,#0868ac 35.5px,#085598 37.5px,#085598 39.5px,#08589b 40.5px,#0863a7 41.5px,#1f80b8 43.5px,#46aace 45.5px,#5abacf 46.5px,#8ed3be 49.5px,#aadeb6 52.5px,#bfe6bf 59.5px,#d0edca 76.5px,#eef9e8 120.5px)"></div><div style="height:2px;background:linear-gradient(90deg,#f2faeb 0.5px,#e4f4de 12.5px,#c8eac3 22.5px,#a7ddb5 26.5px,#70c6c8 29.5px,#5abacf 30.5px,#47abcf 31.5px,#1475b2 34.5px,#0868ac 35.5px,#085598 37.5px,#085497 39.5px,#0862a5 41.5px,#1e7fb7 43.5px,#45a8cd 45.5px,#5abacf 46.5px,#8fd4bd 49.5px,#aadeb6 52.5px,#bfe6bf 59.5px,#d0ecc9 77.5px,#ebf7e5 115.5px,#eef8e7 120.5px)"></div><div style="height:2px;background:linear-gradient(90deg,#f2faeb 0.5px,#e4f4de 12.5px,#c8eac3 22.5px,#a7ddb5 26.5px,#70c6c8 29.5px,#5abacf 30.5px,#47abcf 31.5px,#1475b2 34.5px,#0868ac 35.5px,#085598 37.5px,#085497 39.5px,#085799 40.5px,#0861a4 41.5px,#1e7fb7 43.5px,#45a8cd 45.5px,#5abacf 46.5px,#81cec2 48.5px,#a3dbb7 51.5px,#b6e3bb 55.5px,#ccebc5 71.5px,#edf8e7 118.5px,#eef8e7 120.5px)"></div><div style="height:2px;background:linear-gradient(90deg,#f2faeb 0.5px,#e5f5e0 11.5px,#c8eac3 22.5px,#a7ddb5 26.5px,#70c6c8 29.5px,#5abacf 30.5px,#47abcf 31.5px,#1475b2 34.5px,#0868ac 35.5px,#085598 37.5px,#085497 39.5px,#085799 40.5px,#0861a4 41.5px,#1d7eb7 43.5px,#45a8cd 45.5px,#5abacf 46.5px,#91d4bd 49.5px,#abdeb6 52.5px,#bce5be 58.5px,#d0edca 80.5px,#e9f7e3 112.5px,#eef8e7 120.5px)"></div><div style="height:2px;background:linear-gradient(90deg,#f2faeb 0.5px,#e3f4de 12.5px,#c8eac3 22.5px,#a7ddb5 26.5px,#70c6c8 29.5px,#5abacf 30.5px,#47abcf 31.5px,#1475b2 34.5px,#0868ac 35.5px,#085598 37.5px,#085497 39.5px,#085fa3 41.5px,#0f6faf 42.5px,#2f90c0 44.5px,#45a8cd 45.5px,#5abacf 46.5px,#91d4bd 49.5px,#abdeb6 52.5px,#bbe4bd 58.5px,#d0edca 81.5px,#ebf7e5 116.5px,#eef8e7 120.5px)"></div><div style="height:2px;background:linear-gradient(90deg,#f2faeb 0.5px,#e3f4de 12.5px,#ceecc7 21.5px,#b3e1ba 25.5px,#a7ddb5 26.5px,#70c6c8 29.5px,#5abacf 30.5px,#47abcf 31.5px,#1475b2 34.5px,#0868ac 35.5px,#085497 37.5px,#085395 39.5px,#085ea1 41.5px,#0e6eaf 42.5px,#2f90c0 44.5px,#45a8cd 45.5px,#5abacf 46.5px,#83cfc1 48.5px,#a5dcb6 51.5px,#b7e3bc 56.5px,#cfecc8 80.5px,#eaf7e4 114.5px,#eef8e7 120.5px)"></div><div style="height:2px;background:linear-gradient(90deg,#f2faeb 0.5px,#e1f3dc 13.5px,#ceecc7 21.5px,#b3e1ba 25.5px,#a7ddb5 26.5px,#70c6c8 29.5px,#5abacf 30.5px,#47abcf 31.5px,#0867ab 35.5px,#085497 37.5px,#085395 39.5px,#085ea1 41.5px,#0e6eaf 42.5px,#2d8fbf 44.5px,#45a8cd 45.5px,#5abacf 46.5px,#92d5bc 49.5px,#abdeb6 52.5px,#b9e3bc 57.5px,#d6efd0 90.5px,#e9f6e3 113.5px,#edf8e7 120.5px)"></div><div style="height:2px;background:linear-gradient(90deg,#f2faeb 0.5px,#e1f3dc 13.5px,#ceecc7 21.5px,#b3e1ba 25.5px,#a7ddb5 26.5px,#70c6c8 29.5px,#5abacf 30.5px,#47abcf 31.5px,#1475b2 34.5px,#0868ac 35.5px,#085497 37.5px,#085395 39.5px,#085ea1 41.5px,#0e6eaf 42.5px,#2d8fbf 44.5px,#45a8cd 45.5px,#5abacf 46.5px,#92d5bc 49.5px,#abdeb6 52.5px,#b9e3bc 57.5px,#d6efd0 90.5px,#e9f6e3 113.5px,#edf8e7 120.5px)"></div><div style="height:2px;background:linear-gradient(90deg,#f2faeb 0.5px,#e1f3dc 13.5px,#ceecc7 21.5px,#b3e1ba 25.5px,#a7ddb5 26.5px,#70c6c8 29.5px,#5abacf 30.5px,#47abcf 31.5px,#0867ab 35.5px,#085497 37.5px,#085395 39.5px,#085ea1 41.5px,#0e6eaf 42.5px,#2d8fbf 44.5px,#45a8cd 45.5px,#5abacf 46.5px,#92d5bc 49.5px,#abdeb6 52.5px,#b9e3bc 57.5px,#d6efd0 90.5px,#e9f6e3 113.5px,#edf8e7 120.5px)"></div><div style="height:2px;background:linear-gradient(90deg,#f2faeb 0.5px,#e1f3dc 13.5px,#ceecc7 21.5px,#b3e1ba 25.5px,#a7ddb5 26.5px,#70c6c8 29.5px,#5abacf 30.5px,#47abcf 31.5px,#0867ab 35.5px,#085497 37.5px,#085395 39.5px,#085ea1 41.5px,#0e6eaf 42.5px,#2d8fbf 44.5px,#45a8cd 45.5px,#5abacf 46.5px,#92d5bc 49.5px,#abdeb6 52.5px,#b9e3bc 57.5px,#d6efd0 90.5px,#e9f6e3 113.5px,#edf8e7 120.5px)"></div><div style="height:2px;background:linear-gradient(90deg,#f2faeb 0.5px,#e1f3dc 13.5px,#ceecc7 21.5px,#b3e1ba 25.5px,#a7ddb5 26.5px,#70c6c8 29.5px,#5abacf 30.5px,#47abcf 31.5px,#0867ab 35.5px,#085497 37.5px,#085395 39.5px,#085ea1 41.5px,#0e6eaf 42.5px,#2d8fbf 44.5px,#45a8cd 45.5px,#5abacf 46.5px,#92d5bc 49.5px,#abdeb6 52.5px,#b9e3bc 57.5px,#d6efd0 90.5px,#e9f6e3 113.5px,#edf8e7 120.5px)"></div><div style="height:2px;background:linear-gradient(90deg,#f2faeb 0.5px,#e1f3dc 13.5px,#ceecc7 21.5px,#b3e1ba 25.5px,#a7ddb5 26.5px,#70c6c8 29.5px,#5abacf 30.5px,#47abcf 31.5px,#0867ab 35.5px,#085497 37.5px,#085395 39.5px,#085ea1 41.5px,#0e6eaf 42.5px,#2d8fbf 44.5px,#45a8cd 45.5px,#5abacf 46.5px,#92d5bc 49.5px,#abdeb6 52.5px,#b9e3bc 57.5px,#d6efd0 90.5px,#e9f6e3 113.5px,#edf8e7 120.5px)"></div><div style="height:2px;background:linear-gradient(90deg,#f2faeb 0.5px,#e1f3dc 13.5px,#ceecc7 21.5px,#b3e1ba 25.5px,#a7ddb5 26.5px,#70c6c8 29.5px,#5abacf 30.5px,#47abcf 31.5px,#0867ab 35.5px,#085497 37.5px,#085395 39.5px,#085ea1 41.5px,#0e6eaf 42.5px,#2d8fbf 44.5px,#45a8cd 45.5px,#5abacf 46.5px,#92d5bc 49.5px,#abdeb6 52.5px,#b9e3bc 57.5px,#d6efd0 90.5px,#e9f6e3 113.5px,#edf8e7 120.5px)"></div><div style="height:2px;background:linear-gradient(90deg,#f2faeb 0.5px,#e1f3dc 13.5px,#ceecc7 21.5px,#b3e1ba 25.5px,#a7ddb5 26.5px,#70c6c8 29.5px,#5abacf 30.5px,#47abcf 31.5px,#0867ab 35.5px,#085497 37.5px,#085395 39.5px,#085ea1 41.5px,#0e6eaf 42.5px,#2d8fbf 44.5px,#45a8cd 45.5px,#5abacf 46.5px,#92d5bc 49.5px,#abdeb6 52.5px,#b9e3bc 57.5px,#d6efd0 90.5px,#e9f6e3 113.5px,#edf8e7 120.5px)"></div><div style="height:2px;background:linear-gradient(90deg,#f2faeb 0.5px,#e1f3dc 13.5px,#ceecc7 21.5px,#b3e1ba 25.5px,#a7ddb5 26.5px,#70c6c8 29.5px,#5abacf 30.5px,#47abcf 31.5px,#0867ab 35.5px,#085497 37.5px,#085395 39.5px,#085ea1 41.5px,#0e6eaf 42.5px,#2d8fbf 44.5px,#45a8cd 45.5px,#5abacf 46.5px,#92d5bc 49.5px,#abdeb6 52.5px,#b9e3bc 57.5px,#d6efd0 90.5px,#e9f6e3 113.5px,#edf8e7 120.5px)"></div><div style="height:2px;background:linear-gradient(90deg,#f2faeb 0.5px,#e1f3dc 13.5px,#ceecc7 21.5px,#b3e1ba 25.5px,#a7ddb5 26.5px,#70c6c8 29.5px,#5abacf 30.5px,#47abcf 31.5px,#0867ab 35.5px,#085497 37.5px,#085395 39.5px,#085ea1 41.5px,#0e6eaf 42.5px,#2d8fbf 44.5px,#45a8cd 45.5px,#5abacf 46.5px,#92d5bc 49.5px,#abdeb6 52.5px,#b9e3bc 57.5px,#d6efd0 90.5px,#e9f6e3 113.5px,#edf8e7 120.5px)"></div></div>
<svg width="685" height="422" viewBox="0 0 685 422">
<rect x="37.00" y="27.55" width="120.55" height="160.90" fill="none" stroke="#1a1a1a" stroke-width="0.9"/>
<line x1="33.20" y1="45.20" x2="37.00" y2="45.20" stroke="#1a1a1a" stroke-width="0.8" />
<line x1="33.20" y1="65.87" x2="37.00" y2="65.87" stroke="#1a1a1a" stroke-width="0.8" />
<line x1="33.20" y1="86.53" x2="37.00" y2="86.53" stroke="#1a1a1a" stroke-width="0.8" />
<line x1="33.20" y1="107.20" x2="37.00" y2="107.20" stroke="#1a1a1a" stroke-width="0.8" />
<line x1="33.20" y1="127.87" x2="37.00" y2="127.87" stroke="#1a1a1a" stroke-width="0.8" />
<line x1="33.20" y1="148.54" x2="37.00" y2="148.54" stroke="#1a1a1a" stroke-width="0.8" />
<line x1="33.20" y1="169.20" x2="37.00" y2="169.20" stroke="#1a1a1a" stroke-width="0.8" />
<rect x="206.70" y="27.55" width="120.65" height="160.90" fill="none" stroke="#1a1a1a" stroke-width="0.9"/>
<line x1="202.90" y1="45.20" x2="206.70" y2="45.20" stroke="#1a1a1a" stroke-width="0.8" />
<line x1="202.90" y1="65.87" x2="206.70" y2="65.87" stroke="#1a1a1a" stroke-width="0.8" />
<line x1="202.90" y1="86.53" x2="206.70" y2="86.53" stroke="#1a1a1a" stroke-width="0.8" />
<line x1="202.90" y1="107.20" x2="206.70" y2="107.20" stroke="#1a1a1a" stroke-width="0.8" />
<line x1="202.90" y1="127.87" x2="206.70" y2="127.87" stroke="#1a1a1a" stroke-width="0.8" />
<line x1="202.90" y1="148.54" x2="206.70" y2="148.54" stroke="#1a1a1a" stroke-width="0.8" />
<line x1="202.90" y1="169.20" x2="206.70" y2="169.20" stroke="#1a1a1a" stroke-width="0.8" />
<rect x="376.45" y="27.55" width="120.50" height="160.90" fill="none" stroke="#1a1a1a" stroke-width="0.9"/>
<line x1="372.65" y1="45.20" x2="376.45" y2="45.20" stroke="#1a1a1a" stroke-width="0.8" />
<line x1="372.65" y1="65.87" x2="376.45" y2="65.87" stroke="#1a1a1a" stroke-width="0.8" />
<line x1="372.65" y1="86.53" x2="376.45" y2="86.53" stroke="#1a1a1a" stroke-width="0.8" />
<line x1="372.65" y1="107.20" x2="376.45" y2="107.20" stroke="#1a1a1a" stroke-width="0.8" />
<line x1="372.65" y1="127.87" x2="376.45" y2="127.87" stroke="#1a1a1a" stroke-width="0.8" />
<line x1="372.65" y1="148.54" x2="376.45" y2="148.54" stroke="#1a1a1a" stroke-width="0.8" />
<line x1="372.65" y1="169.20" x2="376.45" y2="169.20" stroke="#1a1a1a" stroke-width="0.8" />
<rect x="595.30" y="27.55" width="48.10" height="160.90" fill="none" stroke="#1a1a1a" stroke-width="0.9"/>
<line x1="591.50" y1="45.20" x2="595.30" y2="45.20" stroke="#1a1a1a" stroke-width="0.8" />
<line x1="591.50" y1="65.87" x2="595.30" y2="65.87" stroke="#1a1a1a" stroke-width="0.8" />
<line x1="591.50" y1="86.53" x2="595.30" y2="86.53" stroke="#1a1a1a" stroke-width="0.8" />
<line x1="591.50" y1="107.20" x2="595.30" y2="107.20" stroke="#1a1a1a" stroke-width="0.8" />
<line x1="591.50" y1="127.87" x2="595.30" y2="127.87" stroke="#1a1a1a" stroke-width="0.8" />
<line x1="591.50" y1="148.54" x2="595.30" y2="148.54" stroke="#1a1a1a" stroke-width="0.8" />
<line x1="591.50" y1="169.20" x2="595.30" y2="169.20" stroke="#1a1a1a" stroke-width="0.8" />
<line x1="37.45" y1="39.60" x2="157.10" y2="39.60" stroke="#f03a3a" stroke-width="0.85" stroke-dasharray="2.05 1.1"/>
<line x1="37.45" y1="100.35" x2="157.10" y2="100.35" stroke="#f03a3a" stroke-width="0.85" stroke-dasharray="2.05 1.1"/>
<line x1="37.45" y1="158.45" x2="157.10" y2="158.45" stroke="#f03a3a" stroke-width="0.85" stroke-dasharray="2.05 1.1"/>
<line x1="37.45" y1="145.90" x2="157.10" y2="145.90" stroke="#2a2a2a" stroke-width="1.5" stroke-dasharray="1.1 2.05"/>
<line x1="207.15" y1="39.60" x2="326.90" y2="39.60" stroke="#f03a3a" stroke-width="0.85" stroke-dasharray="2.05 1.1"/>
<line x1="207.15" y1="100.35" x2="326.90" y2="100.35" stroke="#f03a3a" stroke-width="0.85" stroke-dasharray="2.05 1.1"/>
<line x1="207.15" y1="158.45" x2="326.90" y2="158.45" stroke="#f03a3a" stroke-width="0.85" stroke-dasharray="2.05 1.1"/>
<line x1="207.15" y1="145.90" x2="326.90" y2="145.90" stroke="#2a2a2a" stroke-width="1.5" stroke-dasharray="1.1 2.05"/>
<line x1="376.90" y1="39.60" x2="496.50" y2="39.60" stroke="#f03a3a" stroke-width="0.85" stroke-dasharray="2.05 1.1"/>
<line x1="376.90" y1="100.35" x2="496.50" y2="100.35" stroke="#f03a3a" stroke-width="0.85" stroke-dasharray="2.05 1.1"/>
<line x1="376.90" y1="158.45" x2="496.50" y2="158.45" stroke="#f03a3a" stroke-width="0.85" stroke-dasharray="2.05 1.1"/>
<line x1="376.90" y1="145.90" x2="496.50" y2="145.90" stroke="#2a2a2a" stroke-width="1.5" stroke-dasharray="1.1 2.05"/>
<line x1="37.00" y1="188.45" x2="37.00" y2="192.65" stroke="#1a1a1a" stroke-width="0.8" />
<line x1="67.14" y1="188.45" x2="67.14" y2="192.65" stroke="#1a1a1a" stroke-width="0.8" />
<line x1="97.28" y1="188.45" x2="97.28" y2="192.65" stroke="#1a1a1a" stroke-width="0.8" />
<line x1="127.41" y1="188.45" x2="127.41" y2="192.65" stroke="#1a1a1a" stroke-width="0.8" />
<line x1="157.55" y1="188.45" x2="157.55" y2="192.65" stroke="#1a1a1a" stroke-width="0.8" />
<line x1="206.70" y1="188.45" x2="206.70" y2="192.65" stroke="#1a1a1a" stroke-width="0.8" />
<line x1="236.86" y1="188.45" x2="236.86" y2="192.65" stroke="#1a1a1a" stroke-width="0.8" />
<line x1="267.02" y1="188.45" x2="267.02" y2="192.65" stroke="#1a1a1a" stroke-width="0.8" />
<line x1="297.19" y1="188.45" x2="297.19" y2="192.65" stroke="#1a1a1a" stroke-width="0.8" />
<line x1="327.35" y1="188.45" x2="327.35" y2="192.65" stroke="#1a1a1a" stroke-width="0.8" />
<line x1="376.45" y1="188.45" x2="376.45" y2="192.65" stroke="#1a1a1a" stroke-width="0.8" />
<line x1="406.57" y1="188.45" x2="406.57" y2="192.65" stroke="#1a1a1a" stroke-width="0.8" />
<line x1="436.70" y1="188.45" x2="436.70" y2="192.65" stroke="#1a1a1a" stroke-width="0.8" />
<line x1="466.82" y1="188.45" x2="466.82" y2="192.65" stroke="#1a1a1a" stroke-width="0.8" />
<line x1="496.95" y1="188.45" x2="496.95" y2="192.65" stroke="#1a1a1a" stroke-width="0.8" />
<rect x="37.00" y="236.80" width="120.55" height="160.90" fill="none" stroke="#1a1a1a" stroke-width="0.9"/>
<line x1="33.20" y1="254.45" x2="37.00" y2="254.45" stroke="#1a1a1a" stroke-width="0.8" />
<line x1="33.20" y1="275.12" x2="37.00" y2="275.12" stroke="#1a1a1a" stroke-width="0.8" />
<line x1="33.20" y1="295.78" x2="37.00" y2="295.78" stroke="#1a1a1a" stroke-width="0.8" />
<line x1="33.20" y1="316.45" x2="37.00" y2="316.45" stroke="#1a1a1a" stroke-width="0.8" />
<line x1="33.20" y1="337.12" x2="37.00" y2="337.12" stroke="#1a1a1a" stroke-width="0.8" />
<line x1="33.20" y1="357.79" x2="37.00" y2="357.79" stroke="#1a1a1a" stroke-width="0.8" />
<line x1="33.20" y1="378.45" x2="37.00" y2="378.45" stroke="#1a1a1a" stroke-width="0.8" />
<rect x="206.70" y="236.80" width="120.65" height="160.90" fill="none" stroke="#1a1a1a" stroke-width="0.9"/>
<line x1="202.90" y1="254.45" x2="206.70" y2="254.45" stroke="#1a1a1a" stroke-width="0.8" />
<line x1="202.90" y1="275.12" x2="206.70" y2="275.12" stroke="#1a1a1a" stroke-width="0.8" />
<line x1="202.90" y1="295.78" x2="206.70" y2="295.78" stroke="#1a1a1a" stroke-width="0.8" />
<line x1="202.90" y1="316.45" x2="206.70" y2="316.45" stroke="#1a1a1a" stroke-width="0.8" />
<line x1="202.90" y1="337.12" x2="206.70" y2="337.12" stroke="#1a1a1a" stroke-width="0.8" />
<line x1="202.90" y1="357.79" x2="206.70" y2="357.79" stroke="#1a1a1a" stroke-width="0.8" />
<line x1="202.90" y1="378.45" x2="206.70" y2="378.45" stroke="#1a1a1a" stroke-width="0.8" />
<rect x="376.45" y="236.80" width="120.50" height="160.90" fill="none" stroke="#1a1a1a" stroke-width="0.9"/>
<line x1="372.65" y1="254.45" x2="376.45" y2="254.45" stroke="#1a1a1a" stroke-width="0.8" />
<line x1="372.65" y1="275.12" x2="376.45" y2="275.12" stroke="#1a1a1a" stroke-width="0.8" />
<line x1="372.65" y1="295.78" x2="376.45" y2="295.78" stroke="#1a1a1a" stroke-width="0.8" />
<line x1="372.65" y1="316.45" x2="376.45" y2="316.45" stroke="#1a1a1a" stroke-width="0.8" />
<line x1="372.65" y1="337.12" x2="376.45" y2="337.12" stroke="#1a1a1a" stroke-width="0.8" />
<line x1="372.65" y1="357.79" x2="376.45" y2="357.79" stroke="#1a1a1a" stroke-width="0.8" />
<line x1="372.65" y1="378.45" x2="376.45" y2="378.45" stroke="#1a1a1a" stroke-width="0.8" />
<rect x="595.30" y="236.80" width="48.10" height="160.90" fill="none" stroke="#1a1a1a" stroke-width="0.9"/>
<line x1="591.50" y1="254.45" x2="595.30" y2="254.45" stroke="#1a1a1a" stroke-width="0.8" />
<line x1="591.50" y1="275.12" x2="595.30" y2="275.12" stroke="#1a1a1a" stroke-width="0.8" />
<line x1="591.50" y1="295.78" x2="595.30" y2="295.78" stroke="#1a1a1a" stroke-width="0.8" />
<line x1="591.50" y1="316.45" x2="595.30" y2="316.45" stroke="#1a1a1a" stroke-width="0.8" />
<line x1="591.50" y1="337.12" x2="595.30" y2="337.12" stroke="#1a1a1a" stroke-width="0.8" />
<line x1="591.50" y1="357.79" x2="595.30" y2="357.79" stroke="#1a1a1a" stroke-width="0.8" />
<line x1="591.50" y1="378.45" x2="595.30" y2="378.45" stroke="#1a1a1a" stroke-width="0.8" />
<line x1="37.45" y1="248.85" x2="157.10" y2="248.85" stroke="#f03a3a" stroke-width="0.85" stroke-dasharray="2.05 1.1"/>
<line x1="37.45" y1="309.60" x2="157.10" y2="309.60" stroke="#f03a3a" stroke-width="0.85" stroke-dasharray="2.05 1.1"/>
<line x1="37.45" y1="367.70" x2="157.10" y2="367.70" stroke="#f03a3a" stroke-width="0.85" stroke-dasharray="2.05 1.1"/>
<line x1="37.45" y1="355.15" x2="157.10" y2="355.15" stroke="#2a2a2a" stroke-width="1.5" stroke-dasharray="1.1 2.05"/>
<line x1="207.15" y1="248.85" x2="326.90" y2="248.85" stroke="#f03a3a" stroke-width="0.85" stroke-dasharray="2.05 1.1"/>
<line x1="207.15" y1="309.60" x2="326.90" y2="309.60" stroke="#f03a3a" stroke-width="0.85" stroke-dasharray="2.05 1.1"/>
<line x1="207.15" y1="367.70" x2="326.90" y2="367.70" stroke="#f03a3a" stroke-width="0.85" stroke-dasharray="2.05 1.1"/>
<line x1="207.15" y1="355.15" x2="326.90" y2="355.15" stroke="#2a2a2a" stroke-width="1.5" stroke-dasharray="1.1 2.05"/>
<line x1="376.90" y1="248.85" x2="496.50" y2="248.85" stroke="#f03a3a" stroke-width="0.85" stroke-dasharray="2.05 1.1"/>
<line x1="376.90" y1="309.60" x2="496.50" y2="309.60" stroke="#f03a3a" stroke-width="0.85" stroke-dasharray="2.05 1.1"/>
<line x1="376.90" y1="367.70" x2="496.50" y2="367.70" stroke="#f03a3a" stroke-width="0.85" stroke-dasharray="2.05 1.1"/>
<line x1="376.90" y1="355.15" x2="496.50" y2="355.15" stroke="#2a2a2a" stroke-width="1.5" stroke-dasharray="1.1 2.05"/>
<line x1="37.00" y1="397.70" x2="37.00" y2="401.90" stroke="#1a1a1a" stroke-width="0.8" />
<line x1="77.18" y1="397.70" x2="77.18" y2="401.90" stroke="#1a1a1a" stroke-width="0.8" />
<line x1="117.37" y1="397.70" x2="117.37" y2="401.90" stroke="#1a1a1a" stroke-width="0.8" />
<line x1="157.55" y1="397.70" x2="157.55" y2="401.90" stroke="#1a1a1a" stroke-width="0.8" />
<line x1="206.70" y1="397.70" x2="206.70" y2="401.90" stroke="#1a1a1a" stroke-width="0.8" />
<line x1="246.92" y1="397.70" x2="246.92" y2="401.90" stroke="#1a1a1a" stroke-width="0.8" />
<line x1="287.13" y1="397.70" x2="287.13" y2="401.90" stroke="#1a1a1a" stroke-width="0.8" />
<line x1="327.35" y1="397.70" x2="327.35" y2="401.90" stroke="#1a1a1a" stroke-width="0.8" />
<line x1="376.45" y1="397.70" x2="376.45" y2="401.90" stroke="#1a1a1a" stroke-width="0.8" />
<line x1="416.62" y1="397.70" x2="416.62" y2="401.90" stroke="#1a1a1a" stroke-width="0.8" />
<line x1="456.78" y1="397.70" x2="456.78" y2="401.90" stroke="#1a1a1a" stroke-width="0.8" />
<line x1="496.95" y1="397.70" x2="496.95" y2="401.90" stroke="#1a1a1a" stroke-width="0.8" />
<defs>
<linearGradient id="cb0" x1="0" y1="1" x2="0" y2="0">
<stop offset="0.0000" stop-color="#ffffd9"/>
<stop offset="0.0625" stop-color="#f6fbc5"/>
<stop offset="0.1250" stop-color="#edf8b1"/>
<stop offset="0.1875" stop-color="#daf0b3"/>
<stop offset="0.2500" stop-color="#c6e9b4"/>
<stop offset="0.3125" stop-color="#a2dbb8"/>
<stop offset="0.3750" stop-color="#7ecdbb"/>
<stop offset="0.4375" stop-color="#5fc1c0"/>
<stop offset="0.5000" stop-color="#40b5c4"/>
<stop offset="0.5625" stop-color="#2ea3c2"/>
<stop offset="0.6250" stop-color="#1d90c0"/>
<stop offset="0.6875" stop-color="#2076b3"/>
<stop offset="0.7500" stop-color="#225da8"/>
<stop offset="0.8125" stop-color="#24489d"/>
<stop offset="0.8750" stop-color="#243392"/>
<stop offset="0.9375" stop-color="#162874"/>
<stop offset="1.0000" stop-color="#081d58"/>
</linearGradient>
<linearGradient id="cb1" x1="0" y1="1" x2="0" y2="0">
<stop offset="0.0000" stop-color="#f7fcf0"/>
<stop offset="0.0625" stop-color="#ebf7e5"/>
<stop offset="0.1250" stop-color="#e0f3db"/>
<stop offset="0.1875" stop-color="#d6efd0"/>
<stop offset="0.2500" stop-color="#ccebc5"/>
<stop offset="0.3125" stop-color="#bae4bd"/>
<stop offset="0.3750" stop-color="#a7ddb5"/>
<stop offset="0.4375" stop-color="#91d4bd"/>
<stop offset="0.5000" stop-color="#7accc4"/>
<stop offset="0.5625" stop-color="#64bfcc"/>
<stop offset="0.6250" stop-color="#4db2d3"/>
<stop offset="0.6875" stop-color="#3c9fc8"/>
<stop offset="0.7500" stop-color="#2a8bbe"/>
<stop offset="0.8125" stop-color="#1979b5"/>
<stop offset="0.8750" stop-color="#0867ab"/>
<stop offset="0.9375" stop-color="#085395"/>
<stop offset="1.0000" stop-color="#084081"/>
</linearGradient>
</defs>
<rect x="501.3" y="49.6" width="6.50" height="122.60" fill="url(#cb0)"/>
<path d="M501.3,49.9 L504.55,43.1 L507.8,49.9 Z" fill="#081d58"/>
<path d="M501.3,49.6 L504.55,43.1 L507.8,49.6 L507.8,172.2 L501.3,172.2 Z" fill="none" stroke="#111" stroke-width="0.8"/>
<line x1="507.80" y1="50.00" x2="511.80" y2="50.00" stroke="#1a1a1a" stroke-width="0.8" />
<line x1="507.80" y1="172.20" x2="511.80" y2="172.20" stroke="#1a1a1a" stroke-width="0.8" />
<rect x="501.3" y="258.85" width="6.50" height="122.60" fill="url(#cb1)"/>
<path d="M501.3,259.15000000000003 L504.55,252.35 L507.8,259.15000000000003 Z" fill="#084081"/>
<path d="M501.3,258.85 L504.55,252.35 L507.8,258.85 L507.8,381.45 L501.3,381.45 Z" fill="none" stroke="#111" stroke-width="0.8"/>
<line x1="507.80" y1="270.00" x2="511.80" y2="270.00" stroke="#1a1a1a" stroke-width="0.8" />
<line x1="507.80" y1="381.45" x2="511.80" y2="381.45" stroke="#1a1a1a" stroke-width="0.8" />
<text x="498.6" y="244.6" font-size="11.6" font-style="italic">a</text>
<path d="M500.0,237.6 L501.7,235.0 L503.4,237.6" fill="none" stroke="#1a1a1a" stroke-width="0.8"/>
<text x="504.3" y="246.9" font-size="7.6" font-style="italic" textLength="6.6" lengthAdjust="spacingAndGlyphs">N</text>
<line x1="596.31" y1="188.45" x2="596.31" y2="190.75" stroke="#1a1a1a" stroke-width="0.6" />
<line x1="598.31" y1="188.45" x2="598.31" y2="190.75" stroke="#1a1a1a" stroke-width="0.6" />
<line x1="600.00" y1="188.45" x2="600.00" y2="190.75" stroke="#1a1a1a" stroke-width="0.6" />
<line x1="601.46" y1="188.45" x2="601.46" y2="190.75" stroke="#1a1a1a" stroke-width="0.6" />
<line x1="602.75" y1="188.45" x2="602.75" y2="190.75" stroke="#1a1a1a" stroke-width="0.6" />
<line x1="603.90" y1="188.45" x2="603.90" y2="192.65" stroke="#1a1a1a" stroke-width="0.8" />
<line x1="611.49" y1="188.45" x2="611.49" y2="190.75" stroke="#1a1a1a" stroke-width="0.6" />
<line x1="615.92" y1="188.45" x2="615.92" y2="190.75" stroke="#1a1a1a" stroke-width="0.6" />
<line x1="619.07" y1="188.45" x2="619.07" y2="190.75" stroke="#1a1a1a" stroke-width="0.6" />
<line x1="621.51" y1="188.45" x2="621.51" y2="190.75" stroke="#1a1a1a" stroke-width="0.6" />
<line x1="623.51" y1="188.45" x2="623.51" y2="190.75" stroke="#1a1a1a" stroke-width="0.6" />
<line x1="625.20" y1="188.45" x2="625.20" y2="190.75" stroke="#1a1a1a" stroke-width="0.6" />
<line x1="626.66" y1="188.45" x2="626.66" y2="190.75" stroke="#1a1a1a" stroke-width="0.6" />
<line x1="627.95" y1="188.45" x2="627.95" y2="190.75" stroke="#1a1a1a" stroke-width="0.6" />
<line x1="629.10" y1="188.45" x2="629.10" y2="192.65" stroke="#1a1a1a" stroke-width="0.8" />
<line x1="636.69" y1="188.45" x2="636.69" y2="190.75" stroke="#1a1a1a" stroke-width="0.6" />
<line x1="641.12" y1="188.45" x2="641.12" y2="190.75" stroke="#1a1a1a" stroke-width="0.6" />
<text x="594.75" y="203.85" font-size="8.9" textLength="9.6" lengthAdjust="spacingAndGlyphs">10</text>
<text x="604.50" y="199.75" font-size="6.3" textLength="8.6" lengthAdjust="spacingAndGlyphs">−3</text>
<text x="619.95" y="203.85" font-size="8.9" textLength="9.6" lengthAdjust="spacingAndGlyphs">10</text>
<text x="629.70" y="199.75" font-size="6.3" textLength="8.6" lengthAdjust="spacingAndGlyphs">−2</text>
<line x1="596.90" y1="397.70" x2="596.90" y2="400.00" stroke="#1a1a1a" stroke-width="0.6" />
<line x1="598.56" y1="397.70" x2="598.56" y2="400.00" stroke="#1a1a1a" stroke-width="0.6" />
<line x1="600.00" y1="397.70" x2="600.00" y2="400.00" stroke="#1a1a1a" stroke-width="0.6" />
<line x1="601.27" y1="397.70" x2="601.27" y2="400.00" stroke="#1a1a1a" stroke-width="0.6" />
<line x1="602.40" y1="397.70" x2="602.40" y2="401.90" stroke="#1a1a1a" stroke-width="0.8" />
<line x1="609.87" y1="397.70" x2="609.87" y2="400.00" stroke="#1a1a1a" stroke-width="0.6" />
<line x1="614.23" y1="397.70" x2="614.23" y2="400.00" stroke="#1a1a1a" stroke-width="0.6" />
<line x1="617.33" y1="397.70" x2="617.33" y2="400.00" stroke="#1a1a1a" stroke-width="0.6" />
<line x1="619.73" y1="397.70" x2="619.73" y2="400.00" stroke="#1a1a1a" stroke-width="0.6" />
<line x1="621.70" y1="397.70" x2="621.70" y2="400.00" stroke="#1a1a1a" stroke-width="0.6" />
<line x1="623.36" y1="397.70" x2="623.36" y2="400.00" stroke="#1a1a1a" stroke-width="0.6" />
<line x1="624.80" y1="397.70" x2="624.80" y2="400.00" stroke="#1a1a1a" stroke-width="0.6" />
<line x1="626.07" y1="397.70" x2="626.07" y2="400.00" stroke="#1a1a1a" stroke-width="0.6" />
<line x1="627.20" y1="397.70" x2="627.20" y2="401.90" stroke="#1a1a1a" stroke-width="0.8" />
<line x1="634.67" y1="397.70" x2="634.67" y2="400.00" stroke="#1a1a1a" stroke-width="0.6" />
<line x1="639.03" y1="397.70" x2="639.03" y2="400.00" stroke="#1a1a1a" stroke-width="0.6" />
<line x1="642.13" y1="397.70" x2="642.13" y2="400.00" stroke="#1a1a1a" stroke-width="0.6" />
<text x="593.25" y="413.10" font-size="8.9" textLength="9.6" lengthAdjust="spacingAndGlyphs">10</text>
<text x="603.00" y="409.00" font-size="6.3" textLength="8.6" lengthAdjust="spacingAndGlyphs">−4</text>
<text x="618.05" y="413.10" font-size="8.9" textLength="9.6" lengthAdjust="spacingAndGlyphs">10</text>
<text x="627.80" y="409.00" font-size="6.3" textLength="8.6" lengthAdjust="spacingAndGlyphs">−3</text>
<polyline points="611.8,27.5 609.2,41.4 610.9,54.2 606.0,65.9 611.4,84.0 614.6,100.7 606.7,115.4 610.3,132.0 610.7,139.5 606.7,164.0 602.8,188.3" fill="none" stroke="#1f8a4c" stroke-width="1.15" stroke-dasharray="7.4 1.85 1.15 1.85"/>
<polyline points="611.5,236.7 608.0,249.2 614.0,262.4 612.3,289.7 608.0,309.7 606.9,330.0 609.4,338.3 605.6,348.0 603.1,365.7 603.1,381.0 606.1,388.5 610.2,397.5" fill="none" stroke="#1f8a4c" stroke-width="1.15" stroke-dasharray="7.4 1.85 1.15 1.85"/>
<polyline points="637.0,27.5 640.2,58.4 641.5,75.5 640.6,101.0 639.5,112.8 637.4,127.8 631.6,142.7 617.8,152.3 606.0,161.9 596.8,171.5" fill="none" stroke="#fdb728" stroke-width="1.15" stroke-dasharray="4.26 1.85"/>
<polyline points="639.7,236.7 638.7,274.8 638.0,307.0 641.1,339.1 628.5,353.0 606.9,367.0 601.8,373.3 596.8,380.9" fill="none" stroke="#fdb728" stroke-width="1.15" stroke-dasharray="4.26 1.85"/>
<polyline points="601.9,3.1 618.9,3.1" fill="none" stroke="#fdb728" stroke-width="1.15" stroke-dasharray="4.26 1.85"/>
<polyline points="601.9,15.5 618.9,15.5" fill="none" stroke="#1f8a4c" stroke-width="1.15" stroke-dasharray="7.4 1.85 1.15 1.85"/>
<text x="9.41" y="48.35" font-size="8.98" textLength="18.63" lengthAdjust="spacingAndGlyphs">2.00</text>
<text x="9.64" y="69.01" font-size="8.86" textLength="18.50" lengthAdjust="spacingAndGlyphs">1.75</text>
<text x="9.47" y="89.68" font-size="8.98" textLength="18.58" lengthAdjust="spacingAndGlyphs">1.50</text>
<text x="9.64" y="110.35" font-size="8.86" textLength="18.50" lengthAdjust="spacingAndGlyphs">1.25</text>
<text x="9.47" y="131.02" font-size="8.98" textLength="18.58" lengthAdjust="spacingAndGlyphs">1.00</text>
<text x="9.68" y="151.68" font-size="8.98" textLength="18.46" lengthAdjust="spacingAndGlyphs">0.75</text>
<text x="9.51" y="172.35" font-size="8.98" textLength="18.53" lengthAdjust="spacingAndGlyphs">0.50</text>
<text x="179.11" y="48.35" font-size="8.98" textLength="18.63" lengthAdjust="spacingAndGlyphs">2.00</text>
<text x="179.34" y="69.01" font-size="8.86" textLength="18.50" lengthAdjust="spacingAndGlyphs">1.75</text>
<text x="179.17" y="89.68" font-size="8.98" textLength="18.58" lengthAdjust="spacingAndGlyphs">1.50</text>
<text x="179.34" y="110.35" font-size="8.86" textLength="18.50" lengthAdjust="spacingAndGlyphs">1.25</text>
<text x="179.17" y="131.02" font-size="8.98" textLength="18.58" lengthAdjust="spacingAndGlyphs">1.00</text>
<text x="179.38" y="151.68" font-size="8.98" textLength="18.46" lengthAdjust="spacingAndGlyphs">0.75</text>
<text x="179.21" y="172.35" font-size="8.98" textLength="18.53" lengthAdjust="spacingAndGlyphs">0.50</text>
<text x="348.86" y="48.35" font-size="8.98" textLength="18.63" lengthAdjust="spacingAndGlyphs">2.00</text>
<text x="349.09" y="69.01" font-size="8.86" textLength="18.50" lengthAdjust="spacingAndGlyphs">1.75</text>
<text x="348.92" y="89.68" font-size="8.98" textLength="18.58" lengthAdjust="spacingAndGlyphs">1.50</text>
<text x="349.09" y="110.35" font-size="8.86" textLength="18.50" lengthAdjust="spacingAndGlyphs">1.25</text>
<text x="348.92" y="131.02" font-size="8.98" textLength="18.58" lengthAdjust="spacingAndGlyphs">1.00</text>
<text x="349.13" y="151.68" font-size="8.98" textLength="18.46" lengthAdjust="spacingAndGlyphs">0.75</text>
<text x="348.96" y="172.35" font-size="8.98" textLength="18.53" lengthAdjust="spacingAndGlyphs">0.50</text>
<text x="567.71" y="48.35" font-size="8.98" textLength="18.63" lengthAdjust="spacingAndGlyphs">2.00</text>
<text x="567.94" y="69.01" font-size="8.86" textLength="18.50" lengthAdjust="spacingAndGlyphs">1.75</text>
<text x="567.77" y="89.68" font-size="8.98" textLength="18.58" lengthAdjust="spacingAndGlyphs">1.50</text>
<text x="567.94" y="110.35" font-size="8.86" textLength="18.50" lengthAdjust="spacingAndGlyphs">1.25</text>
<text x="567.77" y="131.02" font-size="8.98" textLength="18.58" lengthAdjust="spacingAndGlyphs">1.00</text>
<text x="567.98" y="151.68" font-size="8.98" textLength="18.46" lengthAdjust="spacingAndGlyphs">0.75</text>
<text x="567.81" y="172.35" font-size="8.98" textLength="18.53" lengthAdjust="spacingAndGlyphs">0.50</text>
<text x="31.77" y="203.50" font-size="8.98" textLength="10.43" lengthAdjust="spacingAndGlyphs">10</text>
<text x="61.92" y="203.50" font-size="8.86" textLength="10.24" lengthAdjust="spacingAndGlyphs">15</text>
<text x="91.98" y="203.50" font-size="8.98" textLength="10.50" lengthAdjust="spacingAndGlyphs">20</text>
<text x="122.12" y="203.50" font-size="8.86" textLength="10.31" lengthAdjust="spacingAndGlyphs">25</text>
<text x="152.44" y="203.50" font-size="8.98" textLength="10.31" lengthAdjust="spacingAndGlyphs">30</text>
<text x="201.47" y="203.50" font-size="8.98" textLength="10.43" lengthAdjust="spacingAndGlyphs">10</text>
<text x="231.64" y="203.50" font-size="8.86" textLength="10.24" lengthAdjust="spacingAndGlyphs">15</text>
<text x="261.73" y="203.50" font-size="8.98" textLength="10.50" lengthAdjust="spacingAndGlyphs">20</text>
<text x="291.90" y="203.50" font-size="8.86" textLength="10.31" lengthAdjust="spacingAndGlyphs">25</text>
<text x="322.24" y="203.50" font-size="8.98" textLength="10.31" lengthAdjust="spacingAndGlyphs">30</text>
<text x="371.22" y="203.50" font-size="8.98" textLength="10.43" lengthAdjust="spacingAndGlyphs">10</text>
<text x="401.35" y="203.50" font-size="8.86" textLength="10.24" lengthAdjust="spacingAndGlyphs">15</text>
<text x="431.40" y="203.50" font-size="8.98" textLength="10.50" lengthAdjust="spacingAndGlyphs">20</text>
<text x="461.54" y="203.50" font-size="8.86" textLength="10.31" lengthAdjust="spacingAndGlyphs">25</text>
<text x="491.84" y="203.50" font-size="8.98" textLength="10.31" lengthAdjust="spacingAndGlyphs">30</text>
<text x="9.41" y="257.60" font-size="8.98" textLength="18.63" lengthAdjust="spacingAndGlyphs">2.00</text>
<text x="9.64" y="278.26" font-size="8.86" textLength="18.50" lengthAdjust="spacingAndGlyphs">1.75</text>
<text x="9.47" y="298.93" font-size="8.98" textLength="18.58" lengthAdjust="spacingAndGlyphs">1.50</text>
<text x="9.64" y="319.60" font-size="8.86" textLength="18.50" lengthAdjust="spacingAndGlyphs">1.25</text>
<text x="9.47" y="340.27" font-size="8.98" textLength="18.58" lengthAdjust="spacingAndGlyphs">1.00</text>
<text x="9.68" y="360.93" font-size="8.98" textLength="18.46" lengthAdjust="spacingAndGlyphs">0.75</text>
<text x="9.51" y="381.60" font-size="8.98" textLength="18.53" lengthAdjust="spacingAndGlyphs">0.50</text>
<text x="179.11" y="257.60" font-size="8.98" textLength="18.63" lengthAdjust="spacingAndGlyphs">2.00</text>
<text x="179.34" y="278.26" font-size="8.86" textLength="18.50" lengthAdjust="spacingAndGlyphs">1.75</text>
<text x="179.17" y="298.93" font-size="8.98" textLength="18.58" lengthAdjust="spacingAndGlyphs">1.50</text>
<text x="179.34" y="319.60" font-size="8.86" textLength="18.50" lengthAdjust="spacingAndGlyphs">1.25</text>
<text x="179.17" y="340.27" font-size="8.98" textLength="18.58" lengthAdjust="spacingAndGlyphs">1.00</text>
<text x="179.38" y="360.93" font-size="8.98" textLength="18.46" lengthAdjust="spacingAndGlyphs">0.75</text>
<text x="179.21" y="381.60" font-size="8.98" textLength="18.53" lengthAdjust="spacingAndGlyphs">0.50</text>
<text x="348.86" y="257.60" font-size="8.98" textLength="18.63" lengthAdjust="spacingAndGlyphs">2.00</text>
<text x="349.09" y="278.26" font-size="8.86" textLength="18.50" lengthAdjust="spacingAndGlyphs">1.75</text>
<text x="348.92" y="298.93" font-size="8.98" textLength="18.58" lengthAdjust="spacingAndGlyphs">1.50</text>
<text x="349.09" y="319.60" font-size="8.86" textLength="18.50" lengthAdjust="spacingAndGlyphs">1.25</text>
<text x="348.92" y="340.27" font-size="8.98" textLength="18.58" lengthAdjust="spacingAndGlyphs">1.00</text>
<text x="349.13" y="360.93" font-size="8.98" textLength="18.46" lengthAdjust="spacingAndGlyphs">0.75</text>
<text x="348.96" y="381.60" font-size="8.98" textLength="18.53" lengthAdjust="spacingAndGlyphs">0.50</text>
<text x="567.71" y="257.60" font-size="8.98" textLength="18.63" lengthAdjust="spacingAndGlyphs">2.00</text>
<text x="567.94" y="278.26" font-size="8.86" textLength="18.50" lengthAdjust="spacingAndGlyphs">1.75</text>
<text x="567.77" y="298.93" font-size="8.98" textLength="18.58" lengthAdjust="spacingAndGlyphs">1.50</text>
<text x="567.94" y="319.60" font-size="8.86" textLength="18.50" lengthAdjust="spacingAndGlyphs">1.25</text>
<text x="567.77" y="340.27" font-size="8.98" textLength="18.58" lengthAdjust="spacingAndGlyphs">1.00</text>
<text x="567.98" y="360.93" font-size="8.98" textLength="18.46" lengthAdjust="spacingAndGlyphs">0.75</text>
<text x="567.81" y="381.60" font-size="8.98" textLength="18.53" lengthAdjust="spacingAndGlyphs">0.50</text>
<text x="31.05" y="412.05" font-size="8.86" textLength="11.93" lengthAdjust="spacingAndGlyphs">−5</text>
<text x="74.71" y="412.05" font-size="8.98" textLength="4.94" lengthAdjust="spacingAndGlyphs">0</text>
<text x="115.00" y="412.05" font-size="8.86" textLength="4.74" lengthAdjust="spacingAndGlyphs">5</text>
<text x="152.32" y="412.05" font-size="8.98" textLength="10.43" lengthAdjust="spacingAndGlyphs">10</text>
<text x="200.75" y="412.05" font-size="8.86" textLength="11.93" lengthAdjust="spacingAndGlyphs">−5</text>
<text x="244.45" y="412.05" font-size="8.98" textLength="4.94" lengthAdjust="spacingAndGlyphs">0</text>
<text x="284.76" y="412.05" font-size="8.86" textLength="4.74" lengthAdjust="spacingAndGlyphs">5</text>
<text x="322.12" y="412.05" font-size="8.98" textLength="10.43" lengthAdjust="spacingAndGlyphs">10</text>
<text x="370.50" y="412.05" font-size="8.86" textLength="11.93" lengthAdjust="spacingAndGlyphs">−5</text>
<text x="414.15" y="412.05" font-size="8.98" textLength="4.94" lengthAdjust="spacingAndGlyphs">0</text>
<text x="454.41" y="412.05" font-size="8.86" textLength="4.74" lengthAdjust="spacingAndGlyphs">5</text>
<text x="491.72" y="412.05" font-size="8.98" textLength="10.43" lengthAdjust="spacingAndGlyphs">10</text>
<text x="1.01" y="14.53" font-size="12.36" textLength="7.24" lengthAdjust="spacingAndGlyphs" font-weight="bold" style="fill:#000;stroke:#000;stroke-width:0.3px;">a</text>
<text x="170.59" y="14.65" font-size="11.92" textLength="8.80" lengthAdjust="spacingAndGlyphs" font-weight="bold" style="fill:#000;stroke:#000;stroke-width:0.3px;">b</text>
<text x="340.51" y="14.72" font-size="12.73" textLength="6.81" lengthAdjust="spacingAndGlyphs" font-weight="bold" style="fill:#000;stroke:#000;stroke-width:0.3px;">c</text>
<text x="581.22" y="14.65" font-size="11.92" textLength="8.80" lengthAdjust="spacingAndGlyphs" font-weight="bold" style="fill:#000;stroke:#000;stroke-width:0.3px;">d</text>
<text x="0.81" y="223.83" font-size="12.00" textLength="8.23" lengthAdjust="spacingAndGlyphs" font-weight="bold" style="fill:#000;stroke:#000;stroke-width:0.3px;">e</text>
<text x="170.79" y="223.75" font-size="13.01" textLength="5.16" lengthAdjust="spacingAndGlyphs" font-weight="bold" style="fill:#000;stroke:#000;stroke-width:0.3px;">f</text>
<text x="340.56" y="223.69" font-size="12.67" textLength="8.19" lengthAdjust="spacingAndGlyphs" font-weight="bold" style="fill:#000;stroke:#000;stroke-width:0.3px;">g</text>
<text x="580.89" y="223.85" font-size="12.60" textLength="8.78" lengthAdjust="spacingAndGlyphs" font-weight="bold" style="fill:#000;stroke:#000;stroke-width:0.3px;">h</text>
<text x="80.14" y="19.63" font-size="11.97" textLength="33.34" lengthAdjust="spacingAndGlyphs" style="stroke-width:0.15px;">MNLS</text>
<text x="224.48" y="19.63" font-size="11.97" textLength="84.50" lengthAdjust="spacingAndGlyphs" style="stroke-width:0.15px;">MNLS + FDML</text>
<text x="394.92" y="19.73" font-size="12.14" textLength="82.63" lengthAdjust="spacingAndGlyphs" style="stroke-width:0.15px;">Measurement</text>
<text x="161.57" y="38.84" font-size="10.99" textLength="19.43" lengthAdjust="spacingAndGlyphs" style="fill:#ff1a1a;stroke:#ff1a1a;">G11</text>
<text x="161.60" y="99.44" font-size="10.70" textLength="13.34" lengthAdjust="spacingAndGlyphs" style="fill:#ff1a1a;stroke:#ff1a1a;">G7</text>
<text x="161.59" y="157.84" font-size="10.70" textLength="13.56" lengthAdjust="spacingAndGlyphs" style="fill:#ff1a1a;stroke:#ff1a1a;">G3</text>
<text x="329.36" y="143.25" font-size="9.86" textLength="27.57" lengthAdjust="spacingAndGlyphs">Break</text>
<text x="332.24" y="153.61" font-size="9.73" textLength="20.43" lengthAdjust="spacingAndGlyphs">pos.</text>
<text x="8.04" y="134.48" font-size="10.33" textLength="53.53" lengthAdjust="spacingAndGlyphs" transform="rotate(-90 8.04 134.48)" style="stroke-width:0.12px;">Distance ξ</text>
<text x="566.97" y="134.47" font-size="10.78" textLength="52.82" lengthAdjust="spacingAndGlyphs" transform="rotate(-90 566.97 134.47)" style="stroke-width:0.12px;">Distance ξ</text>
<text x="161.57" y="248.09" font-size="10.99" textLength="19.43" lengthAdjust="spacingAndGlyphs" style="fill:#ff1a1a;stroke:#ff1a1a;">G11</text>
<text x="161.60" y="308.69" font-size="10.70" textLength="13.34" lengthAdjust="spacingAndGlyphs" style="fill:#ff1a1a;stroke:#ff1a1a;">G7</text>
<text x="161.59" y="367.09" font-size="10.70" textLength="13.56" lengthAdjust="spacingAndGlyphs" style="fill:#ff1a1a;stroke:#ff1a1a;">G3</text>
<text x="329.36" y="352.50" font-size="9.86" textLength="27.57" lengthAdjust="spacingAndGlyphs">Break</text>
<text x="332.24" y="362.86" font-size="9.73" textLength="20.43" lengthAdjust="spacingAndGlyphs">pos.</text>
<text x="8.04" y="343.73" font-size="10.33" textLength="53.53" lengthAdjust="spacingAndGlyphs" transform="rotate(-90 8.04 343.73)" style="stroke-width:0.12px;">Distance ξ</text>
<text x="566.97" y="343.72" font-size="10.78" textLength="52.82" lengthAdjust="spacingAndGlyphs" transform="rotate(-90 566.97 343.72)" style="stroke-width:0.12px;">Distance ξ</text>
<text x="80.27" y="210.60" font-size="10.30" textLength="33.43" lengthAdjust="spacingAndGlyphs" style="stroke-width:0.12px;">Time τ</text>
<text x="65.31" y="419.81" font-size="10.66" textLength="63.93" lengthAdjust="spacingAndGlyphs" style="stroke-width:0.12px;">Frequency Ω</text>
<text x="249.77" y="210.60" font-size="10.30" textLength="33.43" lengthAdjust="spacingAndGlyphs" style="stroke-width:0.12px;">Time τ</text>
<text x="234.81" y="419.81" font-size="10.66" textLength="63.93" lengthAdjust="spacingAndGlyphs" style="stroke-width:0.12px;">Frequency Ω</text>
<text x="419.77" y="210.60" font-size="10.30" textLength="33.43" lengthAdjust="spacingAndGlyphs" style="stroke-width:0.12px;">Time τ</text>
<text x="404.81" y="419.81" font-size="10.66" textLength="63.93" lengthAdjust="spacingAndGlyphs" style="stroke-width:0.12px;">Frequency Ω</text>
<text x="609.44" y="210.56" font-size="9.30" textLength="20.50" lengthAdjust="spacingAndGlyphs" style="stroke-width:0.12px;">MSE</text>
<text x="609.43" y="419.55" font-size="9.86" textLength="20.82" lengthAdjust="spacingAndGlyphs" style="stroke-width:0.12px;">MSE</text>
<text x="501.74" y="36.43" font-size="12.36" textLength="7.23" lengthAdjust="spacingAndGlyphs" font-style="italic">a</text>
<text x="516.45" y="53.15" font-size="8.71" textLength="17.59" lengthAdjust="spacingAndGlyphs">2.24</text>
<text x="516.54" y="175.26" font-size="8.59" textLength="17.59" lengthAdjust="spacingAndGlyphs">0.00</text>
<text x="516.47" y="273.06" font-size="8.59" textLength="17.66" lengthAdjust="spacingAndGlyphs">1.00</text>
<text x="516.54" y="384.46" font-size="8.59" textLength="17.59" lengthAdjust="spacingAndGlyphs">0.00</text>
<text x="625.53" y="5.46" font-size="9.15" textLength="23.28" lengthAdjust="spacingAndGlyphs">MNLS</text>
<text x="625.51" y="18.46" font-size="9.15" textLength="57.45" lengthAdjust="spacingAndGlyphs">MNLS + FDML</text>
</svg></div></body></html>
